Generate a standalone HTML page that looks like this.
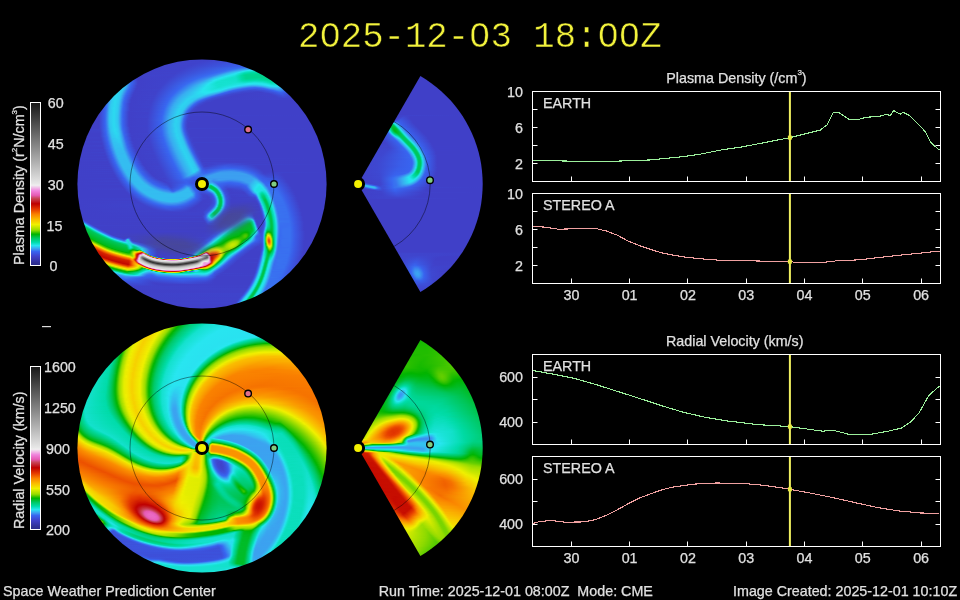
<!DOCTYPE html>
<html><head><meta charset="utf-8"><style>
html,body{margin:0;padding:0;background:#000;}
body{width:960px;height:600px;position:relative;overflow:hidden;font-family:"Liberation Sans",sans-serif;color:#e0e0e0;}
.ab{position:absolute;}
.im{position:absolute;overflow:hidden;}
.im i{display:block;height:1px;background:linear-gradient(90deg,var(--g));}
.im>b{display:block;filter:blur(0.5px);}
.cb{position:absolute;left:30px;width:9px;height:162px;border:1px solid #fff;}
#title{position:absolute;left:298px;top:19.0px;font-family:"Liberation Mono",monospace;font-size:35.65px;color:#f2f23c;white-space:pre;line-height:1;-webkit-text-stroke:0.45px #000;transform:scaleY(1.05);transform-origin:0 0;will-change:transform;}
#title i{position:absolute;background:#000;width:6px;height:5.4px;top:12.2px;}
svg text{font-family:"Liberation Sans",sans-serif;font-size:14.3px;fill:#e0e0e0;stroke:#e0e0e0;stroke-width:0.25px;}
</style></head><body>
<div class="im" style="left:76px;top:58px;width:252px;height:252px;clip-path:circle(124.6px at 126.0px 126.0px)"><b><i style="background:#4040c8"></i><i style="background:#4040c8"></i><i style="--g:#4040c8,#3f43cc 130px,#3e49d2 160px,#3e49d2 251px"></i><i style="--g:#4040c8,#3f43cb 126px,#3d4ed8 158px,#3d4ed8 251px"></i><i style="--g:#4040c8,#3f43cc 123px,#3c53dd 161px,#3c53dd 251px"></i><i style="--g:#4040c8,#3f42cb 119px,#3b58e2 164px,#3b58e2 251px"></i><i style="--g:#4040c8,#3f43cb 117px,#3a5be7 166px,#3a5be7 251px"></i><i style="--g:#4040c8,#3f42cb 114px,#3960eb 168px,#3960eb 251px"></i><i style="--g:#4040c8,#3f43cb 112px,#3863ef 169px,#3863ef 251px"></i><i style="--g:#4040c8,#3f43cb 110px,#3869f0 165px,#396ff0 176px,#396ff0 251px"></i><i style="--g:#4040c8,#3f43cb 108px,#386bf0 160px,#3a7cf0 165px,#3b95f0 173px,#3b95f0 251px"></i><i style="--g:#4040c8,#3f43cb 106px,#386af0 154px,#3976f0 158px,#3aa7f0 169px,#33bef0 175px,#33bef0 251px"></i><i style="--g:#4040c8,#3f42cb 104px,#3869f0 149px,#397af0 154px,#38aef0 164px,#33c0f0 167px,#29e4f0 172px,#22e4e5 178px,#22e4e5 251px"></i><i style="--g:#4040c8,#4042ca 102px,#3869f0 145px,#3978f0 150px,#39abf0 158px,#31c6f0 163px,#26e5ec 167px,#16e1d0 171px,#0cdfbf 178px,#0cdfbf 251px"></i><i style="--g:#4040c8,#3f43cb 101px,#3868f0 141px,#3a7cf0 147px,#36b4f0 155px,#2bdcf0 162px,#28e5f0 163px,#0adebb 169px,#00dba7 176px,#00dba5 251px"></i><i style="--g:#4040c8,#4042ca 99px,#3868f0 137px,#3a7ef0 144px,#37b3f0 151px,#29e4f0 160px,#00dcaa 168px,#00d798 175px,#00d696 251px"></i><i style="--g:#4040c8,#3f43cb 98px,#386af0 134px,#3a80f0 141px,#38aff0 147px,#2ae1f0 156px,#24e5e9 159px,#00daa4 167px,#00d593 170px,#00d48e 183px,#00d48e 251px"></i><i style="--g:#4040c8,#3f43cc 97px,#3869f0 130px,#3a81f0 138px,#37b0f0 144px,#28e5f0 153px,#1ce3db 159px,#00dba7 165px,#00d48e 169px,#00d48e 251px"></i><i style="--g:#4040c8,#4042ca 95px,#386af0 127px,#3a81f0 135px,#37b1f0 141px,#27e6ef 150px,#16e1d0 159px,#00dba5 165px,#00d48e 170px,#00d48e 251px"></i><i style="--g:#4040c8,#3f42cb 94px,#386af0 124px,#3a88f0 133px,#37b1f0 138px,#29e3f0 146px,#14e1cd 156px,#14e1cd 159px,#00dba6 165px,#00d48e 170px,#00d48e 251px"></i><i style="--g:#3f46ce,#3f46ce 60px,#4040c8 62px,#3f43cb 93px,#3869f0 121px,#3b8ef0 131px,#31c5f0 138px,#26e6ed 144px,#14e1cd 153px,#12e0c9 160px,#00daa2 166px,#00d48e 170px,#00d798 183px,#00d48e 196px,#00d48e 251px"></i><i style="--g:#3c53dd,#3c53dd 58px,#4040c8 62px,#3f43cb 92px,#386af0 119px,#3b93f0 129px,#29e4f0 140px,#14e1cd 150px,#12e1ca 160px,#00daa4 166px,#00d798 170px,#00daa2 182px,#00d593 192px,#00d490 251px"></i><i style="--g:#3a59e4,#3a59e4 57px,#4040c8 62px,#3f43cc 91px,#3866f0 116px,#3b97f0 127px,#28e5f0 138px,#14e1cd 146px,#13e1cc 160px,#00dca9 167px,#00dba6 171px,#04ddb2 181px,#00d89d 192px,#00d695 196px,#00d695 251px"></i><i style="--g:#3869f0,#3869f0 55px,#4040c8 62px,#3f43cc 90px,#3866f0 114px,#3c99f0 125px,#26e5ec 137px,#16e2d1 142px,#14e1cd 160px,#08deb7 167px,#08deb8 171px,#10e0c6 179px,#0bdfbc 187px,#00d9a0 195px,#00d9a0 251px"></i><i style="--g:#3a7bf0,#3a7bf0 54px,#3869f0 55px,#4040c8 62px,#3f43cc 89px,#386af0 113px,#3c9bf0 123px,#27e6ef 135px,#14e1cd 141px,#16e2d1 159px,#12e0c9 169px,#1ee3de 178px,#19e2d5 186px,#01dcab 195px,#00dca8 251px"></i><i style="--g:#3aa7f0,#3aa7f0 52px,#3978f0 54px,#3867f0 55px,#4040c8 62px,#3f43cc 88px,#3869f0 111px,#3ca1f0 122px,#29e4f0 133px,#15e1cf 140px,#16e2d1 155px,#1be3da 161px,#1de3dd 168px,#26e6ed 173px,#24e5e8 186px,#1de3dc 190px,#0bdfbd 195px,#09deb9 201px,#09deb9 251px"></i><i style="--g:#37b2f0,#37b2f0 51px,#3a84f0 53px,#3864ef 55px,#4040c8 62px,#3f43cc 87px,#3867f0 109px,#38aef0 122px,#28e6ef 132px,#1ae3d8 137px,#14e1cd 143px,#17e2d2 152px,#29e2f0 170px,#2dd5f0 179px,#26e6ed 189px,#22e4e5 192px,#14e1cc 196px,#14e1cd 251px"></i><i style="--g:#34bbf0,#34bbf0 50px,#3a7df0 53px,#3962ed 55px,#4040c8 61px,#3f43cb 86px,#386af0 108px,#39acf0 120px,#27e6ee 131px,#15e1ce 141px,#17e2d2 149px,#29e4f0 163px,#35b7f0 176px,#34bcf0 182px,#28e6f0 192px,#1fe4e0 198px,#21e4e4 232px,#21e4e4 251px"></i><i style="--g:#30caf0,#30caf0 48px,#32c3f0 49px,#3c9ef0 51px,#3976f0 53px,#3866f0 54px,#4040c8 61px,#3f43cb 85px,#3867f0 106px,#39a9f0 118px,#26e6ed 130px,#14e1cd 143px,#28e5f0 158px,#3b97f0 174px,#3b91f0 179px,#39a9f0 186px,#2cd9f0 194px,#2adff0 200px,#2dd3f0 204px,#2dd3f0 251px"></i><i style="--g:#30ccf0,#31c8f0 48px,#3aa8f0 50px,#3970f0 53px,#3a5de8 55px,#4040c8 61px,#3f42cb 84px,#3868f0 105px,#38adf0 117px,#27e6ee 129px,#16e1d0 142px,#28e4f0 154px,#3b92f0 167px,#3975f0 173px,#386bf0 179px,#3a7bf0 185px,#3aa8f0 191px,#34bcf0 194px,#30caf0 200px,#35b8f0 205px,#35b8f0 251px"></i><i style="--g:#2fcdf0,#30c9f0 47px,#32c2f0 48px,#3c9cf0 50px,#3868f0 53px,#4040c8 60px,#4042ca 83px,#3864f0 103px,#38aef0 116px,#28e6ef 128px,#19e2d6 139px,#20e4e2 146px,#28e6ef 150px,#3b94f0 161px,#396ef0 167px,#3961ed 171px,#3a5de8 182px,#3869f0 188px,#3a81f0 191px,#3c9af0 194px,#37b3f0 201px,#3ba5f0 206px,#3ba5f0 251px"></i><i style="--g:#2fcff0,#30cbf0 46px,#31c7f0 47px,#3aa6f0 49px,#3970f0 52px,#3863ef 53px,#4040c8 60px,#3f44cc 83px,#3865f0 102px,#39acf0 114px,#28e5f0 127px,#1de3dc 137px,#23e5e8 145px,#28e4f0 147px,#3c99f0 156px,#396df0 161px,#395ee9 166px,#3c50da 179px,#3862ee 191px,#3a81f0 196px,#3c9ef0 201px,#3b91f0 208px,#3b91f0 251px"></i><i style="--g:#2ed1f0,#2fcdf0 45px,#32c2f0 47px,#3a88f0 50px,#3869f0 52px,#4041c9 59px,#3f43cb 82px,#3866f0 101px,#38aef0 113px,#27e6ee 127px,#21e4e3 136px,#29e2f0 144px,#3aa6f0 151px,#3866f0 157px,#3e49d2 174px,#3d4ed8 187px,#3864f0 197px,#3a84f0 201px,#3b8bf0 203px,#3a7bf0 208px,#3a7bf0 251px"></i><i style="--g:#2dd3f0,#2ecff0 44px,#31c7f0 46px,#3aa6f0 48px,#3971f0 51px,#3863ef 52px,#4040c8 59px,#3f42cb 81px,#3866f0 100px,#38acf0 111px,#2fcff0 120px,#28e5f0 126px,#25e5ea 136px,#29e1f0 140px,#33c1f0 145px,#3b8cf0 150px,#3864f0 153px,#3e49d2 167px,#3f43cb 182px,#3c52dc 193px,#3864f0 200px,#3978f0 204px,#3865f0 209px,#3865f0 251px"></i><i style="--g:#2bdaf0,#2dd6f0 42px,#32c3f0 46px,#3c9bf0 48px,#3869f0 51px,#4041c9 58px,#4042ca 80px,#3866f0 99px,#38aef0 110px,#2cd7f0 121px,#29e4f0 127px,#29e3f0 135px,#34bbf0 142px,#3b94f0 146px,#3869f0 149px,#3b57e1 154px,#3f45cd 165px,#4040c8 185px,#3c54de 198px,#3864ef 204px,#3a59e4 213px,#3a59e4 251px"></i><i style="--g:#2cd8f0,#2dd5f0 42px,#30c9f0 45px,#3aa8f0 47px,#3a81f0 49px,#3863ef 51px,#4040c8 58px,#3f43cb 80px,#3866f0 98px,#38aff0 109px,#2bdbf0 122px,#29e1f0 131px,#36b4f0 139px,#3b8ff0 143px,#3864f0 146px,#3e48d0 157px,#4040c8 170px,#3f43cc 193px,#395ee9 205px,#3b54df 210px,#3c50da 216px,#3c50da 251px"></i><i style="--g:#2dd5f0,#2cd8f0 41px,#31c7f0 45px,#3ca0f0 47px,#386af0 50px,#4041c9 57px,#4042ca 79px,#3866f0 97px,#39acf0 107px,#2cd7f0 120px,#2cd9f0 129px,#3c9df0 138px,#3862ee 143px,#3e47d0 153px,#4040c8 163px,#4042ca 195px,#3b58e3 206px,#3e48d1 213px,#3e48d1 251px"></i><i style="--g:#2ed1f0,#2dd5f0 39px,#2cd7f0 41px,#30cbf0 44px,#32c1f0 45px,#3a83f0 48px,#3863ef 50px,#4040c8 57px,#3f44cc 79px,#3865f0 96px,#39acf0 106px,#2dd4f0 118px,#2cd6f0 126px,#3b97f0 135px,#3960ec 140px,#3f46cf 150px,#4040c8 160px,#3f43cc 198px,#3c52dc 207px,#3f45cd 215px,#3f45cd 251px"></i><i style="--g:#2fcef0,#2ed2f0 38px,#2bdaf0 40px,#30caf0 44px,#3aa8f0 46px,#3a7df0 48px,#3961ed 50px,#4040c8 57px,#3f42cb 78px,#3864f0 95px,#38adf0 105px,#2dd4f0 116px,#2ed2f0 124px,#3b92f0 132px,#3864f0 136px,#3e4bd4 143px,#4040c8 154px,#4042ca 199px,#3d4ed7 207px,#4041c9 216px,#4041c9 251px"></i><i style="--g:#30c9f0,#30c9f0 36px,#2cd9f0 40px,#31c8f0 44px,#3ba2f0 46px,#3a89f0 47px,#3866f0 49px,#4040c8 56px,#3f44cc 78px,#3864ef 94px,#38adf0 104px,#2dd4f0 115px,#2fcdf0 122px,#3b91f0 129px,#3863ee 133px,#3e4bd4 139px,#4040c8 150px,#3f43cb 201px,#3e49d2 208px,#4040c8 217px,#4040c8 251px"></i><i style="--g:#34bcf0,#34bcf0 35px,#30ccf0 36px,#2cd9f0 40px,#32c5f0 44px,#3c9cf0 46px,#3972f0 48px,#3863ef 49px,#4040c8 56px,#3f42cb 77px,#3868f0 94px,#38adf0 103px,#2dd4f0 113px,#30c9f0 120px,#3b92f0 126px,#3863ef 130px,#3e4ad3 136px,#4040c8 146px,#3f43cb 203px,#3f43cc 211px,#4040c8 251px"></i><i style="--g:#38acf0,#38acf0 34px,#2fccf0 36px,#2cd8f0 40px,#30ccf0 43px,#32c1f0 44px,#3a7ff0 47px,#3962ed 49px,#4040c8 55px,#3f44cc 77px,#3865f0 93px,#38acf0 102px,#2dd4f0 112px,#32c4f0 119px,#3b96f0 123px,#3867f0 127px,#3e4ad3 133px,#4040c8 142px,#3f43cc 206px,#4040c8 251px"></i><i style="--g:#38b0f0,#38b0f0 34px,#2fcdf0 36px,#2cd9f0 39px,#30cbf0 43px,#39aaf0 45px,#386af0 48px,#4040c8 55px,#4042ca 76px,#3864f0 92px,#39acf0 101px,#2dd4f0 111px,#30c9f0 117px,#3b94f0 121px,#3863ef 125px,#3e48d1 131px,#4040c8 138px,#4040c8 251px"></i><i style="--g:#3c9cf0,#3c9cf0 33px,#32c5f0 35px,#2bdaf0 39px,#30caf0 43px,#3aa6f0 45px,#3978f0 47px,#3867f0 48px,#4040c8 55px,#3f43cb 76px,#3868f0 92px,#38aff0 101px,#2dd4f0 110px,#31c6f0 116px,#3b8bf0 120px,#3862ee 123px,#3f45ce 130px,#4040c8 138px,#4040c8 251px"></i><i style="--g:#3a84f0,#3a84f0 32px,#3ca0f0 33px,#31c7f0 35px,#2bdaf0 39px,#30c9f0 43px,#3ba2f0 45px,#3a87f0 46px,#3864f0 48px,#4040c8 55px,#4042ca 75px,#3864f0 91px,#3aa8f0 99px,#2dd4f0 109px,#30caf0 114px,#37b2f0 116px,#3974f0 120px,#3863ef 121px,#3e47d0 127px,#4040c8 132px,#4040c8 251px"></i><i style="--g:#3973f0,#3973f0 31px,#3ba3f0 33px,#30c9f0 35px,#2cd9f0 39px,#31c7f0 43px,#3c9ff0 45px,#3a85f0 46px,#3863ef 48px,#4040c8 54px,#3f43cb 75px,#3869f0 91px,#38adf0 99px,#2dd4f0 108px,#30caf0 113px,#3c9ef0 116px,#386bf0 119px,#3d4ed8 123px,#4040c8 129px,#4040c8 251px"></i><i style="--g:#3864f0,#3864f0 30px,#3b8cf0 32px,#34bbf0 34px,#30cbf0 35px,#2cd9f0 39px,#32c4f0 43px,#3c9bf0 45px,#3970f0 47px,#3862ee 48px,#4040c8 54px,#3f43cc 75px,#3864f0 90px,#39abf0 98px,#2dd4f0 107px,#30c9f0 112px,#3b8bf0 116px,#3865f0 118px,#3e48d1 123px,#4040c8 128px,#4040c8 251px"></i><i style="--g:#395fea,#395fea 29px,#3866f0 30px,#3b8ff0 32px,#34bdf0 34px,#2fccf0 35px,#2cd8f0 39px,#2fccf0 42px,#32c2f0 43px,#3b98f0 45px,#396ef0 47px,#3a5ce7 49px,#4040c8 54px,#4042ca 74px,#3869f0 90px,#38aef0 98px,#2dd4f0 106px,#30c9f0 111px,#3a88f0 115px,#3863ee 117px,#3f46cf 122px,#4040c8 126px,#4040c8 251px"></i><i style="--g:#3a5ae4,#3a5ae4 28px,#3868f0 30px,#3b92f0 32px,#33bff0 34px,#2fccf0 35px,#2cd8f0 39px,#30cbf0 42px,#33c0f0 43px,#3a7ef0 46px,#3961ed 48px,#4040c8 54px,#3f43cb 74px,#3864f0 89px,#39acf0 97px,#2dd4f0 105px,#30caf0 110px,#3a87f0 114px,#3962ed 116px,#3e48d1 120px,#4040c8 124px,#4040c8 251px"></i><i style="--g:#3a5ae5,#3a5ae5 28px,#3869f0 30px,#3a7bf0 31px,#38aef0 33px,#2fcdf0 35px,#2cd9f0 38px,#30cbf0 42px,#39aaf0 44px,#386af0 47px,#4040c8 54px,#3f43cc 74px,#3867f0 89px,#3aa8f0 96px,#2dd3f0 105px,#30caf0 109px,#39acf0 111px,#3961ed 115px,#3e47d0 119px,#4040c8 122px,#4040c8 251px"></i><i style="--g:#3b55df,#3b55df 27px,#386bf0 30px,#3a7df0 31px,#38b0f0 33px,#2fcdf0 35px,#2cdaf0 38px,#30caf0 42px,#3aa8f0 44px,#397af0 46px,#3868f0 47px,#4040c8 54px,#4041ca 73px,#3863ef 88px,#39acf0 96px,#2dd4f0 104px,#30caf0 108px,#32c2f0 109px,#3a88f0 112px,#3961ec 114px,#3f47cf 118px,#4040c8 122px,#4040c8 251px"></i><i style="--g:#3d50d9,#3d50d9 26px,#3961ed 29px,#3a7ef0 31px,#37b1f0 33px,#32c4f0 34px,#2dd6f0 37px,#2cd7f0 39px,#30caf0 42px,#3aa6f0 44px,#3978f0 46px,#3867f0 47px,#4040c8 54px,#4042ca 73px,#3865f0 88px,#38aef0 96px,#2dd3f0 103px,#31c8f0 108px,#3c9ff0 110px,#3961ed 113px,#3f46cf 117px,#4040c8 121px,#4040c8 251px"></i><i style="--g:#3e4ad3,#3e4ad3 25px,#3961ed 29px,#3a80f0 31px,#37b3f0 33px,#31c5f0 34px,#2bdaf0 38px,#30caf0 42px,#3ba3f0 44px,#3a89f0 45px,#3865f0 47px,#4040c8 54px,#3f43cb 73px,#3868f0 88px,#39aaf0 95px,#2dd4f0 103px,#30caf0 107px,#3b90f0 110px,#3863ef 112px,#3f46cf 116px,#4040c8 120px,#4040c8 251px"></i><i style="--g:#3e4ad4,#3e4ad4 25px,#3862ee 29px,#3a82f0 31px,#36b5f0 33px,#31c6f0 34px,#2bdaf0 38px,#30c9f0 42px,#3ca1f0 44px,#3a87f0 45px,#3864f0 47px,#4041c9 53px,#3f44cc 73px,#3863ef 87px,#38adf0 95px,#2dd3f0 102px,#30cbf0 106px,#32c3f0 107px,#3b97f0 109px,#3867f0 111px,#3f47cf 115px,#4040c8 119px,#4040c8 251px"></i><i style="--g:#3f45ce,#3f45ce 24px,#3862ee 29px,#3a84f0 31px,#3ca0f0 32px,#31c7f0 34px,#2cdaf0 38px,#31c8f0 42px,#3ca0f0 44px,#3a86f0 45px,#3863ef 47px,#4040c8 53px,#4041ca 72px,#3864f0 87px,#38aff0 95px,#2dd4f0 102px,#30c9f0 106px,#3ca1f0 108px,#395fea 111px,#3e47d0 114px,#4040c8 117px,#4040c8 251px"></i><i style="--g:#4040c8,#4040c8 23px,#3863ee 29px,#3a86f0 31px,#35b7f0 33px,#31c8f0 34px,#2cd9f0 38px,#31c7f0 42px,#3c9ef0 44px,#3973f0 46px,#3863ef 47px,#4040c8 53px,#4042ca 72px,#3866f0 87px,#39aaf0 94px,#2dd3f0 102px,#32c4f0 106px,#3b95f0 108px,#3863ef 110px,#3f43cc 114px,#4040c8 132px,#4040c8 251px"></i><i style="--g:#4040c8,#4040c8 23px,#3863ef 29px,#3a88f0 31px,#35b8f0 33px,#30c9f0 34px,#2cd9f0 38px,#31c6f0 42px,#3c9df0 44px,#3972f0 46px,#3863ef 47px,#4040c8 53px,#3f42cb 72px,#3868f0 87px,#38acf0 94px,#2dd4f0 101px,#30caf0 105px,#3ba3f0 107px,#3971f0 109px,#395eea 110px,#3f46ce 113px,#4040c8 116px,#4040c8 251px"></i><i style="--g:#4040c8,#4040c8 23px,#3863ef 29px,#3a89f0 31px,#35b9f0 33px,#30c9f0 34px,#2cd9f0 38px,#31c5f0 42px,#3c9bf0 44px,#3971f0 46px,#3863ee 47px,#4040c8 53px,#3f43cb 72px,#3863ef 86px,#38aef0 94px,#2dd4f0 101px,#30c9f0 105px,#3c9af0 107px,#3865f0 109px,#3f42cb 113px,#4040c8 251px"></i><i style="--g:#4040c8,#4040c8 23px,#3863ef 29px,#3a89f0 31px,#35b9f0 33px,#30caf0 34px,#2cd9f0 38px,#32c5f0 42px,#3c9bf0 44px,#3971f0 46px,#3862ee 47px,#4040c8 53px,#3f43cc 72px,#3864f0 86px,#3aa8f0 93px,#2dd3f0 101px,#30cbf0 104px,#32c2f0 105px,#3b92f0 107px,#3961ec 109px,#3f46cf 112px,#4040c8 114px,#4040c8 251px"></i><i style="--g:#4040c8,#4040c8 23px,#3863ef 29px,#3b8af0 31px,#35baf0 33px,#30caf0 34px,#2cd9f0 38px,#32c4f0 42px,#3c9af0 44px,#3970f0 46px,#3862ee 47px,#4040c8 53px,#3f44cc 72px,#3865f0 86px,#39aaf0 93px,#2ed3f0 100px,#30caf0 104px,#34bcf0 105px,#3b8bf0 107px,#396ff0 108px,#3c53dd 110px,#4040c8 113px,#4040c8 251px"></i><i style="--g:#4040c8,#4040c8 23px,#3863ef 29px,#3b8af0 31px,#35baf0 33px,#30caf0 34px,#2cd9f0 38px,#32c4f0 42px,#3c9af0 44px,#3970f0 46px,#3a5ce7 48px,#4040c8 53px,#4041c9 71px,#3866f0 86px,#39acf0 93px,#2dd4f0 100px,#30c9f0 104px,#3c9df0 106px,#3866f0 108px,#3e48d1 111px,#4040c8 114px,#4040c8 251px"></i><i style="--g:#4040c8,#4040c8 23px,#3863ef 29px,#3b8af0 31px,#35baf0 33px,#30caf0 34px,#2cd9f0 38px,#32c4f0 42px,#3c9af0 44px,#3970f0 46px,#3a5ce7 48px,#4040c8 53px,#4042ca 71px,#3867f0 86px,#38adf0 93px,#2dd4f0 100px,#30c9f0 104px,#3b97f0 106px,#3862ee 108px,#3f46cf 111px,#4040c8 113px,#4040c8 251px"></i><i style="--g:#4040c8,#4040c8 23px,#3863ef 29px,#3b8af0 31px,#35baf0 33px,#30caf0 34px,#2cd9f0 38px,#32c4f0 42px,#3c9af0 44px,#3970f0 46px,#3862ee 47px,#4040c8 53px,#4042ca 71px,#3869f0 86px,#38adf0 93px,#2dd4f0 100px,#32c4f0 104px,#3b92f0 106px,#3960eb 108px,#3f45ce 111px,#4040c8 114px,#4040c8 251px"></i><i style="--g:#4040c8,#4040c8 23px,#3863ef 29px,#3a89f0 31px,#35b9f0 33px,#30caf0 34px,#2cd9f0 38px,#32c5f0 42px,#3c9bf0 44px,#3970f0 46px,#3862ee 47px,#4040c8 53px,#4042ca 71px,#3863ef 85px,#38aef0 93px,#2dd3f0 100px,#30cbf0 103px,#33c1f0 104px,#3b8ef0 106px,#395ee9 108px,#3f43cc 111px,#4040c8 125px,#4040c8 251px"></i><i style="--g:#4040c8,#4040c8 23px,#3863ef 29px,#3a88f0 31px,#35b9f0 33px,#30c9f0 34px,#2cd9f0 38px,#31c5f0 42px,#3c9cf0 44px,#3971f0 46px,#3862ee 47px,#4040c8 53px,#4042ca 71px,#3863ef 85px,#38aef0 93px,#2dd3f0 100px,#30caf0 103px,#33bef0 104px,#3b8bf0 106px,#396ff0 107px,#3c52dc 109px,#4040c8 112px,#4040c8 251px"></i><i style="--g:#4040c8,#4040c8 23px,#3863ef 29px,#3a87f0 31px,#35b8f0 33px,#30c8f0 34px,#2cdaf0 38px,#31c6f0 42px,#3c9ef0 44px,#3a83f0 45px,#3863ee 47px,#4040c8 53px,#4042ca 71px,#3863ef 85px,#38aff0 93px,#2ed2f0 99px,#30caf0 103px,#34bbf0 104px,#3ba2f0 105px,#396cf0 107px,#3c51da 109px,#4040c8 112px,#4040c8 251px"></i><i style="--g:#4040c8,#4040c8 23px,#3863ef 29px,#3a85f0 31px,#3ca0f0 32px,#31c7f0 34px,#2bdaf0 38px,#31c7f0 42px,#3ca0f0 44px,#3a84f0 45px,#3863ef 47px,#4040c8 53px,#4042ca 71px,#3863ef 85px,#3aa7f0 92px,#2ed2f0 99px,#30caf0 103px,#34baf0 104px,#3ca1f0 105px,#386af0 107px,#3e48d1 110px,#4040c8 112px,#4040c8 251px"></i><i style="--g:#4040c8,#4040c8 23px,#3862ee 29px,#3a83f0 31px,#36b5f0 33px,#31c6f0 34px,#2bdaf0 38px,#30c9f0 42px,#3ba2f0 44px,#3973f0 46px,#3863ef 47px,#4040c8 53px,#3f42cb 71px,#3863ef 85px,#3aa8f0 92px,#2ed2f0 99px,#30caf0 103px,#35baf0 104px,#3ca1f0 105px,#3869f0 107px,#3e48d1 110px,#4040c8 112px,#4040c8 251px"></i><i style="--g:#4040c8,#4040c8 23px,#3862ee 29px,#3a82f0 31px,#37b3f0 33px,#31c5f0 34px,#2cd9f0 38px,#30caf0 42px,#3ba5f0 44px,#3975f0 46px,#3864f0 47px,#4041c9 53px,#3f42cb 71px,#3863ef 85px,#3aa7f0 92px,#2ed2f0 99px,#30caf0 103px,#34bbf0 104px,#3ca1f0 105px,#386af0 107px,#3e48d1 110px,#4040c8 112px,#4040c8 251px"></i><i style="--g:#4040c8,#4040c8 23px,#3962ed 29px,#3a80f0 31px,#37b1f0 33px,#32c3f0 34px,#2cd9f0 38px,#2fccf0 42px,#3aa8f0 44px,#3977f0 46px,#3865f0 47px,#4040c8 54px,#4042ca 71px,#3863ef 85px,#38aff0 93px,#2dd3f0 100px,#30caf0 103px,#34bcf0 104px,#3ba2f0 105px,#396cf0 107px,#3c51db 109px,#4040c8 112px,#4040c8 251px"></i><i style="--g:#4040c8,#4040c8 23px,#3961ed 29px,#3a7ef0 31px,#33c1f0 34px,#2ed0f0 36px,#2cd9f0 39px,#2fcdf0 42px,#39acf0 44px,#3979f0 46px,#3867f0 47px,#4040c8 54px,#4042ca 71px,#3863ef 85px,#38aef0 93px,#2dd3f0 100px,#30cbf0 103px,#33bff0 104px,#3b8cf0 106px,#3970f0 107px,#3a5de8 108px,#3f43cb 111px,#4040c8 251px"></i><i style="--g:#4040c8,#3f43cc 24px,#386bf0 30px,#39aaf0 33px,#30cbf0 35px,#2cdaf0 39px,#2fcef0 42px,#38aff0 44px,#3a7cf0 46px,#3869f0 47px,#4040c8 54px,#4042ca 71px,#3863ef 85px,#38aef0 93px,#2dd4f0 100px,#30cbf0 103px,#32c2f0 104px,#3b90f0 106px,#395fea 108px,#3f44cd 111px,#4040c8 115px,#4040c8 251px"></i><i style="--g:#4040c8,#3f43cb 24px,#3869f0 30px,#3b8df0 32px,#34bcf0 34px,#30caf0 35px,#2bdaf0 39px,#2fcff0 42px,#36b4f0 44px,#3a82f0 46px,#396cf0 47px,#3b55e0 50px,#4040c8 54px,#4042ca 71px,#3868f0 86px,#38adf0 93px,#2dd4f0 100px,#31c7f0 104px,#3b95f0 106px,#3961ed 108px,#3f46cf 111px,#4040c8 113px,#4040c8 251px"></i><i style="--g:#4040c8,#4042ca 24px,#3867f0 30px,#3b8af0 32px,#35b9f0 34px,#30c9f0 35px,#2cd9f0 39px,#31c8f0 43px,#3ba2f0 45px,#396ff0 47px,#3a5ce7 49px,#4040c8 54px,#4042ca 71px,#3867f0 86px,#39acf0 93px,#2dd4f0 100px,#30c9f0 104px,#3c9bf0 106px,#3864f0 108px,#3e48d0 111px,#4040c8 113px,#4040c8 251px"></i><i style="--g:#4040c8,#4041c9 24px,#3864f0 30px,#3c9ef0 33px,#31c7f0 35px,#2cd9f0 40px,#30caf0 43px,#3aa6f0 45px,#3972f0 47px,#3863ef 48px,#4040c8 54px,#4041c9 71px,#3865f0 86px,#39abf0 93px,#2dd3f0 100px,#30caf0 104px,#35baf0 105px,#3a89f0 107px,#396df0 108px,#3c52dc 110px,#4040c8 113px,#4040c8 251px"></i><i style="--g:#4040c8,#4040c8 24px,#3863ef 30px,#3c99f0 33px,#32c4f0 35px,#2cd9f0 40px,#30ccf0 43px,#39aaf0 45px,#3864f0 48px,#4040c8 55px,#3f44cc 72px,#3864f0 86px,#3aa9f0 93px,#2dd3f0 101px,#30cbf0 104px,#33c1f0 105px,#3b90f0 107px,#3960eb 109px,#3f46ce 112px,#4040c8 114px,#4040c8 251px"></i><i style="--g:#4040c8,#4040c8 24px,#3862ee 30px,#3b94f0 33px,#33c0f0 35px,#2ed0f0 38px,#2dd5f0 41px,#2fcdf0 43px,#38aef0 45px,#3868f0 48px,#4040c8 55px,#3f43cb 72px,#3863ef 86px,#38aef0 94px,#2dd4f0 101px,#30c8f0 105px,#3b98f0 107px,#3863ef 109px,#3e47d0 112px,#4040c8 115px,#4040c8 251px"></i><i style="--g:#4040c8,#4040c8 24px,#3961ed 30px,#3b90f0 33px,#34bcf0 35px,#31c7f0 36px,#2dd4f0 41px,#2fcdf0 43px,#37b1f0 45px,#3a85f0 47px,#386bf0 48px,#3f44cd 54px,#4040c8 58px,#3f43cb 72px,#3863ef 86px,#38adf0 94px,#2dd4f0 101px,#30caf0 105px,#3ca0f0 107px,#396cf0 109px,#3c52dc 111px,#4040c8 114px,#4040c8 251px"></i><i style="--g:#4040c8,#4040c8 24px,#3869f0 31px,#3ca1f0 34px,#31c6f0 36px,#2dd4f0 41px,#32c4f0 44px,#3b8bf0 47px,#3972f0 48px,#3862ee 49px,#4040c8 55px,#4042ca 72px,#3867f0 87px,#39abf0 94px,#2ed2f0 101px,#30cbf0 105px,#33c0f0 106px,#3b91f0 108px,#3960ec 110px,#3f46cf 113px,#4040c8 115px,#4040c8 251px"></i><i style="--g:#4040c8,#4042ca 25px,#3866f0 31px,#3c9bf0 34px,#32c4f0 36px,#2ed2f0 41px,#31c7f0 44px,#3b91f0 47px,#3863ef 49px,#4040c8 56px,#4042ca 72px,#3864f0 87px,#3aa8f0 94px,#2dd4f0 102px,#30c9f0 106px,#3c9af0 108px,#3864f0 110px,#4042ca 114px,#4040c8 251px"></i><i style="--g:#4040c8,#4041c9 25px,#3863ef 31px,#38acf0 35px,#33bff0 36px,#2ed0f0 42px,#30c9f0 44px,#3b96f0 47px,#3866f0 49px,#4040c8 56px,#3f44cc 73px,#3863ef 87px,#38adf0 95px,#2dd4f0 102px,#30caf0 106px,#3ba3f0 108px,#3970f0 110px,#395ee9 111px,#3f45cd 114px,#4040c8 117px,#4040c8 251px"></i><i style="--g:#4040c8,#4040c8 25px,#3862ee 31px,#3aa6f0 35px,#34baf0 36px,#31c7f0 38px,#2fccf0 43px,#30c9f0 44px,#38adf0 46px,#396df0 49px,#3a5be6 51px,#4040c8 56px,#3f43cb 73px,#3868f0 88px,#39abf0 95px,#2dd3f0 103px,#32c3f0 107px,#3b94f0 109px,#3862ee 111px,#3e47d0 114px,#4040c8 117px,#4040c8 251px"></i><i style="--g:#4040c8,#4040c8 25px,#3961ed 31px,#3a7df0 33px,#3ca0f0 35px,#32c3f0 37px,#30ccf0 43px,#33c0f0 45px,#3b8af0 48px,#3862ee 50px,#4040c8 56px,#3f42cb 73px,#3865f0 88px,#3aa8f0 95px,#2dd4f0 103px,#30c9f0 107px,#3c9ef0 109px,#386af0 111px,#3e49d2 114px,#4040c8 117px,#4040c8 251px"></i><i style="--g:#4040c8,#3f43cb 26px,#3868f0 32px,#38b0f0 36px,#32c1f0 37px,#30cbf0 43px,#32c3f0 45px,#3b8ff0 48px,#3864f0 50px,#4040c8 57px,#4042ca 73px,#3864f0 88px,#38adf0 96px,#2dd3f0 103px,#30caf0 107px,#33bff0 108px,#3b90f0 110px,#3960ec 112px,#3f46cf 115px,#4040c8 117px,#4040c8 251px"></i><i style="--g:#4040c8,#4042ca 26px,#3864f0 32px,#39aaf0 36px,#34bdf0 37px,#30caf0 43px,#31c6f0 45px,#3b94f0 48px,#386af0 50px,#3e49d3 55px,#4040c8 58px,#3f44cc 74px,#3868f0 89px,#39aaf0 96px,#2dd4f0 104px,#30c8f0 108px,#3c99f0 110px,#3865f0 112px,#3f42cb 116px,#4040c8 251px"></i><i style="--g:#4040c8,#4040c8 26px,#3862ee 32px,#3ba4f0 36px,#35b7f0 37px,#33c1f0 38px,#31c5f0 45px,#39aaf0 47px,#3962ed 51px,#4040c8 57px,#3f43cb 74px,#3865f0 89px,#38aef0 97px,#2dd4f0 104px,#30caf0 108px,#3ba3f0 110px,#3971f0 112px,#395eea 113px,#3f45ce 116px,#4040c8 119px,#4040c8 251px"></i><i style="--g:#4040c8,#4040c8 26px,#3961ed 32px,#3a7df0 34px,#3c9ff0 36px,#33c0f0 38px,#32c4f0 45px,#34bdf0 46px,#3a89f0 49px,#3863ef 51px,#4040c8 58px,#4042ca 74px,#3863ef 89px,#39acf0 97px,#2dd3f0 105px,#32c4f0 109px,#3b95f0 111px,#3863ee 113px,#3e48d0 116px,#4040c8 119px,#4040c8 251px"></i><i style="--g:#4040c8,#3f43cb 27px,#3867f0 33px,#39acf0 37px,#33bef0 38px,#32c3f0 45px,#33c1f0 46px,#3b8ef0 49px,#3868f0 51px,#4040c8 58px,#3f44cc 75px,#3867f0 90px,#3aa9f0 97px,#2dd4f0 105px,#30c9f0 109px,#3c9ff0 111px,#396df0 113px,#3c53dd 115px,#4040c8 118px,#4040c8 251px"></i><i style="--g:#4040c8,#4042ca 27px,#3863ef 33px,#3aa6f0 37px,#35b9f0 38px,#33c1f0 40px,#33c1f0 46px,#3b92f0 49px,#3961ed 52px,#4040c8 58px,#3f43cb 75px,#3864f0 90px,#38adf0 98px,#2dd3f0 105px,#30cbf0 109px,#33c0f0 110px,#3b92f0 112px,#3961ed 114px,#3e47d0 117px,#4040c8 120px,#4040c8 251px"></i><i style="--g:#4040c8,#4040c8 27px,#3962ed 33px,#3ca1f0 37px,#33bff0 39px,#33c0f0 46px,#35b9f0 47px,#3a85f0 50px,#3863ef 52px,#4040c8 59px,#4042ca 75px,#3869f0 91px,#39aaf0 98px,#2dd4f0 106px,#30c9f0 110px,#3c9cf0 112px,#3869f0 114px,#3e49d3 117px,#4040c8 120px,#4040c8 251px"></i><i style="--g:#4040c8,#4040c8 27px,#3869f0 34px,#38adf0 38px,#33bef0 39px,#34bdf0 47px,#3b8af0 50px,#3868f0 52px,#4040c8 59px,#3f44cc 76px,#3865f0 91px,#38aef0 99px,#2dd4f0 106px,#30caf0 110px,#33bef0 111px,#3b90f0 113px,#3960ec 115px,#3e47d0 118px,#4040c8 121px,#4040c8 251px"></i><i style="--g:#4040c8,#3f42cb 28px,#3864f0 34px,#3aa7f0 38px,#35b8f0 39px,#33bff0 42px,#34bdf0 47px,#3b90f0 50px,#3862ee 53px,#4040c8 60px,#3f43cb 76px,#3863ef 91px,#39acf0 99px,#2dd3f0 107px,#30c8f0 111px,#3c9bf0 113px,#3868f0 115px,#3e49d2 118px,#4040c8 121px,#4040c8 251px"></i><i style="--g:#4040c8,#4041c9 28px,#3862ee 34px,#3ca1f0 38px,#34bef0 40px,#34bdf0 47px,#35b7f0 48px,#3a85f0 51px,#3864f0 53px,#4040c8 60px,#4042ca 76px,#3867f0 92px,#3aa8f0 99px,#2dd4f0 107px,#30caf0 111px,#34bcf0 112px,#3b8ff0 114px,#3960ec 116px,#3f47cf 119px,#4040c8 122px,#4040c8 251px"></i><i style="--g:#4040c8,#4040c8 28px,#3869f0 35px,#38acf0 39px,#34bdf0 40px,#34bdf0 48px,#3b8cf0 51px,#386bf0 53px,#4040c8 60px,#3f43cc 77px,#3864f0 92px,#38adf0 100px,#2dd3f0 108px,#31c7f0 112px,#3c9af0 114px,#3867f0 116px,#3f44cc 120px,#4040c8 128px,#4040c8 251px"></i><i style="--g:#4040c8,#3f43cb 29px,#3864f0 35px,#3aa6f0 39px,#35b7f0 40px,#34bdf0 42px,#34bdf0 48px,#3ba3f0 50px,#3863ef 54px,#4040c8 61px,#4042ca 77px,#3869f0 93px,#39a9f0 100px,#2dd4f0 108px,#30caf0 112px,#34bcf0 113px,#3b8ef0 115px,#3960ec 117px,#3e47d0 120px,#4040c8 123px,#4040c8 251px"></i><i style="--g:#4040c8,#4041c9 29px,#3862ee 35px,#3ca0f0 39px,#34bdf0 41px,#35baf0 49px,#3a89f0 52px,#3868f0 54px,#4040c8 61px,#3f44cc 78px,#3865f0 93px,#38adf0 101px,#2dd3f0 109px,#31c7f0 113px,#3c9af0 115px,#3868f0 117px,#3e49d3 120px,#4040c8 123px,#4040c8 251px"></i><i style="--g:#4040c8,#4040c8 29px,#3868f0 36px,#39abf0 40px,#34bbf0 41px,#34bdf0 49px,#3b8ff0 52px,#3862ee 55px,#4040c8 62px,#3f43cb 78px,#3863ef 93px,#39aaf0 101px,#2dd4f0 109px,#30caf0 113px,#34bcf0 114px,#3b8ff0 116px,#3960ec 118px,#3e47d0 121px,#4040c8 124px,#4040c8 251px"></i><i style="--g:#4040c8,#3f42cb 30px,#3863ef 36px,#3ba4f0 40px,#34bdf0 42px,#34bdf0 49px,#35b7f0 50px,#3a86f0 53px,#3866f0 55px,#4040c8 62px,#4042ca 78px,#3866f0 94px,#38adf0 102px,#2dd3f0 110px,#31c7f0 114px,#3c9bf0 116px,#3869f0 118px,#3e4ad3 121px,#4040c8 124px,#4040c8 251px"></i><i style="--g:#4040c8,#4040c8 30px,#3961ed 36px,#3b8df0 39px,#34bdf0 42px,#34bdf0 50px,#3b8ef0 53px,#3962ed 56px,#4040c8 63px,#3f43cb 79px,#3863ef 94px,#39aaf0 102px,#2dd4f0 110px,#30caf0 114px,#34bdf0 115px,#3b90f0 117px,#3961ed 119px,#3e47d0 122px,#4040c8 125px,#4040c8 251px"></i><i style="--g:#4040c8,#4040c8 30px,#3866f0 37px,#3aa8f0 41px,#35b8f0 42px,#34bdf0 46px,#34bdf0 50px,#3ba5f0 52px,#3865f0 56px,#4040c8 63px,#4042ca 79px,#3867f0 95px,#38aef0 103px,#2dd3f0 111px,#30c8f0 115px,#3c9cf0 117px,#386af0 119px,#3e4ad3 122px,#4040c8 125px,#4040c8 251px"></i><i style="--g:#4040c8,#4042ca 31px,#3862ee 37px,#3ca1f0 41px,#34bdf0 43px,#34bcf0 51px,#3b8cf0 54px,#3962ed 57px,#4040c8 64px,#3f44cc 80px,#3864f0 95px,#39abf0 103px,#2dd4f0 111px,#30caf0 115px,#34bef0 116px,#3b91f0 118px,#3961ed 120px,#4042ca 124px,#4040c8 251px"></i><i style="--g:#4040c8,#4040c8 31px,#3869f0 38px,#39aaf0 42px,#34baf0 43px,#34bdf0 51px,#3ba4f0 53px,#3864f0 57px,#4040c8 64px,#3f42cb 80px,#3867f0 96px,#38aef0 104px,#2dd3f0 112px,#30c9f0 116px,#3c9df0 118px,#396cf0 120px,#3e4ad4 123px,#4040c8 126px,#4040c8 251px"></i><i style="--g:#4040c8,#3f43cb 32px,#3863ef 38px,#3ba3f0 42px,#34bdf0 44px,#34bcf0 52px,#3b8cf0 55px,#3962ed 58px,#4040c8 65px,#3f44cc 81px,#3864f0 96px,#39aaf0 104px,#2dd4f0 112px,#30caf0 116px,#33bff0 117px,#3b92f0 119px,#3862ee 121px,#4042ca 125px,#4040c8 251px"></i><i style="--g:#4040c8,#4041c9 32px,#3961ed 38px,#3a7bf0 40px,#39acf0 43px,#34bcf0 44px,#34bdf0 52px,#3ba4f0 54px,#3865f0 58px,#4040c8 66px,#3f43cb 81px,#3867f0 97px,#38adf0 105px,#2dd3f0 113px,#30c9f0 117px,#3c9ef0 119px,#396ef0 121px,#3c54de 123px,#4040c8 126px,#4040c8 251px"></i><i style="--g:#4040c8,#4040c8 32px,#3864f0 39px,#3ba5f0 43px,#34bdf0 45px,#34bcf0 53px,#3b8df0 56px,#3862ee 59px,#4040c8 66px,#3f44cc 82px,#3864f0 97px,#39aaf0 105px,#2dd4f0 113px,#30caf0 117px,#33c1f0 118px,#3b94f0 120px,#3863ef 122px,#3f43cb 126px,#3f43cc 146px,#4041c9 164px,#4040c8 251px"></i><i style="--g:#4040c8,#4041ca 33px,#3962ed 39px,#38adf0 44px,#34bdf0 45px,#34bdf0 53px,#3ba5f0 55px,#3867f0 59px,#4040c8 67px,#3f43cb 82px,#3867f0 98px,#38adf0 106px,#2dd4f0 114px,#30c9f0 118px,#3ca0f0 120px,#3970f0 122px,#395eea 123px,#3f46cf 126px,#4040c8 129px,#3f45ce 142px,#3e49d2 160px,#4040c8 175px,#4040c8 251px"></i><i style="--g:#4040c8,#4040c8 33px,#3865f0 40px,#3ba5f0 44px,#34bdf0 46px,#34bdf0 54px,#3b8ff0 57px,#3863ef 60px,#4040c8 67px,#4042ca 82px,#3864f0 98px,#39aaf0 106px,#2dd4f0 114px,#30cbf0 118px,#32c2f0 119px,#3b96f0 121px,#3864ef 123px,#3f43cc 127px,#3f42cb 136px,#3c50da 153px,#3f43cc 171px,#4040c8 251px"></i><i style="--g:#4040c8,#4042ca 34px,#3862ee 40px,#38adf0 45px,#34bdf0 46px,#34bdf0 54px,#36b6f0 55px,#3979f0 59px,#3961ed 61px,#4040c8 68px,#3f43cb 83px,#3867f0 99px,#38adf0 107px,#2dd4f0 115px,#30c9f0 119px,#3ca2f0 121px,#395feb 124px,#3f47cf 127px,#4040c8 130px,#3b55df 150px,#3d4ed7 167px,#4040c8 179px,#4040c8 251px"></i><i style="--g:#4040c8,#4040c8 34px,#3866f0 41px,#3ba5f0 45px,#34bdf0 47px,#34bdf0 55px,#3b91f0 58px,#3864f0 61px,#4040c8 69px,#3f44cd 84px,#3864ef 99px,#39a9f0 107px,#2dd3f0 115px,#32c4f0 120px,#3b98f0 122px,#3866f0 124px,#3f44cd 128px,#4042ca 130px,#3a5ae4 148px,#3b55df 165px,#4040c8 181px,#4040c8 251px"></i><i style="--g:#4040c8,#3f42cb 35px,#3862ee 41px,#39acf0 46px,#34bcf0 47px,#34bdf0 55px,#35b9f0 56px,#3b8cf0 59px,#3862ee 62px,#4040c8 70px,#3f43cb 84px,#3866f0 100px,#38adf0 108px,#2dd4f0 116px,#30caf0 120px,#3ba4f0 122px,#3961ec 125px,#3e4ad3 128px,#3e4bd4 132px,#395feb 149px,#3a59e4 166px,#4040c8 182px,#4040c8 251px"></i><i style="--g:#4040c8,#4040c8 35px,#3865f0 42px,#3ba4f0 46px,#34bdf0 48px,#34bdf0 56px,#3a86f0 60px,#3868f0 62px,#4040c8 70px,#3f44cd 85px,#3863ef 100px,#3aa8f0 108px,#2dd3f0 116px,#31c6f0 121px,#3c9bf0 123px,#386af0 125px,#3b55e0 127px,#3d4cd6 130px,#3865f0 148px,#3866f0 158px,#3c52dc 174px,#4040c8 183px,#4040c8 251px"></i><i style="--g:#4040c8,#3f43cb 36px,#3962ed 42px,#39abf0 47px,#35baf0 48px,#34bcf0 57px,#3b90f0 60px,#3864f0 63px,#4040c8 71px,#3f43cb 85px,#3866f0 101px,#39acf0 109px,#2dd4f0 117px,#30caf0 121px,#34bcf0 122px,#3a89f0 124px,#3960ec 126px,#3c53dd 129px,#396df0 144px,#3979f0 154px,#386af0 164px,#3d4ed8 178px,#4040c8 185px,#4040c8 251px"></i><i style="--g:#4040c8,#4040c8 36px,#3864f0 43px,#3ba2f0 47px,#34bdf0 49px,#34bdf0 57px,#35b7f0 58px,#3b8bf0 61px,#3862ee 64px,#4040c8 72px,#3f44cc 86px,#3863ef 101px,#3aa8f0 109px,#2ed2f0 117px,#30c9f0 121px,#34baf0 122px,#3c9ef0 123px,#3972f0 125px,#3863ef 126px,#3b58e3 130px,#386af0 139px,#3a85f0 148px,#3a87f0 158px,#386bf0 168px,#3d4ed8 180px,#4040c8 186px,#4040c8 251px"></i><i style="--g:#4040c8,#3f42cb 37px,#386bf0 44px,#3aa8f0 48px,#35b8f0 49px,#34bdf0 52px,#34bdf0 58px,#3a87f0 62px,#386af0 64px,#4040c8 73px,#3f43cb 86px,#3865f0 102px,#39acf0 110px,#2dd4f0 118px,#2ed2f0 119px,#3b96f0 123px,#3867f0 126px,#3a5de8 130px,#386af0 136px,#3b8ff0 145px,#3c99f0 155px,#3a86f0 165px,#395fea 175px,#4040c8 187px,#4040c8 199px,#4040c8 251px"></i><i style="--g:#4040c8,#4040c8 37px,#3863ef 44px,#3c9ff0 48px,#34bdf0 50px,#34bcf0 59px,#3b91f0 62px,#3866f0 65px,#4040c8 74px,#3f44cc 87px,#3869f0 103px,#38aef0 111px,#2fcef0 118px,#3b95f0 122px,#386af0 126px,#3962ed 130px,#3869f0 133px,#3c9cf0 144px,#3c9df0 163px,#3971f0 173px,#395feb 177px,#4040c8 188px,#3f43cc 198px,#4040c8 251px"></i><i style="--g:#4040c8,#4042ca 38px,#3868f0 45px,#3ba5f0 49px,#34bdf0 51px,#34bdf0 59px,#35b8f0 60px,#3b8df0 63px,#3864f0 66px,#4040c8 75px,#3f43cb 87px,#3864f0 103px,#37b0f0 112px,#32c5f0 116px,#3c9cf0 120px,#397af0 124px,#3868f0 128px,#3973f0 132px,#3ca0f0 141px,#3c9ef0 167px,#386bf0 176px,#4042ca 188px,#3f45ce 198px,#4040c8 208px,#4040c8 251px"></i><i style="--g:#4040c8,#4040c8 38px,#3863ee 45px,#39abf0 50px,#35baf0 51px,#34bdf0 60px,#3b8af0 64px,#3863ef 67px,#4040c8 76px,#3f44cc 88px,#3868f0 104px,#38adf0 112px,#35b8f0 114px,#38adf0 116px,#3a7cf0 122px,#3972f0 128px,#3b8df0 134px,#3ca0f0 138px,#3ca0f0 170px,#3960ec 180px,#3f45cd 189px,#3e48d1 198px,#4040c8 207px,#4040c8 251px"></i><i style="--g:#4040c8,#4041c9 39px,#3865f0 46px,#3ca1f0 50px,#34bdf0 52px,#34bdf0 61px,#3b95f0 64px,#3862ee 68px,#4040c8 77px,#3f43cb 88px,#3864f0 104px,#39aaf0 112px,#38adf0 113px,#3a7bf0 120px,#3973f0 124px,#3b8cf0 131px,#3ca0f0 135px,#3c9df0 173px,#3961ed 181px,#3e49d2 190px,#3e48d1 200px,#4040c8 207px,#4040c8 251px"></i><i style="--g:#4040c8,#4040c8 39px,#3961ed 46px,#3a89f0 49px,#36b5f0 52px,#34bdf0 53px,#34bbf0 62px,#3b93f0 65px,#3862ee 69px,#4040c8 78px,#3f44cc 89px,#3867f0 105px,#3c9cf0 111px,#3b90f0 114px,#3972f0 118px,#396ef0 123px,#3ca0f0 132px,#3c9ef0 175px,#3862ee 182px,#3d4cd6 191px,#3e4bd4 200px,#4040c8 208px,#4040c8 251px"></i><i style="--g:#4040c8,#4040c8 40px,#3863ef 47px,#39abf0 52px,#35b9f0 53px,#34bdf0 62px,#35b9f0 63px,#3b91f0 66px,#3962ed 70px,#4040c8 80px,#3f45cd 90px,#3864f0 105px,#3a85f0 109px,#3a84f0 113px,#3864f0 117px,#3866f0 122px,#3a7cf0 125px,#3c9bf0 128px,#3ca0f0 132px,#3ca0f0 176px,#3b8df0 179px,#3862ee 183px,#3c50da 192px,#3d4bd5 201px,#4040c8 209px,#4040c8 251px"></i><i style="--g:#4040c8,#3f42cb 41px,#3866f0 48px,#3ca1f0 52px,#34bdf0 54px,#34bdf0 63px,#39aaf0 65px,#386af0 70px,#4042ca 80px,#4041c9 89px,#3866f0 106px,#3975f0 108px,#3971f0 113px,#3961ed 116px,#3961ec 121px,#3869f0 123px,#3c9ff0 127px,#3c9bf0 137px,#3ca0f0 168px,#3ba4f0 177px,#3aa7f0 178px,#3a89f0 181px,#386bf0 183px,#395de9 186px,#3b55df 196px,#4040c8 209px,#4040c8 251px"></i><i style="--g:#4040c8,#4040c8 41px,#386bf0 49px,#3ba5f0 53px,#34bdf0 55px,#34bdf0 64px,#3c9cf0 67px,#3862ee 72px,#4040c8 83px,#3f44cd 91px,#3866f0 108px,#3867f0 112px,#3a59e4 119px,#3962ed 122px,#3c9bf0 126px,#3ca0f0 130px,#3ca0f0 135px,#3b92f0 138px,#3ca0f0 143px,#3b97f0 156px,#3ca0f0 165px,#3ba3f0 176px,#38aff0 179px,#3c9ef0 181px,#386bf0 184px,#395fea 187px,#3c50da 201px,#4040c8 210px,#4040c8 251px"></i><i style="--g:#4040c8,#4041c9 42px,#3863ef 49px,#3aa8f0 54px,#34bdf0 56px,#34bdf0 65px,#3b90f0 69px,#3863ef 73px,#4040c8 85px,#3e47d0 93px,#3961ed 108px,#395ee9 114px,#3b55e0 119px,#3862ee 122px,#3c9ff0 126px,#3ca0f0 134px,#3b8cf0 137px,#3b98f0 143px,#3a86f0 152px,#3b8ff0 161px,#3ca0f0 167px,#3ba2f0 175px,#35b8f0 179px,#37b3f0 181px,#3a83f0 184px,#396cf0 185px,#3962ed 187px,#3b55df 200px,#4040c8 211px,#4040c8 251px"></i><i style="--g:#4040c8,#3f43cb 43px,#3865f0 50px,#39acf0 55px,#35baf0 56px,#34bdf0 66px,#3b91f0 70px,#3865f0 74px,#4040c8 88px,#3960ec 110px,#3b55df 119px,#3862ee 122px,#3c9ff0 126px,#3c9cf0 135px,#3a86f0 137px,#3a80f0 146px,#3976f0 155px,#3a89f0 164px,#3ca0f0 170px,#3ca1f0 174px,#32c4f0 180px,#35b9f0 182px,#3a89f0 185px,#3971f0 186px,#3864f0 187px,#3a59e4 199px,#4040c8 211px,#4040c8 251px"></i><i style="--g:#4040c8,#4040c8 43px,#3868f0 51px,#38aef0 56px,#34bcf0 57px,#34bdf0 67px,#3b94f0 71px,#3862ee 76px,#4041c9 90px,#3960ec 111px,#3c54de 117px,#3a5ce7 121px,#396cf0 123px,#3c9bf0 126px,#3ca0f0 130px,#3ba3f0 136px,#3a7bf0 139px,#3865f0 154px,#3976f0 163px,#3c9ff0 171px,#3aa6f0 174px,#30cbf0 180px,#30caf0 182px,#36b5f0 184px,#3b8ef0 186px,#3975f0 187px,#3866f0 188px,#3960ec 197px,#4040c8 212px,#4040c8 251px"></i><i style="--g:#4040c8,#4041c9 44px,#3862ee 51px,#37b0f0 57px,#34bdf0 58px,#34bdf0 68px,#3ca1f0 71px,#3865f0 77px,#3f43cb 92px,#3862ee 111px,#3b57e1 117px,#3960ec 122px,#3977f0 124px,#3c9ff0 127px,#3ca0f0 132px,#37b1f0 133px,#34bcf0 136px,#3b8df0 139px,#396df0 141px,#395feb 151px,#3866f0 163px,#3b91f0 171px,#35b8f0 176px,#2cd8f0 182px,#2dd6f0 183px,#34bcf0 185px,#3b90f0 187px,#3977f0 188px,#3868f0 189px,#3865f0 192px,#3869f0 195px,#4040c8 213px,#4040c8 251px"></i><i style="--g:#4040c8,#3f42cb 45px,#3863ef 52px,#3ba5f0 57px,#34bdf0 59px,#35baf0 70px,#3a87f0 75px,#3864f0 79px,#3f44cc 93px,#3864f0 109px,#3869f0 111px,#3a5ae5 118px,#395eea 122px,#396ff0 124px,#3c9bf0 128px,#3c9ff0 130px,#3c9bf0 131px,#3aa6f0 132px,#22e4e5 133px,#0ddfc1 134px,#16e1d0 135px,#2bdaf0 136px,#3b92f0 140px,#3867f0 142px,#3a5ae5 152px,#3864f0 166px,#3a83f0 171px,#36b6f0 175px,#29e2f0 182px,#29e1f0 184px,#33bef0 186px,#3b90f0 188px,#3975f0 189px,#3866f0 190px,#3971f0 194px,#3a5ce7 201px,#4040c8 214px,#4040c8 251px"></i><i style="--g:#4040c8,#4040c8 45px,#3864f0 53px,#3aa6f0 58px,#34bdf0 60px,#34bdf0 71px,#3b96f0 75px,#3864f0 81px,#3d4dd7 91px,#3f44cc 94px,#3961ed 107px,#3971f0 109px,#3a7cf0 110px,#3973f0 113px,#3961ed 116px,#3a5be6 121px,#3865f0 124px,#3b8cf0 128px,#3b8cf0 131px,#2ed2f0 132px,#03ddaf 133px,#00cd75 134px,#00c865 135px,#00d696 136px,#1ae2d7 137px,#2ed2f0 138px,#3b97f0 141px,#3864f0 143px,#3b55df 151px,#3a5de8 165px,#3866f0 169px,#3976f0 171px,#3aa8f0 174px,#33c1f0 176px,#28e6ef 182px,#24e5e8 184px,#28e6f0 185px,#3ba3f0 188px,#396ef0 190px,#3868f0 191px,#3971f0 194px,#395eea 201px,#4040c8 214px,#4040c8 251px"></i><i style="--g:#4040c8,#4040c8 46px,#3865f0 54px,#3aa7f0 59px,#34bdf0 61px,#34bdf0 72px,#3b8bf0 78px,#3865f0 83px,#3b56e0 91px,#3f45cd 94px,#3862ee 106px,#3b94f0 111px,#3977f0 115px,#3866f0 116px,#3a5be6 120px,#3961ed 124px,#3a7ff0 129px,#3a7ff0 130px,#3ba2f0 131px,#16e2d1 132px,#00d38b 133px,#00c556 134px,#00c451 136px,#00cb6f 137px,#00dba8 138px,#26e5ec 139px,#3c9af0 142px,#3862ee 144px,#3c50da 150px,#3b56e1 164px,#3862ee 170px,#3a80f0 172px,#36b4f0 175px,#30cbf0 177px,#28e5f0 181px,#21e4e4 184px,#28e5f0 186px,#3c9cf0 189px,#396ff0 191px,#396ef0 197px,#3a59e4 204px,#4040c8 215px,#4040c8 251px"></i><i style="--g:#4040c8,#4041c9 47px,#3867f0 55px,#3aa8f0 60px,#34bdf0 62px,#34bdf0 74px,#3b92f0 79px,#3864f0 86px,#3b57e2 92px,#3e47d0 95px,#3864f0 105px,#3aa6f0 111px,#3ca0f0 113px,#3863ef 117px,#3a5be6 123px,#396cf0 128px,#3971f0 130px,#3c9af0 131px,#20e4e2 132px,#00cf7b 133px,#00c450 134px,#00c450 137px,#00c557 138px,#00d185 139px,#13e1cc 140px,#2ecff0 141px,#3c9af0 143px,#395fea 145px,#3d4bd5 150px,#3c50da 163px,#395fea 170px,#3864f0 171px,#3c9ef0 174px,#2fcef0 177px,#29e4f0 180px,#21e4e4 183px,#24e5e9 186px,#2ae1f0 187px,#3c99f0 190px,#3971f0 192px,#396ef0 198px,#3b59e3 205px,#4040c8 216px,#4040c8 251px"></i><i style="--g:#4040c8,#4042ca 48px,#3868f0 56px,#3aa7f0 61px,#34bdf0 63px,#34bbf0 76px,#3b8cf0 82px,#3866f0 89px,#3961ed 92px,#3d4dd6 95px,#3962ed 103px,#39abf0 110px,#34bdf0 112px,#3b8df0 115px,#3862ee 118px,#3a59e4 124px,#3862ee 129px,#3970f0 130px,#3b8ef0 131px,#35b9f0 132px,#10e0c6 133px,#00d389 134px,#00c75e 135px,#00c450 136px,#00c450 139px,#00cb70 140px,#09deb9 141px,#2ed2f0 142px,#3b94f0 144px,#396df0 145px,#3a59e4 146px,#3f44cd 152px,#3d4ed7 165px,#395fea 171px,#3867f0 172px,#39aaf0 175px,#2fcef0 177px,#29e2f0 179px,#21e4e4 182px,#21e4e4 186px,#25e5eb 187px,#2bdbf0 188px,#3b95f0 191px,#3a7df0 192px,#3971f0 193px,#396ef0 199px,#3b58e3 206px,#4040c8 216px,#4040c8 251px"></i><i style="--g:#4040c8,#3f43cb 49px,#3869f0 57px,#3aa6f0 62px,#34bdf0 64px,#35baf0 78px,#3b8af0 85px,#396df0 92px,#3863ef 93px,#3c52dc 96px,#3869f0 102px,#3b95f0 106px,#35b9f0 110px,#35baf0 113px,#3a88f0 116px,#3867f0 118px,#3b58e2 123px,#395eea 129px,#3869f0 130px,#3a84f0 131px,#38acf0 132px,#29e3f0 134px,#08deb8 135px,#00cf7b 136px,#00c553 137px,#00c450 140px,#00c968 141px,#09deb9 142px,#2fcff0 143px,#3a88f0 145px,#3961ed 146px,#3c53dd 147px,#4040c8 152px,#3e49d2 165px,#3a59e4 171px,#396cf0 173px,#3c9df0 175px,#2fccf0 177px,#26e6ed 179px,#21e4e4 181px,#21e4e4 187px,#26e5ec 188px,#2cd9f0 189px,#3aa5f0 191px,#3973f0 193px,#396df0 200px,#3a5ae5 206px,#4040c8 217px,#4040c8 251px"></i><i style="--g:#4040c8,#4040c8 49px,#3869f0 58px,#38b0f0 64px,#34bbf0 65px,#34bbf0 80px,#3b91f0 87px,#3a7df0 93px,#386af0 94px,#3a5ce7 96px,#3862ee 99px,#3b96f0 104px,#34bdf0 109px,#34bdf0 113px,#3ba4f0 115px,#3863ef 119px,#3c53dd 125px,#395fea 130px,#3971f0 131px,#3b92f0 132px,#2fccf0 135px,#23e5e7 136px,#00d89c 137px,#00c863 138px,#00c450 139px,#00c450 141px,#00cb6f 142px,#13e1cb 143px,#31c6f0 144px,#3ca1f0 145px,#3977f0 146px,#3a5ae5 147px,#3d4cd5 149px,#4040c8 153px,#3f44cc 165px,#3a59e4 172px,#3961ec 173px,#3b8cf0 175px,#33bef0 177px,#26e6ed 179px,#21e4e4 180px,#1fe4e0 186px,#1ee3de 188px,#23e5e7 189px,#2dd4f0 190px,#3c9bf0 192px,#3a82f0 193px,#3971f0 194px,#396df0 201px,#3b56e1 208px,#4040c8 217px,#4040c8 251px"></i><i style="--g:#4040c8,#4040c8 50px,#3868f0 59px,#38adf0 65px,#34bdf0 67px,#34bdf0 82px,#3b96f0 90px,#3b8af0 94px,#3977f0 95px,#3866f0 97px,#396df0 98px,#3b94f0 101px,#34bdf0 107px,#34bdf0 114px,#3b8ef0 117px,#3961ed 120px,#3c50da 125px,#3b58e2 130px,#3868f0 132px,#39a9f0 135px,#2cd9f0 137px,#07deb6 138px,#00c969 139px,#00c450 140px,#00c450 142px,#00d184 143px,#26e6ed 144px,#35baf0 145px,#3b91f0 146px,#3863ef 147px,#3c52dc 148px,#4040c8 153px,#3f43cb 167px,#3a59e4 173px,#3961ed 174px,#3b92f0 176px,#2adef0 179px,#21e4e4 181px,#21e4e4 183px,#11e0c8 186px,#1be3da 189px,#26e5ec 190px,#39aaf0 192px,#3976f0 194px,#3971f0 199px,#386bf0 202px,#3e47d0 214px,#4040c8 219px,#4040c8 251px"></i><i style="--g:#4040c8,#4040c8 51px,#3867f0 60px,#39a9f0 66px,#34bdf0 68px,#34bdf0 85px,#3ca1f0 93px,#3b96f0 95px,#3b8bf0 96px,#3b90f0 98px,#3ba5f0 100px,#34bdf0 105px,#34baf0 115px,#3a89f0 118px,#3865f0 120px,#3d4ed7 125px,#3c51da 129px,#3a5ce8 133px,#3866f0 134px,#3c99f0 136px,#2ed1f0 138px,#08deb7 139px,#00c863 140px,#00c450 141px,#00c557 143px,#00dca9 144px,#2fcff0 145px,#3aa9f0 146px,#3a7cf0 147px,#3a5be6 148px,#3d4cd5 150px,#4040c8 154px,#4041c9 168px,#3961ed 175px,#3b98f0 177px,#31c7f0 179px,#26e5ed 181px,#1ce3da 183px,#09deba 185px,#03ddb0 186px,#05ddb3 187px,#11e0c8 188px,#13e1cc 189px,#1be3d9 190px,#2ae0f0 191px,#35b7f0 192px,#3c9ef0 193px,#3971f0 195px,#396ff0 202px,#3a5ae4 208px,#4040c8 218px,#4040c8 251px"></i><i style="--g:#4040c8,#4040c8 52px,#3865f0 61px,#38aff0 68px,#34bdf0 70px,#35b9f0 90px,#37b1f0 95px,#39abf0 97px,#34bdf0 102px,#34bdf0 115px,#36b5f0 116px,#3b94f0 118px,#3866f0 120px,#3e4bd4 125px,#3e49d2 128px,#3c54de 134px,#3a5de8 135px,#396ef0 136px,#36b4f0 138px,#2cd8f0 139px,#00d89d 140px,#00c553 141px,#00c450 143px,#00cc73 144px,#20e4e2 145px,#34bcf0 146px,#3b92f0 147px,#3863ef 148px,#3c52dc 149px,#4040c8 154px,#4041c9 169px,#3961ed 176px,#3b92f0 178px,#33bff0 180px,#2addf0 181px,#20e4e2 182px,#18e2d4 183px,#00dba6 185px,#00d799 187px,#04ddb1 188px,#12e1ca 190px,#1ee4df 191px,#2ed0f0 192px,#39abf0 193px,#3976f0 195px,#3971f0 199px,#396df0 203px,#3b58e3 209px,#4040c8 219px,#4040c8 251px"></i><i style="--g:#4040c8,#4040c9 53px,#3863ef 62px,#39aaf0 69px,#34bcf0 71px,#34bdf0 116px,#3a7cf0 119px,#3866f0 120px,#3f45ce 126px,#3f44cd 129px,#3c51da 135px,#3a59e4 136px,#396df0 137px,#3b97f0 138px,#34bdf0 139px,#23e5e7 140px,#00ce79 141px,#00c450 142px,#00c553 144px,#00dba6 145px,#2fcdf0 146px,#3ba5f0 147px,#3975f0 148px,#3b58e3 149px,#4042ca 153px,#4042ca 170px,#3a5de8 177px,#3867f0 178px,#3ba2f0 180px,#31c8f0 181px,#23e5e7 182px,#0adebb 184px,#00d799 185px,#00d288 187px,#00d593 188px,#04ddb1 189px,#14e1cc 191px,#27e6ef 192px,#35b8f0 193px,#3c9df0 194px,#3a83f0 195px,#3971f0 196px,#3970f0 203px,#3a5ae5 209px,#4040c8 219px,#4040c8 251px"></i><i style="--g:#4040c8,#4040c8 54px,#3869f0 64px,#38adf0 71px,#34bdf0 73px,#34bdf0 115px,#3aa7f0 117px,#3865f0 120px,#3f43cb 127px,#3f43cb 131px,#3c51da 136px,#3a5ce7 137px,#397af0 138px,#3aa6f0 139px,#30ccf0 140px,#03ddaf 141px,#00c658 142px,#00c450 144px,#00cf7c 145px,#27e6ee 146px,#36b5f0 147px,#395eea 149px,#3c50da 150px,#4040c8 155px,#3f43ca 171px,#3b55df 176px,#3b56e0 178px,#3961ec 179px,#3a7bf0 180px,#39aaf0 181px,#2bdcf0 182px,#18e2d4 183px,#0cdfbe 184px,#00d798 185px,#00d082 186px,#00ce79 188px,#00d799 189px,#0ddfc1 191px,#1ce3dc 192px,#2ed0f0 193px,#39aaf0 194px,#3974f0 196px,#396ef0 204px,#3a5ce7 209px,#4040c8 220px,#4040c8 251px"></i><i style="--g:#4040c8,#4040c8 55px,#3865f0 65px,#38aff0 73px,#34bdf0 75px,#34bdf0 113px,#3c9af0 117px,#3863ef 120px,#3f43cc 127px,#4041c9 132px,#3c52dc 137px,#3862ee 138px,#3b8ff0 139px,#35b9f0 140px,#24e5e8 141px,#00cd75 142px,#00c450 143px,#00c450 144px,#00c760 145px,#10e0c6 146px,#32c2f0 147px,#3b96f0 148px,#3864f0 149px,#3c52dc 150px,#4040c8 155px,#3f43cb 172px,#3d4ed7 177px,#3c53dc 179px,#395fea 180px,#3b8bef 181px,#31c8f0 182px,#1de2db 183px,#00d9a2 185px,#00ce7a 186px,#00ca6d 188px,#00cf7e 189px,#00dba8 190px,#14e1cd 192px,#28e5f0 193px,#36b5f0 194px,#3a7ff0 196px,#3971f0 197px,#3971f0 204px,#3a5de8 209px,#4040c8 220px,#4040c8 251px"></i><i style="--g:#4040c8,#4040c8 56px,#386af0 67px,#38aff0 75px,#34bdf0 77px,#34baf0 112px,#3b8cf0 117px,#3a82f0 118px,#3961ed 120px,#3f43cc 127px,#4040c8 133px,#3d50d9 137px,#3a5ae4 138px,#3979f0 139px,#3aa8f0 140px,#2ed0f0 141px,#00d89a 142px,#00c450 143px,#00c451 145px,#00daa2 146px,#2fcdf0 147px,#3ba2f0 148px,#3970f0 149px,#3b55e0 150px,#4040c7 155px,#4040c7 172px,#3e49d1 178px,#3e47cf 179px,#3865ef 181px,#38aeef 182px,#26e4eb 183px,#0edfc1 184px,#00dba9 185px,#00d082 186px,#00c96a 187px,#00c967 189px,#00d694 190px,#04ddb0 191px,#0edfc2 192px,#1ee3de 193px,#2fccf0 194px,#3aa6f0 195px,#3971f0 197px,#396ff0 205px,#3a5ce7 210px,#4040c8 221px,#4040c8 251px"></i><i style="--g:#4040c8,#3f42cb 58px,#3864f0 68px,#38adf0 77px,#34bdf0 80px,#34bcf0 110px,#3b90f0 115px,#3868f0 119px,#3e48d1 125px,#4040c8 132px,#3e49d3 136px,#3c52dc 138px,#3866f0 139px,#3b98f0 140px,#32c4f0 141px,#0cdfbf 142px,#00c65b 143px,#00c450 144px,#00c450 145px,#00d287 146px,#2bdaf0 147px,#39acf0 148px,#397af0 149px,#3b59e3 150px,#3f46ce 153px,#4040c7 157px,#4043c9 174px,#3f45cd 179px,#3e4bd3 180px,#3a5be5 181px,#3b8cef 182px,#2dd4ef 183px,#15e0ce 184px,#05dcb2 185px,#00d698 186px,#00c968 187px,#00c558 189px,#00cc73 190px,#00dba8 191px,#15e1ce 193px,#2ae0f0 194px,#37b0f0 195px,#397af0 197px,#3971f0 198px,#3971f0 205px,#3a5de8 210px,#4040c8 221px,#4040c8 251px"></i><i style="--g:#4040c8,#4042ca 59px,#3867f0 70px,#39aaf0 79px,#34bdf0 83px,#34bbf0 108px,#3b8af0 114px,#3864f0 118px,#4042ca 127px,#4040c8 134px,#3c51da 138px,#395feb 139px,#35baf0 141px,#1ee3de 142px,#00c968 143px,#00c450 144px,#00c450 145px,#00cd77 146px,#27e6ef 147px,#37b3f0 148px,#3a82f0 149px,#3a5ce7 150px,#3d50d9 151px,#4040c7 155px,#4042c8 178px,#3f46cd 180px,#3863ed 182px,#37b2ef 183px,#22e3e4 184px,#0cddbd 185px,#01dba9 186px,#00cd78 187px,#00c453 188px,#00c34e 189px,#00c451 190px,#00d592 191px,#04ddb1 192px,#0fe0c4 193px,#21e4e3 194px,#31c5f0 195px,#3ca0f0 196px,#3a84f0 197px,#3971f0 198px,#396ff0 206px,#3a5be7 211px,#4040c8 221px,#4040c8 251px"></i><i style="--g:#4040c8,#4040c8 60px,#3868f0 72px,#39acf0 82px,#34bdf0 86px,#34bcf0 105px,#3b8cf0 112px,#3862ee 117px,#4040c9 127px,#4042ca 135px,#3d50d9 138px,#3a5ce7 139px,#3a82f0 140px,#37b3f0 141px,#26e6ed 142px,#00cd74 143px,#00c450 144px,#00c450 145px,#00ca6d 146px,#23e4e7 147px,#36b6f0 148px,#3a5de8 150px,#3d50d9 151px,#4040c7 155px,#4042c7 179px,#3e49d0 181px,#3a5ae3 182px,#3b8aee 183px,#2dd3ee 184px,#15dfcc 185px,#05dcb2 186px,#01d594 187px,#00c453 188px,#00c24a 189px,#00c24a 190px,#00cc72 191px,#00dcaa 192px,#09deba 193px,#18e2d3 194px,#2cd8f0 195px,#39aaf0 196px,#3973f0 198px,#3971f0 206px,#3a5de8 211px,#4040c8 222px,#4040c8 251px"></i><i style="--g:#4040c8,#3f42cb 62px,#3867f0 74px,#3ba5f0 84px,#34bdf0 92px,#35baf0 101px,#3c9bf0 108px,#3864ef 115px,#4040c8 126px,#4042ca 135px,#3d4fd9 138px,#3a5ae5 139px,#3a7ff0 140px,#37b0f0 141px,#29e4f0 142px,#00ce79 143px,#00c450 144px,#00c450 145px,#00c969 146px,#20e3e1 147px,#35b7f0 148px,#3a5ee8 150px,#3d50d9 151px,#4040c6 155px,#4040c5 179px,#4043c9 181px,#3962ec 183px,#37b2ee 184px,#21e1e1 185px,#0cddbc 186px,#01daa8 187px,#01ca70 188px,#00c24a 189px,#00c24a 190px,#00c454 191px,#00d798 192px,#11e0c7 194px,#26e5ec 195px,#35b9f0 196px,#3b98f0 197px,#3a7df0 198px,#3971f0 199px,#396ff0 207px,#3a5be6 212px,#4040c8 222px,#4040c8 251px"></i><i style="--g:#4040c8,#4041c9 63px,#396cf0 77px,#3ca0f0 87px,#38aff0 95px,#3aa6f0 102px,#3a83f0 109px,#3961ed 114px,#4040c8 125px,#4042ca 135px,#3d4fd9 138px,#3a5be6 139px,#3a81f0 140px,#37b2f0 141px,#28e6ef 142px,#00cd77 143px,#00c450 144px,#00c450 145px,#00c96a 146px,#21e3e2 147px,#35b6ef 148px,#3a5de7 150px,#3d50d8 151px,#4040c5 155px,#4141c2 176px,#4041c6 181px,#3f48cf 182px,#3b5ae3 183px,#3b8ded 184px,#2cd7ee 185px,#12dec8 186px,#05dbb0 187px,#01d390 188px,#00c350 189px,#00c24a 191px,#01dcac 193px,#0cdfbe 194px,#1de3dc 195px,#2fccf0 196px,#3ca2f0 197px,#3971f0 199px,#3971f0 207px,#3a5ce8 212px,#4040c8 223px,#4040c8 251px"></i><i style="--g:#4040c8,#4042ca 65px,#3868f0 79px,#3b92f0 88px,#3c9ef0 96px,#3b8df0 104px,#3962ed 112px,#4040c8 124px,#3f43cc 135px,#3c50da 138px,#395ee9 139px,#35b7f0 141px,#22e4e6 142px,#00ca6d 143px,#00c350 144px,#01c350 145px,#01cb72 146px,#26e3ea 147px,#37b2ee 148px,#3a82ee 149px,#3a5be4 150px,#3d4fd7 151px,#4141c3 155px,#4141be 173px,#4041c6 182px,#3965ed 184px,#35b9ed 185px,#1de0da 186px,#0adcb9 187px,#01d9a5 188px,#01c868 189px,#00c24a 190px,#00c24a 191px,#00c75e 192px,#00d9a1 193px,#15e1cf 195px,#2addf0 196px,#39aaf0 197px,#3974f0 199px,#396ef0 208px,#3a5be6 213px,#4040c8 223px,#4040c8 251px"></i><i style="--g:#4040c8,#3f43cb 67px,#3868f0 82px,#3a88f0 91px,#3b8af0 99px,#396ef0 107px,#3c54de 115px,#4040c8 123px,#4042ca 134px,#3c52dc 138px,#3863ef 139px,#3b94f0 140px,#33c0f0 141px,#11e0c7 142px,#01c660 143px,#01c351 144px,#01c251 145px,#01ce82 146px,#2bdbee 147px,#39aaed 148px,#3a7bec 149px,#3b59e0 150px,#3e4ace 152px,#4141bf 156px,#4242bb 172px,#4040c4 182px,#3e4ad0 183px,#3a5ce5 184px,#3c98ed 185px,#29e0ee 186px,#10ddc3 187px,#03dbae 188px,#01d086 189px,#00c24a 190px,#00c34c 192px,#00d38c 193px,#04ddb0 194px,#0fe0c5 195px,#24e5e9 196px,#34bcf0 197px,#3c99f0 198px,#3a7df0 199px,#3971f0 200px,#3970f0 208px,#3a5ce7 213px,#4040c8 223px,#4040c8 251px"></i><i style="--g:#4040c8,#3f43cc 69px,#3864f0 85px,#3979f0 93px,#3974f0 101px,#395ee9 109px,#4040c8 121px,#4041ca 133px,#3d50d9 137px,#3a59e4 138px,#3977f0 139px,#3ba5f0 140px,#2fcdef 141px,#01d8a2 142px,#01c252 143px,#02c152 145px,#02d299 146px,#30caec 147px,#3ba0eb 148px,#3a71e9 149px,#3c55da 150px,#4141bd 155px,#4242b6 169px,#4043c7 183px,#3c55dc 184px,#3a74ed 185px,#31c6ed 186px,#17dfd0 187px,#07dbb5 188px,#01d79e 189px,#01c558 190px,#00c24a 191px,#00c24a 192px,#00cc71 193px,#00dcab 194px,#0bdfbd 195px,#1ce3db 196px,#2fcdf0 197px,#3ca0f0 198px,#3971f0 200px,#396df0 209px,#3b57e2 215px,#4040c8 224px,#4040c8 251px"></i><i style="--g:#4040c8,#3f43cb 71px,#3862ee 88px,#3866f0 99px,#3c54de 111px,#4040c8 120px,#4041ca 132px,#3c53dd 137px,#3863ef 138px,#3b8fef 139px,#35b8ef 140px,#26e3ea 141px,#01cc7a 142px,#02c152 143px,#02c052 144px,#03c15e 145px,#0ed6ba 146px,#33bce9 147px,#3d92e8 148px,#3a63e6 149px,#3e51d2 150px,#4242b9 155px,#4343b2 168px,#4040c4 183px,#3961ea 185px,#38abed 186px,#22e1e2 187px,#0cdcbd 188px,#01daaa 189px,#01cb71 190px,#00c24a 191px,#00c24a 192px,#00c65a 193px,#00d9a0 194px,#15e1cf 196px,#2bddf0 197px,#3aa8f0 198px,#3972f0 200px,#396ff0 209px,#3a5be6 214px,#4040c8 224px,#4040c8 251px"></i><i style="--g:#4040c8,#3f43cb 73px,#395ee9 90px,#3a5be6 104px,#4040c8 118px,#4042ca 131px,#3c52dc 136px,#3960eb 137px,#39a9ef 139px,#2fcbef 140px,#03d9ad 141px,#02c25a 142px,#03bf53 143px,#04bd54 144px,#05c478 145px,#27d7e2 146px,#37abe6 147px,#3b5cdd 149px,#3e4fcd 150px,#4343b5 155px,#4444ae 167px,#4040c4 183px,#3f48cd 184px,#3b5ae2 185px,#3b8ced 186px,#2bdaee 187px,#11dec6 188px,#04dbaf 189px,#01d28a 190px,#00c24a 191px,#00c34b 193px,#00d38c 194px,#04ddb0 195px,#10e0c6 196px,#25e5eb 197px,#35b8f0 198px,#3a7bf0 200px,#3971f0 201px,#3971f0 209px,#3a5ce7 214px,#4040c8 224px,#4040c8 251px"></i><i style="--g:#4040c8,#4042ca 75px,#3b58e3 91px,#3c54de 105px,#4040c8 117px,#4042ca 130px,#3c52db 135px,#395fea 136px,#3ba1ef 138px,#32c2ee 139px,#1aded3 140px,#03c773 141px,#04be53 142px,#06ba57 144px,#08cba2 145px,#32bde4 146px,#3c98e1 147px,#3c70de 148px,#3d55d2 149px,#4247bb 152px,#4444ac 158px,#4444ae 170px,#4042c6 184px,#396ced 186px,#32c3ee 187px,#18dfd2 188px,#07dcb5 189px,#01d89f 190px,#00c558 191px,#00c24a 192px,#00c24a 193px,#00cd75 194px,#01dcab 195px,#0cdfbe 196px,#1ee3de 197px,#31c8f0 198px,#3c9df0 199px,#3971f0 201px,#396ef0 210px,#3a5ae5 215px,#4040c8 225px,#4040c8 251px"></i><i style="--g:#4040c8,#4042ca 78px,#3c54de 94px,#3e4ad3 108px,#4040c8 115px,#3f42cb 129px,#3c52db 134px,#395fea 135px,#3c9eef 137px,#25e0e6 139px,#03cc86 140px,#04bd54 141px,#07b856 143px,#09bd7a 144px,#27cdd7 145px,#37a7df 146px,#3e83db 147px,#3c5cd7 148px,#404fc6 149px,#4444ad 154px,#4545a7 166px,#4040c4 184px,#3960e9 186px,#39aaee 187px,#22e2e2 188px,#0cddbd 189px,#01dba9 190px,#00ca6e 191px,#00c24a 192px,#00c249 193px,#00c760 194px,#00daa2 195px,#17e2d3 197px,#2cd7f0 198px,#3ba4f0 199px,#3971f0 201px,#3970f0 210px,#3a5be6 215px,#4040c8 225px,#4040c8 251px"></i><i style="--g:#4040c8,#4042ca 81px,#3d4ed8 96px,#4040c8 115px,#3f42cb 128px,#3c52dc 133px,#395fea 134px,#3c9eee 136px,#26e0e8 138px,#03cd8d 139px,#05bc55 140px,#08b657 142px,#0ab567 143px,#11c4af 144px,#34b1dc 145px,#3d90d9 146px,#3e6cd5 147px,#3f55ca 148px,#4348b4 151px,#4545a4 157px,#4545a6 168px,#4040c4 184px,#3f48ce 185px,#3b59e2 186px,#3b8eee 187px,#2addef 188px,#10dec5 189px,#03dcae 190px,#00d185 191px,#00c24a 192px,#00c44f 194px,#00d593 195px,#05ddb2 196px,#12e0c9 197px,#29e4f0 198px,#38aff0 199px,#3977f0 201px,#3971f0 204px,#3971f0 210px,#3a5ce7 215px,#4040c8 225px,#4040c8 251px"></i><i style="--g:#4040c8,#3f43cb 86px,#3f46cf 101px,#4040c8 115px,#4042ca 127px,#3c54de 132px,#3961ec 133px,#3ca0ee 135px,#25dfe5 137px,#04cc8c 138px,#05bb57 139px,#0bb25f 142px,#0ebc98 143px,#31bbda 144px,#3f78d2 146px,#3e59cd 147px,#414ebd 148px,#4545a4 154px,#4646a1 166px,#4343b7 176px,#4043c8 185px,#3c54dc 186px,#3971ee 187px,#30c8ef 188px,#16e0ce 189px,#06ddb3 190px,#00d698 191px,#00c453 192px,#00c349 193px,#00c34a 194px,#02dcae 196px,#0edfc2 197px,#22e5e6 198px,#33bef0 199px,#3b97f0 200px,#3a7ef0 201px,#3971f0 202px,#396ef0 211px,#3a5ae5 216px,#4040c8 225px,#4040c8 251px"></i><i style="--g:#4040c8,#4042ca 127px,#3b55df 131px,#3862ee 132px,#3ba3ee 134px,#33bfed 135px,#21dddd 136px,#04ca86 137px,#06ba56 138px,#0cb05c 141px,#0fb78e 142px,#2ebed6 143px,#407ed0 145px,#3f60cb 146px,#4151bf 147px,#4545a4 152px,#46469e 164px,#4247b8 175px,#4040c6 185px,#3961ec 187px,#37b2ef 188px,#1ee2dd 189px,#09deba 190px,#00daa5 191px,#00c865 192px,#00c349 193px,#00c349 194px,#00ca6b 195px,#00dca9 196px,#0adfbc 197px,#1ce3db 198px,#30cbf0 199px,#3c9df0 200px,#3971f0 202px,#3970f0 211px,#3a5be6 216px,#4040c8 226px,#4040c8 251px"></i><i style="--g:#4040c8,#3f42cb 127px,#3c53dc 130px,#3960eb 131px,#3aa7ee 133px,#32c2ed 134px,#1fdcda 135px,#04cc90 136px,#06bc61 137px,#08b657 138px,#0dae5d 140px,#10b58d 141px,#2dbbd1 142px,#4080ce 144px,#4065c9 145px,#4053c0 146px,#4448ab 149px,#47479c 156px,#4648a1 166px,#414bbc 175px,#4242bb 178px,#4040c6 185px,#3e4ad2 186px,#3a5ce6 187px,#3c9aef 188px,#27e5ed 189px,#0ddfc1 190px,#01dcac 191px,#00c349 193px,#00c349 194px,#00c658 195px,#00d9a0 196px,#16e2d1 198px,#2cd8f0 199px,#3ba3f0 200px,#3971f0 202px,#3971f0 211px,#3a5ce7 216px,#4040c8 226px,#4040c8 251px"></i><i style="--g:#4040c8,#3f42cb 127px,#3f45cd 128px,#3a5be6 130px,#3972ef 131px,#3c9bee 132px,#32c2ed 133px,#20dcdb 134px,#05d0a1 135px,#06c481 136px,#0ab462 138px,#0dae61 139px,#10b590 140px,#2dbacf 141px,#4081cc 143px,#4054bf 145px,#434aae 147px,#46469c 153px,#46489d 164px,#4250b5 171px,#404fc2 175px,#4242bc 178px,#4040c6 185px,#3f45cd 186px,#3b57e1 187px,#3a81ef 188px,#2cd7f0 189px,#11e0c8 190px,#03ddb0 191px,#00d38a 192px,#00c34a 193px,#00c34d 195px,#00d591 196px,#04ddb2 197px,#12e0c9 198px,#29e3f0 199px,#39acf0 200px,#3975f0 202px,#396df0 212px,#3b56e1 218px,#4040c8 226px,#4040c8 251px"></i><i style="--g:#4040c8,#4041c9 126px,#3e49d1 128px,#3960eb 130px,#38aced 132px,#2adbec 133px,#0fd5ba 134px,#06cc9d 135px,#0bbb80 137px,#0db378 138px,#11b698 139px,#2eb9d1 140px,#4081cb 142px,#4054bf 144px,#444bad 146px,#47479b 152px,#46499d 164px,#4350af 169px,#3f57c5 173px,#3f50c7 176px,#4141bd 178px,#4041c8 186px,#3868ef 188px,#32c4f0 189px,#17e1d1 190px,#06ddb4 191px,#00d79a 192px,#00c553 193px,#00c349 194px,#00c34a 195px,#00d081 196px,#02ddae 197px,#0fe0c3 198px,#24e5e9 199px,#35b9f0 200px,#3b93f0 201px,#397af0 202px,#3971f0 203px,#396ff0 212px,#3a5ae5 217px,#4040c8 226px,#4040c8 251px"></i><i style="--g:#4040c8,#4040c7 126px,#3c54de 129px,#3962ed 130px,#37b1ec 132px,#2bd7ea 133px,#0bccab 135px,#0dbb93 137px,#15bbac 138px,#31b9d5 139px,#4080cb 141px,#4054bf 143px,#444bad 145px,#47479a 151px,#46499c 163px,#4352ae 168px,#4169c2 172px,#3f65cd 174px,#3e57d1 176px,#4142bf 178px,#4040c7 186px,#3961ed 188px,#37b2f0 189px,#1de3dd 190px,#09deb9 191px,#00daa3 192px,#00c862 193px,#00c349 194px,#00c349 195px,#00cb70 196px,#00dcab 197px,#0cdfbe 198px,#1fe4e0 199px,#32c4f0 200px,#3b98f0 201px,#3a7ef0 202px,#3971f0 203px,#3970f0 212px,#3a5be6 217px,#4040c8 227px,#4040c8 251px"></i><i style="--g:#4040c8,#3f43cb 127px,#3963ed 130px,#3b8aec 131px,#3aa4ea 132px,#35b4e8 133px,#2bd4e4 134px,#1bcbc3 135px,#12c2ad 136px,#33b4d6 138px,#407fcb 140px,#4054bf 142px,#444bad 144px,#47479a 150px,#464a9d 163px,#4456ab 167px,#407cc5 172px,#407dcf 174px,#3e77d5 175px,#3d58d6 177px,#4141c1 179px,#4040c8 186px,#3e4bd4 187px,#395ee9 188px,#3c9ff0 189px,#24e5e9 190px,#0cdfbe 191px,#00dcaa 192px,#00cb70 193px,#00c349 194px,#00c349 195px,#00c864 196px,#00dba5 197px,#09deba 198px,#1ae3d8 199px,#2fcdf0 200px,#3c9df0 201px,#3a82f0 202px,#3971f0 203px,#3971f0 212px,#3a5ce7 217px,#4040c8 227px,#4040c8 251px"></i><i style="--g:#4040c8,#4040c7 127px,#3a5fe8 130px,#3c91e9 132px,#35b1e3 134px,#2dcade 135px,#2cc2d6 136px,#34b1d7 137px,#407dcc 139px,#4054bf 141px,#444bad 143px,#47479a 149px,#464a9d 162px,#4559aa 166px,#3b8cc3 171px,#3899c8 172px,#399fd8 175px,#3e91dc 176px,#3c71e0 177px,#3d53d5 178px,#4141c2 179px,#4040c8 186px,#3e47d0 187px,#3a5ae5 188px,#3b8df0 189px,#2ae1f0 190px,#0edfc3 191px,#01dcac 192px,#00c349 194px,#00c349 195px,#00c555 196px,#00d99e 197px,#07deb6 198px,#16e2d1 199px,#2cd7f0 200px,#3ca1f0 201px,#3970f0 203px,#396df0 213px,#3b56e1 219px,#4040c8 227px,#4040c8 251px"></i><i style="--g:#4041c9,#4040c7 127px,#3d4fd6 129px,#3967e9 131px,#3d93e4 133px,#37a7dc 135px,#3d90d3 137px,#4064c8 139px,#4054bf 140px,#434bae 142px,#47479a 148px,#464b9d 161px,#455ca9 165px,#3f7ab6 168px,#319fbe 171px,#25afba 173px,#23b8bf 174px,#27c1ce 175px,#30c2df 176px,#39a5e3 177px,#3a6be6 178px,#4046c9 179px,#4040c6 182px,#3f44cd 187px,#3b57e2 188px,#3a7df0 189px,#2dd5f0 190px,#11e0c7 191px,#02ddae 192px,#00d38b 193px,#00c349 194px,#00c44e 196px,#00d593 197px,#05ddb2 198px,#13e1cb 199px,#2adef0 200px,#3aa5f0 201px,#3970f0 203px,#396ef0 213px,#3a5ae5 218px,#4040c8 227px,#4040c8 251px"></i><i style="--g:#3b55df,#3b55df 7px,#4040c8 9px,#4040c6 128px,#3a5ee4 131px,#3e8ede 134px,#3f6fcf 137px,#4053c0 139px,#4449aa 142px,#474799 149px,#464b9e 160px,#455fa9 164px,#3d80b6 167px,#3194b3 169px,#18a99c 172px,#14ae94 173px,#0dc0a3 175px,#16c9ba 176px,#2bd4e5 177px,#3d97e8 178px,#3c53d9 179px,#4040c5 180px,#4042ca 187px,#396ff0 189px,#30caf0 190px,#13e1cb 191px,#03ddaf 192px,#00d694 193px,#00c44f 194px,#00c349 196px,#00d389 197px,#03ddb0 198px,#10e0c7 199px,#28e5f0 200px,#38aef0 201px,#3973f0 203px,#3970f0 213px,#395ee9 217px,#4040c8 227px,#4040c8 251px"></i><i style="--g:#3971f0,#3971f0 7px,#3a5ce8 8px,#3f44cd 10px,#4040c8 14px,#4043c7 129px,#3a60e3 132px,#3c6cdf 133px,#3d66d7 135px,#424cb7 139px,#46469c 146px,#464b9d 158px,#4462a9 163px,#3a84b3 166px,#2a92a7 168px,#14a880 172px,#11ad77 173px,#0db379 174px,#0bbc83 175px,#08c797 176px,#13d2be 177px,#31c3ea 178px,#3962ea 179px,#4040c6 180px,#3f43cb 187px,#386bf0 189px,#32c2f0 190px,#16e1d0 191px,#04ddb1 192px,#00d89c 193px,#00c555 194px,#00c248 195px,#00c349 196px,#02ddae 198px,#0fe0c3 199px,#25e5eb 200px,#36b4f0 201px,#3b8ff0 202px,#3975f0 203px,#3971f0 213px,#3a5be6 218px,#4040c8 228px,#4040c8 251px"></i><i style="--g:#37b2f0,#37b2f0 7px,#3865f0 9px,#4040c8 12px,#4040c4 129px,#3c58d9 132px,#3e56cf 135px,#434ab3 139px,#46469c 146px,#464c9e 157px,#4366aa 162px,#3d7eb2 164px,#24919d 167px,#0bb053 174px,#08b864 175px,#06c37e 176px,#05d1a3 177px,#24dde2 178px,#3c91ed 179px,#3e4ad2 180px,#4040c7 181px,#3f44cc 187px,#3c52dc 188px,#3868f0 189px,#34bbf0 190px,#18e2d4 191px,#04ddb1 192px,#00d99e 193px,#00c75d 194px,#00c248 195px,#00c349 196px,#00cd76 197px,#01dcac 198px,#0ddfc1 199px,#22e5e6 200px,#35baf0 201px,#3b92f0 202px,#3977f0 203px,#3971f0 205px,#3971f0 213px,#3a5ce7 218px,#4040c8 228px,#4040c8 251px"></i><i style="--g:#2fcdf0,#2fcdf0 8px,#3ba4f0 9px,#3a7df0 10px,#3960ec 11px,#4040c8 14px,#4141c3 129px,#4141c3 130px,#3e50cf 132px,#414bbd 136px,#46469f 144px,#464a9d 154px,#4656a4 158px,#426bac 161px,#3a80ae 163px,#239195 166px,#10a657 171px,#0aad41 173px,#08b03a 174px,#05c26e 176px,#03ce91 177px,#14dcc9 178px,#36b2ee 179px,#3b59e3 180px,#4040c7 181px,#3f45cd 187px,#3c52dc 188px,#3869f0 189px,#35b9f0 190px,#18e2d4 191px,#03ddaf 192px,#00d99f 193px,#00c864 194px,#00c247 195px,#00c248 196px,#00cb6e 197px,#00dcaa 198px,#0bdfbe 199px,#20e4e1 200px,#33c0f0 201px,#3b94f0 202px,#3979f0 203px,#3970f0 204px,#396df0 214px,#3c53dd 221px,#4040c8 228px,#4040c8 251px"></i><i style="--g:#11e0c8,#11e0c8 8px,#27e6ef 9px,#3b97f0 11px,#3971f0 12px,#3a5ce7 13px,#3f45cd 15px,#4040c8 18px,#4040c4 128px,#4144c3 131px,#404bc6 133px,#4646a0 144px,#454ca1 154px,#4268ab 159px,#3c7db0 161px,#268d98 164px,#13a25b 169px,#0da942 171px,#06b231 174px,#04b83f 175px,#02cd83 177px,#07dab3 178px,#2ed1ef 179px,#396cef 180px,#4040c7 181px,#3f46cf 187px,#3c52dc 188px,#396df0 189px,#35baf0 190px,#17e2d2 191px,#00dcaa 192px,#00d89e 193px,#00c968 194px,#00c246 195px,#00c248 196px,#00c968 197px,#00dba8 198px,#0adfbc 199px,#1ee3de 200px,#32c3f0 201px,#3b95f0 202px,#397af0 203px,#396ff0 204px,#396ef0 214px,#3a59e4 219px,#4040c8 228px,#4040c8 251px"></i><i style="--g:#03ddaf,#03ddaf 9px,#19e2d5 10px,#2bdaf0 11px,#3b8af0 13px,#3866f0 14px,#4042ca 17px,#4040c4 128px,#4246b7 136px,#4646a1 144px,#454ea5 153px,#416fae 158px,#3882ae 160px,#248f92 163px,#0fa645 169px,#06b330 173px,#03b830 175px,#01cb77 177px,#01d8a1 178px,#23e3e5 179px,#3b94ef 180px,#3d4ed7 181px,#4040c8 182px,#3e48d1 187px,#3c54de 188px,#3975f0 189px,#32c1f0 190px,#13e1cb 191px,#00daa4 192px,#00d799 193px,#00c969 194px,#00c245 195px,#00c247 196px,#00c865 197px,#00dba5 198px,#09debb 199px,#1de3dc 200px,#31c6f0 201px,#3b96f0 202px,#3a7bf0 203px,#396ef0 204px,#396ef0 214px,#3a5ae5 219px,#4040c8 228px,#4040c8 251px"></i><i style="--g:#00cf7c,#00cf7c 9px,#00d89a 10px,#0adfbc 11px,#1fe4e1 12px,#2fcef0 13px,#3aa6f0 14px,#3a7ff0 15px,#3961ed 16px,#4040c8 19px,#4040c3 128px,#4345b3 137px,#4547a3 145px,#4451a9 152px,#3f78b2 157px,#3487ac 159px,#21928b 162px,#11a348 167px,#07b132 171px,#02b92b 175px,#01bf44 176px,#01d492 178px,#15e0cd 179px,#36b5f0 180px,#3a5ce7 181px,#4040c8 182px,#3e4ad4 187px,#3b57e1 188px,#3a80f0 189px,#2fccf0 190px,#0cdfbf 191px,#00d89b 192px,#00d592 193px,#00c142 195px,#00c246 196px,#00c75f 197px,#00daa3 198px,#09deb9 199px,#1be3da 200px,#31c8f0 201px,#3b97f0 202px,#3a7cf0 203px,#396df0 204px,#396ff0 214px,#395de9 218px,#4040c8 228px,#4040c8 251px"></i><i style="--g:#00c65a,#00c65a 9px,#00c968 10px,#00daa4 12px,#26e5ec 14px,#3c9cf0 16px,#3976f0 17px,#395fea 18px,#4040c8 21px,#4141c3 128px,#4547a7 144px,#4350ad 150px,#4076b4 155px,#368ab3 157px,#24919c 159px,#159f5b 164px,#12a14b 165px,#08af33 169px,#01ba2b 175px,#01bd37 176px,#00d186 178px,#08deb8 179px,#2ed1f0 180px,#3974f0 181px,#3f42cb 182px,#3e48d0 186px,#3d4dd6 187px,#3a5ae5 188px,#3b90f0 189px,#2adef0 190px,#02dcad 191px,#00d48e 192px,#00d287 193px,#00c13f 195px,#00c244 196px,#00c75d 197px,#00daa1 198px,#08deb8 199px,#1be3d9 200px,#30c9f0 201px,#3b97f0 202px,#3a7cf0 203px,#396df0 204px,#3970f0 214px,#395ee9 218px,#4040c8 228px,#4040c8 251px"></i><i style="--g:#00c556,#00c556 10px,#00c65b 11px,#00d48f 13px,#01dcac 14px,#2adff0 16px,#3b93f0 18px,#396ff0 19px,#3c51db 21px,#4040c8 23px,#4141c3 128px,#4448ac 143px,#4253b4 149px,#3d82ba 154px,#398fbb 155px,#219797 158px,#10a446 164px,#09ad33 167px,#02b928 173px,#00bc2d 176px,#00ce7b 178px,#00dba8 179px,#27e6ed 180px,#3b93f0 181px,#3c52dc 182px,#4042ca 183px,#3e49d2 186px,#3d50d9 187px,#395fea 188px,#3ba3f0 189px,#1fe4e1 190px,#00d89a 191px,#00cf7d 192px,#00ce79 193px,#00bf39 195px,#00c141 196px,#00c65a 197px,#00d9a0 198px,#07deb7 199px,#1ae3d8 200px,#30caf0 201px,#3b97f0 202px,#3a7cf0 203px,#396cf0 204px,#3971f0 209px,#3970f0 214px,#395ee9 218px,#4040c8 228px,#4040c8 251px"></i><i style="--g:#00c34d,#00c34d 10px,#00c75d 13px,#00d697 15px,#07deb6 16px,#1be3da 17px,#2cd7f0 18px,#3b8cf0 20px,#386af0 21px,#3f46ce 24px,#4040c8 26px,#4040c3 128px,#4347b1 141px,#4252b8 147px,#3e81be 152px,#3498bc 154px,#1f9c9f 156px,#10a448 162px,#08af30 166px,#01b823 172px,#00bd30 176px,#00c24a 177px,#00d99e 179px,#1de3dc 180px,#38aef0 181px,#395feb 182px,#3f43cb 183px,#3e4bd4 186px,#3c53dd 187px,#3864f0 188px,#35b9f0 189px,#0fe0c5 190px,#00d183 191px,#00c967 192px,#00c966 193px,#00be32 195px,#00c03d 196px,#00c658 197px,#00d99e 198px,#07deb6 199px,#1ae3d8 200px,#30c9f0 201px,#3b96f0 202px,#3a7bf0 203px,#386bf0 204px,#3971f0 207px,#3971f0 214px,#395ee9 218px,#4040c8 228px,#4040c8 251px"></i><i style="--g:#00c244,#00c244 10px,#00c659 14px,#00c864 15px,#00d89d 17px,#0bdfbe 18px,#1fe4e1 19px,#2ed1f0 20px,#39acf0 21px,#3867f0 23px,#3f46ce 26px,#4040c8 28px,#4040c4 128px,#4247b6 140px,#4151bc 145px,#405fc2 147px,#3b8dc5 151px,#379ec6 152px,#23a2ab 154px,#17a37d 157px,#0ea743 161px,#05b329 166px,#01b71a 171px,#00bd2d 175px,#00c247 177px,#00d89b 179px,#17e2d3 180px,#33c1f0 181px,#3975f0 182px,#3e49d2 183px,#3e48d1 185px,#3b56e0 187px,#3973f0 188px,#2ed1f0 189px,#00dba6 190px,#00c967 191px,#00c142 192px,#00c245 193px,#00bc28 195px,#00bf38 196px,#00c557 197px,#00d89d 198px,#07deb5 199px,#1ae3d8 200px,#31c8f0 201px,#3b95f0 202px,#397af0 203px,#386bf0 204px,#3971f0 207px,#3971f0 214px,#3a5be6 219px,#4040c8 228px,#4040c8 251px"></i><i style="--g:#00c141,#00c141 11px,#00c65a 16px,#00ca6a 17px,#00daa2 19px,#22e4e5 21px,#2fcdf0 22px,#39aaf0 23px,#3866f0 25px,#4040c8 29px,#4040c7 112px,#4141c0 132px,#4247bb 139px,#4053c4 144px,#3f58c9 145px,#3c8dca 149px,#32aaca 151px,#1baba6 153px,#0da944 159px,#01b50f 169px,#00b711 172px,#00bd2f 175px,#00c451 177px,#00d99f 179px,#19e2d6 180px,#32c3f0 181px,#3a81f0 182px,#3b55e0 183px,#3e47d0 184px,#3d4ed8 186px,#3b58e3 187px,#3a83f0 188px,#26e5ec 189px,#00d38a 190px,#00c03b 191px,#00b814 192px,#00b91b 193px,#00b91a 195px,#00be31 196px,#00c555 197px,#00d89c 198px,#06ddb4 199px,#1ae3d8 200px,#31c7f0 201px,#3b94f0 202px,#3979f0 203px,#386bf0 204px,#3971f0 207px,#3971f0 214px,#3a5be6 219px,#4040c8 229px,#4040c8 251px"></i><i style="--g:#00bf38,#00bf38 11px,#00c65b 18px,#00d38a 20px,#00dba5 21px,#23e5e7 23px,#2fccf0 24px,#39a9f0 25px,#3867f0 27px,#4040c8 31px,#4040c3 96px,#4040c4 129px,#4145bf 137px,#3e56cc 143px,#3f6fd0 145px,#35abd2 149px,#2db4ca 150px,#14b3a1 152px,#0bac3f 158px,#05b32b 162px,#01b40b 167px,#07b501 169px,#05b501 171px,#00b404 172px,#00ba20 174px,#00c34c 176px,#00d185 178px,#04ddb2 179px,#24e5e9 180px,#36b7f0 181px,#3a83f0 182px,#3a5de8 183px,#3e4ad3 184px,#3c50da 186px,#3a5be6 187px,#3b93f0 188px,#17e2d3 189px,#00cb6d 190px,#00b609 191px,#33c200 192px,#13b900 194px,#00b608 195px,#00bc27 196px,#00c553 197px,#00d89b 198px,#05ddb4 199px,#1be3d9 200px,#31c5f0 201px,#3b93f0 202px,#3978f0 203px,#386bf0 204px,#3971f0 207px,#3971f0 214px,#3a5be7 219px,#4040c8 229px,#4040c8 251px"></i><i style="--g:#00be34,#00be34 12px,#00c65c 20px,#00dba6 23px,#23e5e7 25px,#2fccf0 26px,#39aaf0 27px,#3869f0 29px,#4040c8 33px,#4141bf 93px,#4040c5 128px,#4145c3 136px,#3e53cd 141px,#3d66d7 143px,#3b96d7 146px,#31bad8 148px,#27bdca 149px,#10b99c 151px,#0aaf41 156px,#06b22d 159px,#02b518 164px,#01b305 166px,#23bd01 169px,#25bd00 170px,#1ebc00 171px,#0db700 172px,#00b608 173px,#00c03d 175px,#00d9a0 178px,#1be3d9 179px,#30c9f0 180px,#3c9ff0 181px,#397af0 182px,#395eea 183px,#3d50d9 184px,#3c52dc 186px,#3a5de8 187px,#3ca0f0 188px,#0bdfbc 189px,#00c248 190px,#42c600 191px,#90da00 192px,#7dd500 193px,#53ca00 194px,#17ba00 195px,#00b91b 196px,#00c450 197px,#00d799 198px,#05ddb2 199px,#1ce3da 200px,#32c3f0 201px,#3b91f0 202px,#3976f0 203px,#386af0 204px,#3971f0 207px,#3971f0 214px,#3a5ce7 219px,#4040c8 229px,#4040c8 251px"></i><i style="--g:#00bd2b,#00bd2b 12px,#00c65c 22px,#00dba6 25px,#22e5e6 27px,#2fcff0 28px,#3b8bf0 30px,#396cf0 31px,#3e48d1 34px,#4040c8 35px,#4242ba 91px,#4040c6 127px,#4046c6 135px,#3d56d4 140px,#3c5ddc 141px,#39a1dd 145px,#2dc7dc 147px,#22c5c9 148px,#11c2ac 149px,#07b23a 155px,#04b328 158px,#01b615 163px,#01b303 165px,#32c101 168px,#3cc400 169px,#3dc400 170px,#32c100 171px,#00b506 173px,#00c34c 175px,#00d89c 177px,#12e0c9 178px,#2cd7f0 179px,#3aa6f0 180px,#3a82f0 181px,#3867f0 182px,#3d4fd9 185px,#3c53dd 186px,#395fea 187px,#39abf0 188px,#00dca9 189px,#00bb21 190px,#96dc00 191px,#c1e500 192px,#b9e400 193px,#9bdd00 194px,#42c600 195px,#00b60c 196px,#00c34b 197px,#00d696 198px,#04ddb1 199px,#1ce3db 200px,#33c0f0 201px,#3b90f0 202px,#3975f0 203px,#386af0 204px,#3971f0 207px,#3971f0 214px,#3a5ce7 219px,#4040c8 229px,#4040c8 251px"></i><i style="--g:#00bc27,#00bc27 13px,#00c65c 24px,#00dba5 27px,#20e4e3 29px,#2ed2f0 30px,#3b8ef0 32px,#396ef0 33px,#3c54de 35px,#4041c9 37px,#4343b4 89px,#4040c6 127px,#4043c6 133px,#3c58da 139px,#3a60e2 140px,#3c9be2 143px,#31c0e2 145px,#28ceda 146px,#0ac8a6 148px,#06b541 153px,#05b42c 155px,#01b50a 163px,#01b302 164px,#42c600 168px,#4bc800 169px,#4ac800 170px,#3bc400 171px,#1dbc00 172px,#00b609 173px,#00c966 175px,#00d48d 176px,#0adebb 177px,#29e3f0 178px,#37b0f0 179px,#3a85f0 180px,#386af0 181px,#3c50da 185px,#3c54de 186px,#395feb 187px,#36b4f0 188px,#00d89b 189px,#06b500 190px,#bce400 191px,#f0ee00 192px,#eff000 193px,#c3e600 194px,#78d400 195px,#0ab700 196px,#00c247 197px,#00d592 198px,#03ddb0 199px,#1de3dd 200px,#34bcf0 201px,#3b8ef0 202px,#3973f0 203px,#386af0 204px,#3971f0 208px,#3971f0 214px,#3a5ce7 219px,#4040c8 229px,#4040c8 251px"></i><i style="--g:#00ba1e,#00ba1e 13px,#00c65c 26px,#00daa2 29px,#1fe4e0 31px,#2dd4f0 32px,#3b91f0 34px,#3973f0 35px,#3960eb 36px,#4040c7 40px,#4242b8 68px,#4444af 91px,#4040c6 127px,#4044c8 132px,#3d52d7 137px,#3a65e6 139px,#3aa3e6 142px,#2ecce6 144px,#23d3d8 145px,#07cca0 147px,#04b738 152px,#03b51f 155px,#01b302 162px,#1dbb00 165px,#48c700 168px,#4ec900 169px,#48c700 170px,#35c200 171px,#10b800 172px,#00b91b 173px,#00dba7 176px,#1ee3de 177px,#32c4f0 178px,#3b96f0 179px,#396ff0 180px,#3961ed 181px,#3c52dd 185px,#3c54de 186px,#3960eb 187px,#34baf0 188px,#00d590 189px,#36c200 190px,#e0ed00 191px,#f7cc00 192px,#f8ca00 193px,#f0ef00 194px,#a5df00 195px,#2abf00 196px,#00c140 197px,#00d48d 198px,#02ddae 199px,#1ee4df 200px,#35b9f0 201px,#3b8cf0 202px,#3970f0 203px,#386af0 204px,#3971f0 208px,#3971f0 214px,#3a5ce7 219px,#4040c8 229px,#4040c8 251px"></i><i style="--g:#00b507,#00b507 13px,#00b91a 14px,#00c65b 28px,#00d287 30px,#00d9a1 31px,#1de3dd 33px,#2cd8f0 34px,#3c9af0 36px,#3865f0 38px,#4040c8 43px,#4040c5 51px,#3e4acf 53px,#4141c3 55px,#4444a9 87px,#4242ba 111px,#4044ca 131px,#3c54da 136px,#3a6be9 138px,#3d97e9 140px,#33bde9 142px,#2bd7e9 143px,#1ed8d5 144px,#0cd4b5 145px,#04c883 147px,#03b830 151px,#02b513 155px,#01b302 158px,#32c100 166px,#41c500 168px,#42c600 169px,#37c300 170px,#1bbb00 171px,#00b60c 172px,#00bf37 173px,#00d695 175px,#10e0c7 176px,#2bdbf0 177px,#39acf0 178px,#3a85f0 179px,#3869f0 180px,#3a5de8 182px,#3c54de 186px,#3960eb 187px,#33bff0 188px,#00d289 189px,#5dcd00 190px,#f2e500 191px,#faa900 192px,#faa100 193px,#f7cd00 194px,#c5e600 195px,#4fc900 196px,#00bf39 197px,#00d288 198px,#01dcac 199px,#1fe4e1 200px,#36b4f0 201px,#3b8af0 202px,#396ef0 203px,#386bf0 204px,#3971f0 208px,#3971f0 214px,#3a5ce7 219px,#4040c8 229px,#4040c8 251px"></i><i style="--g:#0db800,#0db800 14px,#00b60a 15px,#00b91b 16px,#00c65b 30px,#00ca6c 31px,#00d99e 33px,#1ae2d7 35px,#29e2f0 36px,#3b92f0 39px,#3864ef 41px,#4040c6 47px,#4040c6 49px,#3f49cf 50px,#3a5be3 51px,#3a71ea 52px,#3963e9 53px,#4141c2 55px,#4545a5 86px,#4343b0 107px,#4042c7 129px,#3c56dd 135px,#3a5fe7 136px,#3c9eeb 139px,#28dee9 142px,#1adbd1 143px,#06d6ae 144px,#02bc3b 149px,#02b721 151px,#01b302 155px,#2abf01 159px,#36c200 162px,#32c100 168px,#26be00 169px,#11b800 170px,#00b70d 171px,#00be31 172px,#00c862 173px,#07deb5 175px,#24e5ea 176px,#3c9ef0 178px,#3867f0 180px,#3c54de 185px,#3c53de 186px,#395feb 187px,#32c2f0 188px,#00d184 189px,#76d400 190px,#f6d400 191px,#fa8b00 192px,#f77800 193px,#faa900 194px,#e8ee00 195px,#78d400 196px,#00be30 197px,#00d183 198px,#00dcaa 199px,#21e4e3 200px,#38aff0 201px,#3a88f0 202px,#396cf0 203px,#3971f0 214px,#3a5be6 219px,#4040c8 229px,#4040c8 251px"></i><i style="--g:#42c600,#42c600 14px,#09b700 16px,#00b60c 17px,#00ba1c 18px,#00c65b 32px,#00c969 33px,#03dcae 36px,#20e4e1 38px,#2bdbf0 39px,#3b94ef 42px,#3969ef 44px,#3d4ed6 48px,#3c54dc 49px,#396eec 50px,#34b9eb 51px,#25dbe1 52px,#3aa4e9 53px,#3a5fe5 54px,#4046c8 55px,#4141c1 57px,#4646a2 86px,#44a 106px,#4043c6 128px,#3b58e0 134px,#3961ea 135px,#3aa4ec 138px,#2eceed 140px,#24dfe4 141px,#02d7a7 143px,#01bb32 148px,#01b409 152px,#03b401 153px,#4cc800 158px,#5bcc00 160px,#52ca00 163px,#25be00 167px,#00b503 169px,#00b91a 170px,#00c03b 171px,#04ddb0 174px,#1de3dd 175px,#2ed2f0 176px,#38aef0 177px,#3a7df0 179px,#3869f0 180px,#3b58e3 183px,#3c53dd 186px,#395fea 187px,#32c4f0 188px,#00d183 189px,#80d600 190px,#f7cb00 191px,#f67300 192px,#ed5300 193px,#fa8900 194px,#f3e000 195px,#9add00 196px,#00bc26 197px,#00cf7e 198px,#00dca9 199px,#22e5e6 200px,#39aaf0 201px,#3a85f0 202px,#3869f0 203px,#3971f0 207px,#3971f0 214px,#3a5be6 219px,#4040c8 229px,#4040c8 251px"></i><i style="--g:#5bcc00,#5bcc00 15px,#07b600 18px,#00ba1c 20px,#00c761 35px,#00d99f 38px,#12e0ca 40px,#1fe3e0 41px,#2adeef 42px,#3c9bef 45px,#3864ee 48px,#3a7ced 49px,#35b6ec 50px,#24dde2 51px,#20dbda 52px,#2ecfea 53px,#3b81e8 54px,#3d53d7 55px,#4141c2 56px,#46469f 86px,#4545a6 107px,#4044c4 127px,#3b5ae1 133px,#3962eb 134px,#39a9ed 137px,#2cd6ed 139px,#20dfde 140px,#02d6a1 142px,#01bb2a 147px,#00b301 151px,#71d200 157px,#86d800 159px,#84d700 161px,#6dd100 163px,#43c600 165px,#08b600 167px,#00b711 168px,#00c34d 170px,#00d590 172px,#06deb5 173px,#1ce3da 174px,#2dd6f0 175px,#3c9df0 177px,#3864f0 180px,#3d4fd9 185px,#3c52dc 186px,#395fea 187px,#32c4f0 188px,#00d184 189px,#77d400 190px,#f7cc00 191px,#f36900 192px,#e73f00 193px,#f57000 194px,#f7ce00 195px,#a9e000 196px,#00ba1d 197px,#00ce79 198px,#00dca8 199px,#24e5ea 200px,#3aa6f0 201px,#3867f0 203px,#3971f0 206px,#3971f0 214px,#3a5be6 219px,#4040c8 228px,#4040c8 251px"></i><i style="--g:#ade100,#ade100 15px,#7ed600 16px,#58cc00 17px,#07b600 20px,#00ba1c 22px,#00c65b 37px,#00ce7a 39px,#04dcb0 42px,#28e4ee 45px,#3aa6ee 48px,#3aa5ed 49px,#34baed 50px,#2bdaec 51px,#20dbdb 52px,#23dade 53px,#34b9e9 54px,#3b79e8 55px,#3d51d4 56px,#4141bf 59px,#46469d 86px,#4545a3 108px,#4145c1 126px,#3d53d7 131px,#3a68e9 133px,#3d98ea 135px,#2added 138px,#0adab7 140px,#02d49a 141px,#01ba25 146px,#00b405 149px,#0ab601 150px,#66cf00 154px,#95dc00 156px,#a4df00 159px,#96dc00 162px,#60ce00 164px,#0eb800 166px,#00b816 167px,#00cf7d 170px,#00d89e 171px,#0bdfbe 172px,#20e4e1 173px,#2dd3f0 174px,#3ca0f0 176px,#3864f0 179px,#3d4ed7 184px,#3c51db 186px,#395fea 187px,#33c1f0 188px,#00d289 189px,#5dcd00 190px,#f5d600 191px,#f67200 192px,#e73f00 193px,#f26600 194px,#f9c300 195px,#b4e300 196px,#00b816 197px,#00cd75 198px,#00dca9 199px,#27e6ed 200px,#3ba4f0 201px,#3a80f0 202px,#3868f0 203px,#3971f0 206px,#3971f0 214px,#3a5be6 219px,#4040c8 228px,#4040c8 251px"></i><i style="--g:#cbe800,#cbe800 16px,#aae100 17px,#7ad400 18px,#3cc400 20px,#07b600 22px,#00ba1c 24px,#00c65c 40px,#00cd77 42px,#01daa8 45px,#21e1e1 48px,#2addee 49px,#2cd7ed 50px,#2added 51px,#22ddde 52px,#20dbda 53px,#29dbe8 54px,#36b2e9 55px,#3b7ee7 56px,#3b5ce1 57px,#4242b9 64px,#46469d 86px,#4646a0 109px,#4244b9 124px,#3d54d4 130px,#3b5ddf 131px,#3c9de7 134px,#30c8ea 136px,#26dce4 137px,#04d7ac 139px,#01bc32 144px,#01b91f 145px,#01b401 148px,#42c500 151px,#97dc00 154px,#b2e200 157px,#b0e200 160px,#9cdd00 162px,#80d600 163px,#1ebc00 165px,#00b812 166px,#00c968 168px,#00dba8 170px,#26e6ed 172px,#3c9bf0 175px,#396ef0 177px,#3a5be6 179px,#3e4bd4 185px,#3d4ed8 186px,#395eea 187px,#34bcf0 188px,#00d590 189px,#36c200 190px,#f2e800 191px,#fa8b00 192px,#ec5200 193px,#f46e00 194px,#f9c200 195px,#b9e400 196px,#00b710 197px,#00cc73 198px,#00dcaa 199px,#29e4f0 200px,#3ca1f0 201px,#3a7ef0 202px,#3869f0 203px,#3971f0 206px,#3970f0 214px,#395ee9 218px,#4040c8 228px,#4040c8 251px"></i><i style="--g:#eaef00,#eaef00 17px,#a9e000 19px,#79d400 20px,#3dc400 22px,#09b600 24px,#00b60b 25px,#00b91b 26px,#00c558 42px,#00c65e 44px,#04daae 49px,#1cded7 51px,#20dddb 53px,#21dbdc 54px,#2adbea 55px,#33bde9 56px,#3d96e7 57px,#3b6be4 59px,#3c59da 61px,#4344b4 69px,#47479c 87px,#4646a0 111px,#4346b4 123px,#3d56d2 129px,#3b5edc 130px,#3aa2e3 133px,#2ecde6 135px,#20d5d5 136px,#05d0a0 138px,#02b928 143px,#01b305 146px,#09b501 147px,#30c001 149px,#88d800 152px,#9edd00 153px,#bde500 156px,#c2e600 158px,#b6e300 160px,#9d0 162px,#6cd100 163px,#32c100 164px,#00b60b 165px,#00ca6b 167px,#03ddb0 169px,#18e2d5 170px,#2ae0f0 171px,#3b92f0 174px,#3864f0 176px,#3c53dd 179px,#3e48d1 185px,#3d4cd5 186px,#395ee9 187px,#36b7f0 188px,#00d79a 189px,#07b600 190px,#d8eb00 191px,#faab00 192px,#f77600 193px,#fa8600 194px,#f8c900 195px,#b7e300 196px,#00b70f 197px,#00cc72 198px,#01dcac 199px,#2adff0 200px,#3c9ef0 201px,#3a7bf0 202px,#386af0 203px,#3971f0 206px,#3970f0 214px,#395ee9 218px,#4040c8 228px,#4040c8 251px"></i><i style="--g:#fabc00,#fabc00 17px,#e9ef00 19px,#aae100 21px,#7dd500 22px,#59cc00 23px,#0bb700 26px,#00b60a 27px,#00b91b 28px,#00c454 44px,#01c55c 47px,#01cf87 50px,#02d9a9 51px,#14dcc8 52px,#1fdeda 53px,#20dad9 56px,#29dae7 57px,#3d94e4 60px,#3b60de 63px,#4249ba 70px,#4646a2 80px,#47479a 102px,#4545a9 120px,#4051c5 127px,#3d64d5 129px,#3e8fdb 131px,#2acddc 134px,#0cccad 136px,#03b730 141px,#03b41b 142px,#02b206 144px,#13b702 146px,#36c101 148px,#8cd901 151px,#ade100 153px,#c8e700 156px,#c7e700 158px,#b4e300 160px,#a2df00 161px,#7fd600 162px,#00b505 164px,#00cb6d 166px,#07deb6 168px,#1ee3de 169px,#2cd9f0 170px,#3ba2f0 172px,#396ff0 174px,#3b58e2 176px,#3f45cd 184px,#3e49d3 186px,#395ee9 187px,#37b1f0 188px,#00daa3 189px,#00ba1c 190px,#b1e200 191px,#f6d000 192px,#fa9e00 193px,#faa300 194px,#f5d800 195px,#aee100 196px,#00b813 197px,#00cc73 198px,#03ddb0 199px,#2cd8f0 200px,#3c9bf0 201px,#3978f0 202px,#386af0 203px,#3971f0 207px,#396ff0 214px,#395ee9 218px,#4040c8 228px,#4040c8 251px"></i><i style="--g:#fa9c00,#fa9c00 18px,#f5d900 20px,#ebef00 21px,#ade100 23px,#5ccc00 25px,#0db800 28px,#00b608 29px,#00b919 30px,#00c350 46px,#01c45a 50px,#01cc79 51px,#01d7a3 52px,#17decf 53px,#1fdfdb 54px,#1cddd5 55px,#10d8be 56px,#0bd5b5 57px,#14d6c2 58px,#22d7d9 59px,#2dd0e7 60px,#3e8fe2 63px,#3c61db 66px,#424ab7 73px,#4646a0 84px,#46469c 110px,#4447ab 121px,#4052c1 126px,#3e58ca 127px,#3c92d4 130px,#30bfd9 132px,#14c2b0 134px,#0abc82 136px,#09b96b 137px,#06b232 139px,#04ad09 141px,#2ebe03 146px,#52c802 148px,#88d701 150px,#abe001 152px,#c7e700 155px,#c8e700 157px,#b6e300 159px,#a5df00 160px,#85d800 161px,#00b504 163px,#00cb70 165px,#00d696 166px,#0adfbc 167px,#21e4e4 168px,#2ed3f0 169px,#3c99f0 171px,#3864f0 173px,#3c51db 176px,#4042ca 184px,#3e48d1 186px,#395ee9 187px,#39abf0 188px,#01dcac 189px,#00c03b 190px,#7dd500 191px,#ebef00 192px,#f8c700 193px,#f9c500 194px,#f1eb00 195px,#9fde00 196px,#00b91a 197px,#00cd76 198px,#07deb6 199px,#2ed0f0 200px,#3b98f0 201px,#3975f0 202px,#386bf0 203px,#3971f0 208px,#396ff0 214px,#3a5de8 218px,#4040c8 228px,#4040c8 251px"></i><i style="--g:#f56f00,#f56f00 18px,#fa9b00 20px,#f5d700 22px,#edef00 23px,#afe200 25px,#5dcd00 27px,#11b800 30px,#00b505 31px,#00ba1d 33px,#01c350 50px,#01c764 51px,#01d28e 52px,#0bdcba 53px,#1ee0db 54px,#1cdfd7 55px,#06d8b0 56px,#03d095 57px,#04cc8c 58px,#04d1a1 59px,#2bd6e5 62px,#3e87df 66px,#3c5dd7 69px,#4348b0 77px,#46469d 89px,#46469e 114px,#434baf 122px,#4153be 125px,#405bc5 126px,#3a95ce 129px,#35abd1 130px,#2bb5c8 131px,#12b69e 133px,#0eb070 135px,#09a81a 138px,#18ac10 139px,#31b50d 140px,#40bd09 142px,#47c205 145px,#5ac903 147px,#98db02 150px,#bfe501 154px,#c1e500 156px,#b1e200 158px,#a1de00 159px,#7cd500 160px,#3dc400 161px,#00b60a 162px,#00cd76 164px,#00d79a 165px,#24e5e9 167px,#38adf0 169px,#3974f0 171px,#3960ec 172px,#3d4fd9 175px,#4040c8 182px,#3e47d0 186px,#395fea 187px,#39a9f0 188px,#06ddb4 189px,#00c556 190px,#2fc000 191px,#bae400 192px,#f1ea00 193px,#f2e500 194px,#d8eb00 195px,#7ed600 196px,#00bc26 197px,#00ce7b 198px,#0bdfbe 199px,#31c7f0 200px,#3b93f0 201px,#3971f0 202px,#396cf0 203px,#3971f0 209px,#396ef0 214px,#3a5ae4 219px,#4040c8 228px,#4040c8 251px"></i><i style="--g:#ee5a00,#ee5a00 19px,#fa9900 22px,#f0f000 25px,#8eda00 28px,#60ce00 29px,#02b500 33px,#00b91a 35px,#00c248 51px,#01ce7b 52px,#01d9a6 53px,#18e0d2 54px,#1ae0d5 55px,#09dbb6 56px,#02d08f 57px,#02c876 58px,#03c97b 59px,#04cf9c 61px,#1cd4ce 63px,#2ad5e3 64px,#3e8adf 68px,#3c5fd7 71px,#4348b3 78px,#4646a0 88px,#46469d 112px,#444bac 121px,#4153bb 124px,#3e83c5 127px,#32a8c7 129px,#18aba0 131px,#13a775 133px,#0fa133 135px,#19a21c 136px,#52b715 138px,#69c012 139px,#7ac90d 141px,#72ce05 146px,#81d403 148px,#a4de02 151px,#b5e201 154px,#b0e100 156px,#95dc00 158px,#64cf00 159px,#25be00 160px,#00b919 161px,#00c450 162px,#00cf7e 163px,#00daa2 164px,#28e6f0 166px,#3aa5f0 168px,#386af0 170px,#3b54df 172px,#4040c8 180px,#4042ca 185px,#3e49d2 186px,#3960ec 187px,#38aff0 188px,#09deba 189px,#00ca6c 190px,#00b70e 191px,#8eda00 192px,#cae700 193px,#d4ea00 194px,#b9e400 195px,#4bc800 196px,#00bf36 197px,#00d082 198px,#11e0c8 199px,#34bcf0 200px,#3b8ff0 201px,#396df0 202px,#396ef0 214px,#3b56e1 220px,#4040c8 228px,#4040c8 251px"></i><i style="--g:#e03300,#e03300 19px,#fa8100 23px,#fa9700 24px,#f0ee00 27px,#98dd00 30px,#67cf00 31px,#00b401 36px,#00b91a 38px,#00c03d 51px,#00d593 53px,#09ddb8 54px,#01daa9 55px,#01c86c 57px,#02c460 58px,#02c569 59px,#04d2a1 62px,#22d6d9 65px,#2cd4e7 66px,#3e87df 70px,#3c5cd7 73px,#4444ae 81px,#46469c 100px,#4548a4 117px,#4155ba 123px,#3d85c2 126px,#3899c4 127px,#21a1a6 129px,#199f7f 131px,#15983a 133px,#2e9f26 134px,#59ae22 135px,#7cbb1e 136px,#8fc31b 137px,#a5d012 140px,#a4d50b 143px,#92d704 148px,#a4de01 153px,#9edd01 155px,#90da01 156px,#6ed100 157px,#3ec400 158px,#00b401 159px,#00c865 161px,#02dcad 163px,#1ae2d7 164px,#2bddf0 165px,#3c9cf0 167px,#3863ee 169px,#3d50d9 172px,#4040c8 179px,#4042ca 185px,#3d4cd6 186px,#3862ee 187px,#35b9f0 188px,#0adfbc 189px,#00ce7a 190px,#00be34 191px,#4ac800 192px,#a3df00 193px,#aee100 194px,#9bdd00 195px,#13b900 196px,#00c34a 197px,#00d38c 198px,#18e2d4 199px,#36b5f0 200px,#3a89f0 201px,#396df0 202px,#3971f0 213px,#3a5ce7 218px,#4040c8 228px,#4040c8 251px"></i><i style="--g:#d52300,#d52300 20px,#ee5700 23px,#fa9400 26px,#f1ea00 29px,#bee500 31px,#a3df00 32px,#7ad400 33px,#4ac800 35px,#00b400 39px,#00b917 41px,#00be33 51px,#00c144 52px,#00c866 53px,#00ca6c 54px,#00c559 55px,#01bd31 56px,#01b81c 57px,#01bd37 59px,#02cf8b 62px,#03c875 63px,#03d3a0 64px,#1ddad4 65px,#29dbe7 66px,#3d89e2 71px,#3c5ddb 74px,#4343b2 81px,#46469e 101px,#4548a4 116px,#4251b4 121px,#4267bb 123px,#3598be 126px,#1f9b9a 128px,#1b976e 130px,#199348 131px,#2c972e 132px,#63aa2a 133px,#8bb727 134px,#b1c61f 136px,#cdd516 139px,#d1dd0e 142px,#97d805 148px,#8ad701 153px,#7ad401 154px,#60cd01 155px,#3dc401 156px,#0eb700 157px,#00ba20 158px,#00ce79 160px,#00d799 161px,#0cdfbf 162px,#21e4e3 163px,#2ed2f0 164px,#3b92f0 166px,#3974f0 167px,#395feb 168px,#3c52dc 170px,#4040c8 177px,#4041c9 185px,#3d50d9 186px,#3866f0 187px,#32c4f0 188px,#0adebb 189px,#00d185 190px,#00c452 191px,#1bbb00 192px,#6dd100 193px,#86d800 194px,#5bcc00 195px,#00b917 196px,#00c75f 197px,#00d798 198px,#20e4e2 199px,#38adf0 200px,#3a84f0 201px,#396df0 202px,#3971f0 209px,#3971f0 213px,#3a5ce7 218px,#4040c8 228px,#4040c8 251px"></i><i style="--g:#d21f00,#d42200 22px,#ed5500 25px,#fa9000 28px,#f3e100 31px,#e6ee00 32px,#9ede00 35px,#72d300 36px,#06b600 42px,#00b812 44px,#00ba1e 46px,#00bd2c 53px,#00b402 55px,#2dbf01 57px,#39c201 58px,#32c001 59px,#0cb602 60px,#01ba27 61px,#01b203 62px,#6dce03 63px,#5eca04 64px,#03bc3e 65px,#23dee2 66px,#2dd3eb 67px,#3d8ee7 71px,#3a60e2 74px,#4242b7 81px,#4646a1 103px,#4547a6 115px,#4252b7 120px,#3f7cbd 123px,#3a8ec0 124px,#3297b8 125px,#209791 127px,#1e957d 128px,#1d8d35 130px,#85b02d 132px,#bcc226 134px,#cac022 135px,#dcbb16 139px,#e4c80e 142px,#e4e40b 144px,#a7da06 147px,#62cc02 152px,#2fc001 154px,#0bb601 155px,#00b91a 156px,#00ca6b 158px,#00dcaa 160px,#17e2d2 161px,#29e4f0 162px,#3aa6f0 164px,#3869f0 166px,#3c54de 168px,#4040c8 175px,#4041c9 185px,#3c53de 186px,#3970f0 187px,#2ed1f0 188px,#08deb8 189px,#00d48d 190px,#00c865 191px,#00b503 192px,#34c200 193px,#4ac800 194px,#16ba00 195px,#00bf38 196px,#00dba6 198px,#29e3f0 199px,#3ba5f0 200px,#3a7ef0 201px,#396ef0 202px,#3971f0 213px,#3a5be6 218px,#4040c8 228px,#4040c8 251px"></i><i style="--g:#ce1800,#d01b00 22px,#d42100 24px,#ed5300 27px,#fa8900 30px,#f6d300 33px,#f1e900 34px,#e1ed00 35px,#9fde00 38px,#7bd500 39px,#61ce00 40px,#00b400 46px,#00b91b 49px,#00ba1d 52px,#00b816 53px,#00b506 54px,#22bd00 55px,#4fc900 56px,#88d800 57px,#a8e000 58px,#b5e201 59px,#a6df01 61px,#d5e901 62px,#f1df02 63px,#f5c602 64px,#f5c303 65px,#bfe204 66px,#02c975 67px,#30c7ed 68px,#3c92ea 71px,#3a61e6 74px,#4242bb 81px,#4545a5 106px,#4449ab 115px,#4154ba 119px,#3e82c0 122px,#3995c1 123px,#2f99b4 124px,#21989e 125px,#1e9271 127px,#1c8d49 128px,#3a9535 129px,#7caa32 130px,#bcb32e 131px,#c5b927 133px,#d6981e 136px,#e39513 140px,#e9a60e 142px,#e6e409 145px,#addc06 147px,#98d805 148px,#5dca03 150px,#46c403 151px,#04b302 153px,#01b81a 154px,#00d082 157px,#00d9a0 158px,#21e4e4 160px,#2dd5f0 161px,#3c9af0 163px,#3862ee 165px,#3d4fd9 168px,#4040c8 174px,#4040c8 184px,#3f44cd 185px,#3b58e2 186px,#3a84f0 187px,#2adef0 188px,#06deb5 189px,#00d593 190px,#00c968 191px,#00b814 192px,#08b600 193px,#1abb00 194px,#00ba20 195px,#00c557 196px,#00d081 197px,#08deb8 198px,#2ed1f0 199px,#3c9cf0 200px,#3977f0 201px,#396ef0 202px,#3970f0 213px,#395ee9 217px,#4040c8 227px,#4040c8 251px"></i><i style="--g:#cc1500,#ce1800 23px,#d42100 26px,#eb4e00 29px,#fa9200 33px,#f2e800 37px,#e4ed00 38px,#8eda00 42px,#69d000 43px,#00b400 50px,#00b70e 52px,#00b60d 53px,#07b600 54px,#72d200 56px,#aee100 57px,#dceb00 58px,#f2e300 59px,#f4d900 60px,#f9b101 61px,#f99201 63px,#f16701 64px,#e13701 65px,#d11f02 66px,#f47802 67px,#c3e303 68px,#2cd8ee 69px,#3aa6ed 70px,#3962ea 74px,#4141bf 81px,#4444a9 109px,#434ab1 115px,#4055bf 118px,#3c8ac3 121px,#369dc4 122px,#1f9c9a 124px,#1d9885 125px,#1c9363 126px,#1a8d39 127px,#70a633 128px,#c08630 129px,#b33b2d 130px,#b5392a 131px,#c86727 132px,#ce9d24 133px,#d57a1e 135px,#d96c19 137px,#e16c11 140px,#ea860d 142px,#e9d909 145px,#d2e307 146px,#94d705 148px,#61ca04 149px,#0bb503 151px,#01b617 152px,#00d697 156px,#06ddb4 157px,#29e1f0 159px,#3b8ff0 162px,#3972f0 163px,#395fea 164px,#3c52dc 166px,#4040c8 173px,#4040c8 184px,#3e49d2 185px,#3a5ce7 186px,#3b98f0 187px,#26e5ec 188px,#06ddb4 189px,#00d797 190px,#00c864 191px,#0b2 192px,#00b812 193px,#00b70e 194px,#00c34b 195px,#00d591 197px,#14e1cd 198px,#33bff0 199px,#3b93f0 200px,#3971f0 201px,#396ff0 213px,#3a5ae5 218px,#4040c8 227px,#4040c8 251px"></i><i style="--g:#ca1200,#cc1500 24px,#d42100 28px,#e94600 31px,#fa9300 36px,#f3e300 40px,#ebef00 41px,#9ede00 45px,#64cf00 47px,#23bd00 52px,#21bd00 53px,#2dc000 54px,#4fc900 55px,#b8e400 57px,#f1ec00 58px,#f9c200 59px,#fa8600 60px,#ea4a00 61px,#da2b00 62px,#ce1900 63px,#cd1701 64px,#c1181f 65px,#dc5499 66px,#ea6fc9 67px,#e158aa 68px,#f78002 69px,#37c102 70px,#3c97ee 71px,#3963ec 74px,#4141c2 81px,#4444af 111px,#414fbc 116px,#3f56c4 117px,#417dc8 119px,#34a6c8 121px,#1ba198 123px,#1a9c7f 124px,#199657 125px,#5fa331 126px,#c28a2e 127px,#a3232c 128px,#ba58ae 129px,#c38ccd 130px,#bf56ac 131px,#a31324 132px,#cd5b1f 133px,#d2651d 134px,#cf501a 135px,#ce4518 136px,#d8480f 140px,#de550e 141px,#ed8f0a 143px,#ebd608 145px,#d3e407 146px,#7cd105 148px,#02b203 150px,#01c96e 153px,#01dba9 155px,#24e4e8 157px,#35b9f0 159px,#3c9ff0 160px,#3868f0 162px,#3c54de 164px,#4040c8 171px,#4040c8 184px,#3960ec 186px,#39a9f0 187px,#21e4e4 188px,#08deb7 189px,#00d89e 190px,#00c65a 191px,#00bd2e 192px,#00bb23 193px,#00bd2f 194px,#00ca6c 195px,#00d081 196px,#00daa3 197px,#20e4e2 198px,#37b2f0 199px,#3b8af0 200px,#3970f0 201px,#396df0 213px,#3b56e1 219px,#4040c8 227px,#4040c8 251px"></i><i style="--g:#c50b00,#c70e00 24px,#d62300 31px,#ee5800 35px,#fa8e00 39px,#f1eb00 44px,#d1e900 46px,#9cdd00 49px,#7dd500 50px,#67cf00 51px,#56cb00 53px,#5acc00 54px,#6ad000 55px,#8bd900 56px,#b7e300 57px,#f1ed00 58px,#fab400 59px,#eb4d00 60px,#cd1700 61px,#bf0506 62px,#c53545 63px,#e862bc 64px,#ed78d2 65px,#f097e0 66px,#e4e4e5 67px,#e7e7e7 68px,#efa2e2 69px,#c43241 70px,#f8a601 71px,#01ba27 72px,#3973ef 73px,#3863ee 74px,#4040c5 81px,#4343b4 111px,#3f55c9 116px,#3e65ce 117px,#3a97d0 119px,#33b0d0 120px,#17aa97 122px,#16a379 123px,#80b02b 124px,#c7882a 125px,#a41d28 126px,#bf5eb4 127px,#c79dd1 128px,#c1c1d2 129px,#bdbdce 130px,#cecadc 131px,#c95bb2 132px,#ac1f32 133px,#cd4118 134px,#c63116 135px,#c72c12 137px,#d4370d 140px,#dc460c 141px,#ef8e09 143px,#ebdb07 145px,#c9e206 146px,#9eda05 147px,#08b303 149px,#01cc79 152px,#01d597 153px,#09ddb9 154px,#1ae1d7 155px,#2addf0 156px,#3b94f0 159px,#3862ee 161px,#3d4fd9 164px,#4040c8 170px,#4040c8 184px,#3868f0 186px,#35b8f0 187px,#1de3dd 188px,#09deba 189px,#00d99f 190px,#00c34c 191px,#00bf37 192px,#00bd2f 193px,#00d182 195px,#00d694 196px,#08deb9 197px,#2bddf0 198px,#3aa6f0 199px,#3a81f0 200px,#3970f0 201px,#3971f0 212px,#3a5ce7 217px,#4040c8 227px,#4040c8 251px"></i><i style="--g:#c30800,#c50b00 25px,#d72500 34px,#f16200 39px,#fa9800 43px,#f0ee00 48px,#a3df00 53px,#98dd00 54px,#80d600 55px,#89d800 56px,#a8e000 57px,#d8eb00 58px,#faaa00 59px,#e74000 60px,#c40a00 61px,#c3232d 62px,#e65bb5 63px,#f0c7e8 64px,#d7d7d8 65px,#c8c8c8 66px,#dcdcdc 68px,#e9e9e9 70px,#ef9ae0 71px,#c2202a 72px,#f9b001 73px,#01b91d 74px,#3865ef 75px,#3c52db 77px,#4040c6 81px,#4243bb 111px,#3f52cb 115px,#3c5cd6 116px,#3b97d7 118px,#33b4d7 119px,#22bac0 120px,#129e3f 121px,#c7c424 122px,#cb6523 123px,#a52036 124px,#c96dc4 125px,#ccacd6 126px,#c4c4d3 127px,#b6b6c2 130px,#a1a1ac 131px,#b7b7c3 132px,#d994d6 133px,#b00b13 134px,#be1e11 135px,#c21e0e 137px,#d6360a 140px,#e04c09 141px,#f19b07 143px,#eaea05 145px,#b7df05 146px,#7ad104 147px,#1bb803 148px,#01b928 149px,#01c45a 150px,#01d79f 152px,#21e3e3 154px,#2dd3ef 155px,#3ba4f0 157px,#3971f0 159px,#395fea 160px,#3c51db 162px,#4040c8 169px,#4040c8 183px,#3f45ce 184px,#3b57e2 185px,#3a7df0 186px,#31c5f0 187px,#1be3d9 188px,#0bdfbe 189px,#00d593 190px,#00c244 191px,#00bf39 193px,#00ce7a 194px,#00d695 195px,#00dba6 196px,#17e2d3 197px,#31c6f0 198px,#3c9af0 199px,#3979f0 200px,#3970f0 201px,#3971f0 212px,#3a5be6 217px,#4040c8 227px,#4040c8 251px"></i><i style="--g:#c40900,#c50a00 27px,#d62400 37px,#f36900 43px,#fa8b00 46px,#f4dc00 51px,#f1ea00 52px,#daeb00 54px,#b0e200 56px,#ace100 57px,#e1ed00 58px,#faa500 59px,#e94600 60px,#bf0200 61px,#c84356 62px,#ef7dd7 63px,#d9d9d9 64px,#999 66px,#9b9b9b 67px,#b3b3b3 68px,#d4d4d4 69px,#e9e9ea 72px,#f09ee1 73px,#c63d4e 74px,#f97f01 75px,#b2e201 76px,#00d79d 77px,#3c52dc 78px,#4040c7 80px,#4144c1 111px,#3c59d7 115px,#3c98de 116px,#0eb47d 117px,#78bc1c 118px,#d5ba1c 119px,#d3641b 120px,#a91120 121px,#cc5eb5 122px,#d390d4 123px,#d4d0df 124px,#c9c9d5 125px,#c3c3ce 127px,#b7b7c2 128px,#82828b 130px,#75757e 131px,#909099 132px,#c7c7cf 133px,#c54c7b 134px,#bb120d 135px,#bb100c 136px,#d43009 139px,#df4308 140px,#f28b06 142px,#eed905 144px,#cfe504 145px,#9ada04 146px,#37c003 147px,#01b81e 148px,#01c458 149px,#01d9a5 151px,#25e4eb 153px,#3c9df0 156px,#3869f0 158px,#3c54de 160px,#4040c8 167px,#4040c8 183px,#3e4ad3 184px,#3a5ce8 185px,#3b8ef0 186px,#2ed0f0 187px,#1be3d9 188px,#0fe0c3 189px,#00d080 190px,#00c245 191px,#00c142 192px,#00c34d 193px,#00d798 194px,#00dba6 195px,#0adfbc 196px,#25e5eb 197px,#37b3f0 198px,#3970f0 200px,#396ff0 212px,#395ee9 216px,#4040c8 226px,#4040c8 251px"></i><i style="--g:#da2a00,#da2a00 25px,#c70d00 27px,#c20600 28px,#d42100 40px,#ed5400 45px,#fa8a00 50px,#f8c600 54px,#f3e100 55px,#e6ee00 56px,#d0e900 57px,#f6d100 58px,#fa9000 59px,#e23600 60px,#c01014 61px,#d75087 62px,#f0c1e7 63px,#cecece 64px,#9b9b9b 65px,#747474 66px,#737373 67px,#7c7c7c 68px,#8e8e8e 69px,#d4d4d4 71px,#e5e5e6 74px,#f0c4e8 75px,#ee7dd7 76px,#c1171d 77px,#f77a00 78px,#e8ee01 79px,#00bb24 80px,#25e4e9 81px,#3c51db 82px,#4040c7 83px,#4044c5 110px,#3b9ee5 111px,#09c28c 112px,#36b312 113px,#d1d912 114px,#e49812 115px,#d34013 116px,#b11a29 117px,#d35bb3 118px,#db7fd3 119px,#dadae3 121px,#cdcdd6 123px,#c8c8d0 125px,#b8b8c0 126px,#87878e 128px,#595960 131px,#76767c 132px,#c6c6cb 133px,#db59b1 134px,#b7070c 135px,#c41608 137px,#e03e06 139px,#f48705 141px,#f1d004 143px,#e0e903 144px,#a9de03 145px,#52c803 146px,#01b612 147px,#01c353 148px,#01daa7 150px,#28e5ef 152px,#3b98f0 155px,#3864ef 157px,#3d50d9 160px,#4040c8 166px,#4040c8 183px,#3961ed 185px,#3c9cf0 186px,#2cd9f0 187px,#1be3d9 188px,#0fe0c5 189px,#00ca6b 190px,#00c246 191px,#00c244 192px,#00ca6c 193px,#02ddae 194px,#08deb9 195px,#18e2d4 196px,#2dd4f0 197px,#3aa5f0 198px,#3a85f0 199px,#396ff0 200px,#3971f0 211px,#3a5de8 216px,#4040c8 226px,#4040c8 251px"></i><i style="--g:#e63c00,#e63c00 26px,#c30700 30px,#d62400 44px,#f05f00 50px,#fa8a00 54px,#f9c400 56px,#fabe00 57px,#fa9200 58px,#ee5600 59px,#cf1a00 60px,#c32530 61px,#ea69c3 62px,#f0e9ef 63px,#ccc 64px,#a1a1a1 65px,#5a5a5a 67px,#4d4d4d 68px,#717171 70px,#8a8a8a 71px,#cecece 73px,#e6e6e6 77px,#f0d1ea 78px,#f096e0 79px,#e967c1 80px,#bf0709 81px,#f06000 82px,#f9c100 83px,#c5e601 84px,#18ba01 85px,#00cd78 86px,#1ce2d9 87px,#3c9def 88px,#3a5ae4 89px,#4040c8 90px,#4040c5 102px,#3f45cb 103px,#396ceb 104px,#2cd6eb 105px,#04c984 106px,#09af09 107px,#b9dc09 108px,#ecc109 109px,#ec760a 110px,#c71f0a 111px,#bd3c51 112px,#e174cd 113px,#e38dd9 114px,#e3d8e7 116px,#dbdbe0 117px,#ccccd2 122px,#c2c2c7 123px,#8c8c91 126px,#646469 129px,#6b6b6f 130px,#7d7d81 131px,#9b9b9f 132px,#d3d3d7 133px,#db57a6 134px,#bc131b 135px,#c00c05 136px,#ca1a05 137px,#db3405 138px,#f58604 140px,#f3cd03 142px,#e9ec03 143px,#b3e002 144px,#67ce02 145px,#01b407 146px,#01c24d 147px,#01cf7f 148px,#01dba8 149px,#29e1f0 151px,#3b93f0 154px,#3862ee 156px,#3d4fd8 159px,#4040c8 165px,#4042ca 183px,#386bf0 185px,#3aa9f0 186px,#29e3f0 187px,#09deba 189px,#00c556 190px,#00c247 191px,#00c246 192px,#00d38b 193px,#0cdfbe 194px,#12e1ca 195px,#24e5ea 196px,#3c99f0 198px,#3a7bf0 199px,#396ff0 200px,#3971f0 208px,#396cf0 212px,#3d50d9 220px,#4040c8 226px,#4040c8 251px"></i><i style="--g:#ee5800,#ee5800 27px,#e13500 29px,#c20600 33px,#d62400 48px,#ec5000 53px,#f26500 54px,#fa8600 55px,#fa9c00 56px,#fa9500 57px,#f26600 58px,#d82800 59px,#c1151b 60px,#d44e7f 61px,#ee79d3 62px,#e8e8e8 63px,#cbcbcb 64px,#bcbcbc 65px,#5a5a5a 68px,#3e3e3e 69px,#404040 70px,#828282 73px,#bcbcbc 75px,#d4d4d4 76px,#e7e7e7 81px,#f0e2ed 82px,#f091df 84px,#ee79d3 85px,#d8518a 86px,#c11920 87px,#ce1900 88px,#e84501 89px,#f77901 90px,#f9bb01 92px,#f1e201 94px,#ecee01 95px,#daea02 97px,#eeec02 99px,#f0dc02 100px,#f6a103 102px,#f16f03 103px,#db3204 104px,#bc090d 105px,#cc4b73 106px,#e977d0 107px,#eb8ddc 108px,#ead4e9 110px,#e4e4e7 111px,#d1d1d4 117px,#c7c7ca 119px,#88888b 123px,#7a7a7d 127px,#b3b3b6 131px,#dfdfe1 133px,#e25cb5 134px,#bf1b24 135px,#c51003 136px,#d42703 137px,#e74b03 138px,#f78003 139px,#f4ce02 141px,#eaed02 142px,#b7e202 143px,#71d101 144px,#01b301 145px,#01c148 146px,#00ce7e 147px,#00dba9 148px,#2adff0 150px,#3b90f0 153px,#3960ec 155px,#3d4ed8 158px,#4040c8 164px,#4040c8 182px,#3f47cf 183px,#3a59e4 184px,#397af0 185px,#37b3f0 186px,#29e4f0 187px,#1ee3de 188px,#00daa3 189px,#00c349 190px,#00c248 191px,#00c450 192px,#01dcac 193px,#13e1cb 194px,#1be3d9 195px,#2cd8f0 196px,#38aef0 197px,#3973f0 199px,#3970f0 211px,#3a5be6 216px,#3f42cb 225px,#3f42cb 251px"></i><i style="--g:#fa8300,#fa8300 28px,#ec4f00 30px,#ca1200 35px,#c30700 36px,#d52200 52px,#da2900 53px,#e73e00 54px,#fa8100 56px,#fa9000 57px,#f87d00 58px,#df3100 59px,#c1171e 60px,#e760ba 61px,#f0afe4 62px,#e4e4e4 63px,#bbb 66px,#ababab 67px,#676767 69px,#383838 71px,#393939 72px,#c8c8c8 79px,#d4d4d4 80px,#e8e8e8 88px,#f0eff0 89px,#f0bde7 92px,#efa1e1 95px,#ef9ee1 98px,#efaae3 100px,#efc8e8 102px,#eedeec 103px,#ebebec 104px,#dcdcdd 108px,#d1d1d2 113px,#7d7d7f 119px,#676769 122px,#6a6a6b 124px,#7d7d7f 125px,#b0b0b1 127px,#ccccce 129px,#dfdfe0 132px,#edd1e9 133px,#e665bf 134px,#c32e3c 135px,#c40d02 136px,#e43d02 137px,#f37102 138px,#f5cd01 140px,#e9ed01 141px,#b6e201 142px,#71d101 143px,#02b401 144px,#00c146 145px,#00cf7d 146px,#00dba8 147px,#16e1d0 148px,#2adef0 149px,#3aa7f0 151px,#3971f0 153px,#395fea 154px,#3c51db 156px,#4040c8 162px,#4040c8 182px,#395ee9 184px,#3a88f0 185px,#33c0f0 186px,#28e6f0 187px,#21e4e4 188px,#00d286 189px,#00c349 190px,#00c248 191px,#00c967 192px,#13e1cc 193px,#25e5eb 195px,#3ca1f0 197px,#396cf0 199px,#3972f0 202px,#396ff0 211px,#3a5ae5 216px,#3f45cd 224px,#3f45cd 251px"></i><i style="--g:#fabb00,#fabb00 28px,#f97d00 31px,#eb4e00 33px,#cc1500 38px,#c20600 40px,#d11c00 53px,#e94800 55px,#f98000 57px,#fa8b00 58px,#fa8300 59px,#d62300 60px,#cd4969 61px,#f09ce1 62px,#e2e2e2 63px,#d2d2d2 66px,#a3a3a3 69px,#666 71px,#2d2d2d 74px,#c7c7c7 84px,#d3d3d3 85px,#dcdcdd 99px,#d2d2d3 107px,#787879 114px,#434344 120px,#3f3f40 121px,#6f6f70 123px,#c7c7c8 126px,#dcdcdc 127px,#ededee 129px,#eeeeef 130px,#efdbec 132px,#efbae6 133px,#ee7dd7 134px,#c64154 135px,#c70f01 136px,#f16501 137px,#f99a01 138px,#f7c801 139px,#ebee01 140px,#b4e201 141px,#6ad001 142px,#00b404 143px,#00c249 144px,#00cf7f 145px,#00dba8 146px,#17e1d2 147px,#2adef0 148px,#3aa5f0 150px,#396df0 152px,#3c54de 154px,#4040c8 161px,#4040c8 182px,#3862ee 184px,#3b97f0 185px,#2fcef0 186px,#25e5ea 187px,#1be3da 188px,#00ca6a 189px,#00c349 190px,#00c349 191px,#00d285 192px,#1ee4df 193px,#22e4e5 194px,#2cd9f0 195px,#3b97f0 197px,#3a7cf0 198px,#396cf0 199px,#3972f0 202px,#396df0 211px,#3c53dd 218px,#3f44cc 224px,#3f44cc 251px"></i><i style="--g:#f5d700,#f5d700 29px,#fa9200 33px,#ec5100 36px,#cf1a00 41px,#c30700 43px,#cd1700 53px,#e94500 55px,#f97f00 57px,#fa9400 58px,#fa9600 59px,#fa8500 60px,#df3100 61px,#d75088 62px,#f0a4e2 63px,#e7e7e7 64px,#cecece 68px,#a4a4a4 71px,#5a5a5a 74px,#303030 77px,#505050 80px,#a4a4a4 89px,#bfbfbf 95px,#bcbcbc 100px,#a1a1a1 104px,#2f2f2f 116px,#4a4a4b 119px,#6a6a6a 121px,#d2d2d2 125px,#e2e2e2 126px,#efdcec 127px,#efb1e4 128px,#efa5e2 129px,#efbee7 131px,#efbfe7 132px,#ef9de1 133px,#eb6fc9 134px,#c53342 135px,#d82800 136px,#f98800 137px,#f8c400 138px,#f0f000 139px,#b3e200 140px,#5fcd00 141px,#00b60c 142px,#00c450 143px,#00d184 144px,#00dcaa 145px,#19e2d5 146px,#2bdcf0 147px,#3ba2f0 149px,#3869f0 151px,#3c54de 153px,#4040c8 160px,#3f43cb 182px,#396ef0 184px,#3aa5f0 185px,#2bdcf0 186px,#21e4e4 187px,#0edfc2 188px,#00c554 189px,#00c349 190px,#00c34a 191px,#00dba6 192px,#20e4e1 193px,#26e6ed 194px,#39abf0 196px,#3975f0 198px,#396df0 199px,#3971f0 204px,#3971f0 210px,#3a5ce7 215px,#3f46cf 223px,#3f46cf 251px"></i><i style="--g:#ecef00,#ecef00 30px,#fab900 34px,#fa8400 37px,#ea4a00 40px,#c20700 47px,#c70d00 52px,#cc1500 53px,#e84200 55px,#f87d00 57px,#faab00 59px,#faad00 60px,#fa9300 61px,#ef5b00 62px,#c00d11 63px,#ea6bc5 64px,#f0bde7 65px,#e5e5e5 66px,#cecece 70px,#9b9b9b 74px,#606060 77px,#333 81px,#303030 82px,#5c5c5c 88px,#737373 95px,#6d6d6d 101px,#4a4a4a 107px,#313131 110px,#39393a 112px,#676767 117px,#e0e0e0 125px,#f0e9ef 126px,#f0b7e6 127px,#f0a1e2 128px,#f09ee1 129px,#f0a6e2 130px,#f0a4e2 131px,#f085dc 132px,#e864be 133px,#c42e3b 134px,#d52200 135px,#f46d00 136px,#fab700 137px,#f0ef00 138px,#b3e200 139px,#54ca00 140px,#00b816 141px,#00c65b 142px,#00d38b 143px,#03ddb0 144px,#1ce3db 145px,#2cdaf0 146px,#3c9ff0 148px,#3865f0 150px,#3d50d9 153px,#4040c8 159px,#4040c8 181px,#3e47d0 182px,#3a5ae5 183px,#3a7cf0 184px,#36b4f0 185px,#29e2f0 186px,#21e4e4 187px,#00d9a1 188px,#00c34a 189px,#00c349 190px,#00c557 191px,#11e0c7 192px,#21e4e3 193px,#29e4f0 194px,#3ba2f0 196px,#396df0 198px,#3971f0 203px,#396ff0 210px,#3a5be6 215px,#3e48d1 222px,#3e48d1 251px"></i><i style="--g:#bfe500,#bfe500 31px,#ebef00 33px,#fabd00 37px,#f87b00 41px,#ec5200 43px,#da2900 47px,#c20600 52px,#ca1200 53px,#e73f00 55px,#f87a00 57px,#fac000 60px,#f6d100 61px,#fab700 62px,#fa8d00 63px,#e84300 64px,#c3232d 65px,#ed75cf 66px,#f0c7e9 67px,#e4e4e4 68px,#d3d3d3 72px,#a3a3a3 77px,#5a5a5a 82px,#343434 88px,#2e2e2e 90px,#3c3c3c 97px,#2d2d2d 103px,#595959 110px,#a7a7a7 117px,#cececf 122px,#e8e8e8 125px,#f0dfed 126px,#f0bfe7 127px,#f089dd 130px,#ec71cb 131px,#cf4b70 132px,#c00300 133px,#e23600 134px,#f97e00 135px,#f8c700 136px,#e8ee00 137px,#aee100 138px,#46c700 139px,#00bb21 140px,#00c967 141px,#08deb8 143px,#20e4e1 144px,#2dd5f0 145px,#3c9af0 147px,#3862ee 149px,#3d4fd9 152px,#4040c8 158px,#4040c8 181px,#395fea 183px,#3b8bf0 184px,#32c2f0 185px,#27e6ef 186px,#21e4e4 187px,#00d081 188px,#00c349 189px,#00c349 190px,#00cb70 191px,#1ce3dc 192px,#23e5e8 193px,#2cd9f0 194px,#3c9af0 196px,#386af0 198px,#3972f0 201px,#396df0 210px,#3c53de 217px,#3e4ad3 221px,#3e4ad3 251px"></i><i style="--g:#8ad900,#8ad900 32px,#bce400 34px,#e5ee00 36px,#f1ea00 37px,#fa9700 43px,#ec5200 47px,#d62400 52px,#e43800 54px,#ef5d00 56px,#fa9100 58px,#f6d300 61px,#f2e800 62px,#f1e900 63px,#f9c400 64px,#fa8f00 65px,#e33800 66px,#c42a36 67px,#ed76d0 68px,#f0c1e8 69px,#e6e6e6 70px,#d3d3d3 75px,#929292 83px,#626262 89px,#505050 96px,#585858 102px,#7d7d7d 107px,#aaa 112px,#d6d6d6 120px,#ececec 125px,#f0cbe9 126px,#f0a1e2 127px,#f081db 128px,#ea6bc5 129px,#d54e80 130px,#c1181f 131px,#d21e00 132px,#f26600 133px,#fab700 134px,#f2e400 135px,#d2e900 136px,#9ede00 137px,#2cc000 138px,#00be31 139px,#00cc73 140px,#00d89b 141px,#24e5e9 143px,#37b1f0 145px,#3976f0 147px,#3960ec 148px,#3c52dc 150px,#4040c8 156px,#4040c8 181px,#3863ef 183px,#3c9af0 184px,#2ed1f0 185px,#24e5e9 186px,#1ae3d8 187px,#00c865 188px,#00c349 189px,#00c349 190px,#00d48d 191px,#21e4e4 192px,#26e5ec 193px,#2ed0f0 194px,#3b93f0 196px,#3979f0 197px,#396cf0 198px,#3971f0 203px,#3970f0 209px,#3a5ce7 214px,#3d4cd6 220px,#3d4cd6 251px"></i><i style="--g:#2ec000,#2ec000 33px,#4fc900 34px,#80d600 35px,#a1de00 36px,#eff000 40px,#faa500 46px,#f36900 50px,#ea4b00 52px,#fa9800 57px,#f2e700 62px,#ddec00 63px,#bde500 64px,#cfe900 65px,#f5d500 66px,#fa9700 67px,#e53a00 68px,#c21e26 69px,#e967c1 70px,#f0a3e2 71px,#f0ecef 72px,#e2e2e2 73px,#ccc 80px,#a7a7a7 88px,#909090 96px,#979797 101px,#d5d5d5 115px,#e5e5e5 122px,#f0e9ef 123px,#f085dd 125px,#e967c1 126px,#d14c76 127px,#c32630 128px,#c00300 129px,#d92800 130px,#f26500 131px,#fab000 132px,#f4da00 133px,#e1ed00 134px,#b3e200 135px,#6dd100 136px,#00b400 137px,#00c349 138px,#00d080 139px,#00dba6 140px,#16e1d0 141px,#28e4f0 142px,#3aa9f0 144px,#396ff0 146px,#3b55df 148px,#4040c8 155px,#4040c8 180px,#3f44cc 181px,#3b56e1 182px,#3971f0 183px,#3aa9f0 184px,#2addf0 185px,#21e4e4 186px,#0adfbc 187px,#00c450 188px,#00c34a 190px,#02ddae 191px,#21e4e4 192px,#28e6f0 193px,#3aa8f0 195px,#3972f0 197px,#396ef0 198px,#3971f0 208px,#395ee9 213px,#3d4ed8 219px,#3d4ed8 251px"></i><i style="--g:#00b402,#00b402 34px,#3ec400 37px,#97dc00 39px,#f0ee00 44px,#fa9200 52px,#faad00 56px,#eff000 61px,#a6e000 64px,#7fd600 65px,#41c500 66px,#f0f000 68px,#faaf00 69px,#ee5900 70px,#c30700 71px,#ca475f 72px,#ed77d1 73px,#f0a8e3 74px,#f0e2ed 75px,#e6e6e6 76px,#bbb 95px,#c2c2c2 103px,#d8d8d8 111px,#e8e8e8 118px,#f0e1ed 119px,#f08ede 121px,#eb70ca 122px,#d54e80 123px,#c3222c 124px,#c70d00 125px,#df3100 126px,#ec5100 127px,#f87900 128px,#f6d200 130px,#f2e400 131px,#e0ec00 132px,#b8e400 133px,#85d700 134px,#23bd00 135px,#00bc28 136px,#00c968 137px,#07deb6 139px,#1ee3de 140px,#2cd9f0 141px,#3c9ff0 143px,#3866f0 145px,#3c50da 148px,#4040c8 154px,#4040c8 180px,#3e49d2 181px,#3a5be6 182px,#3a80f0 183px,#35b8f0 184px,#29e4f0 185px,#21e4e4 186px,#00d79a 187px,#00c34a 188px,#00c349 189px,#00c65c 190px,#15e1cf 191px,#22e5e6 192px,#2ae0f0 193px,#3ca0f0 195px,#396cf0 197px,#3971f0 203px,#3971f0 208px,#3a5ce8 213px,#3c50da 218px,#3c50da 251px"></i><i style="--g:#00be32,#00be32 34px,#00b507 37px,#09b600 38px,#32c100 40px,#51ca00 41px,#7cd500 42px,#9dde00 43px,#f0ef00 48px,#f6d000 51px,#f7cc00 52px,#f0ee00 58px,#c5e700 61px,#9cdd00 63px,#1ebc00 65px,#00b813 66px,#00c65b 68px,#00bd2d 69px,#9d0 70px,#f2e700 71px,#fa9e00 72px,#e94600 73px,#c40900 74px,#c63848 75px,#e861bb 76px,#f082dc 77px,#f0dfed 79px,#e8e8e8 80px,#dadada 87px,#d8d8d8 104px,#e6e6e6 112px,#f0eff0 113px,#f083dc 116px,#eb6fc9 117px,#dc5395 118px,#c53341 119px,#bf0607 120px,#d52200 121px,#ec5100 122px,#fa8700 123px,#f1eb00 126px,#c8e700 127px,#bbe400 128px,#bde500 129px,#b4e300 130px,#a1df00 131px,#73d300 132px,#27be00 133px,#00ba1c 134px,#00c553 135px,#00d081 136px,#00daa2 137px,#26e5ec 139px,#3b94f0 142px,#3961ed 144px,#3d4fd9 147px,#4040c8 153px,#4040c8 180px,#3960ec 182px,#3b90f0 183px,#31c8f0 184px,#26e6ed 185px,#1fe4e1 186px,#00ce79 187px,#00c349 188px,#00c349 189px,#00cd77 190px,#1ee4df 191px,#25e5ea 192px,#2cd7f0 193px,#3c9af0 195px,#396cf0 197px,#3971f0 201px,#396ff0 208px,#3a5be6 213px,#3d4fd9 218px,#3d4fd9 251px"></i><i style="--g:#00cd74,#00cd74 35px,#00bf38 37px,#00b402 41px,#35c200 44px,#9cdd00 47px,#dbeb00 51px,#dfec00 52px,#bbe400 57px,#97dc00 60px,#57cb00 62px,#30c100 63px,#00b608 64px,#00c450 66px,#00ca6c 67px,#00d9a1 70px,#02dcad 71px,#00c349 72px,#6dd100 73px,#e0ec00 74px,#fabd00 75px,#f77600 76px,#de3000 77px,#bf0200 78px,#c5303e 79px,#dd5498 80px,#ec71cb 81px,#f085dd 82px,#f0deed 85px,#eee 86px,#e0e0e0 91px,#e3e3e3 104px,#ebebeb 106px,#f0e3ee 107px,#f088dd 110px,#ed75cf 111px,#e559b2 112px,#c74255 113px,#c21920 114px,#c70e00 115px,#de3000 116px,#f05f00 117px,#fa9800 118px,#f0ef00 120px,#b5e300 121px,#5ccc00 122px,#00b710 123px,#00c659 124px,#00b814 126px,#0bb700 127px,#21bd00 128px,#23bd00 129px,#13b900 130px,#00b60a 131px,#00d696 135px,#06deb5 136px,#1de3dc 137px,#2bdbf0 138px,#3ba4f0 140px,#396df0 142px,#3b55e0 144px,#4040c8 151px,#4041c9 180px,#3869f0 182px,#3ca1f0 183px,#2cd8f0 184px,#23e5e7 185px,#16e2d1 186px,#00c75d 187px,#00c349 188px,#00c34a 189px,#00d696 190px,#21e4e4 191px,#27e6ee 192px,#3b94f0 195px,#3979f0 196px,#396ef0 197px,#396df0 208px,#3b57e2 214px,#3c51db 218px,#3c51db 251px"></i><i style="--g:#07deb6,#07deb6 36px,#00d080 38px,#00c967 39px,#00c245 40px,#00bc26 42px,#00b401 45px,#33c200 48px,#4cc800 49px,#94db00 51px,#97dc00 52px,#8cd900 54px,#64cf00 57px,#1bbb00 60px,#00b401 61px,#00bd2f 63px,#00cb70 65px,#00dcaa 68px,#1ae3d8 71px,#24e5e8 74px,#00d592 75px,#00b812 76px,#a2df00 77px,#f1ec00 78px,#fabb00 79px,#fa8e00 80px,#ee5800 81px,#dd2f00 82px,#c91000 83px,#c00f13 84px,#c9475e 86px,#dd5498 87px,#e861bb 88px,#ef80da 91px,#f0a0e1 95px,#f0a2e2 98px,#f08ede 101px,#ee7ad4 103px,#e65cb6 105px,#d04c73 106px,#c53241 107px,#c01116 108px,#c80e00 109px,#ec5200 111px,#fa9400 112px,#f8ca00 113px,#deec00 114px,#90da00 115px,#00b812 116px,#00ca6c 117px,#00dca9 118px,#28e6f0 119px,#33bff0 120px,#2bdbf0 121px,#1de3dc 122px,#00d9a1 124px,#00cb70 126px,#00c556 128px,#00c555 129px,#00ca6c 131px,#00dcaa 134px,#23e5e8 136px,#2ed0f0 137px,#3b97f0 139px,#3863ef 141px,#3c50da 144px,#4040c8 150px,#4040c8 179px,#3f47cf 180px,#3a59e4 181px,#3979f0 182px,#37b2f0 183px,#2ae1f0 184px,#21e4e4 185px,#02ddae 186px,#00c34a 187px,#00c44f 189px,#09deb9 190px,#21e4e4 191px,#28e4f0 192px,#3aa8f0 194px,#3973f0 196px,#3970f0 207px,#3a5ce7 212px,#3c53dd 217px,#3c53dd 251px"></i><i style="--g:#27e6ef,#27e6ef 37px,#20e4e2 38px,#00dca8 40px,#00c760 43px,#00c13f 44px,#00b504 49px,#19bb00 51px,#00b506 53px,#00b919 57px,#00c34c 61px,#02dcad 66px,#23e5e7 69px,#2ae0f0 70px,#31c6f0 73px,#32c5f0 75px,#2dd4f0 77px,#29e3f0 78px,#00daa2 79px,#00c13f 80px,#4bc800 81px,#b0e200 82px,#e4ed00 83px,#f5d900 84px,#fa8d00 87px,#ea4a00 90px,#dd2f00 92px,#cd1600 96px,#cf1900 99px,#e23600 102px,#e94700 103px,#fa9200 105px,#f3e100 107px,#c3e600 108px,#61ce00 109px,#00bd2f 110px,#00d48c 111px,#23e5e8 112px,#3b97f0 113px,#3b58e3 114px,#3868f0 116px,#3a81f0 117px,#3aa6f0 118px,#29e1f0 120px,#00dcaa 124px,#00d694 128px,#00d89b 130px,#04ddb1 132px,#29e3f0 135px,#38aef0 137px,#396ff0 139px,#3b56e0 141px,#4040c8 149px,#4040c8 179px,#395eea 181px,#3b8bf0 182px,#32c3f0 183px,#27e6ef 184px,#21e4e4 185px,#00d389 186px,#00c349 187px,#00c349 188px,#00c966 189px,#1ae3d8 190px,#23e5e7 191px,#2bddf0 192px,#3ca1f0 194px,#396ef0 196px,#396ef0 207px,#3a5be6 212px,#3b55df 217px,#3b55df 251px"></i><i style="--g:#32c5f0,#32c5f0 38px,#2adff0 40px,#25e5ea 41px,#1de3dd 42px,#00dba5 44px,#00c864 47px,#00c246 48px,#00bc2a 50px,#00bb25 51px,#00ce78 59px,#00d490 62px,#04ddb1 64px,#27e6ef 67px,#37b1f0 71px,#3ba2f0 74px,#38aef0 77px,#2adef0 80px,#24e5e9 81px,#1ce3da 84px,#02ddae 85px,#00b919 88px,#23bd00 89px,#98dd00 91px,#bee500 93px,#d6ea00 95px,#e0ec00 97px,#daeb00 99px,#c4e600 101px,#9bdd00 103px,#59cc00 104px,#0eb800 105px,#00be34 106px,#00ca6b 107px,#00d591 108px,#00d694 113px,#06ddb4 117px,#11e0c8 120px,#10e0c6 125px,#0bdfbd 128px,#0fe0c5 130px,#26e6ed 133px,#32c3f0 135px,#3b8cf0 137px,#386af0 138px,#3a5be6 139px,#4040c8 147px,#4040c8 179px,#3864f0 181px,#3c9ef0 182px,#2dd3f0 183px,#24e5e9 184px,#1be3d9 185px,#00c968 186px,#00c349 187px,#00c349 188px,#00d185 189px,#21e4e4 190px,#25e5ec 191px,#2dd4f0 192px,#3c9af0 194px,#3a80f0 195px,#3970f0 196px,#3971f0 206px,#3a5ce8 211px,#3b57e1 216px,#3b57e1 251px"></i><i style="--g:#3ba2f0,#3ba2f0 39px,#2ae0f0 44px,#1ee4df 46px,#00dcaa 48px,#00cc73 51px,#00c966 53px,#00d99f 60px,#08deb8 62px,#20e4e2 64px,#29e1f0 65px,#3aa7f0 69px,#3a85f0 73px,#3a85f0 76px,#3b97f0 78px,#32c2f0 81px,#26e6ed 90px,#0fe0c5 101px,#0ee0c3 111px,#12e1ca 114px,#23e5e8 119px,#20e4e1 128px,#28e5f0 131px,#35b9f0 134px,#3a89f0 136px,#386bf0 137px,#3a5ae5 138px,#3f43cb 144px,#4040c8 178px,#3f46cf 179px,#3b58e3 180px,#3979f0 181px,#37b0f0 182px,#2ae0f0 183px,#21e4e4 184px,#08deb9 185px,#00c44f 186px,#00c34a 188px,#01dcab 189px,#21e4e4 190px,#28e6f0 191px,#3b93f0 194px,#3979f0 195px,#3971f0 196px,#396ff0 206px,#3a5be6 211px,#3b58e3 251px"></i><i style="--g:#3b8ef0,#3b92f0 41px,#37b0f0 44px,#27e6ee 49px,#08deb8 54px,#00dca8 58px,#18e2d4 62px,#23e5e7 63px,#2bdbf0 64px,#3b98f0 68px,#3979f0 71px,#396df0 75px,#3a7cf0 78px,#3c9bf0 81px,#2bdbf0 99px,#29e1f0 110px,#2dd4f0 117px,#2fcdf0 121px,#2cd7f0 127px,#2ed0f0 130px,#34bcf0 132px,#3a82f0 135px,#3868f0 136px,#3d50d9 139px,#4040c8 145px,#4040c8 178px,#395fea 180px,#3b8df0 181px,#32c3f0 182px,#28e6ef 183px,#21e4e4 184px,#00d48f 185px,#00c349 186px,#00c349 187px,#00c75e 188px,#16e2d1 189px,#22e5e6 190px,#29e1f0 191px,#3aa6f0 193px,#3973f0 195px,#396cf0 206px,#3a5ae5 212px,#3a5ae5 251px"></i><i style="--g:#3a83f0,#3a87f0 42px,#3b97f0 46px,#32c2f0 50px,#2fcef0 56px,#2bdbf0 60px,#2dd6f0 62px,#37b1f0 65px,#3a84f0 68px,#3867f0 71px,#3961ed 76px,#3869f0 78px,#3a83f0 81px,#36b3f0 101px,#37b2f0 113px,#39a9f0 122px,#35b9f0 126px,#38aff0 130px,#3c9bf0 132px,#3862ee 135px,#4041c9 142px,#4042ca 178px,#386af0 180px,#3ba2f0 181px,#2dd5f0 182px,#24e5e8 183px,#1be3d9 184px,#00ca6b 185px,#00c349 186px,#00c349 187px,#00d080 188px,#20e4e3 189px,#25e5ea 190px,#2cd7f0 191px,#3c9ef0 193px,#3971f0 195px,#396ff0 205px,#3a5ce7 210px,#3a5ce7 251px"></i><i style="--g:#3a7cf0,#3a80f0 44px,#3c9ef0 55px,#3b96f0 60px,#3a88f0 64px,#3862ee 70px,#3a5de8 77px,#3971f0 83px,#3b93f0 101px,#3b93f0 125px,#3b8ff0 129px,#3a83f0 131px,#3961ed 134px,#4040c8 141px,#4040c8 177px,#3e49d2 178px,#3a5be6 179px,#3a81f0 180px,#36b6f0 181px,#29e1f0 182px,#21e4e4 183px,#06ddb4 184px,#00c44e 185px,#00c34a 187px,#00dba8 188px,#21e4e4 189px,#27e6ef 190px,#3b97f0 193px,#3a7ef0 194px,#3971f0 195px,#396df0 205px,#3960ec 209px,#3960ec 251px"></i><i style="--g:#3972f0,#3975f0 45px,#3a83f0 50px,#3977f0 56px,#396ff0 62px,#395fea 66px,#3a59e4 77px,#3864f0 87px,#3a7cf0 103px,#397af0 121px,#3972f0 129px,#3960ec 133px,#4040c8 141px,#4040c8 177px,#3863ef 179px,#3b97f0 180px,#30caf0 181px,#26e6ed 182px,#21e4e4 183px,#00d287 184px,#00c349 185px,#00c349 186px,#00c761 187px,#18e2d4 188px,#22e5e6 189px,#29e2f0 190px,#3aa9f0 192px,#3976f0 194px,#3971f0 201px,#386af0 205px,#3962ed 208px,#3962ed 251px"></i><i style="--g:#3867f0,#386af0 46px,#3974f0 50px,#395ee9 62px,#3c53dd 75px,#3961ec 91px,#3863ef 118px,#3862ee 129px,#3c51db 135px,#4040c8 140px,#4040c8 176px,#3f46ce 177px,#3b58e3 178px,#3979f0 179px,#38adf0 180px,#2adef0 181px,#22e5e6 182px,#15e1cf 183px,#00c75e 184px,#00c349 185px,#00c349 186px,#00d287 187px,#21e4e4 188px,#25e5eb 189px,#2cd7f0 190px,#3ca0f0 192px,#3971f0 194px,#396df0 204px,#3863ef 207px,#3863ef 251px"></i><i style="--g:#3961ed,#3962ed 55px,#3d4ed8 72px,#395feb 104px,#3a59e4 130px,#4040c8 139px,#4040c8 176px,#3961ed 178px,#3b91f0 179px,#32c3f0 180px,#28e6f0 181px,#21e4e4 182px,#00d99e 183px,#00c34a 184px,#00c450 186px,#08deb7 187px,#21e4e4 188px,#28e6ef 189px,#3b98f0 192px,#3a7ef0 193px,#3971f0 194px,#3970f0 203px,#3865f0 206px,#3865f0 251px"></i><i style="--g:#3a5de8,#3a5ce8 57px,#3e4ad3 73px,#3a5ae5 106px,#3c50da 130px,#4040c8 138px,#4040c8 175px,#3f44cd 176px,#3b57e2 177px,#3975f0 178px,#3aa8f0 179px,#2cd8f0 180px,#24e5e8 181px,#1ce3da 182px,#00cb6f 183px,#00c349 184px,#00c349 185px,#00cc72 186px,#1ce3dc 187px,#2adff0 189px,#3aa8f0 191px,#3974f0 193px,#396df0 203px,#3868f0 207px,#3868f0 251px"></i><i style="--g:#3b59e3,#3b56e1 60px,#3f46cf 75px,#3b55df 106px,#3e4bd4 129px,#4040c8 138px,#4040c8 175px,#3960ec 177px,#3b8ef0 178px,#33bff0 179px,#29e4f0 180px,#21e4e4 181px,#03ddaf 182px,#00c34d 183px,#00c34a 185px,#00daa1 186px,#21e4e4 187px,#26e6ed 188px,#2dd3f0 189px,#3c9ff0 191px,#3971f0 193px,#3970f0 202px,#386af0 206px,#386af0 251px"></i><i style="--g:#3b54df,#3c52dc 62px,#4042ca 77px,#3d50d9 107px,#3e47d0 127px,#4040c8 138px,#4040c8 174px,#3f45ce 175px,#3b58e2 176px,#3974f0 177px,#3aa6f0 178px,#2dd5f0 179px,#24e5ea 180px,#1ee4df 181px,#00ce7b 182px,#00c349 183px,#00c349 184px,#00c864 185px,#18e2d4 186px,#29e4f0 188px,#3b95f0 191px,#397af0 192px,#3971f0 193px,#3971f0 251px"></i><i style="--g:#3d4fd9,#3d4cd6 65px,#4040c8 79px,#3e4ad3 112px,#4040c8 139px,#4040c8 174px,#3961ed 176px,#3b8ff0 177px,#33bef0 178px,#29e3f0 179px,#21e4e4 180px,#07deb6 181px,#00c452 182px,#00c349 183px,#00c34a 184px,#00d693 185px,#21e4e4 186px,#25e5eb 187px,#2cd8f0 188px,#3ba4f0 190px,#3971f0 192px,#3971f0 251px"></i><i style="--g:#3e4bd4,#3e49d2 67px,#4040c8 81px,#4040c8 124px,#4040c8 173px,#3e47d0 174px,#3a59e4 175px,#3978f0 176px,#3aa8f0 177px,#2dd6f0 178px,#24e5ea 179px,#1fe4df 180px,#00d07f 181px,#00c349 182px,#00c349 183px,#00c75d 184px,#12e0c9 185px,#21e4e4 186px,#28e6f0 187px,#3c99f0 190px,#3a7ef0 191px,#3971f0 192px,#3971f0 251px"></i><i style="--g:#3e47d0,#3f45cd 70px,#4040c8 88px,#4041c9 173px,#3863ef 175px,#3b93f0 176px,#32c2f0 177px,#28e4f0 178px,#21e4e4 179px,#07deb6 180px,#00c553 181px,#00c349 182px,#00c34a 183px,#00d48d 184px,#21e4e4 185px,#25e5ea 186px,#2bdbf0 187px,#3aa7f0 189px,#3972f0 191px,#3971f0 251px"></i><i style="--g:#3f45ce,#4042ca 73px,#4041c9 172px,#3a5ce8 174px,#3a7ff0 175px,#38aef0 176px,#2cdaf0 177px,#24e5e9 178px,#1de3dd 179px,#00cf7b 180px,#00c349 181px,#00c349 182px,#00c75d 183px,#10e0c7 184px,#21e4e4 185px,#28e6ef 186px,#3c9bf0 189px,#3a81f0 190px,#3971f0 191px,#3971f0 251px"></i><i style="--g:#3f44cc,#4040c8 171px,#3f44cd 172px,#396cf0 174px,#3c9bf0 175px,#31c8f0 176px,#28e6f0 177px,#21e4e4 178px,#02dcad 179px,#00c44e 180px,#00c34a 182px,#00d48f 183px,#21e4e4 184px,#24e5ea 185px,#2bdcf0 186px,#3b8ef0 189px,#3974f0 190px,#3971f0 251px"></i><i style="--g:#4042ca,#4042ca 171px,#3961ec 173px,#35b7f0 175px,#2ae0f0 176px,#1ae3d8 178px,#00cb70 179px,#00c349 180px,#00c349 181px,#00c761 182px,#14e1cc 183px,#21e4e4 184px,#28e6ef 185px,#3c9cf0 188px,#3a82f0 189px,#3971f0 190px,#3971f0 251px"></i><i style="--g:#4041c9,#4042ca 170px,#3e4ad4 171px,#3a5be6 172px,#3979f0 173px,#3aa7f0 174px,#2ed1f0 175px,#26e5ec 176px,#21e4e4 177px,#00d89b 178px,#00c34a 179px,#00c34a 181px,#00d799 182px,#21e4e4 183px,#25e5ea 184px,#2bdbf0 185px,#3aa8f0 187px,#3974f0 189px,#3971f0 251px"></i><i style="--g:#4040c8,#4041c9 169px,#3f46ce 170px,#386af0 172px,#3b98f0 173px,#32c3f0 174px,#29e4f0 175px,#21e4e4 176px,#10e0c6 177px,#00c75f 178px,#00c349 179px,#00c349 180px,#00cb6e 181px,#1ae2d7 182px,#28e6f0 184px,#3c9bf0 187px,#3a81f0 188px,#3971f0 189px,#3971f0 251px"></i><i style="--g:#4040c8,#4041c9 168px,#3f43cc 169px,#3962ed 171px,#36b5f0 173px,#2addf0 174px,#23e5e8 175px,#1ee3de 176px,#00d081 177px,#00c349 178px,#00c450 180px,#02dcad 181px,#21e4e4 182px,#26e5ec 183px,#2cd8f0 184px,#3aa6f0 186px,#3973f0 188px,#3973f0 251px"></i><i style="--g:#4040c8,#4041c9 167px,#3f43cc 168px,#395ee9 170px,#3a7ef0 171px,#39a9f0 172px,#2ed2f0 173px,#26e6ed 174px,#21e4e4 175px,#00dba6 176px,#00c44e 177px,#00c349 179px,#00d182 180px,#1ee4df 181px,#29e3f0 183px,#3b98f0 186px,#3b98f0 251px"></i><i style="--g:#4040c8,#3f43cc 167px,#3e4ad4 168px,#3a5ae5 169px,#3973f0 170px,#3c9ef0 171px,#31c7f0 172px,#28e5f0 173px,#21e4e4 174px,#11e0c8 175px,#00c863 176px,#00c349 177px,#00c349 178px,#00c761 179px,#11e0c7 180px,#21e4e4 181px,#27e6ee 182px,#34bbf0 184px,#34bbf0 251px"></i><i style="--g:#4040c8,#3f43cb 166px,#3e47d0 167px,#386af0 169px,#3b95f0 170px,#29e1f0 172px,#1ce3db 174px,#00d07f 175px,#00c349 176px,#00c34b 178px,#00daa1 179px,#21e4e4 180px,#25e5ea 181px,#2bddf0 182px,#32c5f0 183px,#32c5f0 251px"></i><i style="--g:#4040c8,#3f43cb 165px,#3f45ce 166px,#3863ef 168px,#36b4f0 170px,#2bdaf0 171px,#25e5ea 172px,#21e4e4 173px,#00d79a 174px,#00c34a 175px,#00c34a 177px,#00d081 178px,#1de3dd 179px,#28e6f0 181px,#28e6f0 251px"></i><i style="--g:#4040c8,#3f43cb 164px,#3f45ce 165px,#3961ec 167px,#38acf0 169px,#2ed2f0 170px,#26e6ed 171px,#21e4e4 172px,#06ddb4 173px,#00c659 174px,#00c349 175px,#00c349 176px,#00c966 177px,#12e1ca 178px,#21e4e4 179px,#21e4e4 251px"></i><i style="--g:#4040c8,#3f42cb 163px,#3f44cd 164px,#395eea 166px,#3a7df0 167px,#3aa5f0 168px,#30cbf0 169px,#28e6f0 170px,#21e4e4 171px,#13e1cb 172px,#00ca6a 173px,#00c349 174px,#00c349 175px,#00c554 176px,#00c554 251px"></i><i style="--g:#4040c8,#4042ca 162px,#3d4cd5 164px,#3a5be6 165px,#3975f0 166px,#3c9ff0 167px,#29e3f0 169px,#1be3d9 171px,#00cf7c 172px,#00c34a 173px,#00c349 251px"></i><i style="--g:#4040c8,#3f43cb 162px,#3e49d2 163px,#396cf0 165px,#3b96f0 166px,#29e1f0 168px,#1fe4e0 170px,#00d48f 171px,#00c34a 172px,#00c34a 251px"></i><i style="--g:#4040c8,#4042ca 161px,#3f47cf 162px,#3864f0 164px,#3b8ef0 165px,#2bdcf0 167px,#24e5ea 168px,#21e4e4 171px,#21e4e4 251px"></i><i style="--g:#4040c8,#4041c9 160px,#3f44cd 161px,#3961ed 163px,#38aff0 165px,#2dd6f0 166px,#2dd6f0 251px"></i><i style="--g:#4040c8,#3f43cb 160px,#395feb 162px,#3a80f0 163px,#39a9f0 164px,#39a9f0 251px"></i><i style="--g:#4040c8,#4042ca 159px,#3d50d9 160px,#3d50d9 251px"></i><i style="background:#4040c8"></i><i style="background:#4040c8"></i><i style="background:#4040c8"></i><i style="background:#4040c8"></i><i style="background:#4040c8"></i><i style="background:#4040c8"></i></b></div><div class="im" style="left:76px;top:322px;width:252px;height:252px;clip-path:circle(124.6px at 126.0px 126.0px)"><b><i style="--g:#00d694,#00d694 121px,#05ddb3 127px,#0fe0c5 130px,#0fe0c5 251px"></i><i style="--g:#00d694,#00d694 121px,#05ddb3 127px,#0fe0c5 130px,#0fe0c5 251px"></i><i style="--g:#00c143,#00c143 109px,#00cb6f 113px,#03ddb0 125px,#15e1cf 131px,#1fe4e0 145px,#1fe4e0 251px"></i><i style="--g:#00b503,#00b503 103px,#00c968 111px,#01dcac 123px,#15e1ce 129px,#25e5eb 151px,#25e5eb 251px"></i><i style="--g:#50c900,#50c900 98px,#0fb800 101px,#00b503 102px,#00c969 110px,#03ddaf 122px,#15e1cf 128px,#28e5f0 152px,#28e5f0 251px"></i><i style="--g:#9add00,#9add00 94px,#52ca00 97px,#10b800 100px,#00b503 101px,#00ca6a 109px,#04ddb1 121px,#15e1ce 126px,#28e5f0 150px,#29e3f0 251px"></i><i style="--g:#b3e200,#b3e200 91px,#9cdd00 93px,#6fd200 95px,#25be00 98px,#00b503 100px,#00ca6b 108px,#01dcac 119px,#15e1cf 125px,#28e5f0 147px,#29e2f0 251px"></i><i style="--g:#d9eb00,#d9eb00 87px,#9ede00 92px,#8dda00 93px,#3dc400 96px,#00b402 99px,#00ca6b 107px,#02ddae 118px,#14e1ce 123px,#28e5f0 145px,#2ae1f0 249px,#2ae1f0 251px"></i><i style="--g:#e7ee00,#e7ee00 85px,#92db00 92px,#2abf00 96px,#00b400 98px,#00ca6b 106px,#03ddb0 117px,#15e1ce 122px,#28e5f0 143px,#2adff0 212px,#2adff0 251px"></i><i style="--g:#f1eb00,#f0ee00 83px,#deec00 85px,#96dc00 91px,#2dc000 95px,#02b400 97px,#00ca6b 105px,#04ddb1 116px,#15e1cf 121px,#28e5f0 141px,#2ae0f0 196px,#2ae0f0 251px"></i><i style="--g:#f2e400,#f2e700 80px,#eef000 83px,#9d0 90px,#1bbb00 95px,#05b500 96px,#00c452 102px,#00cd74 105px,#05ddb2 115px,#15e1d0 120px,#28e5f0 140px,#29e1f0 179px,#29e1f0 251px"></i><i style="--g:#f3df00,#f3e300 78px,#f0f000 82px,#9cdd00 89px,#6ad000 91px,#1ebc00 94px,#08b600 95px,#00b609 96px,#00ca6b 103px,#01dcab 113px,#15e1ce 118px,#28e5f0 138px,#29e2f0 170px,#29e2f0 251px"></i><i style="--g:#f4db00,#f4de00 76px,#f0ef00 81px,#c4e600 85px,#8dda00 89px,#39c300 92px,#0cb700 94px,#00b507 95px,#00ca6a 102px,#01dcac 112px,#15e1ce 117px,#28e5f0 136px,#29e2f0 166px,#29e4f0 251px"></i><i style="--g:#f6d300,#f5d600 73px,#edef00 81px,#95dc00 88px,#3fc500 91px,#11b800 93px,#00b504 94px,#00c969 101px,#01dcac 111px,#15e1cf 116px,#28e5f0 134px,#29e2f0 162px,#28e5f0 251px"></i><i style="--g:#f6d000,#f6d100 71px,#f0f000 80px,#9d0 87px,#2dc000 91px,#00b401 93px,#00c967 100px,#02dcad 110px,#15e1cf 115px,#28e5f0 133px,#29e2f0 160px,#28e6f0 251px"></i><i style="--g:#f5d600,#f5d600 68px,#f6d000 70px,#f0ee00 79px,#d0e900 82px,#9ddd00 86px,#88d800 87px,#33c200 90px,#05b500 92px,#00cc70 100px,#02dcad 109px,#15e1cf 114px,#28e5f0 131px,#29e2f0 157px,#26e5ec 177px,#16e2d1 183px,#16e2d1 251px"></i><i style="--g:#f5d800,#f5d800 67px,#f7cf00 69px,#eef000 79px,#91db00 86px,#39c300 89px,#0ab700 91px,#00b609 92px,#00c864 98px,#00d99f 106px,#0bdfbc 110px,#15e1cf 113px,#28e5f0 130px,#29e2f0 154px,#28e6f0 171px,#06ddb4 182px,#01dcac 186px,#01dcac 251px"></i><i style="--g:#f4de00,#f4de00 65px,#f6d000 69px,#f0ef00 78px,#98dc00 85px,#29bf00 89px,#00b504 91px,#00ca6d 98px,#01dcac 107px,#14e1cc 111px,#28e5f0 129px,#29e2f0 152px,#28e6f0 167px,#01dcab 177px,#00d48d 186px,#00d48d 251px"></i><i style="--g:#f2e500,#f2e500 63px,#f7cf00 68px,#ebef00 78px,#9ddd00 84px,#87d800 85px,#30c100 88px,#00b400 90px,#00ca6a 97px,#01dcab 106px,#14e1cc 110px,#28e5f0 127px,#29e2f0 150px,#27e6ee 164px,#00dcaa 172px,#00ce7a 183px,#00cb6e 190px,#00cb6e 251px"></i><i style="--g:#f1eb00,#f1eb00 61px,#f6d000 68px,#f0f000 77px,#92db00 84px,#38c300 87px,#08b600 89px,#00b91b 91px,#00c968 96px,#00dcaa 105px,#13e1cc 109px,#28e5f0 126px,#29e2f0 148px,#26e5ec 161px,#00dca9 168px,#00cb6e 179px,#00c349 190px,#00c349 251px"></i><i style="--g:#f0ee00,#f0ee00 60px,#f7cf00 67px,#f0ee00 76px,#dcec00 78px,#9d0 83px,#28bf00 87px,#10b800 88px,#00b506 89px,#00c865 95px,#04ddb2 105px,#15e1cf 109px,#28e5f0 125px,#29e2f0 146px,#27e6ee 158px,#00daa4 165px,#00c142 181px,#00bb23 190px,#00bb21 251px"></i><i style="--g:#e9ee00,#e9ee00 58px,#f2e700 61px,#f6d000 67px,#eff000 76px,#9fde00 82px,#8bd900 83px,#31c100 86px,#00b400 88px,#00cb6d 95px,#04ddb0 104px,#15e1cf 108px,#28e6f0 123px,#29e2f0 144px,#28e6f0 155px,#01dcab 161px,#00bc27 179px,#00b402 188px,#0ab700 196px,#0ab700 251px"></i><i style="--g:#e5ee00,#e5ee00 57px,#f1ea00 60px,#f7cf00 66px,#f0ef00 75px,#bfe500 79px,#97dc00 82px,#3ac300 85px,#08b600 87px,#00b60b 88px,#00ca6a 94px,#03ddaf 103px,#15e1ce 107px,#28e5f0 122px,#29e2f0 142px,#27e6ee 153px,#02dcad 158px,#00b814 176px,#00b401 179px,#32c100 187px,#41c500 194px,#41c500 251px"></i><i style="--g:#cbe800,#cbe800 55px,#e8ee00 57px,#f2e800 60px,#f6d000 66px,#eef000 75px,#9cdd00 81px,#85d800 82px,#2bbf00 85px,#00b505 87px,#00c967 93px,#02dcad 102px,#15e1ce 106px,#28e5f0 121px,#29e2f0 140px,#28e6f0 150px,#25e5ea 151px,#00dba7 156px,#00c245 166px,#00b504 173px,#3fc500 180px,#62ce00 189px,#68d000 202px,#68d000 251px"></i><i style="--g:#c1e500,#c1e500 54px,#e4ed00 56px,#f1ea00 59px,#f7cf00 65px,#f0ef00 74px,#b0e200 79px,#93db00 81px,#35c200 84px,#03b500 86px,#00cb6e 93px,#01dcab 101px,#14e1ce 105px,#28e5f0 120px,#29e2f0 139px,#28e6f0 148px,#1be3d9 150px,#02ddae 153px,#00c34d 162px,#00b401 169px,#3ec500 174px,#76d300 183px,#8eda00 192px,#8fda00 251px"></i><i style="--g:#a4df00,#a4df00 52px,#e6ee00 56px,#f1e900 59px,#f6d000 65px,#eef000 74px,#9bdd00 80px,#61ce00 82px,#26be00 84px,#0db700 85px,#00b608 86px,#00ca6a 92px,#00dca9 100px,#14e1cd 104px,#28e5f0 119px,#29e2f0 137px,#28e6f0 146px,#24e5e8 147px,#00dcab 151px,#00c44f 159px,#00b504 165px,#29bf00 168px,#55cb00 172px,#8fda00 180px,#a0de00 187px,#a3df00 220px,#a3df00 251px"></i><i style="--g:#98dc00,#98dc00 51px,#e0ed00 55px,#f0f000 57px,#f6d000 64px,#f0ef00 73px,#bde500 77px,#90da00 80px,#32c100 83px,#00b401 85px,#00c966 91px,#03ddb0 100px,#13e1cc 103px,#28e5f0 118px,#29e2f0 136px,#28e6f0 144px,#25e5ea 145px,#00dca9 149px,#00c555 156px,#00b402 162px,#41c500 166px,#8eda00 174px,#a2df00 179px,#b5e300 192px,#b3e300 251px"></i><i style="--g:#80d600,#80d600 50px,#9fde00 51px,#e5ed00 55px,#f1ea00 58px,#f7cf00 64px,#eff000 73px,#9add00 79px,#23bd00 83px,#09b700 84px,#00b60b 85px,#00cb6e 91px,#02dcad 99px,#15e1cf 103px,#28e5f0 117px,#29e2f0 134px,#27e6ee 143px,#00dcaa 147px,#00c44e 154px,#00b504 159px,#44c600 163px,#93db00 170px,#b8e400 181px,#c6e700 194px,#c3e600 251px"></i><i style="--g:#3bc400,#3bc400 48px,#8fda00 50px,#dceb00 54px,#eef000 56px,#f6d100 64px,#f0ee00 72px,#daeb00 74px,#8fda00 79px,#30c100 82px,#00b503 84px,#00c969 90px,#00dcaa 98px,#15e1ce 102px,#28e5f0 116px,#29e2f0 133px,#28e6f0 141px,#01dcac 145px,#00c34a 152px,#00b60a 156px,#07b600 157px,#44c600 160px,#91db00 166px,#b9e400 175px,#d4ea00 188px,#d3ea00 202px,#d2e900 251px"></i><i style="--g:#1fbc00,#1fbc00 47px,#9d0 50px,#e2ed00 54px,#f0ef00 56px,#f7cf00 63px,#f0f000 72px,#9add00 78px,#22bd00 82px,#07b600 83px,#00ba1e 85px,#00c864 89px,#04ddb1 98px,#14e1cd 101px,#28e5f0 115px,#29e2f0 132px,#28e6f0 139px,#24e5e8 140px,#04ddb0 143px,#00c65a 149px,#00b504 154px,#3ec500 157px,#94db00 163px,#cae800 175px,#e6ee00 188px,#e4ed00 202px,#e1ed00 251px"></i><i style="--g:#02b500,#02b500 46px,#81d600 49px,#9fde00 50px,#e5ee00 54px,#f1e900 57px,#f6d000 63px,#f0ee00 71px,#dceb00 73px,#90da00 78px,#2fc100 81px,#00b504 83px,#00ca6b 89px,#02ddae 97px,#13e1cb 100px,#28e5f0 114px,#29e2f0 130px,#28e6f0 138px,#00dba5 142px,#00c65c 147px,#00b400 152px,#46c700 155px,#93db00 160px,#cde800 171px,#f0f000 183px,#f1eb00 200px,#f0f000 251px"></i><i style="--g:#00b710,#00b710 45px,#10b800 46px,#8fda00 49px,#dcec00 53px,#eff000 55px,#f6d000 62px,#f0ef00 71px,#9bdd00 77px,#5fcd00 79px,#22bd00 81px,#07b600 82px,#00ba1f 84px,#00c866 88px,#00dcaa 96px,#15e1ce 100px,#28e5f0 113px,#29e2f0 129px,#28e6f0 136px,#23e5e8 137px,#01dcac 140px,#00c34b 146px,#02b400 150px,#37c300 152px,#8eda00 157px,#ace100 161px,#e6ee00 173px,#f1ec00 178px,#f4de00 194px,#f2e600 219px,#f2e600 251px"></i><i style="--g:#0b2,#0b2 44px,#00b608 45px,#1dbc00 46px,#9d0 49px,#e2ed00 53px,#f0ef00 55px,#f7cf00 62px,#ecef00 71px,#93db00 77px,#30c100 80px,#00b504 82px,#00ca6c 88px,#04ddb0 96px,#14e1cd 99px,#28e6f0 112px,#29e2f0 128px,#28e6f0 135px,#00daa3 139px,#00c865 143px,#01b400 148px,#39c300 150px,#94dc00 155px,#d9eb00 166px,#f0ee00 172px,#f5d500 188px,#f4da00 205px,#f4dc00 251px"></i><i style="--g:#00be34,#00be34 43px,#00b400 45px,#7fd600 48px,#9ede00 49px,#e5ee00 53px,#f1e900 56px,#f6d000 62px,#f0ef00 70px,#ace100 75px,#9dde00 76px,#84d700 77px,#3fc500 79px,#08b600 81px,#00b70d 82px,#00c966 87px,#01dcac 95px,#13e1cb 98px,#28e6f0 111px,#29e1f0 126px,#26e6ed 134px,#01dcac 137px,#00c557 142px,#00b503 146px,#38c300 148px,#97dc00 153px,#e5ee00 165px,#f1ed00 168px,#f7cd00 184px,#f7cb00 201px,#f6d300 215px,#f6d300 251px"></i><i style="--g:#00c75f,#00c75f 41px,#00b813 44px,#0cb700 45px,#8bd900 48px,#c9e700 51px,#e7ee00 53px,#f2e800 56px,#f6d000 61px,#f0f000 70px,#97dc00 76px,#33c100 79px,#00b503 81px,#00cb6d 87px,#00dca9 94px,#15e1ce 98px,#28e5f0 111px,#29e1f0 125px,#28e6f0 132px,#22e5e6 133px,#00daa5 136px,#00c761 140px,#00b608 144px,#14b900 145px,#4bc800 147px,#98dc00 151px,#ecef00 163px,#f9c500 181px,#fabe00 198px,#f7cb00 215px,#f7cb00 251px"></i><i style="--g:#00cb6d,#00cb6d 40px,#00b60b 44px,#18ba00 45px,#97dc00 48px,#e1ed00 52px,#f0f000 54px,#f7cf00 61px,#f0ee00 69px,#eaef00 70px,#a0de00 75px,#89d900 76px,#27be00 79px,#0bb700 80px,#00b60b 81px,#00c966 86px,#02ddae 94px,#14e1cd 97px,#28e5f0 110px,#29e2f0 124px,#28e6f0 131px,#11e0c9 133px,#04ddb2 134px,#00c555 139px,#00b710 142px,#0ab700 143px,#46c700 145px,#98dc00 149px,#ebef00 160px,#f6d300 169px,#fabc00 181px,#fabe00 208px,#f9c200 251px"></i><i style="--g:#00ce7a,#00ce7a 39px,#00c451 41px,#00b504 44px,#4ec900 46px,#9cdd00 48px,#e4ed00 52px,#f1e900 55px,#f6d000 61px,#f0ef00 69px,#9add00 75px,#1bbb00 79px,#00b401 80px,#00ca6d 86px,#00dcaa 93px,#15e1cf 97px,#28e5f0 109px,#29e2f0 123px,#28e6f0 130px,#01dcab 133px,#00c863 137px,#00b503 141px,#3ec500 143px,#97dc00 147px,#eff000 158px,#fabe00 173px,#fab500 198px,#fabc00 230px,#fabc00 251px"></i><i style="--g:#00d287,#00d287 38px,#00c864 40px,#05b500 44px,#85d700 47px,#a1de00 48px,#e6ee00 52px,#f2e800 55px,#f6d000 60px,#eef000 69px,#91db00 75px,#2bc000 78px,#0fb800 79px,#00b609 80px,#00c866 85px,#03ddaf 93px,#14e1ce 96px,#28e6f0 108px,#29e2f0 122px,#27e6ee 129px,#00dba7 132px,#00c65a 136px,#00b70f 139px,#0eb800 140px,#4dc800 142px,#93db00 145px,#ebef00 155px,#f6d400 162px,#fabc00 170px,#fab000 195px,#fab800 228px,#fab800 251px"></i><i style="--g:#00d694,#00d694 37px,#00c75d 40px,#00b710 43px,#10b800 44px,#90da00 47px,#deec00 51px,#f0f000 53px,#f7cf00 60px,#f0ee00 68px,#e9ef00 69px,#9dde00 74px,#84d700 75px,#3dc400 77px,#04b500 79px,#00ca6c 85px,#00dcaa 92px,#12e1ca 95px,#28e5f0 108px,#29e2f0 122px,#25e5ec 128px,#00daa3 131px,#00c451 135px,#00b505 138px,#41c500 140px,#8ad900 143px,#a5df00 145px,#ecef00 153px,#fabd00 166px,#faab00 190px,#fab500 230px,#fab500 251px"></i><i style="--g:#00d9a1,#00d9a1 36px,#00c556 40px,#00b60a 43px,#1bbb00 44px,#98dc00 47px,#e2ed00 51px,#f1ea00 54px,#f6d000 60px,#f0ef00 68px,#98dc00 74px,#32c100 77px,#00b505 79px,#00c864 84px,#03ddb0 92px,#14e1ce 95px,#28e5f0 107px,#29e2f0 121px,#28e6f0 126px,#24e5e9 127px,#07deb6 129px,#00d38c 131px,#00c865 133px,#00b815 136px,#08b600 137px,#4cc800 139px,#97dc00 142px,#edef00 151px,#fabc00 163px,#faa700 187px,#fab000 214px,#fab100 251px"></i><i style="--g:#00dcab,#00dcab 35px,#00c968 39px,#00b503 43px,#7bd500 46px,#9ddd00 47px,#e5ed00 51px,#f1e900 54px,#f6d100 60px,#eff000 68px,#8eda00 74px,#27be00 77px,#0ab700 78px,#00b60c 79px,#00ca6a 84px,#00dcaa 91px,#13e1cb 94px,#28e6f0 106px,#29e2f0 120px,#28e6f0 125px,#24e5e8 126px,#05ddb4 128px,#00cd75 131px,#00c143 133px,#00b70d 135px,#15b900 136px,#3cc400 137px,#8bd900 140px,#a7e000 142px,#ecef00 149px,#fabc00 160px,#faa400 183px,#faa800 209px,#faae00 230px,#faae00 251px"></i><i style="--g:#01dcad,#00dcaa 35px,#00c863 39px,#05b500 43px,#85d700 46px,#a1de00 47px,#e6ee00 51px,#f2e800 54px,#f6d000 59px,#f0ee00 67px,#eaef00 68px,#9dde00 73px,#82d700 74px,#3ac300 76px,#00b400 78px,#00c761 83px,#00d38b 87px,#03ddaf 91px,#15e1ce 94px,#28e5f0 106px,#29e2f0 119px,#28e6f0 124px,#23e5e8 125px,#05ddb2 127px,#00c65b 131px,#00b506 134px,#45c600 136px,#96dc00 139px,#ebef00 147px,#f5d600 152px,#fabb00 158px,#faa000 181px,#faa200 207px,#faaa00 225px,#faaa00 251px"></i><i style="--g:#01dcac,#01dcac 34px,#00dba5 35px,#00c75d 39px,#00b711 42px,#0fb800 43px,#8fda00 46px,#ddec00 50px,#f0f000 52px,#f7cf00 59px,#f0ef00 67px,#a7e000 72px,#98dc00 73px,#30c100 76px,#13b900 77px,#00b507 78px,#00c967 83px,#00dca9 90px,#13e1ca 93px,#28e5f0 105px,#29e2f0 118px,#28e5f0 123px,#24e5e9 124px,#04ddb2 126px,#00c557 130px,#00b400 133px,#4dc800 135px,#85d800 137px,#9bdd00 138px,#f0ef00 146px,#fabd00 155px,#fa9d00 178px,#fa9b00 203px,#faa600 225px,#faa600 251px"></i><i style="--g:#02ddae,#01dcab 34px,#00d490 36px,#00c557 39px,#00b60b 42px,#18ba00 43px,#97dc00 46px,#e1ed00 50px,#f0ef00 52px,#f6d000 59px,#f0f000 67px,#8fda00 73px,#26be00 76px,#09b600 77px,#00b70e 78px,#00ca6c 83px,#02ddae 90px,#14e1ce 93px,#28e6f0 104px,#29e2f0 117px,#28e5f0 122px,#25e5ea 123px,#05ddb2 125px,#00c554 129px,#00b918 131px,#07b600 132px,#33c100 133px,#8eda00 136px,#c2e600 140px,#eef000 144px,#fabc00 153px,#fa9a00 175px,#fa9500 200px,#faa300 225px,#faa300 251px"></i><i style="--g:#03ddb0,#02dcad 33px,#00dcab 34px,#00c969 38px,#00b505 42px,#22bd00 43px,#77d400 45px,#9bdd00 46px,#e4ed00 50px,#f1e900 53px,#f6d100 59px,#edef00 67px,#9ede00 72px,#84d700 73px,#3bc400 75px,#00b400 77px,#00c863 82px,#00d696 87px,#05ddb3 90px,#15e1cf 93px,#28e5f0 104px,#29e2f0 117px,#26e6ed 122px,#05ddb3 124px,#00cb6e 127px,#00b815 130px,#0db700 131px,#3ac300 132px,#95dc00 135px,#f0ee00 143px,#fabc00 151px,#fa9700 173px,#fa8f00 197px,#faa000 226px,#faa000 251px"></i><i style="--g:#04ddb2,#03ddaf 32px,#00dcaa 34px,#00c865 38px,#00b400 42px,#80d600 45px,#9fde00 46px,#e6ee00 50px,#f2e800 53px,#f6d000 58px,#f0ee00 66px,#e9ee00 67px,#9add00 72px,#14b900 76px,#00b507 77px,#00c968 82px,#01dcac 89px,#14e1cd 92px,#28e6f0 103px,#29e1f0 115px,#28e6f0 121px,#07deb6 123px,#00d185 125px,#00c553 127px,#00b814 129px,#11b900 130px,#3ec500 131px,#98dc00 134px,#eef000 141px,#fabd00 149px,#fa9500 171px,#fa8a00 195px,#fa9c00 227px,#fa9c00 251px"></i><i style="--g:#06ddb4,#04ddb1 31px,#00dba6 34px,#00c760 38px,#00b814 41px,#09b600 42px,#88d800 45px,#b5e300 47px,#e7ee00 50px,#f2e700 53px,#f7cf00 58px,#f0ef00 66px,#95dc00 72px,#29bf00 75px,#0bb700 76px,#00b70d 77px,#00cb6d 82px,#04ddb1 89px,#15e1cf 92px,#28e5f0 103px,#29e2f0 115px,#28e6f0 120px,#09deb9 122px,#00d99e 123px,#00c553 126px,#00b813 128px,#13b900 129px,#40c500 130px,#81d600 132px,#9add00 133px,#f0ee00 140px,#fabd00 147px,#fa9300 168px,#fa8500 191px,#fa9600 218px,#fa9900 251px"></i><i style="--g:#07deb6,#05ddb3 30px,#01dcab 33px,#00d591 35px,#00c65a 38px,#00b70f 41px,#11b900 42px,#90da00 45px,#deec00 49px,#f0f000 51px,#f7cf00 58px,#f0f000 66px,#a1df00 71px,#8bd900 72px,#40c500 74px,#02b500 76px,#00c863 81px,#00d48e 85px,#00dcaa 88px,#14e1cd 91px,#28e5f0 102px,#29e2f0 114px,#28e6f0 119px,#1de3dd 120px,#00daa2 122px,#00c556 125px,#00b813 127px,#14b900 128px,#42c600 129px,#84d700 131px,#9cdd00 132px,#ebef00 138px,#f8c600 144px,#faac00 152px,#fa8900 173px,#fa8200 197px,#fa9600 228px,#fa9600 251px"></i><i style="--g:#08deb7,#06deb5 29px,#00dcab 33px,#00ca6b 37px,#00b60a 41px,#19bb00 42px,#97dc00 45px,#e1ed00 49px,#f0ef00 51px,#f6d000 58px,#eeef00 66px,#9dde00 71px,#81d700 72px,#37c300 74px,#00b504 76px,#00c968 81px,#02ddae 88px,#15e1ce 91px,#28e5f0 102px,#29e1f0 113px,#28e6f0 118px,#21e4e3 119px,#00dba6 121px,#00c659 124px,#00b815 126px,#13b900 127px,#42c600 128px,#86d800 130px,#9dde00 131px,#eef000 137px,#fabd00 144px,#fa8e00 165px,#fa8100 181px,#fa8700 212px,#fa9300 228px,#fa9300 251px"></i><i style="--g:#07deb7,#06ddb4 29px,#00dcaa 33px,#00c968 37px,#00b506 41px,#20bd00 42px,#9add00 45px,#e4ed00 49px,#f1ea00 52px,#f6d100 58px,#f1ed00 65px,#eaef00 66px,#9add00 71px,#11b800 75px,#00b609 76px,#00ca6c 81px,#05ddb2 88px,#12e1ca 90px,#28e5f0 101px,#29e2f0 113px,#28e5f0 117px,#25e5eb 118px,#00dcab 120px,#00c75d 123px,#00b918 125px,#10b800 126px,#40c500 127px,#86d800 129px,#9ede00 130px,#f0ef00 136px,#fabb00 143px,#fa8a00 164px,#fa8100 177px,#fa8600 216px,#fa8f00 228px,#fa8f00 251px"></i><i style="--g:#08deb9,#07deb6 28px,#00dba8 33px,#00c864 37px,#00b401 41px,#7cd500 44px,#9dde00 45px,#e5ed00 49px,#f1e900 52px,#f6d000 57px,#f0ee00 65px,#d7ea00 67px,#96dc00 71px,#28bf00 74px,#09b600 75px,#00b70e 76px,#00c761 80px,#00d184 83px,#00dcaa 87px,#14e1cd 90px,#28e5f0 101px,#29e2f0 112px,#28e6f0 117px,#05ddb2 119px,#00c863 122px,#00ba1c 124px,#0bb700 125px,#3ec400 126px,#85d800 128px,#9ede00 129px,#f0ee00 135px,#fabd00 141px,#fa8900 162px,#f98000 177px,#fa8500 219px,#fa8c00 231px,#fa8c00 251px"></i><i style="--g:#09debb,#08deb8 27px,#00daa4 33px,#00c760 37px,#05b500 41px,#82d700 44px,#a0de00 45px,#e6ee00 49px,#f2e800 52px,#f7cf00 57px,#f0ef00 65px,#a3df00 70px,#8eda00 71px,#41c500 73px,#02b500 75px,#00c966 80px,#02ddae 87px,#15e1cf 90px,#28e6f0 100px,#29e1f0 111px,#28e6f0 116px,#1de3dc 117px,#09debb 118px,#00d89d 119px,#00c969 121px,#04b500 124px,#39c300 125px,#83d700 127px,#9dde00 128px,#e7ee00 133px,#f3e300 135px,#fabc00 140px,#fa8500 161px,#f97e00 200px,#fa8600 223px,#fa8900 251px"></i><i style="--g:#0adfbc,#09deba 26px,#01dcab 32px,#00d590 34px,#00c65b 37px,#00b812 40px,#0bb700 41px,#89d800 44px,#b5e300 46px,#e7ee00 49px,#f2e700 52px,#f7cf00 57px,#f0f000 65px,#a0de00 70px,#86d800 71px,#39c300 73px,#00b503 75px,#00ca6a 80px,#05ddb2 87px,#12e1ca 89px,#28e5f0 100px,#29e2f0 111px,#28e5f0 115px,#23e5e6 116px,#00daa4 118px,#00cb6f 120px,#00b504 123px,#5acc00 125px,#80d600 126px,#9cdd00 127px,#e8ee00 132px,#f3e200 134px,#fabf00 138px,#fa8600 158px,#f97d00 191px,#fa8700 250px,#fa8700 251px"></i><i style="--g:#0adfbc,#09deb9 26px,#00dcab 32px,#00ca6c 36px,#00b70e 40px,#12b900 41px,#8eda00 44px,#dcec00 48px,#eff000 50px,#f7cf00 57px,#eff000 65px,#9ddd00 70px,#7fd600 71px,#33c200 73px,#14b900 74px,#00b608 75px,#00cb6d 80px,#00dca9 86px,#14e1cd 89px,#28e6f0 99px,#29e2f0 110px,#28e6f0 115px,#02dcad 117px,#00c557 120px,#00b60b 122px,#27be00 123px,#7bd500 125px,#9bdd00 126px,#e9ee00 131px,#f3e100 133px,#fabd00 137px,#fa8300 157px,#f97d00 203px,#fa8200 251px"></i><i style="--g:#0bdfbd,#0adebb 25px,#00dcaa 32px,#00c969 36px,#00b60b 40px,#17ba00 41px,#94db00 44px,#dfec00 48px,#f0f000 50px,#f6d000 57px,#edef00 65px,#9add00 70px,#0eb800 74px,#00b60c 75px,#00c761 79px,#00d185 82px,#02dcad 86px,#15e1ce 89px,#28e5f0 99px,#29e2f0 110px,#28e6f0 114px,#1ce3dc 115px,#08deb9 116px,#00d79a 117px,#00c862 119px,#00b814 121px,#1bbb00 122px,#4dc800 123px,#98dc00 125px,#e8ee00 130px,#f3e100 132px,#fabd00 136px,#fa8300 155px,#f87c00 202px,#fa8200 251px"></i><i style="--g:#0cdfbf,#0bdfbd 24px,#00dba8 32px,#00c966 36px,#00b507 40px,#1dbc00 41px,#97dc00 44px,#e1ed00 48px,#f0ef00 50px,#f6d000 57px,#f1ed00 64px,#eaef00 65px,#97dc00 70px,#28bf00 73px,#08b600 74px,#00b710 75px,#00c865 79px,#03ddb0 86px,#15e1d0 89px,#28e5f0 99px,#29e2f0 109px,#28e5f0 113px,#24e5ea 114px,#00daa4 116px,#00ca6b 118px,#00ba1f 120px,#0db700 121px,#44c600 122px,#94db00 124px,#e8ee00 129px,#f3e100 131px,#fabc00 135px,#fa8300 153px,#f87a00 199px,#fa8100 251px"></i><i style="--g:#0cdfbf,#0adfbc 24px,#00daa5 32px,#00c864 36px,#00b504 40px,#4bc800 42px,#9d0 44px,#e2ed00 48px,#f1ea00 51px,#f6d100 57px,#f0ee00 64px,#e8ee00 65px,#93db00 70px,#44c600 72px,#03b500 74px,#00c968 79px,#00dba7 85px,#14e1cc 88px,#28e5f0 98px,#29e2f0 109px,#28e6f0 113px,#18e2d4 114px,#03ddb0 115px,#00c553 118px,#00b503 120px,#38c300 121px,#8bd900 123px,#b4e300 125px,#e6ee00 128px,#f1ec00 129px,#fabc00 134px,#fa8200 152px,#f87a00 200px,#f98000 251px"></i><i style="--g:#0ddfc0,#0bdfbe 23px,#01dcab 31px,#00d592 33px,#00c760 36px,#00b401 40px,#9bdd00 44px,#e4ed00 48px,#f1ea00 51px,#f6d100 56px,#f0ee00 64px,#d6ea00 66px,#8eda00 70px,#3ec500 72px,#00b402 74px,#00ca6b 79px,#00dcaa 85px,#14e1ce 88px,#28e5f0 98px,#29e2f0 108px,#28e5f0 112px,#21e4e4 113px,#0cdfbe 114px,#00d89d 115px,#00c862 117px,#00b70f 119px,#26be00 120px,#81d600 122px,#9fde00 123px,#f1ed00 128px,#fabc00 133px,#fa8200 150px,#f77800 197px,#f98000 251px"></i><i style="--g:#0edfc2,#0cdfc0 22px,#00dcab 31px,#00c75d 36px,#02b500 40px,#7cd500 43px,#9ddd00 44px,#e4ed00 48px,#f1e900 51px,#f6d100 56px,#f0ef00 64px,#b2e200 68px,#89d800 70px,#39c300 72px,#00b505 74px,#00cb6d 79px,#01dcac 85px,#15e1cf 88px,#28e5f0 98px,#29e2f0 108px,#28e6f0 112px,#00dca9 114px,#00cb6e 116px,#00ba1e 118px,#12b900 119px,#4ac800 120px,#9add00 122px,#f0ef00 127px,#fabc00 132px,#fa8200 148px,#f77700 194px,#f97f00 251px"></i><i style="--g:#0ddfc1,#0cdfbf 22px,#00dcaa 31px,#00c65a 36px,#00b814 39px,#06b600 40px,#7fd600 43px,#9ede00 44px,#e5ed00 48px,#f1e900 51px,#f6d000 56px,#f0ef00 64px,#9fde00 69px,#84d700 70px,#35c200 72px,#15ba00 73px,#00b608 74px,#00cb70 79px,#03ddaf 85px,#12e0c9 87px,#28e5f0 97px,#29e2f0 107px,#28e5f0 111px,#1fe4e1 112px,#09deba 113px,#00d798 114px,#00c658 116px,#00b503 118px,#3bc400 119px,#93db00 121px,#eff000 126px,#fabc00 131px,#fa8200 147px,#f77600 192px,#f97e00 251px"></i><i style="--g:#0ee0c3,#0ddfc1 21px,#00dca9 31px,#00c557 36px,#00b812 39px,#0ab700 40px,#82d700 43px,#9fde00 44px,#e5ee00 48px,#f1e900 51px,#f6d000 56px,#f0ef00 64px,#9ede00 69px,#80d600 70px,#32c100 72px,#11b900 73px,#00b60a 74px,#00c862 78px,#00d287 81px,#04ddb2 85px,#13e1cc 87px,#28e5f0 97px,#29e2f0 107px,#28e6f0 111px,#00dba7 113px,#00c969 115px,#00b814 117px,#23bd00 118px,#84d700 120px,#a1df00 121px,#ebef00 125px,#fabc00 130px,#fa8200 145px,#f67500 189px,#f97e00 251px"></i><i style="--g:#0fe0c5,#0edfc2 20px,#00dba7 31px,#00c555 36px,#00b710 39px,#0db700 40px,#85d700 43px,#a0de00 44px,#e5ee00 48px,#f1e900 51px,#f6d000 56px,#f0f000 64px,#9cdd00 69px,#7dd500 70px,#2fc000 72px,#0eb800 73px,#00b70d 74px,#00c865 78px,#00dba7 84px,#14e1cd 87px,#28e5f0 97px,#29e2f0 107px,#28e5f0 110px,#1fe4e1 111px,#09deb9 112px,#00d697 113px,#00c553 115px,#00bc26 116px,#09b600 117px,#46c700 118px,#9bdd00 120px,#e7ee00 124px,#f1ea00 125px,#fabd00 129px,#fa8200 144px,#f67400 188px,#f97d00 251px"></i><i style="--g:#0fe0c4,#0edfc2 20px,#01dcab 30px,#00daa4 31px,#00c968 35px,#00b70e 39px,#0fb800 40px,#87d800 43px,#a1de00 44px,#e5ee00 48px,#f2e800 51px,#f6d000 56px,#f0f000 64px,#9bdd00 69px,#0bb700 73px,#00b70f 74px,#00c967 78px,#00dca9 84px,#15e1ce 87px,#28e5f0 96px,#29e2f0 106px,#28e6f0 110px,#00dba7 112px,#00c967 114px,#00b70d 116px,#2fc100 117px,#90da00 119px,#e1ed00 123px,#f1ed00 124px,#fabe00 128px,#fa8100 143px,#f67300 186px,#f87d00 251px"></i><i style="--g:#10e0c6,#0ee0c3 19px,#01dcab 30px,#00d693 32px,#00c966 35px,#00b70d 39px,#11b900 40px,#88d800 43px,#b3e200 45px,#e6ee00 48px,#f2e800 51px,#f7cf00 56px,#f0f000 64px,#9add00 69px,#08b600 73px,#00b711 74px,#00c968 78px,#01dcab 84px,#15e1cf 87px,#29e3f0 96px,#2ae1f0 105px,#28e5f0 109px,#22e4e5 110px,#0adfbc 111px,#00d797 112px,#00c451 114px,#00bb23 115px,#11b800 116px,#4dc900 117px,#7dd500 118px,#9fde00 119px,#eef000 123px,#fac000 127px,#fa8200 141px,#f57200 183px,#f87c00 251px"></i><i style="--g:#0fe0c5,#0ee0c3 19px,#00dcab 30px,#00c865 35px,#00b60c 39px,#13b900 40px,#89d900 43px,#b3e300 45px,#e6ee00 48px,#f2e800 51px,#f7cf00 56px,#f0f000 64px,#9d0 69px,#27bf00 72px,#06b600 73px,#00bc29 75px,#00ca6a 78px,#02dcad 84px,#15e1cf 87px,#29e2f0 96px,#2bdcf0 103px,#28e6f0 109px,#17e2d3 110px,#00dca9 111px,#00c967 113px,#00b60b 115px,#35c200 116px,#97dc00 118px,#e8ee00 122px,#f4dc00 124px,#fabb00 127px,#fa8200 140px,#f67300 176px,#f77900 226px,#f87b00 251px"></i><i style="--g:#10e0c6,#0fe0c4 18px,#00dcaa 30px,#00c863 35px,#00b60b 39px,#14b900 40px,#89d900 43px,#b3e300 45px,#e6ee00 48px,#f2e800 51px,#f7cf00 56px,#eff000 64px,#9d0 69px,#26be00 72px,#04b500 73px,#00ca6b 78px,#03ddae 84px,#12e0c9 86px,#29e3f0 95px,#2cd8f0 102px,#26e5ec 109px,#0ddfc2 110px,#00d89b 111px,#00c553 113px,#00bb23 114px,#13b900 115px,#51ca00 116px,#82d700 117px,#a2df00 118px,#f1ed00 122px,#fabc00 126px,#fa8200 139px,#f67400 171px,#f77800 194px,#f67400 212px,#f87b00 251px"></i><i style="--g:#10e0c6,#0ddfc1 19px,#00dcaa 30px,#00c862 35px,#00b60a 39px,#15ba00 40px,#89d900 43px,#b3e200 45px,#e6ee00 48px,#f1e900 51px,#f6d000 56px,#eff000 64px,#98dd00 69px,#25be00 72px,#03b500 73px,#00ca6c 78px,#03ddb0 84px,#13e1cb 86px,#28e6ef 94px,#2dd6f0 100px,#28e5f0 108px,#1ce3db 109px,#04ddb0 110px,#00ca6b 112px,#00b60c 114px,#36c200 115px,#9d0 117px,#edef00 121px,#fabe00 125px,#fa8100 138px,#f67300 166px,#f97e00 188px,#f67300 214px,#f87a00 251px"></i><i style="--g:#11e0c7,#0ee0c3 18px,#00dca9 30px,#00c761 35px,#00b60a 39px,#15ba00 40px,#89d800 43px,#b3e200 45px,#e5ee00 48px,#f1e900 51px,#f6d000 56px,#eff000 64px,#98dd00 69px,#24be00 72px,#02b500 73px,#00cb6d 78px,#04ddb1 84px,#14e1cd 86px,#28e5f0 94px,#2dd3f0 100px,#29e1f0 106px,#28e6f0 108px,#00daa2 110px,#00c659 112px,#00bc28 113px,#0fb800 114px,#50c900 115px,#83d700 116px,#a4df00 117px,#e4ed00 120px,#f1ea00 121px,#f9c100 124px,#fa8100 137px,#f67400 163px,#fa8300 183px,#f67500 209px,#f87a00 251px"></i><i style="--g:#12e0c9,#0fe0c4 17px,#00dba8 30px,#00c760 35px,#00b60a 39px,#15ba00 40px,#88d800 43px,#b2e200 45px,#e5ee00 48px,#f1e900 51px,#f6d000 56px,#f0f000 64px,#98dd00 69px,#24be00 72px,#02b400 73px,#00cb6e 78px,#05ddb2 84px,#14e1cd 86px,#29e3f0 94px,#2ed1f0 99px,#2dd6f0 103px,#28e5f0 107px,#23e5e8 108px,#0adfbc 109px,#00d695 110px,#00cc71 111px,#00b812 113px,#2fc100 114px,#98dd00 116px,#f0f000 120px,#fabc00 124px,#fa8100 136px,#f67300 160px,#fa8500 178px,#f97e00 204px,#f67300 218px,#f87a00 251px"></i><i style="--g:#11e0c8,#0fe0c4 17px,#00dba6 30px,#00c75f 35px,#00b60a 39px,#14b900 40px,#86d800 43px,#a0de00 44px,#e5ed00 48px,#f1e900 51px,#f6d000 56px,#f0f000 64px,#9d0 69px,#24be00 72px,#02b400 73px,#00cb6e 78px,#00dba6 83px,#14e1ce 86px,#26e6ed 93px,#2fcef0 99px,#2dd5f0 103px,#28e5f0 107px,#1be3d9 108px,#01dcac 109px,#00c864 111px,#03b500 113px,#4ac800 114px,#7fd600 115px,#a3df00 116px,#e6ee00 119px,#f2e800 120px,#fabe00 123px,#fa8100 135px,#f67400 158px,#fa8800 175px,#fa8300 202px,#f67300 221px,#f77900 251px"></i><i style="--g:#12e1ca,#10e0c5 16px,#00dba5 30px,#00c75f 35px,#00b60b 39px,#12b900 40px,#84d700 43px,#9fde00 44px,#e4ed00 48px,#f1ea00 51px,#f6d100 56px,#f0f000 64px,#9d0 69px,#24be00 72px,#02b500 73px,#00cb6f 78px,#00dba7 83px,#15e1ce 86px,#27e6ef 93px,#2fccf0 98px,#2ed0f0 102px,#28e6f0 107px,#00d9a0 109px,#00c451 111px,#00ba1d 112px,#22bd00 113px,#60ce00 114px,#96dc00 115px,#f0ef00 119px,#faba00 123px,#fa8100 134px,#f67300 155px,#fa8900 171px,#fa8a00 197px,#f67300 223px,#f77800 251px"></i><i style="--g:#12e0c9,#0fe0c5 16px,#01dcab 29px,#00d797 31px,#00c75f 35px,#00b60c 39px,#10b800 40px,#81d600 43px,#9ede00 44px,#e3ed00 48px,#f1ea00 51px,#f6d100 56px,#f0ef00 64px,#9add00 69px,#03b500 73px,#00cb6f 78px,#00dba7 83px,#15e1ce 86px,#28e5f0 93px,#30c9f0 98px,#2fcff0 102px,#25e5eb 107px,#0bdfbd 108px,#00d694 109px,#00cb6f 110px,#00b60a 112px,#3fc500 113px,#76d300 114px,#a0de00 115px,#e6ee00 118px,#f2e800 119px,#fabd00 122px,#fa8200 133px,#f67300 153px,#fa8b00 168px,#fa8f00 193px,#f77700 219px,#f67400 228px,#f77800 251px"></i><i style="--g:#13e1cb,#10e0c6 15px,#01dcab 29px,#00d38a 32px,#00c760 35px,#00b70d 39px,#0eb800 40px,#7ed600 43px,#9cdd00 44px,#e2ed00 48px,#f0ef00 50px,#f6d100 57px,#f0ef00 64px,#9bdd00 69px,#05b500 73px,#00cb6e 78px,#00dba7 83px,#15e1ce 86px,#29e3f0 93px,#31c6f0 98px,#31c8f0 101px,#29e4f0 106px,#1ee4df 107px,#03ddb0 108px,#00c863 110px,#00bd2d 111px,#0db800 112px,#53ca00 113px,#8cd900 114px,#c1e600 116px,#f0f000 118px,#f9c200 121px,#fa8200 132px,#f67300 151px,#fa8d00 166px,#fa9400 190px,#f87b00 219px,#f67300 228px,#f77700 251px"></i><i style="--g:#12e1ca,#10e0c6 15px,#01dcab 29px,#00cf7d 33px,#00c34d 36px,#00b70f 39px,#0bb700 40px,#9add00 44px,#e0ec00 48px,#f0f000 50px,#f6d000 57px,#f0ef00 64px,#c1e500 67px,#9cdd00 69px,#7bd500 70px,#29bf00 72px,#06b600 73px,#00bd2b 75px,#00cb6e 78px,#00dba7 83px,#15e1ce 86px,#29e1f0 93px,#32c3f0 98px,#31c7f0 101px,#28e5f0 106px,#17e2d3 107px,#00daa4 108px,#00c452 110px,#00b91b 111px,#29bf00 112px,#68d000 113px,#9bdd00 114px,#e3ed00 117px,#f1e900 118px,#fabd00 121px,#fa8200 131px,#f67500 150px,#fa9000 165px,#fa9800 188px,#f98000 218px,#f67300 229px,#f77600 251px"></i><i style="--g:#12e0c9,#10e0c5 15px,#00dcab 29px,#00cf7d 33px,#00c44e 36px,#00b711 39px,#07b600 40px,#98dd00 44px,#deec00 48px,#eff000 50px,#f6d000 57px,#f0ee00 64px,#d4ea00 66px,#9ede00 69px,#7ed600 70px,#2cc000 72px,#09b600 73px,#00b711 74px,#00cb6d 78px,#00dba7 83px,#15e1ce 86px,#25e5eb 92px,#32c3f0 97px,#31c6f0 101px,#28e6f0 106px,#00d79a 108px,#00cc73 109px,#00b60b 111px,#41c500 112px,#7bd500 113px,#a3df00 114px,#eeef00 117px,#f9c200 120px,#fa8300 130px,#f67300 148px,#fa9000 162px,#fa9e00 185px,#fa8100 220px,#f67300 231px,#f67600 251px"></i><i style="--g:#13e1cb,#10e0c7 14px,#00dcab 29px,#00cc71 34px,#00c450 36px,#02b500 40px,#96dc00 44px,#dbeb00 48px,#eef000 50px,#f7cf00 57px,#f0ee00 64px,#e8ee00 65px,#a0de00 69px,#82d700 70px,#2fc100 72px,#0cb700 73px,#00b710 74px,#00ca6c 78px,#00dba7 83px,#15e1ce 86px,#26e6ed 92px,#33c0f0 97px,#33bff0 100px,#26e6ed 106px,#0adfbc 107px,#00d591 108px,#00c969 109px,#00be33 110px,#09b600 111px,#53ca00 112px,#8fda00 113px,#dfec00 116px,#f1eb00 117px,#fabd00 120px,#fa8100 130px,#f57200 146px,#fa9000 159px,#faa700 181px,#fa8d00 212px,#f67300 233px,#f67500 251px"></i><i style="--g:#13e1cb,#10e0c6 14px,#00dcab 29px,#00d07f 33px,#00c452 36px,#00b402 40px,#90da00 44px,#e6ee00 49px,#f2e800 52px,#f7cf00 57px,#f1ed00 64px,#eaef00 65px,#a2df00 69px,#87d800 70px,#33c200 72px,#0fb800 73px,#00b70d 74px,#00ca6b 78px,#00dba6 83px,#15e1ce 86px,#27e6ee 92px,#34bdf0 97px,#34bdf0 100px,#29e2f0 105px,#21e4e3 106px,#04ddb1 107px,#00c75d 109px,#00bb24 110px,#20bd00 111px,#65cf00 112px,#9bdd00 113px,#e8ee00 116px,#f6d400 118px,#faba00 120px,#fa8200 129px,#f67300 145px,#fa9200 158px,#faae00 178px,#faa400 196px,#f67300 235px,#f67500 251px"></i><i style="--g:#14e1cc,#11e0c8 13px,#00dcab 29px,#00d080 33px,#00c555 36px,#00b505 40px,#1bbb00 41px,#89d900 44px,#b2e200 46px,#e5ed00 49px,#f1e900 52px,#f6d000 57px,#edef00 65px,#a5df00 69px,#8dda00 70px,#37c300 72px,#14b900 73px,#00b60b 74px,#00ca69 78px,#00dba6 83px,#15e1ce 86px,#22e4e5 91px,#27e6ef 92px,#34bbf0 97px,#34bbf0 100px,#29e2f0 105px,#1be3da 106px,#00dba8 107px,#00c450 109px,#00b816 110px,#37c300 111px,#76d400 112px,#a3df00 113px,#f0ef00 116px,#fabe00 119px,#fa8200 128px,#f67400 144px,#fa9500 157px,#fab500 175px,#fab000 192px,#f67200 236px,#f67400 251px"></i><i style="--g:#13e1cc,#11e0c7 13px,#00dba5 30px,#00c658 36px,#00b609 40px,#14b900 41px,#82d700 44px,#9ede00 45px,#e3ed00 49px,#f1ea00 52px,#f6d100 57px,#f0f000 65px,#93db00 70px,#3cc400 72px,#18ba00 73px,#00b608 74px,#00c967 78px,#05ddb2 84px,#15e1ce 86px,#22e4e5 91px,#28e6f0 92px,#33bef0 96px,#36b6f0 99px,#30c8f0 102px,#29e3f0 105px,#17e2d1 106px,#00d9a0 107px,#00cd77 108px,#00c143 109px,#00b608 110px,#48c700 111px,#87d800 112px,#aae000 113px,#e0ec00 115px,#f1e900 116px,#fabb00 119px,#fa8100 128px,#f57200 142px,#fa9300 154px,#faba00 172px,#fabc00 188px,#f67300 238px,#f67400 251px"></i><i style="--g:#12e1ca,#11e0c7 13px,#00dba6 30px,#00c65b 36px,#00b70d 40px,#0db800 41px,#9add00 45px,#e0ec00 49px,#f0f000 51px,#f6d000 58px,#f0ef00 65px,#98dc00 70px,#42c600 72px,#00b504 74px,#00c865 78px,#04ddb1 84px,#14e1ce 86px,#21e4e5 91px,#28e6f0 92px,#34bcf0 96px,#36b3f0 99px,#33bef0 101px,#29e3f0 105px,#12e1ca 106px,#00d799 107px,#00cb6f 108px,#08b600 110px,#57cb00 111px,#96dc00 112px,#e8ee00 115px,#f6d200 117px,#f9c100 118px,#fa8200 127px,#f57200 141px,#fa9600 153px,#fabf00 169px,#f9c500 185px,#faac00 204px,#fa9100 219px,#f67200 239px,#f67300 251px"></i><i style="--g:#14e1cd,#11e0c9 12px,#00dba8 30px,#00c75f 36px,#00b812 40px,#05b500 41px,#97dc00 45px,#dbeb00 49px,#eef000 51px,#f7cf00 58px,#f0ee00 65px,#d2e900 67px,#9bdd00 70px,#23bd00 73px,#00b401 74px,#00c863 78px,#00d38b 81px,#03ddb0 84px,#14e1cd 86px,#21e4e4 91px,#28e5f0 92px,#35b9f0 96px,#37b1f0 99px,#34bdf0 101px,#29e4f0 105px,#0edfc2 106px,#00d593 107px,#00c968 108px,#00bd2c 109px,#1abb00 110px,#65cf00 111px,#9ddd00 112px,#f0f000 115px,#fabc00 118px,#fa8100 127px,#f67300 140px,#fa9700 152px,#f9c200 166px,#f7ce00 181px,#fabb00 200px,#fa9200 220px,#f67300 241px,#f67300 251px"></i><i style="--g:#14e1cd,#11e0c8 12px,#00dca9 30px,#00c863 36px,#00b402 41px,#8eda00 45px,#e5ee00 50px,#f1e900 53px,#f7cf00 58px,#f1ed00 65px,#e8ee00 66px,#9ede00 70px,#7ed600 71px,#29bf00 73px,#05b500 74px,#00c246 77px,#00cc72 79px,#02ddae 84px,#14e1cc 86px,#21e4e4 91px,#28e5f0 92px,#36b7f0 96px,#38aef0 99px,#34bbf0 101px,#29e4f0 105px,#0adfbc 106px,#00d48d 107px,#00c760 108px,#0b2 109px,#2bbf00 110px,#72d200 111px,#a3df00 112px,#dceb00 114px,#f1eb00 115px,#faba00 118px,#fa8200 126px,#f67300 139px,#faaf00 156px,#f7ce00 168px,#f5d900 181px,#fab700 205px,#fa9400 221px,#f57200 243px,#f57200 251px"></i><i style="--g:#0edfc2,#0edfc2 9px,#14e1cc 10px,#00dcaa 30px,#00c966 36px,#00b608 41px,#16ba00 42px,#83d700 45px,#9ede00 46px,#e4ed00 50px,#f1ea00 53px,#f6d000 58px,#ecef00 66px,#a2df00 70px,#87d800 71px,#30c100 73px,#0cb700 74px,#00b710 75px,#00cb6f 79px,#01dcac 84px,#13e1ca 86px,#21e4e4 91px,#28e5f0 92px,#36b5f0 96px,#39acf0 98px,#38aff0 100px,#28e6f0 105px,#07deb6 106px,#00c658 108px,#00b918 109px,#3bc400 110px,#7ed600 111px,#a9e000 112px,#e3ed00 114px,#f2e600 115px,#f9c100 117px,#fa8300 125px,#f67300 138px,#faac00 153px,#f5d700 167px,#f2e600 179px,#f5d500 193px,#fa9f00 217px,#f57200 244px,#f57200 251px"></i><i style="--g:#0fe0c5,#0fe0c5 9px,#13e1cc 10px,#00dcab 30px,#00ca6a 36px,#00b70e 41px,#0cb700 42px,#9add00 46px,#dfec00 50px,#f0f000 52px,#f6d100 59px,#f0f000 66px,#90db00 71px,#38c300 73px,#14b900 74px,#00b60b 75px,#00ca6c 79px,#00dcaa 84px,#11e0c8 86px,#21e4e3 91px,#28e5f0 92px,#37b3f0 96px,#39a9f0 98px,#38acf0 100px,#26e6ed 105px,#04ddb2 106px,#00c450 108px,#00b710 109px,#46c700 110px,#8ad900 111px,#cce800 113px,#e9ee00 114px,#f7ce00 116px,#fabd00 117px,#fa8200 125px,#f67300 137px,#faab00 151px,#f2e500 167px,#eef000 176px,#f1ea00 188px,#faa200 218px,#f67500 244px,#f67500 251px"></i><i style="--g:#11e0c7,#11e0c7 9px,#12e0c9 11px,#00dba6 31px,#00c760 37px,#01b400 42px,#93db00 46px,#e7ee00 51px,#f2e800 54px,#f7cf00 59px,#f0ef00 66px,#98dc00 71px,#1cbb00 74px,#00b506 75px,#00c968 79px,#00dba8 84px,#15e1d0 87px,#20e4e3 91px,#28e6f0 92px,#37b1f0 96px,#3aa7f0 98px,#39aaf0 100px,#2dd6f0 104px,#25e5eb 105px,#02ddae 106px,#00c34a 108px,#00b608 109px,#4fc900 110px,#95dc00 111px,#f0f000 114px,#fabb00 117px,#fa8400 124px,#f57200 136px,#faa400 148px,#f2e600 163px,#edef00 167px,#daeb00 176px,#e5ee00 187px,#f1ec00 193px,#fa9800 224px,#f77800 244px,#f77800 251px"></i><i style="--g:#08deb8,#08deb8 8px,#12e0c9 9px,#00dca9 31px,#00c966 37px,#00b507 42px,#18ba00 43px,#86d800 46px,#a0de00 47px,#e4ed00 51px,#f1e900 54px,#f7cf00 59px,#f0ee00 66px,#e7ee00 67px,#9dde00 71px,#79d400 72px,#25be00 74px,#00b400 75px,#00c864 79px,#00dba5 84px,#15e1cf 87px,#20e4e2 91px,#28e6ef 92px,#38aff0 96px,#3ba4f0 98px,#3aa7f0 100px,#2dd5f0 104px,#24e5ea 105px,#01dcab 106px,#00cf7c 107px,#00c244 108px,#00b401 109px,#57cb00 110px,#9add00 111px,#f1ec00 114px,#f9c500 116px,#fa8200 124px,#f57200 135px,#faa800 147px,#eff000 162px,#cfe900 170px,#c7e700 180px,#deec00 191px,#f1ec00 197px,#fa9900 225px,#f77900 245px,#f77900 251px"></i><i style="--g:#09deb9,#09deb9 8px,#12e1ca 9px,#00dcaa 31px,#00ca6a 37px,#00b70e 42px,#0bb700 43px,#9add00 47px,#e0ec00 51px,#f0f000 53px,#f6d100 59px,#edef00 67px,#a2df00 71px,#85d800 72px,#2ec000 74px,#09b700 75px,#00b813 76px,#00c75e 79px,#00cf7e 81px,#04ddb0 85px,#15e1ce 87px,#20e4e1 91px,#27e6ee 92px,#38aef0 96px,#3ca2f0 98px,#3ba4f0 100px,#2dd3f0 104px,#25e5ea 105px,#00dca9 106px,#00ce7a 107px,#06b600 109px,#5fcd00 110px,#9dde00 111px,#dcec00 113px,#f1e900 114px,#fac000 116px,#fa8100 124px,#f57200 134px,#faa400 145px,#edef00 159px,#c3e600 167px,#b3e200 176px,#c1e500 187px,#f0ee00 200px,#fa9e00 225px,#f87c00 245px,#f87c00 251px"></i><i style="--g:#00dca9,#00dca9 7px,#13e1cb 9px,#00dba7 32px,#00c863 38px,#00b402 43px,#91db00 47px,#daeb00 51px,#eef000 53px,#f6d000 60px,#f0ef00 67px,#92db00 72px,#38c300 74px,#13b900 75px,#00b60c 76px,#00cb6e 80px,#02dcad 85px,#14e1cd 87px,#1fe4e0 91px,#26e6ed 92px,#3ba3f0 97px,#3ba3f0 100px,#2ed2f0 104px,#26e5ec 105px,#00dca9 106px,#00ce79 107px,#00c03d 108px,#0db800 109px,#65cf00 110px,#a1de00 111px,#e0ed00 113px,#f2e500 114px,#fabd00 116px,#fa8200 123px,#f67500 134px,#faa600 144px,#eff000 156px,#bfe500 163px,#a4df00 171px,#a2df00 181px,#c3e600 193px,#f0ee00 203px,#fabe00 217px,#fa9400 231px,#f87c00 246px,#f87c00 251px"></i><i style="--g:#00dca9,#00dca9 7px,#13e1cb 9px,#00dcaa 32px,#00c969 38px,#00b60a 43px,#12b900 44px,#82d700 47px,#9ede00 48px,#e4ed00 52px,#f1e900 55px,#f7cf00 60px,#f0ee00 67px,#d3ea00 69px,#9add00 72px,#1ebc00 75px,#00b505 76px,#00c969 80px,#00dca9 85px,#12e0c9 87px,#1fe4df 91px,#25e5ea 92px,#34bbf0 95px,#3ba4f0 97px,#3ba2f0 100px,#2ed0f0 104px,#27e6ef 105px,#00dca9 106px,#00ce78 107px,#00c03b 108px,#12b900 109px,#6ad000 110px,#a3df00 111px,#e4ed00 113px,#f3e200 114px,#fabb00 116px,#fa8100 123px,#f67300 133px,#faa100 142px,#f1ed00 153px,#aee100 162px,#91db00 170px,#8eda00 180px,#aae000 191px,#f1ed00 206px,#f9c100 218px,#fa9500 232px,#f97f00 246px,#f97f00 251px"></i><i style="--g:#00dcaa,#00dcaa 7px,#13e1cb 9px,#00dba6 33px,#00c761 39px,#03b500 44px,#97dc00 48px,#deec00 52px,#f0f000 54px,#f6d100 60px,#ecef00 68px,#a0de00 72px,#81d600 73px,#2abf00 75px,#05b500 76px,#00c863 80px,#00dba6 85px,#15e1d0 88px,#23e5e8 92px,#2bdcf0 93px,#3ba4f0 97px,#3ca2f0 100px,#2fcef0 104px,#29e3f0 105px,#00dcaa 106px,#00ce79 107px,#00c03a 108px,#15ba00 109px,#6dd100 110px,#a5df00 111px,#e8ee00 113px,#f8ca00 115px,#fab100 117px,#fa8400 122px,#f57200 132px,#faa200 141px,#f1ed00 151px,#aae000 159px,#87d800 166px,#78d400 175px,#88d800 186px,#b8e400 198px,#f0ef00 208px,#fac000 220px,#fa9600 233px,#fa8200 246px,#fa8200 251px"></i><i style="--g:#00dca9,#00dca9 7px,#13e1ca 9px,#00dcaa 33px,#00c968 39px,#00b608 44px,#17ba00 45px,#88d800 48px,#b2e200 50px,#e6ee00 53px,#f2e800 56px,#f7cf00 61px,#f0ef00 68px,#90da00 73px,#36c200 75px,#11b800 76px,#00b70e 77px,#00cb70 81px,#04ddb1 86px,#15e1ce 88px,#22e4e5 92px,#2adef0 93px,#3aa6f0 97px,#3ca0f0 99px,#3aa8f0 101px,#2addf0 105px,#02dcad 106px,#00ce7a 107px,#00c03b 108px,#16ba00 109px,#6fd200 110px,#a7e000 111px,#ebef00 113px,#fab800 116px,#fa8200 122px,#f67200 131px,#faa300 140px,#f1ec00 149px,#c7e700 153px,#8dda00 160px,#6dd100 168px,#66cf00 177px,#7dd500 188px,#b2e200 200px,#f0f000 210px,#f9c300 221px,#fa9500 235px,#fa8500 246px,#fa8500 251px"></i><i style="--g:#00d89a,#00d89a 6px,#00dca9 7px,#12e0c9 9px,#00dba7 34px,#00c761 40px,#00b812 44px,#06b500 45px,#9d0 49px,#e1ed00 53px,#f0ef00 55px,#f6d000 61px,#f0ee00 68px,#e7ee00 69px,#9add00 73px,#1ebc00 76px,#00b505 77px,#00ca6a 81px,#01dcac 86px,#14e1cd 88px,#20e4e1 92px,#29e1f0 93px,#36b4f0 96px,#3ca1f0 98px,#3aa6f0 101px,#2cd7f0 105px,#07deb6 106px,#00c03d 108px,#15ba00 109px,#70d200 110px,#a8e000 111px,#eeef00 113px,#f9c400 115px,#fa8100 122px,#f67300 131px,#faa300 139px,#f1e900 147px,#edef00 148px,#a5df00 154px,#72d200 161px,#56cb00 169px,#55cb00 179px,#77d400 191px,#b4e300 203px,#f0f000 212px,#f9c500 222px,#fa9600 236px,#fa8500 247px,#fa8500 251px"></i><i style="--g:#00d799,#00d799 6px,#08deb7 8px,#11e0c7 9px,#12e1ca 11px,#00dcab 34px,#00c969 40px,#00b507 45px,#18ba00 46px,#8bd900 49px,#c7e700 52px,#e7ee00 54px,#f2e700 57px,#f6d000 62px,#eeef00 69px,#a2df00 73px,#84d700 74px,#2bc000 76px,#06b600 77px,#00c349 80px,#00c864 81px,#00dba7 86px,#11e0c8 88px,#1fe4e0 92px,#28e5f0 93px,#36b6f0 96px,#3ca2f0 98px,#3ba4f0 101px,#2dd4f0 105px,#0ddfc0 106px,#00d080 107px,#00c140 108px,#12b900 109px,#6fd200 110px,#a8e000 111px,#eff000 113px,#f9c200 115px,#fa8600 121px,#f67200 130px,#faa300 138px,#f2e400 145px,#f0ee00 146px,#98dc00 153px,#62ce00 160px,#43c600 168px,#40c500 177px,#5acc00 188px,#9ede00 202px,#f0f000 214px,#f9c400 224px,#fa9600 237px,#fa8700 247px,#fa8700 251px"></i><i style="--g:#00d798,#00d798 6px,#06deb5 8px,#0fe0c5 9px,#13e1cc 10px,#00dcaa 35px,#00c863 41px,#00b813 45px,#05b500 46px,#9add00 50px,#e3ed00 54px,#f1e900 57px,#f7cf00 62px,#f0ef00 69px,#bde500 72px,#96dc00 74px,#3ac300 76px,#14b900 77px,#00b60c 78px,#00cb70 82px,#04ddb2 87px,#15e1cf 89px,#1ee3de 92px,#26e6ed 93px,#38acf0 97px,#3ca0f0 99px,#3ba3f0 101px,#2ed1f0 105px,#13e1cc 106px,#00d185 107px,#00c246 108px,#0cb700 109px,#6dd100 110px,#a8e000 111px,#f0f000 113px,#fac000 115px,#fa8300 121px,#f67500 130px,#faa200 137px,#f2e800 144px,#ebef00 145px,#96dc00 151px,#58cb00 158px,#36c200 165px,#2abf00 174px,#3ec500 185px,#78d400 198px,#d3e900 212px,#f0ef00 216px,#f9c200 226px,#fa9500 239px,#fa8a00 248px,#fa8a00 251px"></i><i style="--g:#00d287,#00d287 5px,#05ddb2 8px,#14e1cd 10px,#00dba7 36px,#00c65c 42px,#00b609 46px,#16ba00 47px,#8bd900 50px,#daeb00 54px,#eff000 56px,#f6d100 63px,#f1ed00 69px,#ebef00 70px,#9ede00 74px,#7bd500 75px,#24be00 77px,#00b402 78px,#00c968 82px,#01dcac 87px,#14e1cd 89px,#1de3dc 92px,#24e5e9 93px,#30caf0 95px,#3ba4f0 98px,#3ca2f0 101px,#2fcef0 105px,#1ae3d8 106px,#00d38b 107px,#00c34d 108px,#03b500 109px,#68d000 110px,#a7e000 111px,#f0ef00 113px,#fabe00 115px,#fa8200 121px,#f67200 129px,#faa100 136px,#f1ec00 143px,#a4df00 148px,#60ce00 154px,#30c100 161px,#18ba00 169px,#1bbb00 178px,#40c500 190px,#92db00 205px,#f0ee00 218px,#f9c400 227px,#fa9600 240px,#fa8a00 249px,#fa8a00 251px"></i><i style="--g:#00d185,#00d185 5px,#03ddaf 8px,#14e1cd 10px,#00dcab 36px,#00cc74 41px,#00c554 43px,#02b400 47px,#9add00 51px,#e3ed00 55px,#f1e900 58px,#f7cf00 63px,#f0ef00 70px,#a7e000 74px,#8fda00 75px,#34c200 77px,#0eb800 78px,#00b710 79px,#00c75f 82px,#00d080 84px,#00dba6 87px,#11e0c7 89px,#21e4e4 93px,#2adff0 94px,#37b2f0 97px,#3ca0f0 99px,#3aa7f0 102px,#30cbf0 105px,#22e5e6 106px,#00d797 107px,#00c556 108px,#00b505 109px,#62ce00 110px,#a5df00 111px,#f0ef00 113px,#fabe00 115px,#fa8200 121px,#f67500 129px,#fa9f00 135px,#f3e200 141px,#f0ef00 142px,#8bd900 148px,#48c700 154px,#19bb00 161px,#03b500 169px,#09b700 179px,#34c200 191px,#8ad900 206px,#edef00 219px,#fabe00 230px,#fa9600 241px,#fa8c00 249px,#fa8c00 251px"></i><i style="--g:#00d182,#00d182 5px,#00dcab 8px,#11e0c8 10px,#11e0c7 14px,#00dcaa 37px,#00c760 43px,#00b60c 47px,#12b900 48px,#89d800 51px,#b4e300 53px,#e7ee00 56px,#f1ec00 58px,#f6d100 63px,#f1ed00 70px,#e9ee00 71px,#9cdd00 75px,#76d300 76px,#1fbc00 78px,#00b505 79px,#00ca6c 83px,#03ddaf 88px,#15e1ce 90px,#1ee3de 93px,#29e4f0 94px,#36b5f0 97px,#3ca1f0 99px,#3ba4f0 102px,#31c7f0 105px,#29e2f0 106px,#00dba7 107px,#00c761 108px,#00b70f 109px,#5acc00 110px,#a2df00 111px,#f0f000 113px,#fabe00 115px,#fa8100 121px,#f67300 128px,#fa9c00 134px,#f2e400 140px,#edef00 141px,#90da00 146px,#43c600 152px,#12b900 158px,#00b503 162px,#00b91b 169px,#00b814 177px,#05b500 184px,#43c600 197px,#a7e000 212px,#f0f000 221px,#f9c300 230px,#fa9600 242px,#fa8e00 250px,#fa8e00 251px"></i><i style="--g:#00d07e,#00d07e 5px,#00dba7 8px,#14e1cd 11px,#00dca9 38px,#00ca6a 43px,#00b503 48px,#72d200 51px,#98dc00 52px,#e3ed00 56px,#f1e900 59px,#f7cf00 64px,#f0ef00 71px,#a6df00 75px,#8cd900 76px,#31c100 78px,#0bb700 79px,#00b813 80px,#00c862 83px,#00d89b 87px,#00dca9 88px,#13e1ca 90px,#1de3dc 93px,#26e5ec 94px,#38acf0 98px,#3ca0f0 100px,#3ba2f0 102px,#32c3f0 105px,#2dd3f0 106px,#09deba 107px,#00ca6b 108px,#00b91b 109px,#4fc900 110px,#9ede00 111px,#eef000 113px,#fabe00 115px,#fa8600 120px,#f67500 128px,#faa500 134px,#f2e500 139px,#eaef00 140px,#87d800 145px,#35c200 151px,#00b400 157px,#00bc2a 163px,#00c03a 170px,#00bd2d 178px,#04b500 188px,#59cc00 203px,#cae800 218px,#f1ed00 223px,#f9c400 231px,#fa9700 243px,#fa9100 251px"></i><i style="--g:#00ca6c,#00ca6c 4px,#03ddaf 9px,#12e1ca 11px,#01dcab 38px,#00d89b 40px,#00c966 44px,#00b711 48px,#0ab700 49px,#83d700 52px,#a0de00 53px,#e7ee00 57px,#f1ec00 59px,#f6d100 64px,#f3e300 69px,#f1ed00 71px,#e9ee00 72px,#9cdd00 76px,#75d300 77px,#1ebc00 79px,#00b506 80px,#00cb6d 84px,#04ddb2 89px,#15e1cf 91px,#1be3da 93px,#22e5e6 94px,#2bddf0 95px,#37b0f0 98px,#3ca0f0 100px,#3aa7f0 103px,#30cbf0 106px,#15e1cf 107px,#00cf7e 108px,#00bc29 109px,#42c600 110px,#9add00 111px,#ebef00 113px,#fabe00 115px,#fa8500 120px,#f67400 127px,#faa100 133px,#f2e500 138px,#e8ee00 139px,#90da00 143px,#40c500 148px,#07b600 153px,#00b402 154px,#00be33 159px,#00c452 165px,#00c658 172px,#00c141 180px,#01b400 191px,#50c900 204px,#cee800 220px,#f0ef00 224px,#f9c200 233px,#fa9500 245px,#fa9100 251px"></i><i style="--g:#00c967,#00c967 4px,#00dca9 9px,#14e1cd 12px,#01dcab 39px,#00d38b 42px,#00c761 45px,#00b608 49px,#19bb00 50px,#94db00 53px,#e1ed00 57px,#f0ef00 59px,#f7cf00 65px,#f0ef00 72px,#a6e000 76px,#8dda00 77px,#31c100 79px,#0bb700 80px,#00b813 81px,#00c863 84px,#00dcaa 89px,#14e1cc 91px,#1fe4e0 94px,#29e3f0 95px,#36b4f0 98px,#3ca1f0 100px,#3ba4f0 103px,#31c6f0 106px,#21e4e4 107px,#00d694 108px,#00c03a 109px,#2ec000 110px,#91db00 111px,#e7ee00 113px,#f4da00 114px,#fabe00 115px,#fa8300 120px,#f67400 127px,#fa9d00 132px,#f2e400 137px,#e7ee00 138px,#89d900 142px,#34c200 147px,#02b400 151px,#00c246 157px,#00c967 162px,#00cc72 170px,#00c761 179px,#00bb25 189px,#02b400 194px,#2dc000 201px,#32c100 203px,#58cc00 207px,#d2e900 222px,#edef00 225px,#f9c300 234px,#fa9500 246px,#fa9300 251px"></i><i style="--g:#00c862,#00c862 4px,#03ddb0 10px,#11e0c8 12px,#11e0c8 16px,#00dcab 40px,#00ca6c 45px,#00b400 50px,#7ad500 53px,#9cdd00 54px,#e5ee00 58px,#f2e800 61px,#f6d100 66px,#f1ec00 72px,#ebef00 73px,#9dde00 77px,#78d400 78px,#20bd00 80px,#00b505 81px,#00ca6d 85px,#05ddb2 90px,#15e1d0 92px,#1ce3da 94px,#26e5ec 95px,#39acf0 99px,#3ca0f0 101px,#3ba2f0 103px,#32c2f0 106px,#2adef0 107px,#01dcab 108px,#00c553 109px,#14b900 110px,#80d600 111px,#b7e300 112px,#e2ed00 113px,#f4dd00 114px,#fac000 115px,#fa8300 120px,#f67500 126px,#fa9900 131px,#f7cf00 135px,#e8ee00 137px,#83d700 141px,#28bf00 146px,#00b402 149px,#00c34c 154px,#00c969 157px,#00d184 164px,#00d286 172px,#00ca6b 182px,#00bf36 190px,#00b503 196px,#15ba00 200px,#19bb00 203px,#2fc100 205px,#42c600 206px,#c5e700 222px,#f0ee00 227px,#f9c400 235px,#fa9500 247px,#fa9500 251px"></i><i style="--g:#00c65a,#00c65a 4px,#00d592 8px,#06ddb4 11px,#13e1cb 13px,#00dcaa 41px,#00c968 46px,#00b710 50px,#0db800 51px,#89d900 54px,#b6e300 56px,#ddec00 58px,#f0f000 60px,#f6d000 66px,#f0ef00 73px,#bce500 76px,#93db00 78px,#36c200 80px,#0fb800 81px,#00b710 82px,#00c761 85px,#00d081 87px,#00dca9 90px,#14e1cc 92px,#1ae3d8 94px,#22e4e5 95px,#2adef0 96px,#37b0f0 99px,#3ca0f0 101px,#3aa6f0 104px,#30caf0 107px,#11e0c7 108px,#00cd75 109px,#00b507 110px,#6dd100 111px,#afe200 112px,#dbeb00 113px,#f3e000 114px,#f9c300 115px,#fa8300 120px,#f67500 126px,#faa000 131px,#f3df00 135px,#ebef00 136px,#7ed600 140px,#1cbc00 145px,#00b503 147px,#00c34b 151px,#00cb6e 154px,#00d591 160px,#00d99f 168px,#00d590 177px,#00c866 187px,#00b402 199px,#00b505 202px,#05b500 204px,#25be00 206px,#3cc400 207px,#c2e600 223px,#f0f000 228px,#f9c400 236px,#fa9700 247px,#fa9700 251px"></i><i style="--g:#00c452,#00c452 4px,#00cc73 6px,#01dcac 11px,#14e1cd 14px,#00dcaa 42px,#00c864 47px,#00b608 51px,#1abb00 52px,#97dc00 55px,#e3ed00 59px,#f1e900 62px,#f6d000 67px,#eef000 74px,#a1de00 78px,#80d600 79px,#26be00 81px,#00b401 82px,#00ca6a 86px,#04ddb1 91px,#15e1cf 93px,#1de3dd 95px,#28e5f0 96px,#36b5f0 99px,#3ba2f0 101px,#3ba3f0 104px,#32c3f0 107px,#20e4e2 108px,#00d592 109px,#00bb24 110px,#56cb00 111px,#a7e000 112px,#d4ea00 113px,#f2e500 114px,#f8c600 115px,#fa8300 120px,#f77600 126px,#fa9b00 130px,#f4db00 134px,#eff000 135px,#7ad500 139px,#23bd00 143px,#00b400 145px,#00c452 149px,#00cb6e 151px,#00d89d 157px,#07deb7 164px,#06deb5 171px,#00d590 182px,#00c75f 191px,#0b2 198px,#00b812 204px,#06b600 206px,#36c200 208px,#c8e700 225px,#eef000 229px,#f9c100 238px,#fa9900 248px,#fa9900 251px"></i><i style="--g:#00be33,#00be33 3px,#00ca6c 6px,#02ddae 12px,#14e1cd 15px,#01dcac 42px,#00dba8 43px,#00c75f 48px,#00b401 52px,#7bd500 55px,#9dde00 56px,#e6ee00 60px,#f1ec00 62px,#f6d100 67px,#f1ed00 74px,#e7ee00 75px,#9d0 79px,#18ba00 82px,#00b60a 83px,#00cc72 87px,#00dba8 91px,#13e1cb 93px,#1ae2d7 95px,#24e5e9 96px,#30c9f0 98px,#3ba4f0 101px,#3ca1f0 104px,#34bdf0 107px,#2bdaf0 108px,#03ddaf 109px,#00c658 110px,#3bc400 111px,#9cdd00 112px,#cae800 113px,#f1ea00 114px,#f7cb00 115px,#faa900 117px,#fa8300 120px,#f77700 125px,#fa8500 127px,#faa300 130px,#f5d500 133px,#f1ec00 134px,#77d400 138px,#19bb00 142px,#06b600 143px,#00b710 144px,#00c556 147px,#00d080 150px,#06ddb4 156px,#14e1cd 161px,#13e1cb 173px,#00daa3 182px,#00c864 193px,#00c247 196px,#00bf36 202px,#00b813 206px,#00b505 207px,#14b900 208px,#30c100 209px,#c5e600 226px,#f1ed00 231px,#f9c500 238px,#fa9900 249px,#fa9900 251px"></i><i style="--g:#00bc29,#00bc29 3px,#00c865 6px,#03ddaf 13px,#13e1cb 16px,#03ddaf 41px,#00dba6 44px,#00c659 49px,#00b813 52px,#0ab700 53px,#88d800 56px,#b6e300 58px,#ddec00 60px,#f0f000 62px,#f7cf00 68px,#f0ef00 75px,#a6e000 79px,#8eda00 80px,#31c100 82px,#0ab700 83px,#00b814 84px,#00c865 87px,#02ddae 92px,#15e1ce 94px,#1fe4e0 96px,#29e3f0 97px,#36b3f0 100px,#3ca1f0 102px,#3ba3f0 105px,#32c3f0 108px,#17e2d2 109px,#00d07f 110px,#00b401 111px,#89d800 112px,#f0f000 114px,#f6d000 115px,#fab800 116px,#fa8300 120px,#f77700 125px,#fa9c00 129px,#f7cf00 132px,#f2e600 133px,#dbeb00 134px,#74d300 137px,#10b800 141px,#00b504 142px,#00c555 145px,#00ce78 147px,#00dba8 151px,#14e1ce 155px,#1be3d9 166px,#13e1cb 179px,#00dba6 185px,#00c864 196px,#00c554 202px,#00ba1d 207px,#00b60c 208px,#0cb700 209px,#2bbf00 210px,#cce800 228px,#f0ee00 232px,#f8c600 239px,#fa9d00 248px,#fa9d00 251px"></i><i style="--g:#00ba1f,#00ba1f 3px,#00ca69 7px,#02ddae 14px,#14e1cd 18px,#01dcab 44px,#00d696 46px,#00c969 49px,#00b70d 53px,#15b900 54px,#95dc00 57px,#e3ed00 61px,#f1e900 64px,#f6d000 69px,#eef000 76px,#a0de00 80px,#7fd600 81px,#25be00 83px,#00b402 84px,#00ca6c 88px,#00daa4 92px,#10e0c6 94px,#19e2d6 96px,#25e5ea 97px,#35b9f0 100px,#3ba3f0 102px,#3ca1f0 105px,#34bdf0 108px,#28e5f0 109px,#00daa2 110px,#00c140 111px,#68d000 112px,#b3e200 113px,#e4ed00 114px,#f5d600 115px,#fabb00 116px,#fa8400 120px,#f77800 125px,#faa300 129px,#f4de00 132px,#e4ed00 133px,#74d300 136px,#07b600 140px,#00b813 141px,#00c967 144px,#05ddb2 149px,#14e1cc 151px,#20e4e1 161px,#1ce3db 175px,#12e1ca 183px,#00dba6 188px,#00ce7a 195px,#00cb6e 202px,#00c556 205px,#00b813 209px,#06b600 210px,#26be00 211px,#cae800 229px,#f0ef00 233px,#f8c600 240px,#faa200 249px,#faa200 251px"></i><i style="--g:#00b813,#00b813 3px,#00c760 7px,#00d89c 13px,#06ddb4 16px,#13e1cb 19px,#04ddb1 42px,#01dcab 45px,#00d694 47px,#00c966 50px,#00b507 54px,#1fbc00 55px,#9bdd00 58px,#e5ee00 62px,#f2e700 65px,#f6d100 70px,#f1ed00 76px,#e9ee00 77px,#9bdd00 81px,#1abb00 84px,#00b609 85px,#00cc72 89px,#00dca9 93px,#14e1cd 95px,#1fe4e0 97px,#29e2f0 98px,#37b3f0 101px,#3ca1f0 103px,#3ba3f0 106px,#36b6f0 108px,#30c9f0 109px,#12e0c9 110px,#00cd76 111px,#18ba00 112px,#a4df00 113px,#d7ea00 114px,#f4de00 115px,#fabe00 116px,#fa8400 120px,#f87a00 125px,#fa9c00 128px,#f6d400 131px,#f0f000 132px,#75d300 135px,#19bb00 138px,#00b401 139px,#00c760 142px,#00dca8 146px,#12e1ca 148px,#21e4e4 155px,#25e5ec 167px,#16e2d1 184px,#0ee0c3 187px,#00daa4 191px,#00d389 196px,#00cf7d 203px,#00c966 206px,#00b919 210px,#02b400 211px,#21bd00 212px,#d3e900 231px,#f0ef00 234px,#f8c600 241px,#faa600 249px,#faa600 251px"></i><i style="--g:#00b507,#00b507 3px,#00c863 8px,#00d9a1 15px,#14e1cd 21px,#03ddaf 44px,#00dcab 46px,#00d183 49px,#00c862 51px,#00b401 55px,#7fd600 58px,#9fde00 59px,#daeb00 62px,#eff000 64px,#f6d000 70px,#f0ee00 77px,#d1e900 79px,#96dc00 82px,#37c300 84px,#10b800 85px,#00b710 86px,#00c862 89px,#02dcad 94px,#15e1cf 96px,#19e2d5 97px,#24e5ea 98px,#30c9f0 100px,#3ba4f0 103px,#3ca1f0 106px,#38b0f0 108px,#34baf0 109px,#27e6ee 110px,#00d99f 111px,#00bf38 112px,#7dd500 113px,#c7e700 114px,#f2e700 115px,#f9c300 116px,#fa8500 120px,#f97e00 125px,#faa100 128px,#f2e500 131px,#d4ea00 132px,#78d400 134px,#14b900 137px,#00b506 138px,#00c450 140px,#00d183 142px,#00dca9 144px,#15e1cf 146px,#26e6ed 154px,#29e2f0 168px,#22e5e6 178px,#11e0c8 189px,#00dba7 193px,#00d592 199px,#00d38a 204px,#00cc71 207px,#00c864 208px,#00b400 212px,#1dbc00 213px,#d1e900 232px,#f0f000 235px,#f8c600 242px,#faab00 249px,#faab00 251px"></i><i style="--g:#11b900,#11b900 3px,#00b70e 4px,#00c864 9px,#00daa4 17px,#14e1cd 23px,#02dcad 46px,#00dcab 47px,#00c75e 52px,#00b815 55px,#07b600 56px,#89d900 59px,#b7e300 61px,#dfec00 63px,#f0ef00 65px,#f7cf00 71px,#f0ef00 78px,#a6df00 82px,#8cd900 83px,#2fc100 85px,#08b600 86px,#00be31 88px,#00c967 90px,#05ddb2 95px,#29e4f0 99px,#36b4f0 102px,#3ba2f0 104px,#3ba2f0 107px,#36b3f0 109px,#31c8f0 110px,#13e1cb 111px,#00cd77 112px,#0db800 113px,#b5e300 114px,#edef00 115px,#f7cd00 116px,#faa600 118px,#fa8600 120px,#f87c00 124px,#fa8e00 126px,#faab00 128px,#f5d800 130px,#e4ed00 131px,#b5e300 132px,#7dd500 133px,#0fb800 136px,#00b60c 137px,#00c75e 139px,#00dba6 142px,#16e1d0 144px,#28e4f0 151px,#2dd5f0 161px,#28e5f0 176px,#13e1cb 191px,#00dba6 196px,#00d89d 201px,#00d695 205px,#00ce7a 208px,#00c554 210px,#00b400 213px,#1abb00 214px,#d0e900 233px,#f0f000 236px,#f8c600 243px,#faaf00 249px,#faaf00 251px"></i><i style="--g:#73d300,#73d300 2px,#00b400 4px,#00c555 9px,#00cf7d 13px,#04ddb1 21px,#14e1cc 25px,#03ddaf 46px,#00dcaa 48px,#00c65b 53px,#00b711 56px,#0fb800 57px,#92db00 60px,#e3ed00 64px,#f1e900 67px,#f7cf00 72px,#f0f000 79px,#a2df00 83px,#84d700 84px,#29bf00 86px,#01b400 87px,#00ca6b 91px,#00daa5 95px,#12e0c9 97px,#17e2d2 98px,#23e5e7 99px,#2bdcf0 100px,#38aff0 103px,#3ca0f0 105px,#3ba3f0 108px,#35b7f0 110px,#29e2f0 111px,#00daa5 112px,#00c141 113px,#65cf00 114px,#daeb00 115px,#f5d800 116px,#faba00 117px,#fa8800 120px,#f97d00 124px,#faa000 127px,#f7cd00 129px,#f1ea00 130px,#94db00 132px,#5bcc00 133px,#0db700 135px,#00b711 136px,#00c968 138px,#00d89e 140px,#16e1d0 142px,#28e6ef 147px,#2fcef0 156px,#2ecff0 168px,#26e5ec 182px,#12e1ca 193px,#00dcaa 198px,#00daa4 205px,#00d798 207px,#00ca6c 210px,#00bf39 212px,#00b401 214px,#16ba00 215px,#d0e900 234px,#f0f000 237px,#f9c500 244px,#faae00 250px,#faae00 251px"></i><i style="--g:#98dd00,#98dd00 2px,#28bf00 4px,#00b505 5px,#00c554 10px,#00ce7a 14px,#04ddb0 23px,#13e1cc 27px,#03ddaf 47px,#00dcaa 49px,#00ca6c 53px,#00b70d 57px,#16ba00 58px,#97dc00 61px,#e4ed00 65px,#f2e800 68px,#f6d000 73px,#edef00 80px,#a0de00 84px,#7ed600 85px,#24bd00 87px,#00b503 88px,#00cb6e 92px,#00dba7 96px,#27e6ee 100px,#39abf0 104px,#3ca0f0 106px,#3aa5f0 109px,#33c1f0 111px,#19e2d7 112px,#00d183 113px,#00b710 114px,#a6e000 115px,#f2e600 116px,#fabf00 117px,#fa8b00 120px,#f97f00 124px,#faa500 127px,#f5d900 129px,#dceb00 130px,#a6e000 131px,#64cf00 132px,#0db700 134px,#00b813 135px,#00c246 136px,#00cc70 137px,#00dcaa 139px,#12e1ca 140px,#23e5e7 143px,#2adef0 146px,#32c5f0 154px,#32c4f0 166px,#27e6ee 184px,#10e0c7 195px,#03ddaf 200px,#02ddae 206px,#00d48d 209px,#00cb6e 211px,#00c03b 213px,#01b400 215px,#13b900 216px,#daeb00 236px,#f0f000 238px,#f9c500 245px,#fab300 250px,#fab300 251px"></i><i style="--g:#aae100,#aae100 2px,#8bd900 3px,#1ebc00 5px,#00b507 6px,#00c450 11px,#00cd75 15px,#03ddaf 25px,#13e1cc 29px,#01dcac 49px,#00dcaa 50px,#00ca6a 54px,#00b609 58px,#1cbb00 59px,#9add00 62px,#e5ee00 66px,#f2e700 69px,#f6d100 74px,#ecef00 81px,#9ede00 85px,#7ad500 86px,#20bd00 88px,#00b505 89px,#00cb70 93px,#00dca9 97px,#20e4e1 100px,#29e1f0 101px,#37b3f0 104px,#3ca1f0 106px,#3ca2f0 109px,#37b2f0 111px,#2dd4f0 112px,#08deb8 113px,#00c760 114px,#2bbf00 115px,#c9e700 116px,#f7cb00 117px,#fa8f00 120px,#fa8500 122px,#f98000 124px,#faaf00 127px,#f1eb00 129px,#bce400 130px,#71d200 131px,#0fb800 133px,#00b813 134px,#00c34b 135px,#00cd77 136px,#00d798 137px,#19e2d5 139px,#27e6ef 142px,#32c3f0 149px,#36b5f0 159px,#31c8f0 174px,#26e5ec 187px,#07deb7 200px,#0adebb 205px,#00dba5 208px,#00cb6e 212px,#00c03b 214px,#04b500 216px,#f0f000 239px,#f9c500 246px,#fab700 250px,#fab700 251px"></i><i style="--g:#bde500,#bde500 2px,#a4df00 3px,#80d600 4px,#1bbb00 6px,#00b507 7px,#00c556 13px,#00cf7b 18px,#02dcad 27px,#14e1cd 31px,#00dcaa 51px,#00c969 55px,#00b506 59px,#20bd00 60px,#78d400 62px,#9cdd00 63px,#e6ee00 67px,#f1ec00 69px,#f6d100 74px,#f4de00 78px,#ebef00 82px,#9ede00 86px,#79d400 87px,#1fbc00 89px,#00b506 90px,#00cc70 94px,#00dcaa 98px,#23e5e7 101px,#2bdcf0 102px,#38aff0 105px,#3ca0f0 107px,#3ba3f0 110px,#36b4f0 112px,#26e6ed 113px,#00d89d 114px,#00c140 115px,#66cf00 116px,#e8ee00 117px,#faba00 118px,#fa9300 120px,#fa8800 121px,#fa8200 124px,#faa100 126px,#f5d600 128px,#daeb00 129px,#9bdd00 130px,#4bc800 131px,#16ba00 132px,#00b812 133px,#00c34c 134px,#00cf7b 135px,#00d9a0 136px,#11e0c7 137px,#1ce3db 138px,#28e6ef 140px,#34bcf0 147px,#39aaf0 156px,#36b5f0 169px,#26e6ed 188px,#11e0c8 196px,#09deb9 203px,#0adebb 206px,#00d89b 210px,#00cb6e 213px,#00c03b 215px,#05b500 217px,#dbeb00 238px,#f0f000 240px,#f9c400 247px,#fabb00 250px,#fabb00 251px"></i><i style="--g:#d1e900,#d1e900 2px,#a1de00 4px,#7cd500 5px,#1dbc00 7px,#00b505 8px,#00c44f 14px,#00cb6f 18px,#01dcac 29px,#14e1cd 33px,#00dcaa 52px,#00c967 56px,#00b504 60px,#4fc900 62px,#7bd500 63px,#9ede00 64px,#e7ee00 68px,#f1ec00 70px,#f6d100 75px,#f2e800 81px,#ebef00 83px,#9ede00 87px,#7ad400 88px,#20bd00 90px,#00b505 91px,#00cb70 95px,#00dcaa 99px,#0bdfbd 100px,#26e6ed 102px,#39acf0 106px,#3ca0f0 108px,#3ba3f0 111px,#39abf0 112px,#33bff0 113px,#1ce3da 114px,#00d288 115px,#00bb24 116px,#98dd00 117px,#f3e300 118px,#faae00 119px,#fa8a00 121px,#fa8400 124px,#faa600 126px,#f2e500 128px,#b9e400 129px,#5ecd00 130px,#21bd00 131px,#00b70e 132px,#00cf7e 134px,#00dba7 135px,#18e2d4 136px,#26e6ed 138px,#36b5f0 145px,#3ca0f0 153px,#3aa6f0 166px,#2dd6f0 185px,#26e5ec 189px,#11e0c9 196px,#0adebb 204px,#07deb6 208px,#00d48e 212px,#00cb6e 214px,#00c03a 216px,#00b919 217px,#03b500 218px,#dceb00 239px,#f0ef00 241px,#f9c400 248px,#fabf00 251px"></i><i style="--g:#e6ee00,#e6ee00 2px,#a0de00 5px,#7dd500 6px,#25be00 8px,#00b401 9px,#00c246 15px,#00ca6d 20px,#01dcac 31px,#14e1cc 35px,#00dca9 53px,#00c967 57px,#00b503 61px,#7ed500 64px,#9fde00 65px,#d9eb00 68px,#eff000 70px,#f6d100 76px,#f3e300 81px,#ecef00 84px,#a0de00 88px,#7ed500 89px,#24be00 91px,#00b503 92px,#00cb6e 96px,#00dca9 100px,#0bdfbd 101px,#1de3dd 102px,#28e5f0 103px,#39aaf0 107px,#3ca0f0 110px,#39abf0 113px,#30c9f0 114px,#12e1ca 115px,#00cf7b 116px,#00b60c 117px,#aee100 118px,#f3e100 119px,#faa900 120px,#fa8b00 121px,#fa8500 124px,#faab00 126px,#f7ce00 127px,#e2ed00 128px,#96dc00 129px,#34c200 130px,#00b507 131px,#00cf7d 133px,#01dcac 134px,#1be3d9 135px,#29e2f0 137px,#36b6f0 142px,#3ca0f0 147px,#3ba3f0 169px,#2dd4f0 186px,#26e5ec 190px,#12e0c9 196px,#0adebb 204px,#0adebb 208px,#00d79a 212px,#00cb6d 215px,#00bf37 217px,#00b816 218px,#01b400 219px,#dcec00 240px,#f0ee00 242px,#f8c700 248px,#f9c300 251px"></i><i style="--g:#f1e900,#f1e900 2px,#e3ed00 3px,#a1df00 6px,#84d700 7px,#0db700 10px,#00b608 11px,#00c34d 18px,#00cd75 24px,#02ddae 33px,#13e1cc 36px,#00dca9 54px,#00c966 58px,#00b402 62px,#7ed600 65px,#9fde00 66px,#d9eb00 69px,#eff000 71px,#f6d100 78px,#eef000 85px,#a2df00 89px,#85d700 90px,#2abf00 92px,#02b500 93px,#00ca6b 97px,#00dba7 101px,#0cdfc0 102px,#20e4e1 103px,#29e2f0 104px,#3aa8f0 108px,#3ca0f0 112px,#39aaf0 114px,#2ed1f0 115px,#0bdfbd 116px,#00cc71 117px,#0eb800 118px,#bce400 119px,#f3df00 120px,#faa400 121px,#fa8b00 122px,#fa8700 124px,#fab300 126px,#f4da00 127px,#c1e600 128px,#51c900 129px,#07b600 130px,#00bd2f 131px,#00ce79 132px,#02ddae 133px,#1be3da 134px,#24e5e9 135px,#2fcef0 137px,#3ba5f0 142px,#3ca0f0 149px,#3ba4f0 173px,#2ed3f0 187px,#26e5ec 191px,#11e0c8 196px,#0adebb 203px,#0adebb 209px,#00d79a 213px,#00ca6c 216px,#00be34 218px,#00b812 219px,#00b400 220px,#deec00 241px,#f1ed00 243px,#f8c700 249px,#f8c700 251px"></i><i style="--g:#f4dd00,#f4dd00 2px,#f1ea00 3px,#cde800 5px,#90da00 8px,#21bd00 11px,#00b400 12px,#00c349 20px,#03ddb0 35px,#14e1cc 38px,#00dcaa 55px,#00c967 59px,#00b503 63px,#7dd500 66px,#9ede00 67px,#e6ee00 71px,#f2e700 74px,#f6d000 79px,#f0f000 86px,#a7e000 90px,#8fda00 91px,#33c200 93px,#0cb700 94px,#00b813 95px,#00c966 98px,#00daa4 102px,#20e4e3 104px,#2adff0 105px,#37b2f0 108px,#3ba2f0 110px,#3ba3f0 114px,#39acf0 115px,#2cd7f0 116px,#06deb5 117px,#00c969 118px,#2ec000 119px,#bce500 120px,#f4dc00 121px,#faa800 122px,#fa8c00 123px,#fa8a00 124px,#fabd00 126px,#f2e800 127px,#9ddd00 128px,#24bd00 129px,#00ba1c 130px,#00cb70 131px,#01dcac 132px,#1de3dc 133px,#1de3de 136px,#29e1f0 138px,#32c4f0 140px,#3ca0f0 144px,#3ba4f0 176px,#2dd3f0 189px,#25e5ea 192px,#11e0c8 196px,#0adebb 201px,#09deba 210px,#00daa4 213px,#00cf7b 216px,#00ca6a 217px,#00be30 219px,#00b710 220px,#00b401 221px,#dfec00 242px,#f1ec00 244px,#f8ca00 249px,#f8ca00 251px"></i><i style="--g:#f5d500,#f5d500 2px,#f1ea00 4px,#e4ed00 5px,#9add00 9px,#1abb00 13px,#00b401 14px,#00ca6a 27px,#00dca9 36px,#13e1cb 39px,#00dcaa 56px,#00c967 60px,#00b504 64px,#4ec900 66px,#7ad400 67px,#9ddd00 68px,#e6ee00 72px,#f2e800 75px,#f7cf00 80px,#f0ee00 87px,#d2e900 89px,#9d0 92px,#18ba00 95px,#00b60a 96px,#00c75e 99px,#00d182 101px,#00d9a0 103px,#20e4e1 105px,#2adef0 106px,#37b2f0 109px,#3ba2f0 111px,#3ba2f0 115px,#38acf0 116px,#2cd9f0 117px,#04ddb2 118px,#00c760 119px,#3fc500 120px,#bfe500 121px,#f4da00 122px,#faae00 123px,#fa8c00 124px,#faa300 125px,#f8c600 126px,#dcec00 127px,#4fc900 128px,#00b60a 129px,#00c65c 130px,#00dba5 131px,#20e4e2 132px,#25e5eb 133px,#08deb8 136px,#09deb9 137px,#26e6ed 143px,#34bbf0 147px,#3ca0f0 149px,#3ba2f0 178px,#30c9f0 189px,#29e2f0 192px,#0ee0c3 197px,#0adebb 201px,#09deba 211px,#00d797 215px,#00c967 218px,#00b711 221px,#00b402 222px,#d6ea00 242px,#ecef00 244px,#f7ce00 249px,#f7ce00 251px"></i><i style="--g:#f7cd00,#f7cd00 2px,#f2e800 5px,#e9ee00 6px,#93db00 11px,#1dbc00 15px,#03b500 16px,#02ddae 38px,#14e1cc 41px,#00dcaa 57px,#00c969 61px,#00b507 65px,#1fbc00 66px,#9add00 69px,#e4ed00 73px,#f1e900 76px,#f7cf00 81px,#f1ed00 88px,#ebef00 89px,#a1de00 93px,#82d700 94px,#02b400 97px,#00ca6c 101px,#00d799 104px,#0adfbc 105px,#1de3de 106px,#2adef0 107px,#3aa8f0 111px,#3ca0f0 115px,#39abf0 117px,#2bdaf0 118px,#03ddaf 119px,#00c553 120px,#41c500 121px,#c6e700 122px,#f4db00 123px,#faa600 124px,#faa600 125px,#f6d100 126px,#b8e400 127px,#1ebc00 128px,#00be34 129px,#00d798 130px,#20e4e3 131px,#2bdbf0 132px,#2adff0 133px,#1ae3d8 134px,#04ddb0 135px,#00d490 136px,#00d288 137px,#02ddae 143px,#25e5eb 148px,#2fcef0 150px,#3ca1f0 153px,#3ca2f0 180px,#33bff0 189px,#29e4f0 193px,#13e1cc 196px,#0adebb 199px,#08deb9 212px,#00d695 216px,#00c863 219px,#00bb24 221px,#00b503 223px,#d8eb00 243px,#eff000 245px,#f6d300 249px,#f6d300 251px"></i><i style="--g:#f9c500,#f9c500 2px,#eff000 7px,#91db00 13px,#0fb800 18px,#00b503 19px,#00dba8 39px,#14e1cd 42px,#00dcab 58px,#00ca6b 62px,#00b60a 66px,#19bb00 67px,#97dc00 70px,#e2ed00 74px,#f0ef00 76px,#f6d100 82px,#f0ef00 90px,#97dc00 95px,#3dc400 97px,#17ba00 98px,#00b60b 99px,#00c75e 102px,#00d182 104px,#00d593 105px,#06deb5 106px,#1ae2d7 107px,#29e2f0 108px,#36b4f0 111px,#3ba3f0 113px,#3ca1f0 117px,#39a9f0 118px,#2bdaf0 119px,#01dcac 120px,#00c248 121px,#5acc00 122px,#d7ea00 123px,#f8c900 124px,#faaa00 125px,#f4db00 126px,#86d800 127px,#00b711 128px,#00d07f 129px,#1fe4e0 130px,#2cd8f0 131px,#33bff0 132px,#2cd6f0 133px,#13e1cb 134px,#00d48d 135px,#00c659 136px,#00c44f 137px,#00d697 146px,#02dcad 148px,#23e5e8 152px,#2adef0 153px,#3ca0f0 157px,#3ca2f0 182px,#36b5f0 189px,#2cd8f0 193px,#28e6f0 194px,#16e1d0 196px,#0bdfbd 199px,#08deb8 213px,#00d592 217px,#00c75e 220px,#00bb21 222px,#00b402 224px,#daeb00 244px,#f0ef00 246px,#f5d900 249px,#f5d900 251px"></i><i style="--g:#fabd00,#fabd00 2px,#f1eb00 8px,#c9e700 11px,#96dc00 15px,#08b600 21px,#00b70d 23px,#02ddae 41px,#11e0c8 43px,#10e0c6 47px,#01dcab 59px,#00d07e 62px,#00c141 65px,#00b70f 67px,#10b800 68px,#8eda00 71px,#dcec00 75px,#eff000 77px,#f7cf00 84px,#ecef00 92px,#a4df00 96px,#8ad900 97px,#31c100 99px,#0bb700 100px,#00b813 101px,#00c966 104px,#00d38a 106px,#00dca9 107px,#25e5eb 109px,#35b7f0 112px,#3ba4f0 114px,#3ca0f0 118px,#3aa9f0 119px,#2cd8f0 120px,#00d9a0 121px,#00ba20 122px,#abe100 123px,#f3e200 124px,#fabb00 125px,#f2e800 126px,#31c100 127px,#00c34c 128px,#14e1cd 129px,#2cd8f0 130px,#3ba2f0 132px,#29e3f0 133px,#00d89d 134px,#00c75f 135px,#00b60b 136px,#00b507 137px,#00c03d 143px,#00dcaa 152px,#26e5ec 156px,#3ca0f0 160px,#3ca2f0 184px,#37b1f0 190px,#30cbf0 193px,#27e6ee 195px,#15e1ce 197px,#0adebb 201px,#07deb7 214px,#00d490 218px,#00cb6f 220px,#00c557 221px,#00bf36 222px,#00b711 224px,#00b402 225px,#f0ee00 247px,#f3df00 249px,#f3df00 251px"></i><i style="--g:#faab00,#faab00 1px,#f0ef00 10px,#9bdd00 17px,#5ccc00 20px,#02b500 24px,#00c452 33px,#00dca9 42px,#14e1cc 45px,#01dcab 60px,#00d592 62px,#00c75e 65px,#00b815 68px,#06b600 69px,#82d700 72px,#9fde00 73px,#e5ee00 77px,#f1e900 80px,#f6d100 85px,#f0ee00 93px,#d6ea00 95px,#a0de00 98px,#82d700 99px,#06b600 102px,#00be31 104px,#00c968 106px,#00cf7c 107px,#00d89c 108px,#1de3dd 110px,#2bddf0 111px,#34bbf0 113px,#3ba5f0 115px,#3ca0f0 119px,#39a9f0 120px,#21e4e3 121px,#00c865 122px,#72d200 123px,#edef00 124px,#f8c700 125px,#dfec00 126px,#00b60a 127px,#00daa2 128px,#2bdaf0 129px,#36b4f0 130px,#3c9cf0 131px,#3c9bf0 132px,#09deb9 133px,#00c34a 134px,#36c200 135px,#ace100 136px,#8eda00 138px,#36c200 142px,#00b400 144px,#00d183 153px,#02ddae 156px,#23e5e8 159px,#2cdaf0 160px,#38aef0 162px,#3ca0f0 163px,#3ba4f0 187px,#38aef0 191px,#30caf0 194px,#26e5ec 196px,#14e1ce 198px,#0adebb 202px,#09deba 214px,#00dba5 217px,#00cf7c 220px,#00ca6a 221px,#00be30 223px,#00b401 226px,#ebef00 247px,#f4dd00 250px,#f4dd00 251px"></i><i style="--g:#faa200,#faa200 1px,#f6d400 8px,#f0ef00 12px,#98dc00 20px,#12b900 26px,#00b402 27px,#04ddb0 44px,#14e1cd 46px,#00dba6 62px,#00c865 66px,#00b504 70px,#4ac800 72px,#98dd00 74px,#e0ec00 78px,#f0f000 80px,#f7cf00 87px,#f0ee00 95px,#d5ea00 97px,#a1de00 100px,#85d700 101px,#0bb700 104px,#00b812 105px,#00c866 108px,#00dca9 110px,#24e5e9 112px,#33bff0 114px,#3aa7f0 116px,#3ca0f0 119px,#3ba3f0 120px,#34bdf0 121px,#00d9a0 122px,#2fc100 123px,#e4ed00 124px,#f8c800 125px,#b5e300 126px,#00c554 127px,#29e3f0 128px,#38b0f0 129px,#3c9cf0 130px,#3c9bf0 131px,#3ba3f0 132px,#00cb6e 133px,#79d400 134px,#e1ed00 135px,#f6d400 136px,#f1eb00 139px,#dbeb00 141px,#a7e000 144px,#8dda00 145px,#1bbb00 148px,#00b402 149px,#00ce7a 156px,#00dcaa 159px,#26e6ed 162px,#3ca0f0 165px,#3ba4f0 190px,#37b2f0 193px,#25e5eb 197px,#1ae3d8 198px,#0adebb 202px,#09deb9 215px,#00daa2 218px,#00ce78 221px,#00c865 222px,#00bd2f 224px,#01b400 227px,#eef000 248px,#f3e200 250px,#f3e200 251px"></i><i style="--g:#fa9800,#fa9800 1px,#f6d000 9px,#f0ee00 14px,#96dc00 23px,#05b500 29px,#00c03d 35px,#00d080 41px,#01dcab 45px,#11e0c8 47px,#11e0c8 50px,#00dcaa 63px,#00c555 68px,#00b70e 71px,#11b900 72px,#89d800 75px,#b3e200 77px,#e5ed00 80px,#f1ea00 83px,#f7cf00 89px,#f0ee00 97px,#d8eb00 99px,#94db00 103px,#40c500 105px,#1cbb00 106px,#00b506 107px,#00c03a 109px,#00cb6d 110px,#05ddb3 112px,#29e4f0 114px,#36b6f0 116px,#3ba3f0 118px,#3aa7f0 120px,#38b0f0 121px,#31c5f0 122px,#00c44e 123px,#dceb00 124px,#fabc00 125px,#4cc800 126px,#1de3de 127px,#39abf0 128px,#3c9df0 129px,#3c9cf0 131px,#2ed1f0 132px,#00b60c 133px,#deec00 134px,#fabf00 135px,#fa9f00 136px,#f9c400 142px,#f2e600 145px,#e7ee00 146px,#9dde00 149px,#21bd00 152px,#00b401 153px,#00ce78 159px,#03ddaf 162px,#20e4e2 164px,#2bdaf0 165px,#3ba4f0 167px,#3ba4f0 192px,#34bdf0 195px,#2bdbf0 197px,#24e5e9 198px,#19e2d5 199px,#0adebb 203px,#08deb8 216px,#00d99f 219px,#00cc73 222px,#00c65c 223px,#00c03d 224px,#02b500 228px,#f0ef00 249px,#f2e800 251px"></i><i style="--g:#fa8e00,#fa8e00 1px,#f8c700 9px,#eef000 17px,#8fda00 26px,#0cb700 31px,#00b506 32px,#00ce7b 42px,#00dba6 46px,#14e1cc 49px,#01dcab 64px,#00d080 67px,#00c75e 69px,#00b401 73px,#98dc00 77px,#dbeb00 81px,#edef00 83px,#f7cf00 91px,#f0f000 100px,#a3df00 105px,#8dda00 106px,#1bbb00 109px,#00b505 110px,#00cb6d 112px,#08deb7 114px,#1ce3db 115px,#2addf0 116px,#32c4f0 117px,#36b6f0 118px,#37b1f0 119px,#30c9f0 123px,#43c600 124px,#faab00 125px,#0b2 126px,#3aa7f0 127px,#3c9ef0 128px,#39abf0 131px,#18e2d3 132px,#3cc400 133px,#f2e700 134px,#faaa00 135px,#fa9100 136px,#fa9d00 143px,#f9c200 147px,#eff000 150px,#9dde00 153px,#44c600 155px,#0fb800 156px,#00b60b 157px,#00cf7d 162px,#00dba6 164px,#1de3dc 166px,#2bddf0 167px,#3ba3f0 169px,#3ba3f0 193px,#33bff0 196px,#2adef0 198px,#22e5e6 199px,#18e2d4 200px,#0adebb 204px,#07deb7 217px,#00d48f 221px,#00cb6d 223px,#00c03b 225px,#04b500 229px,#e9ee00 249px,#f1ed00 251px"></i><i style="--g:#fa8600,#fa8d00 2px,#f9c200 10px,#ebef00 20px,#9d0 28px,#4bc800 31px,#10b800 33px,#00b506 34px,#00cd75 43px,#02ddae 48px,#14e1cc 50px,#00dba7 66px,#00c968 70px,#00b70e 74px,#0eb800 75px,#80d600 78px,#9ddd00 79px,#deec00 83px,#f1ed00 86px,#f6d000 93px,#f0f000 103px,#9ddd00 109px,#83d700 110px,#60ce00 111px,#1dbc00 112px,#00bd2b 113px,#00c865 114px,#04ddb0 116px,#17e2d2 117px,#23e5e6 118px,#27e6ef 119px,#24e5e9 122px,#29e4f0 123px,#2cd8f0 124px,#b4e300 125px,#3ba2f0 126px,#37b3f0 127px,#35b9f0 128px,#38aff0 131px,#02ddae 132px,#6cd100 133px,#f3df00 134px,#faa500 135px,#fa9100 136px,#fa9600 146px,#faa800 149px,#f3e000 153px,#eaef00 154px,#ade100 156px,#85d800 157px,#12b900 159px,#00b70d 160px,#00cd76 164px,#00daa3 166px,#1ce3dc 168px,#2bdcf0 169px,#3ca1f0 171px,#3ba3f0 194px,#33c0f0 197px,#29e1f0 199px,#12e1ca 202px,#0adebb 205px,#09deba 217px,#00daa4 220px,#00ce7a 223px,#00c966 224px,#00c349 225px,#00b608 229px,#06b500 230px,#ecef00 250px,#ecef00 251px"></i><i style="--g:#fa8300,#fa8a00 3px,#f9c200 12px,#f2e700 21px,#e9ef00 23px,#9dde00 30px,#8bd900 31px,#0fb800 35px,#00b507 36px,#00cb70 44px,#00dca9 49px,#10e0c7 51px,#12e1ca 53px,#00dcab 67px,#00c760 72px,#00b507 76px,#19bb00 77px,#86d800 80px,#9fde00 81px,#ddec00 85px,#f0ee00 88px,#f7cf00 96px,#f0f000 107px,#bde500 112px,#aae000 113px,#58cb00 114px,#00b609 115px,#00c141 116px,#00c968 117px,#00ce78 118px,#00ce7a 119px,#00cb6d 120px,#00c34c 121px,#00b70d 122px,#8cd900 123px,#ebef00 124px,#14e1cd 125px,#00c75d 126px,#1be3d9 127px,#2bdcf0 128px,#34bdf0 130px,#37b2f0 131px,#00d592 132px,#97dc00 133px,#f5d700 134px,#faa000 135px,#fa9100 136px,#fa9500 150px,#fa9e00 152px,#f9c500 155px,#f1ed00 157px,#aee100 159px,#7cd500 160px,#02b500 162px,#00cc74 166px,#00daa3 168px,#1ee3de 170px,#2cd8f0 171px,#3ca1f0 173px,#3ba4f0 195px,#32c3f0 198px,#28e5f0 200px,#16e2d1 202px,#0adfbc 205px,#09deb9 218px,#00d694 222px,#00c75e 225px,#00bf36 227px,#00b505 230px,#2abf00 234px,#e4ed00 250px,#e4ed00 251px"></i><i style="--g:#f97e00,#fa8f00 5px,#f9c400 15px,#f2e800 24px,#f0ef00 25px,#a0de00 32px,#8fda00 33px,#0ab700 37px,#00b609 38px,#00cd76 46px,#04ddb2 51px,#14e1cd 53px,#00dba7 69px,#00c659 74px,#00b504 78px,#63ce00 81px,#86d800 82px,#9ede00 83px,#e5ee00 88px,#f1ec00 91px,#f6d000 100px,#f0ef00 114px,#a5df00 116px,#81d600 117px,#67cf00 118px,#6fd100 119px,#98dc00 120px,#b3e200 121px,#b2e200 122px,#02b500 123px,#14e1ce 124px,#fab000 125px,#a7e000 126px,#00ca6c 127px,#06deb5 128px,#1ce3da 129px,#29e2f0 130px,#2fcdf0 131px,#00ca6b 132px,#aee100 133px,#f7cf00 134px,#fa9c00 135px,#fa9100 136px,#fa9200 153px,#faa400 156px,#f5d800 159px,#ecef00 160px,#9add00 162px,#0cb700 164px,#00b918 165px,#00cd74 168px,#00dba6 170px,#22e4e5 172px,#2ed0f0 173px,#38aff0 174px,#3ca1f0 175px,#3ba4f0 196px,#31c6f0 199px,#26e5ec 201px,#1be3d9 202px,#0adebb 206px,#08deb8 219px,#00d590 223px,#00cb6d 225px,#00c554 226px,#00b402 231px,#dcec00 250px,#dcec00 251px"></i><i style="--g:#f87a00,#fa8b00 6px,#f9c200 17px,#f2e400 26px,#ecef00 28px,#a1de00 34px,#8fda00 35px,#02b500 39px,#00cc70 47px,#01dcab 52px,#12e1ca 54px,#01dcab 70px,#00d285 73px,#00c556 76px,#00b504 80px,#3cc400 82px,#9add00 85px,#deec00 90px,#f0f000 93px,#f7cf00 105px,#f4dd00 113px,#f5d900 115px,#f3e200 116px,#e6ee00 117px,#a6e000 120px,#16ba00 121px,#00d591 122px,#15e1cf 123px,#9cdd00 124px,#fa9600 125px,#d5ea00 126px,#00ba1c 127px,#00cf7b 128px,#03ddb0 129px,#19e2d6 130px,#28e5f0 131px,#00c140 132px,#bde500 133px,#f8c800 134px,#fa9800 135px,#fa9100 137px,#fa9500 157px,#faa500 159px,#f7cb00 161px,#f2e700 162px,#d2e900 163px,#a3df00 164px,#5ccd00 165px,#0eb800 166px,#00b918 167px,#00c65c 169px,#01dcac 172px,#28e6f0 174px,#3ca1f0 176px,#3ca1f0 196px,#38aef0 198px,#2bdcf0 201px,#22e5e6 202px,#13e1cc 204px,#0adebb 207px,#0adebb 219px,#00daa5 222px,#00ce79 225px,#00be30 229px,#02b400 232px,#d4ea00 250px,#d4ea00 251px"></i><i style="--g:#f67500,#fa8c00 8px,#f8c700 21px,#f2e700 29px,#f0ef00 30px,#a1de00 36px,#8cd900 37px,#1dbc00 40px,#00b503 41px,#00ca6b 48px,#00dba5 53px,#14e1cc 56px,#00dcab 72px,#00c556 78px,#00b609 82px,#10b800 83px,#8bd900 87px,#aae100 89px,#e4ed00 94px,#f1ed00 98px,#f3df00 108px,#edef00 114px,#e1ed00 117px,#c7e700 118px,#97dc00 119px,#00b918 120px,#00daa2 121px,#16e1d0 122px,#00be32 123px,#fabb00 124px,#faa400 125px,#e8ee00 126px,#32c100 127px,#00c452 128px,#00d48c 129px,#08deb9 130px,#1ee4df 131px,#00c140 132px,#a6e000 133px,#f5d900 134px,#faa500 135px,#fa9800 138px,#fa9100 146px,#fa9100 159px,#fa9e00 161px,#f8c600 163px,#f3e200 164px,#d5ea00 165px,#a3df00 166px,#0ab700 168px,#00ba1c 169px,#00c864 171px,#00d79a 173px,#08deb8 174px,#1ce3dc 175px,#2dd6f0 176px,#37b3f0 177px,#3ca2f0 178px,#3ca1f0 197px,#33bef0 200px,#29e2f0 202px,#17e2d3 204px,#0adebb 207px,#09deba 220px,#00d9a1 223px,#00cc72 226px,#00b60a 232px,#05b500 233px,#cde800 250px,#cde800 251px"></i><i style="--g:#f57000,#fa8d00 10px,#f4de00 30px,#f1ed00 32px,#aee100 37px,#9ede00 38px,#85d700 39px,#11b800 42px,#00b609 43px,#00cc70 50px,#01dcac 55px,#12e1ca 57px,#00dcaa 74px,#00c65b 80px,#00b402 85px,#86d800 90px,#9add00 91px,#ddec00 98px,#eef000 104px,#ebef00 109px,#d8eb00 113px,#cde800 115px,#eeef00 117px,#ebef00 118px,#cfe900 120px,#b7e300 121px,#b7e300 122px,#f2e800 123px,#fabe00 124px,#faba00 125px,#eff000 126px,#6fd200 127px,#00be31 128px,#00cd74 129px,#00d9a0 130px,#0cdfbf 131px,#00c968 132px,#2abf00 133px,#c5e600 134px,#f5d600 135px,#fa9900 144px,#fa9100 149px,#fa9500 162px,#fa9c00 163px,#f9c500 165px,#f3e300 166px,#d2e900 167px,#9ede00 168px,#00b400 170px,#00cb6d 173px,#00dba6 175px,#27e6ee 177px,#3ba2f0 179px,#3ba2f0 198px,#32c3f0 201px,#26e5ec 203px,#15e1cf 205px,#0adebb 208px,#08deb9 221px,#00d89d 224px,#00b506 233px,#1fbc00 236px,#c5e600 250px,#c5e600 251px"></i><i style="--g:#f56f00,#f77900 5px,#fa9000 13px,#f4dd00 32px,#f1ec00 34px,#cae800 37px,#9bdd00 40px,#53ca00 42px,#02b400 44px,#00ca6a 51px,#00dba5 56px,#14e1cd 59px,#00dcab 76px,#00c864 82px,#00b504 88px,#95dc00 95px,#bae400 101px,#bfe500 106px,#b1e200 114px,#b8e400 115px,#f1eb00 117px,#f8c600 121px,#f2e400 125px,#e0ec00 126px,#a8e000 127px,#24be00 128px,#00c247 129px,#00d38c 130px,#00dca8 131px,#00d185 132px,#00c44e 133px,#28bf00 134px,#abe100 135px,#d7ea00 139px,#f1ea00 141px,#faa100 147px,#fa9100 151px,#fa9400 164px,#fa9c00 165px,#f8c700 167px,#f2e700 168px,#c9e700 169px,#90da00 170px,#35c200 171px,#00b60c 172px,#00c65b 174px,#00d797 176px,#09deb9 177px,#1fe4e1 178px,#2fcff0 179px,#3aa8f0 180px,#3ca2f0 182px,#3ba4f0 199px,#30caf0 202px,#2addf0 203px,#20e4e2 204px,#0edfc2 207px,#0adebb 209px,#0adfbc 221px,#00daa4 224px,#00c556 229px,#00b401 234px,#b1e200 249px,#b1e200 251px"></i><i style="--g:#f36a00,#f67400 5px,#fa9300 16px,#f4dd00 34px,#f1ed00 36px,#c7e700 39px,#96dc00 42px,#1cbc00 45px,#00b505 46px,#00cb6f 53px,#00dcaa 58px,#11e0c7 60px,#12e1ca 62px,#00dba7 79px,#00c555 86px,#00b506 92px,#08b600 93px,#46c700 97px,#63ce00 100px,#6cd100 103px,#52ca00 107px,#6cd100 111px,#9d0 114px,#afe100 115px,#dbeb00 116px,#f2e800 117px,#f8ca00 120px,#f9c500 122px,#f3e000 125px,#e8ee00 126px,#97dc00 128px,#21bd00 129px,#00c140 130px,#00ce79 131px,#00ce7b 132px,#00ca6d 133px,#00b402 135px,#00b400 136px,#17ba00 138px,#42c600 140px,#5ecd00 141px,#91db00 142px,#e1ed00 145px,#f2e700 146px,#faac00 150px,#fa9500 153px,#fa9100 164px,#fa9500 166px,#fa9d00 167px,#f7cd00 169px,#f0f000 170px,#b9e400 171px,#70d200 172px,#10b800 173px,#00ba1e 174px,#00cb6d 176px,#01dcac 178px,#18e2d3 179px,#2cdaf0 180px,#37b0f0 181px,#3ba2f0 182px,#3ca0f0 199px,#37b1f0 201px,#28e6f0 204px,#16e2d1 206px,#0adebb 209px,#0adebb 222px,#00d9a0 225px,#03b500 235px,#a9e000 249px,#a9e000 251px"></i><i style="--g:#f26500,#f46f00 5px,#fa9000 18px,#f4dd00 36px,#f0ee00 38px,#a2df00 43px,#8ad900 44px,#0db700 47px,#00b60b 48px,#00c968 54px,#02ddae 60px,#13e1cb 62px,#00dba5 82px,#00bc27 95px,#00b70f 100px,#00b918 104px,#00bc2a 106px,#00bc26 107px,#00b503 110px,#11b900 111px,#2abf00 112px,#58cb00 113px,#8fda00 114px,#e4ed00 116px,#f2e500 117px,#f8c700 120px,#f9c500 122px,#f6d400 124px,#f3e200 125px,#e8ee00 126px,#a6e000 128px,#63ce00 129px,#00b506 130px,#00c34c 131px,#00c864 132px,#00ca6a 133px,#00c143 135px,#00c556 137px,#00c554 139px,#00be31 142px,#00b919 143px,#0cb700 144px,#a7e000 147px,#e1ed00 149px,#f2e600 150px,#faa600 154px,#fa9100 157px,#fa9100 167px,#faa100 169px,#f5d800 171px,#dcec00 172px,#9ede00 173px,#42c600 174px,#00b60a 175px,#00c761 177px,#00daa2 179px,#29e2f0 181px,#35b8f0 182px,#3ba2f0 183px,#3ca1f0 200px,#36b6f0 202px,#2bdaf0 204px,#22e4e5 205px,#0ee0c3 208px,#0adebb 210px,#0bdfbe 222px,#00dba7 225px,#00c03a 232px,#00b507 235px,#13b900 237px,#a2df00 249px,#a2df00 251px"></i><i style="--g:#f06000,#f36a00 5px,#fa9100 21px,#f4dd00 38px,#f0ef00 40px,#9dde00 45px,#7dd500 46px,#00b401 49px,#00ca6c 56px,#04ddb1 62px,#14e1cd 64px,#00dcaa 85px,#00cb70 93px,#00c65a 99px,#00c865 103px,#00cf7c 106px,#00c966 108px,#00c554 109px,#00b70d 111px,#24be00 112px,#96dc00 114px,#edef00 116px,#f7cc00 119px,#f9c100 121px,#f6d400 124px,#f3e300 125px,#e5ee00 126px,#a4df00 128px,#5bcc00 129px,#00b60b 130px,#00c245 131px,#00c863 132px,#00cc73 133px,#00ce78 135px,#00d693 137px,#00d799 139px,#00d182 142px,#00c864 144px,#00b814 147px,#1cbb00 148px,#87d800 150px,#b2e200 151px,#f0f000 153px,#faa400 157px,#fa9300 159px,#fa9100 169px,#fa9900 170px,#faa900 171px,#f9c500 172px,#f1ea00 173px,#bee500 174px,#6dd100 175px,#08b600 176px,#00c554 178px,#00d89c 180px,#0ee0c3 181px,#28e6ef 182px,#34baf0 183px,#3ba2f0 184px,#3ba4f0 201px,#34bdf0 203px,#28e4f0 205px,#16e2d1 207px,#0cdfbf 209px,#0bdfbd 223px,#00daa2 226px,#00bf35 233px,#00b401 236px,#9add00 249px,#9add00 251px"></i><i style="--g:#ef5b00,#f26400 5px,#fa8f00 23px,#f4de00 40px,#eef000 42px,#97dc00 47px,#1abb00 50px,#00b506 51px,#00cb6f 58px,#00dba6 63px,#14e1cd 66px,#00dca9 90px,#00d591 96px,#00d694 101px,#00dcab 105px,#00dcaa 106px,#00c557 109px,#00b60b 111px,#29bf00 112px,#d0e900 115px,#f1ea00 116px,#f9c100 120px,#f9c400 122px,#f6d400 124px,#f2e500 125px,#e3ed00 126px,#a2df00 128px,#57cb00 129px,#00b70e 130px,#00c247 131px,#00cb6e 132px,#00d288 133px,#00dcaa 135px,#1ae2d7 137px,#22e5e6 139px,#1be3da 141px,#0adebb 143px,#00dba7 144px,#00ca6a 147px,#00b815 150px,#0cb700 151px,#7ed600 153px,#cfe900 155px,#f0ef00 156px,#faab00 159px,#fa9400 161px,#fa9400 171px,#fa9d00 172px,#fab600 173px,#f5d800 174px,#d5ea00 175px,#90da00 176px,#24bd00 177px,#00ba1c 178px,#00cc74 180px,#00d797 181px,#0ddfc0 182px,#27e6ed 183px,#34bcf0 184px,#3ba3f0 185px,#3ca1f0 201px,#36b4f0 203px,#2cd9f0 205px,#22e5e6 206px,#0edfc2 209px,#0adebb 211px,#0adfbc 224px,#00d89d 227px,#00c140 233px,#00b60c 236px,#04b500 237px,#93db00 249px,#93db00 251px"></i><i style="--g:#ed5600,#f05f00 5px,#fa9000 26px,#f3df00 42px,#eaef00 44px,#a4df00 48px,#8dda00 49px,#0eb800 52px,#00b60a 53px,#00cc71 60px,#05ddb2 66px,#13e1cc 68px,#02ddae 94px,#06ddb4 105px,#01dcab 106px,#00c556 109px,#00b608 111px,#2fc100 112px,#7ed600 113px,#e1ed00 115px,#f2e500 116px,#fabf00 120px,#f8c900 123px,#f2e600 125px,#e2ed00 126px,#a1de00 128px,#55cb00 129px,#00b710 130px,#00c34b 131px,#00ce7a 132px,#00d99e 133px,#23e5e7 135px,#2fcef0 136px,#36b5f0 137px,#3aa5f0 138px,#3ca0f0 140px,#37b3f0 142px,#2bdaf0 144px,#20e4e3 145px,#00dcab 147px,#00c864 150px,#00b70e 153px,#12b900 154px,#8bd900 156px,#dfec00 158px,#f3df00 159px,#faae00 161px,#fa9c00 162px,#fa9100 164px,#fa9100 172px,#fa9800 173px,#faab00 174px,#f7cb00 175px,#e9ee00 176px,#a4df00 177px,#3ac400 178px,#00b813 179px,#00cc71 181px,#00d696 182px,#0cdfbe 183px,#27e6ee 184px,#35b8f0 185px,#3ba3f0 186px,#3ba3f0 202px,#34bbf0 204px,#29e4f0 206px,#16e2d1 208px,#0bdfbe 210px,#0cdfbf 224px,#00daa5 227px,#00c34b 233px,#00b505 237px,#20bd00 240px,#8cd900 249px,#8cd900 251px"></i><i style="--g:#ec5100,#ef5a00 5px,#fa8e00 28px,#f3e100 44px,#f1ec00 45px,#d4ea00 47px,#9fde00 50px,#82d700 51px,#04b500 54px,#00c967 61px,#03ddaf 68px,#11e0c7 70px,#13e1cb 72px,#06ddb4 94px,#0bdfbc 105px,#01dcac 106px,#00c554 109px,#00bd2d 110px,#12b900 111px,#68d000 112px,#a2df00 113px,#eef000 115px,#f7cc00 118px,#fabd00 120px,#f8c900 123px,#f2e700 125px,#e1ed00 126px,#a1de00 128px,#54cb00 129px,#00b710 130px,#00d07f 132px,#03ddb0 133px,#25e5ea 134px,#36b5f0 135px,#3b8cf0 136px,#396cf0 137px,#3960eb 138px,#395ee9 141px,#3961ed 142px,#396df0 143px,#3c9cf0 145px,#2cd8f0 147px,#1de3dd 148px,#0adfbc 149px,#00d99e 150px,#01b400 156px,#2ec000 157px,#75d300 158px,#d9eb00 160px,#f3e100 161px,#faad00 163px,#fa9b00 164px,#fa9100 166px,#fa9500 174px,#faa200 175px,#f9c100 176px,#f1eb00 177px,#b2e200 178px,#4bc800 179px,#00b70f 180px,#00cb70 182px,#00d696 183px,#0edfc2 184px,#29e3f0 185px,#36b4f0 186px,#3ba3f0 187px,#3ca1f0 202px,#36b4f0 204px,#2cd9f0 206px,#22e5e6 207px,#0edfc2 210px,#0adebb 212px,#0cdfc0 223px,#0cdfbe 225px,#00d99f 228px,#00c245 234px,#01b400 238px,#86d800 249px,#86d800 251px"></i><i style="--g:#ec5100,#ec5200 4px,#fa8d00 30px,#f4dc00 45px,#f0ee00 47px,#9cdd00 52px,#51c900 54px,#00b401 56px,#00c966 63px,#00dcaa 70px,#13e1cb 73px,#0adebb 96px,#0fe0c5 105px,#01dcac 106px,#00cc71 108px,#07b600 110px,#59cc00 111px,#9bdd00 112px,#b6e300 113px,#dceb00 114px,#f1e900 115px,#fac000 119px,#fabd00 121px,#f8c900 123px,#f2e800 125px,#e0ec00 126px,#a1de00 128px,#56cb00 129px,#00b609 130px,#00ce7a 132px,#00dca9 133px,#21e4e4 134px,#35baf0 135px,#3a88f0 136px,#3862ee 137px,#3e4ad3 140px,#3f45cd 142px,#3863ef 146px,#3ba5f0 148px,#30caf0 149px,#23e5e7 150px,#00daa2 152px,#00c03e 156px,#00b503 158px,#27be00 159px,#71d200 160px,#daeb00 162px,#f3df00 163px,#faa900 165px,#fa9100 167px,#fa9200 175px,#fa9d00 176px,#fabb00 177px,#f2e400 178px,#b7e300 179px,#50c900 180px,#00b70d 181px,#00cc73 183px,#00d79a 184px,#10e0c7 185px,#2addf0 186px,#39abf0 187px,#3ba3f0 189px,#3ba4f0 203px,#34bcf0 205px,#28e5f0 207px,#16e1d0 209px,#0bdfbd 211px,#0cdfbf 223px,#0edfc2 225px,#00dba6 228px,#00c44f 234px,#00b609 238px,#06b600 239px,#7fd600 249px,#7fd600 251px"></i><i style="--g:#ed5600,#ed5300 6px,#fa8c00 32px,#f4dd00 47px,#f0f000 49px,#9d0 54px,#00b402 58px,#00cb6d 66px,#01dcac 73px,#12e0c9 76px,#0edfc2 98px,#13e1cc 105px,#00d799 106px,#00cb6e 107px,#03b500 109px,#52ca00 110px,#97dc00 111px,#cee800 113px,#f0f000 114px,#fabd00 119px,#fabc00 121px,#f8c800 123px,#f2e800 125px,#dfec00 126px,#a1df00 128px,#58cc00 129px,#00b402 130px,#00cc73 132px,#00daa2 133px,#1ce3dc 134px,#32c1f0 135px,#3b8ef0 136px,#3863ef 137px,#3e4ad3 140px,#3f43cb 144px,#3e48d0 146px,#3a5de8 148px,#3976f0 149px,#3ca0f0 150px,#30caf0 151px,#22e4e5 152px,#00daa2 154px,#00c75d 157px,#00b400 160px,#2dc000 161px,#79d400 162px,#e2ed00 164px,#f5d800 165px,#faa200 167px,#fa9100 169px,#fa9100 176px,#fa9b00 177px,#fab800 178px,#f3e200 179px,#bae400 180px,#4dc900 181px,#00b812 182px,#00cd77 184px,#00d99f 185px,#16e1d0 186px,#2dd3f0 187px,#3ba4f0 188px,#3ca1f0 203px,#36b4f0 205px,#2bdaf0 207px,#21e4e4 208px,#0ddfc0 211px,#0adebb 218px,#0ddfc1 226px,#00d9a1 229px,#00c248 235px,#00b401 239px,#79d400 249px,#79d400 251px"></i><i style="--g:#ef5a00,#ec5000 7px,#fa8b00 34px,#f4dd00 49px,#edef00 51px,#98dd00 56px,#00b401 60px,#00c969 68px,#04ddb1 77px,#14e1cd 81px,#12e0c9 98px,#14e1cd 101px,#00daa4 104px,#00d590 105px,#00c967 106px,#07b600 108px,#95dc00 110px,#d2e900 112px,#e7ee00 113px,#f2e800 114px,#faba00 119px,#fabb00 121px,#f8c800 123px,#f1e900 125px,#dfec00 126px,#a2df00 128px,#5bcc00 129px,#0ab700 130px,#00be32 131px,#00ca6c 132px,#00d79a 133px,#16e2d1 134px,#30cbf0 135px,#3b96f0 136px,#3869f0 137px,#3c51db 139px,#3f43cb 142px,#3f45cd 146px,#395ee9 150px,#3a7cf0 151px,#39a9f0 152px,#2dd4f0 153px,#1de3dd 154px,#09deba 155px,#00d99e 156px,#00c556 159px,#00b918 161px,#0ab700 162px,#3ac300 163px,#8ad900 164px,#f0f000 166px,#fab000 168px,#fa9b00 169px,#fa9200 170px,#fa9100 177px,#fa9b00 178px,#fab700 179px,#f2e400 180px,#b2e200 181px,#40c500 182px,#00b917 183px,#00c450 184px,#00dba8 186px,#1ce3da 187px,#31c8f0 188px,#3ba4f0 189px,#3ca0f0 203px,#38aef0 205px,#27e6ee 208px,#15e1ce 210px,#0adebb 212px,#0ddfc0 224px,#0ee0c3 226px,#06ddb4 228px,#00d38a 231px,#00c452 235px,#00b60b 239px,#04b500 240px,#72d200 249px,#72d200 251px"></i><i style="--g:#f05e00,#ec5100 9px,#fa8b00 36px,#f4de00 51px,#ecef00 53px,#9d0 58px,#07b600 62px,#00b918 64px,#00ca6a 71px,#05ddb2 82px,#13e1cc 88px,#13e1cb 94px,#02ddae 99px,#00d184 103px,#00cd76 104px,#00c65a 105px,#00bc26 106px,#12b900 107px,#9dde00 109px,#daeb00 111px,#edef00 112px,#f6d300 116px,#fab800 119px,#fabe00 122px,#f5d800 124px,#f1e900 125px,#dfec00 126px,#a4df00 128px,#17ba00 130px,#00bc28 131px,#00c863 132px,#00d591 133px,#0fe0c5 134px,#2cd7f0 135px,#3ca2f0 136px,#3972f0 137px,#3a5ce7 138px,#3f46cf 141px,#3f43cb 146px,#3a5ae5 150px,#3863ee 151px,#3b95f0 153px,#29e3f0 155px,#03ddb0 157px,#00ca6a 160px,#00b70e 163px,#19bb00 164px,#54ca00 165px,#9dde00 166px,#d2e900 167px,#f3df00 168px,#faa200 170px,#fa9500 171px,#fa9100 178px,#fa9b00 179px,#faba00 180px,#f1e900 181px,#a9e000 182px,#2abf00 183px,#0b2 184px,#00c65c 185px,#05ddb3 187px,#24e5e8 188px,#35b9f0 189px,#3ba4f0 190px,#3ba2f0 204px,#36b6f0 206px,#2adef0 208px,#20e4e2 209px,#0bdfbe 212px,#0cdfc0 224px,#0ee0c3 227px,#00daa1 230px,#00c34b 236px,#00b503 240px,#6cd100 249px,#6cd100 251px"></i><i style="--g:#f16200,#ec5000 11px,#fa8b00 38px,#f4de00 53px,#edef00 55px,#9ddd00 60px,#81d600 61px,#16ba00 64px,#00b504 65px,#00c967 74px,#00d797 83px,#00dba5 90px,#00d798 96px,#00cc71 101px,#00c553 103px,#00c03e 104px,#00b917 105px,#24be00 106px,#77d400 107px,#aee100 108px,#e7ee00 110px,#f1ec00 111px,#f4da00 115px,#fab600 119px,#fabe00 122px,#f1ea00 125px,#dfec00 126px,#a5df00 128px,#24be00 130px,#00ba1e 131px,#00c557 132px,#08deb7 134px,#28e5f0 135px,#38aff0 136px,#3a7ef0 137px,#3960eb 138px,#3e47d0 141px,#4041c9 145px,#3d4fd8 149px,#395feb 151px,#3972f0 152px,#3aa7f0 154px,#2ed1f0 156px,#20e4e1 157px,#00daa5 159px,#00c75f 162px,#00b400 165px,#2fc000 166px,#7bd500 167px,#eff000 169px,#faab00 171px,#fa9800 172px,#fa9100 174px,#fa9100 179px,#fa9d00 180px,#fabf00 181px,#ecef00 182px,#97dc00 183px,#11b800 184px,#00bd2e 185px,#00c968 186px,#00d593 187px,#0edfc2 188px,#2adff0 189px,#39aaf0 190px,#3ba3f0 195px,#3ca1f0 204px,#37b1f0 206px,#2dd4f0 208px,#24e5e9 209px,#0ddfc1 212px,#0adebb 215px,#0cdfbf 224px,#0fe0c4 227px,#07deb6 229px,#00d79a 231px,#00c554 236px,#00b70d 240px,#03b500 241px,#66cf00 249px,#66cf00 251px"></i><i style="--g:#f16400,#ef5c00 6px,#ec5000 13px,#fa8b00 40px,#f4de00 55px,#eff000 57px,#90da00 63px,#0cb700 67px,#00b507 68px,#00c75d 77px,#00cf7d 84px,#00d183 91px,#00ca6c 97px,#00c34b 100px,#00b816 103px,#00b400 104px,#5acc00 105px,#a2df00 106px,#e1ed00 108px,#f1eb00 109px,#f5d800 115px,#fab400 119px,#fabe00 122px,#f1ea00 125px,#e0ec00 126px,#a6e000 128px,#74d300 129px,#32c100 130px,#00b813 131px,#00cf7c 133px,#00dca9 134px,#20e4e1 135px,#33bef0 136px,#3b8cf0 137px,#3864f0 138px,#3e49d2 141px,#4041c9 145px,#3d4cd6 149px,#3869f0 152px,#3ca1f0 154px,#2fccf0 156px,#27e6ee 158px,#05ddb2 160px,#00ca6c 163px,#00b70f 166px,#1abb00 167px,#54ca00 168px,#a1de00 169px,#dcec00 170px,#f6d400 171px,#fab100 172px,#fa9a00 173px,#fa9100 174px,#fa9200 180px,#faa100 181px,#f8c900 182px,#dbeb00 183px,#7ad500 184px,#00b503 185px,#00cd74 187px,#00d99f 188px,#17e2d2 189px,#2fcef0 190px,#3aa6f0 191px,#3ba4f0 205px,#35b9f0 207px,#29e3f0 209px,#0fe0c5 212px,#0adfbc 213px,#0cdfbe 224px,#0fe0c5 228px,#00daa1 231px,#00c34c 237px,#00b504 241px,#54ca00 248px,#54ca00 251px"></i><i style="--g:#f36800,#f16100 6px,#eb4f00 15px,#fa8b00 42px,#f4dd00 57px,#f0ee00 59px,#9dde00 65px,#87d800 66px,#11b900 70px,#00b504 71px,#00c244 79px,#00c761 86px,#00c75f 91px,#00c143 96px,#00b813 100px,#00b402 101px,#2ec000 102px,#9ede00 104px,#dfec00 106px,#f1ea00 107px,#f4dc00 110px,#f4dd00 114px,#fab600 118px,#fab400 120px,#fabe00 122px,#f1ea00 125px,#e0ec00 126px,#a7e000 128px,#7fd600 129px,#3fc500 130px,#00b609 131px,#00cc72 133px,#00d89d 134px,#16e2d1 135px,#2fcff0 136px,#3c9df0 137px,#3974f0 138px,#395de9 139px,#3f46cf 142px,#3f43cb 147px,#3a5ae5 151px,#3863ef 152px,#3c9cf0 154px,#30cbf0 156px,#26e6ed 158px,#1ce3db 160px,#00daa3 162px,#00c75d 165px,#00ba1c 167px,#0ab700 168px,#3ec400 169px,#96dc00 170px,#cfe900 171px,#f4dc00 172px,#fab500 173px,#fa9a00 174px,#fa9100 175px,#fa9400 181px,#faa800 182px,#f6d400 183px,#c4e600 184px,#51ca00 185px,#00b814 186px,#00c450 187px,#02ddae 189px,#22e4e5 190px,#34bbf0 191px,#3aa6f0 192px,#3ba2f0 205px,#36b4f0 207px,#2cd9f0 209px,#21e4e4 210px,#0cdfbf 213px,#0bdfbd 224px,#10e0c6 228px,#07deb7 230px,#00d799 232px,#00c556 237px,#03b500 242px,#4ec900 248px,#4ec900 251px"></i><i style="--g:#f46c00,#f26500 6px,#ec5000 18px,#fa8b00 44px,#f3e000 60px,#ecef00 62px,#8cd900 69px,#0fb800 74px,#00b402 75px,#00bd2b 82px,#00bf36 88px,#00bc26 93px,#00b504 97px,#16ba00 98px,#68d000 100px,#97dc00 101px,#e4ed00 104px,#f2e600 105px,#f5d500 108px,#f5d700 111px,#f3df00 113px,#f6d400 115px,#fab400 118px,#fab600 121px,#f7cc00 123px,#f1eb00 125px,#e0ec00 126px,#89d900 129px,#4cc800 130px,#03b500 131px,#00c967 133px,#00d591 134px,#0ddfc0 135px,#2ae0f0 136px,#37b0f0 137px,#3863ef 139px,#3e49d2 142px,#4042ca 146px,#3c50da 150px,#3961ed 152px,#37b2f0 155px,#2bddf0 157px,#25e5ea 158px,#12e0c9 162px,#01dcab 163px,#00c966 166px,#00b401 169px,#34c200 170px,#86d800 171px,#c8e700 172px,#f4de00 173px,#fab600 174px,#fa9a00 175px,#fa9100 176px,#fa9100 181px,#fa9700 182px,#fab300 183px,#f2e400 184px,#aae000 185px,#24be00 186px,#00bc28 187px,#00c865 188px,#00d591 189px,#0ddfc1 190px,#2adef0 191px,#3aa8f0 192px,#3ca1f0 205px,#37b0f0 207px,#26e5ec 210px,#0edfc2 213px,#0adebb 215px,#0ddfc0 225px,#10e0c6 229px,#00d9a1 232px,#00c75f 237px,#00b504 242px,#48c700 248px,#48c700 251px"></i><i style="--g:#f57100,#f36900 6px,#ec5000 20px,#fa8a00 46px,#f3e300 63px,#eaef00 65px,#9bdd00 72px,#2cc000 78px,#04b500 81px,#00b608 88px,#01b400 91px,#33c200 94px,#9fde00 98px,#d9eb00 101px,#f0f000 102px,#f3df00 103px,#f8ca00 107px,#f7ce00 110px,#f3e000 113px,#f5d500 115px,#fab700 118px,#fab600 121px,#f1eb00 125px,#c6e700 127px,#93db00 129px,#58cb00 130px,#11b900 131px,#00bc26 132px,#00c65a 133px,#03ddb0 135px,#21e4e4 136px,#32c5f0 137px,#3c9af0 138px,#3973f0 139px,#395ee9 140px,#3e48d1 143px,#3f44cc 147px,#3b57e1 151px,#3960eb 152px,#3974f0 153px,#38aff0 155px,#2adef0 157px,#23e5e7 158px,#14e1cd 161px,#11e0c8 163px,#00d799 165px,#00ca6b 167px,#00b505 170px,#30c100 171px,#83d700 172px,#c6e700 173px,#f4db00 174px,#fab200 175px,#fa9800 176px,#fa9100 178px,#fa9100 182px,#fa9c00 183px,#fac000 184px,#e5ee00 185px,#84d700 186px,#01b400 187px,#00cd74 189px,#00d9a1 190px,#19e2d7 191px,#31c8f0 192px,#3aa9f0 193px,#3ba4f0 206px,#35b9f0 208px,#2ae0f0 210px,#10e0c5 213px,#0adebb 214px,#0cdfbf 225px,#11e0c7 229px,#08deb7 231px,#00d79a 233px,#00c556 238px,#00b70d 242px,#04b500 243px,#42c600 248px,#42c600 251px"></i><i style="--g:#f67500,#f46e00 6px,#eb4f00 22px,#fa8a00 48px,#f3e200 66px,#eef000 68px,#a4df00 76px,#8bd900 79px,#67cf00 83px,#60ce00 86px,#6ed100 89px,#a7e000 94px,#ddec00 98px,#eff000 99px,#f8c900 103px,#fabe00 107px,#f9c500 109px,#f4de00 112px,#f3df00 114px,#fabe00 118px,#fabd00 121px,#f1ec00 125px,#e0ec00 126px,#9d0 129px,#63ce00 130px,#1fbc00 131px,#00b91b 132px,#00ce7a 134px,#00daa2 135px,#17e2d2 136px,#2cdaf0 137px,#37b0f0 138px,#3865f0 140px,#3d4cd5 143px,#3f45ce 147px,#3b56e1 151px,#395fea 152px,#3972f0 153px,#38adf0 155px,#2adff0 157px,#1ae2d7 159px,#0edfc2 162px,#07deb7 165px,#00d285 167px,#00c44f 169px,#00b505 171px,#32c100 172px,#8ad900 173px,#cfe900 174px,#f5d600 175px,#faac00 176px,#fa9600 177px,#fa9000 182px,#fa9200 183px,#faa500 184px,#f6d200 185px,#c6e700 186px,#52ca00 187px,#00b816 188px,#00c555 189px,#06deb5 191px,#26e6ed 192px,#37b2f0 193px,#3aa8f0 195px,#3ba2f0 206px,#36b4f0 208px,#2cd8f0 210px,#22e4e5 211px,#0bdfbe 214px,#0bdfbe 225px,#11e0c7 230px,#00d9a0 233px,#00c75e 238px,#00b503 243px,#3cc400 248px,#3cc400 251px"></i><i style="--g:#f77900,#f57200 6px,#ec5000 25px,#fa8e00 51px,#f5d700 67px,#f0f000 72px,#c0e500 79px,#b2e200 85px,#c0e500 90px,#e1ed00 94px,#edef00 95px,#fab400 103px,#fab300 107px,#f3df00 112px,#f2e400 113px,#f9c400 118px,#f9c400 121px,#f0ef00 125px,#9cdd00 129px,#6dd100 130px,#2bbf00 131px,#00b711 132px,#00cb6f 134px,#00d695 135px,#0cdfbf 136px,#23e5e7 137px,#31c7f0 138px,#3ca0f0 139px,#3a7bf0 140px,#3961ed 141px,#3d4cd5 144px,#3e49d2 148px,#395fea 152px,#3971f0 153px,#38adf0 155px,#2ae0f0 157px,#11e0c7 160px,#08deb8 163px,#05ddb4 166px,#00cb6d 169px,#00b401 172px,#3bc400 173px,#98dc00 174px,#dcec00 175px,#f7cc00 176px,#faa400 177px,#fa9200 178px,#fa9100 183px,#fa9700 184px,#fab300 185px,#f2e700 186px,#a1de00 187px,#18ba00 188px,#00bd2e 189px,#00ca6b 190px,#00d797 191px,#13e1cc 192px,#2ed1f0 193px,#39acf0 194px,#3ca1f0 206px,#37b0f0 208px,#26e5ec 211px,#0ddfc1 214px,#0adebb 217px,#0bdfbd 225px,#11e0c8 230px,#0fe0c4 231px,#00dba7 233px,#00c555 239px,#00b60c 243px,#04b500 244px,#37c300 248px,#37c300 251px"></i><i style="--g:#f87b00,#f77600 6px,#ec5000 27px,#fa8c00 53px,#f7ce00 68px,#eef000 79px,#e5ed00 85px,#f1ec00 90px,#fac000 99px,#faa000 103px,#faa100 105px,#f3e100 112px,#f2e700 113px,#f8ca00 118px,#f7cb00 121px,#eeef00 125px,#a0de00 129px,#75d300 130px,#35c200 131px,#00b608 132px,#00c966 134px,#01dcac 136px,#17e2d2 137px,#2adef0 138px,#3b93f0 140px,#3972f0 141px,#395fea 142px,#3d4dd7 145px,#3d4ed8 149px,#3960eb 152px,#3975f0 153px,#37b2f0 155px,#29e2f0 157px,#0edfc2 160px,#03ddb0 163px,#01dcac 167px,#00d89c 168px,#00ca6a 170px,#00bb21 172px,#0bb700 173px,#4ac800 174px,#a3df00 175px,#edef00 176px,#fac000 177px,#fa9c00 178px,#fa9100 179px,#fa9100 184px,#fa9d00 185px,#f8c600 186px,#d9eb00 187px,#6fd200 188px,#00b608 189px,#00c248 190px,#01dcab 192px,#21e4e4 193px,#35b9f0 194px,#38adf0 195px,#3ba5f0 207px,#35baf0 209px,#29e1f0 211px,#0fe0c4 214px,#0adebb 215px,#0ddfc0 226px,#11e0c8 231px,#00d9a0 234px,#00c75d 239px,#00b402 244px,#25be00 247px,#25be00 251px"></i><i style="--g:#f97f00,#f87a00 6px,#eb4f00 29px,#fa8f00 56px,#f8c900 71px,#f4db00 83px,#f7cf00 92px,#fab200 98px,#fa9100 102px,#fa8e00 103px,#f4da00 111px,#f2e800 113px,#f6d100 118px,#f6d300 121px,#f1ea00 124px,#eaef00 125px,#a2df00 129px,#7cd500 130px,#00b400 132px,#00c65b 134px,#00d99e 136px,#0bdfbe 137px,#20e4e2 138px,#2ed0f0 139px,#39acf0 140px,#396cf0 142px,#3b58e2 144px,#3d4fd9 148px,#3a5be5 151px,#3863ee 152px,#3c9ef0 154px,#2dd4f0 156px,#29e4f0 157px,#0bdfbd 160px,#00dca9 163px,#00dba6 168px,#00d798 169px,#00c865 171px,#00b816 173px,#1bbb00 174px,#5fcd00 175px,#b6e300 176px,#f3e200 177px,#fab400 178px,#fa9700 179px,#fa9000 181px,#fa9400 185px,#faac00 186px,#f4dc00 187px,#b1e200 188px,#2dc000 189px,#00bb24 190px,#00c864 191px,#00d591 192px,#0fe0c4 193px,#2cd8f0 194px,#37b0f0 195px,#3ba3f0 207px,#36b6f0 209px,#2bdbf0 211px,#21e4e5 212px,#0bdfbc 215px,#0cdfbf 226px,#12e1ca 231px,#0fe0c4 232px,#00dba6 234px,#00c865 239px,#00b60a 244px,#06b600 245px,#1fbc00 247px,#1fbc00 251px"></i><i style="--g:#fa8300,#f87c00 7px,#ec5100 32px,#fa8f00 59px,#fac000 73px,#f7cb00 84px,#fabd00 92px,#fa9600 99px,#fa8300 102px,#faba00 108px,#f2e700 112px,#f2e800 114px,#f5d700 119px,#f3e000 122px,#f0ee00 124px,#d7ea00 126px,#a4df00 129px,#82d700 130px,#0ab700 132px,#00bb24 133px,#00ce78 135px,#00dcab 137px,#27e6ee 139px,#3ba5f0 141px,#396cf0 143px,#3a5ae5 145px,#3b55e0 149px,#395eea 151px,#386bf0 152px,#39abf0 154px,#29e2f0 156px,#1be3d9 158px,#02ddae 161px,#00d9a0 165px,#00daa1 169px,#00d591 170px,#00c659 172px,#00b60a 174px,#31c100 175px,#85d700 176px,#d0e900 177px,#f6d000 178px,#faa600 179px,#fa9200 180px,#fa9000 185px,#fa9a00 186px,#fabf00 187px,#e4ed00 188px,#82d700 189px,#01b400 190px,#00ce78 192px,#00dba6 193px,#1ee4df 194px,#34bdf0 195px,#37b1f0 196px,#3ba2f0 207px,#37b2f0 209px,#2dd5f0 211px,#24e5e9 212px,#0cdfbf 215px,#0cdfbf 226px,#13e1cb 231px,#12e0c9 232px,#01dcac 234px,#00c65b 240px,#01b400 245px,#1abb00 247px,#1abb00 251px"></i><i style="--g:#fa8600,#fa8000 7px,#ec5000 34px,#fa8f00 62px,#fab500 75px,#faba00 85px,#faa500 93px,#fa8200 100px,#f87c00 102px,#f8c600 109px,#f1ec00 112px,#f1e900 115px,#f4de00 120px,#eff000 124px,#b8e400 128px,#a6df00 129px,#86d800 130px,#12b900 132px,#00ba1d 133px,#00cb6f 135px,#00d89d 137px,#08deb8 138px,#1ae2d7 139px,#2adff0 140px,#3ca1f0 142px,#396ff0 144px,#3962ed 145px,#3a5be6 149px,#3863ef 151px,#397af0 152px,#3b98f0 153px,#2bdcf0 155px,#1fe4e1 156px,#16e2d1 157px,#0edfc2 159px,#00dca8 161px,#00d79a 165px,#00d89d 170px,#00cb6e 172px,#00bb24 174px,#08b600 175px,#48c700 176px,#a2df00 177px,#edef00 178px,#fabf00 179px,#fa9b00 180px,#fa9000 181px,#fa9200 186px,#faa700 187px,#f5d700 188px,#bae400 189px,#3cc400 190px,#00ba1c 191px,#00c75d 192px,#00d48d 193px,#0cdfc0 194px,#2bdcf0 195px,#36b5f0 196px,#3ba2f0 207px,#38aff0 209px,#2ed0f0 211px,#28e6ef 212px,#0edfc2 215px,#0adebb 217px,#0bdfbe 226px,#13e1cb 231px,#0ee0c3 233px,#00daa4 235px,#00c863 240px,#00b506 245px,#15ba00 247px,#15ba00 251px"></i><i style="--g:#fa8b00,#fa8600 6px,#ec5000 36px,#fa9200 67px,#faaa00 79px,#faa300 88px,#f67500 101px,#f77700 102px,#f8ca00 109px,#eff000 112px,#f2e500 120px,#eaef00 124px,#b9e400 128px,#a6e000 129px,#89d900 130px,#18ba00 132px,#00b918 133px,#00c966 135px,#00dba6 138px,#1ee4df 140px,#2cd9f0 141px,#3ba2f0 143px,#3977f0 145px,#3868f0 146px,#3961ec 149px,#3863ef 150px,#3971f0 151px,#3a89f0 152px,#3aa9f0 153px,#30ccf0 154px,#22e4e5 155px,#14e1cd 156px,#08deb8 158px,#09deba 159px,#00d89d 162px,#00d694 166px,#00d798 171px,#00c863 173px,#00b813 175px,#22bd00 176px,#67cf00 177px,#bce400 178px,#f4dc00 179px,#faad00 180px,#fa9400 181px,#fa9000 186px,#fa9800 187px,#fabb00 188px,#e9ef00 189px,#8dd900 190px,#0ab700 191px,#00c03a 192px,#00cd74 193px,#00daa3 194px,#1de3dc 195px,#33bef0 196px,#37b0f0 199px,#3ba5f0 208px,#35baf0 210px,#29e1f0 212px,#0fe0c5 215px,#0adebb 216px,#0bdfbd 226px,#13e1cc 231px,#12e0c9 233px,#00dcaa 235px,#00c658 241px,#03b500 246px,#10b800 247px,#10b800 251px"></i><i style="--g:#fa8e00,#fa8a00 6px,#ec5000 38px,#fa8600 67px,#fa9a00 80px,#fa8e00 89px,#f46d00 101px,#f98000 103px,#fac000 108px,#f1ea00 111px,#e8ee00 114px,#f1ec00 120px,#ecef00 123px,#d3ea00 126px,#a7e000 129px,#8ad900 130px,#1cbc00 132px,#00b814 133px,#00c03d 134px,#00c75d 135px,#02ddae 139px,#21e4e4 141px,#2cd7f0 142px,#3aa6f0 144px,#3a82f0 146px,#3971f0 148px,#3975f0 150px,#3a83f0 151px,#3c99f0 152px,#2adef0 154px,#1be3d8 155px,#0adebb 156px,#01dcac 157px,#00dba5 159px,#00dca9 160px,#00d590 164px,#00d694 171px,#00d48d 172px,#00c452 174px,#00b401 176px,#40c500 177px,#9d0 178px,#e0ec00 179px,#f8c600 180px,#fa9d00 181px,#fa9000 182px,#fa9100 187px,#faa600 188px,#f5d600 189px,#bce400 190px,#42c600 191px,#00b917 192px,#00c659 193px,#00d38b 194px,#0cdfbf 195px,#2bdcf0 196px,#35baf0 197px,#3ba3f0 207px,#39abf0 209px,#31c7f0 211px,#2bdcf0 212px,#22e4e5 213px,#0adfbc 216px,#0adebb 226px,#14e1cd 231px,#13e1cb 233px,#00daa2 236px,#00c75f 241px,#00b503 246px,#00b503 251px"></i><i style="--g:#fa9400,#fa9000 6px,#eb4f00 40px,#fa8300 69px,#fa8700 84px,#f77800 95px,#f16400 101px,#faa500 106px,#f0ee00 111px,#e3ed00 114px,#eaef00 122px,#ddec00 125px,#b9e400 128px,#a6e000 129px,#8ad900 130px,#1fbc00 132px,#00b711 133px,#00bf39 134px,#00ca69 136px,#00d99f 139px,#06ddb4 140px,#22e4e5 142px,#2cd9f0 143px,#3c9ef0 146px,#3b8bf0 148px,#3b8af0 150px,#3b94f0 151px,#31c5f0 153px,#27e6ef 154px,#03ddae 156px,#00d89b 157px,#00d694 159px,#00d89b 161px,#00d389 165px,#00d592 172px,#00d080 173px,#00c966 174px,#00b816 176px,#1ebc00 177px,#60ce00 178px,#b2e200 179px,#f3e100 180px,#fab000 181px,#fa9500 182px,#fa8f00 185px,#fa8f00 187px,#fa9800 188px,#fabb00 189px,#e9ee00 190px,#8fda00 191px,#0fb800 192px,#00bf37 193px,#00cc73 194px,#00daa2 195px,#1de3dd 196px,#33bff0 197px,#3ba5f0 206px,#3ba3f0 208px,#36b3f0 210px,#2cd7f0 212px,#23e5e8 213px,#0cdfbe 216px,#0adebb 226px,#14e1cd 231px,#11e0c7 234px,#00dba7 236px,#00c554 242px,#00b60a 246px,#00b60a 251px"></i><i style="--g:#fa9a00,#fa9700 6px,#f97e00 16px,#ec5100 43px,#f97d00 70px,#f97f00 86px,#f26700 98px,#ef5d00 101px,#fa9b00 105px,#f2e500 110px,#eef000 111px,#e3ed00 114px,#e1ed00 124px,#c7e700 127px,#a5df00 129px,#88d800 130px,#20bd00 132px,#00b710 133px,#00bf35 134px,#00cc72 137px,#00daa4 140px,#21e4e4 143px,#2addf0 144px,#38aef0 147px,#3ca1f0 149px,#3aa7f0 151px,#35b7f0 152px,#2ed0f0 153px,#23e5e7 154px,#00daa4 156px,#00d48f 157px,#00d184 158px,#00d287 160px,#00d48f 161px,#00d184 167px,#00d48d 173px,#00c452 175px,#00b401 177px,#41c500 178px,#97dc00 179px,#dcec00 180px,#f8c800 181px,#fa9d00 182px,#fa8f00 183px,#fa9000 188px,#faa700 189px,#f5d800 190px,#b7e300 191px,#42c600 192px,#00b815 193px,#00c658 194px,#00d38c 195px,#0ddfc1 196px,#2cd8f0 197px,#33bff0 198px,#3ba5f0 206px,#3aa7f0 209px,#33bff0 211px,#26e5ec 213px,#0ddfc1 216px,#0adebb 220px,#0cdfbf 227px,#15e1cf 232px,#13e1cc 234px,#02dcad 236px,#00c65b 242px,#00b710 246px,#00b710 251px"></i><i style="--g:#faa400,#faa200 6px,#fa8c00 11px,#ec5000 45px,#f77800 71px,#f77700 87px,#ef5b00 99px,#ee5a00 101px,#fa9100 104px,#f4dc00 109px,#eaef00 111px,#e3ed00 115px,#deec00 124px,#c5e700 127px,#a4df00 129px,#84d700 130px,#20bc00 132px,#00b70f 133px,#00be30 134px,#00ca6b 137px,#01dcab 141px,#28e5f0 145px,#33c0f0 148px,#34bbf0 150px,#31c6f0 152px,#2bdbf0 153px,#1ee3de 154px,#0bdfbd 155px,#00d89c 156px,#00cd76 158px,#00cd75 160px,#00d288 162px,#00d080 168px,#00d38a 173px,#00d07f 174px,#00c864 175px,#00b813 177px,#24be00 178px,#67cf00 179px,#b3e300 180px,#f3e100 181px,#faaf00 182px,#fa9400 183px,#fa8e00 187px,#fa8e00 188px,#fa9800 189px,#fabf00 190px,#e3ed00 191px,#89d800 192px,#11b800 193px,#00bf37 194px,#00cd75 195px,#00dba5 196px,#20e4e2 197px,#32c4f0 198px,#3aa8f0 205px,#3aa6f0 209px,#34bcf0 211px,#28e6f0 213px,#0ee0c3 216px,#0adebb 218px,#0cdfbe 227px,#15e1cf 232px,#14e1ce 234px,#05ddb3 236px,#00cf7d 240px,#00c44f 243px,#00b917 246px,#00b917 251px"></i><i style="--g:#faaf00,#faaf00 6px,#fa9500 10px,#f46e00 29px,#ec5100 48px,#f67200 73px,#f46e00 88px,#eb4f00 100px,#f67400 102px,#f8c600 107px,#f1ec00 110px,#e3ed00 113px,#deec00 124px,#c4e600 127px,#a2df00 129px,#80d600 130px,#1ebc00 132px,#00b710 133px,#00c03e 135px,#00dba5 141px,#29e4f0 147px,#2dd3f0 150px,#2bdbf0 152px,#28e6f0 153px,#08deb8 155px,#00d07f 157px,#00c75f 159px,#00ca6a 161px,#00d182 163px,#00cf7c 168px,#00d288 174px,#00cb6f 175px,#00bb24 177px,#0bb700 178px,#4ec900 179px,#9dde00 180px,#e2ed00 181px,#f9c400 182px,#fa9a00 183px,#fa8e00 184px,#fa9100 189px,#faab00 190px,#f3df00 191px,#aee100 192px,#41c500 193px,#00b917 194px,#00c65b 195px,#00d48f 196px,#11e0c8 197px,#2fcff0 198px,#34bdf0 200px,#3ba5f0 207px,#3ba5f0 209px,#35b9f0 211px,#29e1f0 213px,#0adebb 217px,#0bdfbd 227px,#16e1d0 232px,#12e1ca 235px,#00dca9 237px,#00c555 243px,#00be30 245px,#00be30 251px"></i><i style="--g:#fabd00,#fab900 7px,#fa9b00 10px,#f97d00 23px,#ec5000 50px,#f46c00 74px,#f26500 89px,#eb4f00 98px,#ed5500 100px,#fa8f00 103px,#f5d800 108px,#f0ef00 110px,#e3ed00 113px,#deec00 124px,#c1e600 127px,#9fde00 129px,#7cd500 130px,#1abb00 132px,#00b812 133px,#00d288 139px,#01dcac 142px,#23e5e8 149px,#22e5e6 152px,#1ee3de 153px,#15e1cf 154px,#05ddb3 155px,#00c866 158px,#00c452 159px,#00c349 160px,#00cf7b 164px,#00ce7a 170px,#00d183 174px,#00ce79 175px,#00c65b 176px,#00b507 178px,#37c300 179px,#bee500 181px,#f4da00 182px,#faaa00 183px,#fa9100 184px,#fa8c00 189px,#fa9a00 190px,#f8c600 191px,#d7ea00 192px,#79d400 193px,#0cb700 194px,#00c03d 195px,#00ce7a 196px,#02dcad 197px,#26e6ed 198px,#31c8f0 199px,#39aaf0 205px,#3ba4f0 209px,#35b7f0 211px,#2bddf0 213px,#21e4e4 214px,#0adebb 217px,#0bdfbd 227px,#16e2d1 232px,#15e1ce 235px,#03ddaf 237px,#00c65c 243px,#00bf36 245px,#00bf36 251px"></i><i style="--g:#f7cb00,#f8c800 7px,#fab700 9px,#fa9e00 11px,#f97f00 24px,#ec5000 53px,#f26600 76px,#ef5b00 90px,#ec5000 96px,#f05e00 100px,#fa9700 103px,#f4dc00 108px,#edef00 110px,#e3ed00 113px,#e1ed00 123px,#cce800 126px,#9cdd00 129px,#76d400 130px,#16ba00 132px,#00b813 133px,#00c34c 136px,#00ce78 138px,#00daa4 141px,#08deb8 146px,#16e1d0 149px,#16e2d1 152px,#0fe0c4 154px,#03ddb0 155px,#00c349 159px,#00bf39 160px,#00bf38 161px,#00ca6b 164px,#00cd75 165px,#00cf7b 173px,#00d080 175px,#00c966 176px,#00b814 178px,#24be00 179px,#f0ef00 182px,#fabb00 183px,#fa9600 184px,#fa8c00 185px,#fa8b00 189px,#fa9200 190px,#fab200 191px,#f1e900 192px,#a6e000 193px,#3ac400 194px,#00ba1e 195px,#00c864 196px,#00d797 197px,#18e2d4 198px,#2fcdf0 199px,#38aef0 204px,#3ba3f0 209px,#36b5f0 211px,#2cdaf0 213px,#22e5e6 214px,#0bdfbd 217px,#0adfbc 227px,#16e2d1 232px,#15e1cf 235px,#00dba5 238px,#00c862 243px,#00c03d 245px,#00c03d 251px"></i><i style="--g:#f5d600,#f5d600 7px,#faa000 12px,#f97f00 26px,#ec5000 56px,#f05f00 78px,#ec5000 93px,#f05f00 99px,#f36900 100px,#fa9d00 103px,#f1ea00 109px,#e3ed00 112px,#e0ec00 123px,#c9e700 126px,#98dc00 129px,#42c600 131px,#10b800 132px,#00b812 133px,#00be33 135px,#00ce78 138px,#00d89c 140px,#03ddb0 142px,#00dcaa 146px,#0bdfbe 150px,#09deb9 153px,#01dcab 155px,#00c968 158px,#00c246 159px,#00bc26 161px,#00bd2c 162px,#00c967 165px,#00cc70 166px,#00ce79 175px,#00cb6e 176px,#00ba1e 178px,#16ba00 179px,#9bdd00 181px,#d5ea00 182px,#f7cd00 183px,#faa000 184px,#fa8c00 185px,#fa8c00 190px,#faa100 191px,#f6d200 192px,#c3e600 193px,#68d000 194px,#00b400 195px,#00c248 196px,#00d184 197px,#0adfbc 198px,#2cd8f0 199px,#32c1f0 201px,#3aa9f0 206px,#3ba3f0 209px,#37b3f0 211px,#2cd6f0 213px,#24e5e8 214px,#0cdfbe 217px,#0adebb 227px,#17e2d2 232px,#16e2d1 235px,#13e1cb 236px,#00dca9 238px,#00c555 244px,#00c555 251px"></i><i style="--g:#f4dd00,#f4dd00 7px,#fabb00 11px,#faa300 13px,#f98000 28px,#ec5200 58px,#ee5700 82px,#ec5100 90px,#f26500 99px,#fa9500 102px,#f3e300 108px,#f0ee00 109px,#e3ed00 112px,#dfec00 123px,#c6e700 126px,#94db00 129px,#09b600 132px,#00b711 133px,#00bd2f 135px,#00d38b 139px,#00d99f 140px,#02dcad 142px,#00d9a0 147px,#01dcab 152px,#00d799 156px,#00cb6d 158px,#00bd2f 160px,#00b918 162px,#0b2 163px,#00c864 166px,#00ca6d 167px,#00cc73 176px,#00c451 177px,#00bc26 178px,#0bb700 179px,#97dc00 181px,#c2e600 182px,#f4de00 183px,#faac00 184px,#fa8f00 185px,#fa8800 187px,#fa8800 190px,#fa9300 191px,#fabd00 192px,#e7ee00 193px,#9d0 194px,#2bbf00 195px,#00bd2b 196px,#00cc70 197px,#00dba5 198px,#23e5e7 199px,#2fcef0 200px,#38adf0 205px,#3ba3f0 209px,#37b1f0 211px,#25e5ea 214px,#0ddfc0 217px,#0adebb 227px,#17e2d2 232px,#15e1ce 236px,#03ddaf 238px,#00c65b 244px,#00c65b 251px"></i><i style="--g:#f3df00,#f4dd00 8px,#fab200 13px,#faa600 14px,#f98000 30px,#ed5600 58px,#ec5300 72px,#ed5300 87px,#f46c00 99px,#fab800 104px,#eff000 109px,#e3ed00 112px,#deec00 123px,#c3e600 126px,#a3df00 128px,#8cd900 129px,#01b400 132px,#00c03b 136px,#00d287 139px,#00daa4 141px,#00dcaa 143px,#00d797 148px,#00d89c 153px,#00d591 156px,#00d288 157px,#00c659 159px,#00ba1c 161px,#00b60c 163px,#00bd2f 165px,#00c760 167px,#00ca6a 168px,#00ca6c 176px,#00c557 177px,#05b500 179px,#92db00 181px,#b8e300 182px,#f1eb00 183px,#fab900 184px,#fa9200 185px,#fa8700 186px,#fa8700 190px,#fa8d00 191px,#faab00 192px,#f3e100 193px,#b3e200 194px,#56cb00 195px,#00b70f 196px,#00c65b 197px,#00d694 198px,#17e2d2 199px,#2ed3f0 200px,#37b2f0 204px,#3ba4f0 209px,#37b0f0 211px,#26e6ed 214px,#0ddfc1 217px,#0adebb 220px,#0adebb 227px,#18e2d4 233px,#15e1d0 236px,#00daa4 239px,#00c761 244px,#00c761 251px"></i><i style="--g:#f3e100,#f4de00 9px,#fab500 14px,#faaa00 15px,#f98000 32px,#ee5900 58px,#ed5400 82px,#f46c00 97px,#f67400 99px,#fabd00 104px,#f1ea00 108px,#e4ed00 111px,#e1ed00 122px,#cce800 125px,#9fde00 128px,#83d700 129px,#00b503 132px,#00bf38 136px,#00c34b 137px,#00c969 138px,#00d89d 141px,#00dba6 144px,#00d48f 148px,#00d48f 154px,#00d185 157px,#00ce79 158px,#00c864 159px,#00bc26 161px,#00b70d 162px,#00b402 164px,#00bc28 166px,#00c65b 168px,#00c967 169px,#00c862 176px,#00c659 177px,#04b500 179px,#95dc00 181px,#b5e300 182px,#e5ee00 183px,#f8c600 184px,#fa9a00 185px,#fa8600 186px,#fa8700 191px,#fa9d00 192px,#f7ce00 193px,#cae800 194px,#7dd500 195px,#0fb800 196px,#00c142 197px,#00d183 198px,#0bdfbe 199px,#2cd7f0 200px,#36b4f0 204px,#3ba4f0 209px,#38aff0 211px,#2fcff0 213px,#28e6f0 214px,#0edfc2 217px,#0adebb 219px,#0cdfc0 228px,#19e2d5 233px,#16e2d1 236px,#12e1ca 237px,#00dca8 239px,#00c966 244px,#00c966 251px"></i><i style="--g:#f3e200,#f4de00 10px,#fab800 15px,#faa900 17px,#f87b00 36px,#ef5b00 58px,#ef5a00 83px,#f67500 98px,#fa9b00 101px,#f2e400 107px,#f1ed00 108px,#e5ee00 110px,#e0ec00 122px,#c8e700 125px,#9bdd00 128px,#7ad500 129px,#21bd00 131px,#00b504 132px,#00c141 137px,#00cc71 139px,#00d99e 142px,#00daa4 144px,#00d285 149px,#00d184 155px,#00cf7b 158px,#00cb6d 159px,#00b917 162px,#00b401 163px,#0ab700 164px,#0ab700 165px,#00b60b 166px,#00c556 169px,#00c863 170px,#00c555 176px,#00c44f 177px,#00bc2a 178px,#0ab700 179px,#9d0 181px,#b9e400 182px,#e2ed00 183px,#f7cf00 184px,#faa100 185px,#fa8700 186px,#fa8100 188px,#fa8300 191px,#fa9100 192px,#fabc00 193px,#e8ee00 194px,#9cdd00 195px,#35c200 196px,#00bc29 197px,#00cc72 198px,#00dcaa 199px,#28e5f0 200px,#2fcff0 201px,#38aff0 205px,#3aa5f0 210px,#34bbf0 212px,#29e4f0 214px,#0fe0c4 217px,#0adebb 218px,#0cdfbf 228px,#19e2d6 233px,#17e2d3 236px,#14e1cd 237px,#02dcad 239px,#00cd77 243px,#00cd77 251px"></i><i style="--g:#e8ee00,#e8ee00 8px,#f3e300 9px,#f6d400 13px,#faac00 18px,#f77700 40px,#ef5c00 59px,#f06000 84px,#f87b00 98px,#f6d400 105px,#f0f000 108px,#e5ee00 110px,#dfec00 122px,#c5e600 125px,#97dc00 128px,#45c600 130px,#17ba00 131px,#00b505 132px,#00c34b 138px,#00c967 139px,#00d797 142px,#00d9a1 144px,#00d89a 146px,#00cf7e 150px,#00ce79 157px,#00cc73 159px,#00c864 160px,#00b60c 163px,#0db800 164px,#17ba00 165px,#16ba00 166px,#00b504 167px,#00c44e 170px,#00c65c 171px,#00c246 176px,#00c03e 177px,#00bb24 178px,#15ba00 179px,#62ce00 180px,#a0de00 181px,#e3ed00 183px,#f6d400 184px,#faa700 185px,#fa8600 186px,#f87c00 187px,#fa8000 191px,#fa8900 192px,#faab00 193px,#f3e300 194px,#b3e200 195px,#58cc00 196px,#00b813 197px,#00c863 198px,#00d89c 199px,#1fe4e0 200px,#2ed2f0 201px,#37b0f0 205px,#3ba5f0 210px,#35baf0 212px,#29e2f0 214px,#0fe0c4 217px,#0adebb 218px,#0cdfbf 228px,#19e2d7 233px,#18e2d4 236px,#0edfc2 238px,#00daa3 240px,#00ce7a 243px,#00ce7a 251px"></i><i style="--g:#e6ee00,#e6ee00 9px,#f2e400 10px,#f5d500 14px,#faae00 19px,#f56f00 45px,#ef5b00 61px,#f26700 86px,#f98000 98px,#f5d800 105px,#ecef00 108px,#e3ed00 112px,#e1ed00 121px,#cde800 124px,#a3df00 127px,#8fda00 128px,#0cb700 131px,#00b507 132px,#00c247 138px,#00cf7e 141px,#00d799 143px,#00d89d 146px,#00ce78 151px,#00cb6d 160px,#00c65a 161px,#00b503 164px,#1abb00 165px,#23bd00 166px,#22bd00 167px,#07b600 168px,#00bd2c 170px,#00c248 171px,#00c452 172px,#00bf36 176px,#00b91a 178px,#29bf00 179px,#78d400 180px,#abe100 181px,#ecef00 183px,#f5d500 184px,#faaa00 185px,#fa8700 186px,#f77700 187px,#f87c00 191px,#fa8400 192px,#fa9f00 193px,#f6d400 194px,#c6e700 195px,#79d400 196px,#03b500 197px,#00c44f 198px,#00d48f 199px,#16e1d0 200px,#2dd5f0 201px,#37b1f0 205px,#3ba5f0 210px,#35b9f0 212px,#2ae1f0 214px,#0adebb 218px,#0cdfbf 228px,#1ae2d7 233px,#19e2d6 236px,#11e0c7 238px,#00dba6 240px,#00d38b 242px,#00d38b 251px"></i><i style="--g:#b1e200,#b1e200 9px,#e3ed00 10px,#f2e400 11px,#f7cf00 16px,#fab100 20px,#f46e00 46px,#ef5b00 60px,#f36b00 85px,#fa8600 98px,#f6d300 104px,#f1ed00 107px,#e4ed00 110px,#e0ec00 121px,#c9e700 124px,#9fde00 127px,#85d700 128px,#05b500 131px,#00bc2a 135px,#00c34c 139px,#00cd74 141px,#00d79a 144px,#00d89d 146px,#00cd74 151px,#00c968 161px,#00b919 164px,#06b600 165px,#25be00 166px,#2fc000 167px,#30c100 168px,#13b900 169px,#00b814 170px,#00c140 172px,#00c143 173px,#00bb24 176px,#00b503 178px,#44c600 179px,#97dc00 180px,#dcec00 182px,#f2e800 183px,#f7cf00 184px,#fa8700 186px,#f67300 187px,#f77800 191px,#f97e00 192px,#fa9400 193px,#f9c500 194px,#d8eb00 195px,#97dc00 196px,#21bd00 197px,#00c03d 198px,#00d183 199px,#0ee0c3 200px,#2cd7f0 201px,#35b8f0 204px,#3ba4f0 209px,#39abf0 211px,#30c9f0 213px,#2adff0 214px,#17e2d3 216px,#0adebb 218px,#0cdfbf 228px,#1ae3d8 233px,#1ae2d7 236px,#13e1cb 238px,#00dcaa 240px,#00d48f 242px,#00d48f 251px"></i><i style="--g:#58cb00,#58cb00 9px,#afe100 10px,#e1ed00 11px,#f2e500 12px,#f6d100 17px,#fab100 22px,#f46e00 46px,#ee5900 59px,#f26600 78px,#fa8700 97px,#fa9d00 99px,#f5d800 104px,#f0f000 107px,#e5ee00 109px,#dfec00 121px,#c5e600 124px,#9bdd00 127px,#7bd500 128px,#25be00 130px,#01b400 131px,#00c244 138px,#00c556 140px,#00ce79 142px,#00d693 144px,#00d89b 146px,#00d593 148px,#00cb6e 152px,#00c864 162px,#00b813 165px,#10b800 166px,#31c100 167px,#3ac300 168px,#22bd00 169px,#00b504 170px,#00ba1d 171px,#00bd2d 172px,#00be33 173px,#00bd2d 174px,#00b70f 176px,#06b600 177px,#28bf00 178px,#a9e000 180px,#f0ef00 182px,#f9c500 184px,#fa8400 186px,#f46d00 187px,#f46c00 189px,#f77800 192px,#fa8b00 193px,#fab800 194px,#ecef00 195px,#a3df00 196px,#39c300 197px,#00bd2d 198px,#00ce79 199px,#07deb6 200px,#2cd9f0 201px,#35b8f0 204px,#3ba4f0 209px,#39abf0 211px,#31c8f0 213px,#2adef0 214px,#20e4e3 215px,#0adebb 218px,#0cdfbf 228px,#1be3d9 233px,#1be3d8 236px,#14e1ce 238px,#02ddae 240px,#00d592 242px,#00d592 251px"></i><i style="--g:#52ca00,#52ca00 10px,#ace100 11px,#dfec00 12px,#f2e500 13px,#f7cc00 19px,#fab400 23px,#f57100 45px,#ed5600 58px,#ef5d00 71px,#fa8700 95px,#fa8f00 97px,#f4dc00 104px,#edef00 107px,#e4ed00 110px,#e2ed00 120px,#cde800 123px,#96dc00 127px,#1abb00 130px,#00b402 131px,#00c03c 137px,#00c44f 140px,#00d38a 144px,#00d799 146px,#00d798 148px,#00ca69 153px,#00c75e 163px,#00b70d 166px,#1abb00 167px,#23bd00 168px,#00b400 170px,#0b2 172px,#00bc26 173px,#00ba1e 174px,#00b70d 175px,#0bb700 176px,#5bcc00 178px,#97dc00 179px,#e7ee00 181px,#f3df00 182px,#fab700 184px,#f97e00 186px,#f26600 187px,#f26500 189px,#f67400 192px,#fa8400 193px,#faac00 194px,#f2e600 195px,#aee100 196px,#51ca00 197px,#00ba1f 198px,#00cb6f 199px,#01dcab 200px,#29e1f0 201px,#2fccf0 202px,#37b2f0 205px,#3ba4f0 210px,#35b7f0 212px,#2adef0 214px,#21e4e3 215px,#0adebb 218px,#0cdfbe 228px,#1be3da 233px,#1be3da 236px,#15e1cf 238px,#00daa3 241px,#00daa3 251px"></i><i style="--g:#0bb700,#0bb700 10px,#4dc900 11px,#a9e000 12px,#ddec00 13px,#f2e600 14px,#f7ce00 20px,#fab600 24px,#f57200 45px,#ed5300 57px,#ed5500 68px,#fa8e00 95px,#fa9600 97px,#f5d700 103px,#f0ee00 106px,#e4ed00 110px,#e1ed00 120px,#c9e700 123px,#a1de00 126px,#8cd900 127px,#0eb800 130px,#00b504 131px,#00c03c 137px,#00c452 141px,#00cc74 143px,#00d695 146px,#00d695 149px,#00c966 154px,#00c65a 164px,#00bb25 166px,#00b503 168px,#00b400 169px,#00ba1e 172px,#00ba1f 173px,#00b70e 174px,#0bb700 175px,#60ce00 177px,#95dc00 178px,#b0e200 179px,#dbeb00 180px,#f3e300 181px,#fa8f00 185px,#f05d00 187px,#ee5900 188px,#f57000 192px,#f97e00 193px,#faa200 194px,#f4db00 195px,#bbe400 196px,#64cf00 197px,#00b813 198px,#00c968 199px,#00daa4 200px,#27e6ee 201px,#2fcdf0 202px,#37b2f0 205px,#3ba4f0 210px,#36b6f0 212px,#2bddf0 214px,#21e4e3 215px,#0adebb 218px,#0cdfbe 228px,#1ce3da 233px,#1ce3db 236px,#10e0c7 239px,#00dba6 241px,#00dba6 251px"></i><i style="--g:#01b400,#01b400 10px,#0ab700 11px,#49c700 12px,#a6df00 13px,#daeb00 14px,#f2e600 15px,#f3df00 17px,#f8ca00 22px,#fab600 26px,#f67400 45px,#ec5100 55px,#ea4b00 65px,#fa8100 89px,#fa9e00 97px,#f4db00 103px,#f0f000 106px,#e5ee00 109px,#dfec00 120px,#c5e600 123px,#9dde00 126px,#81d700 127px,#06b600 130px,#00b91b 133px,#00c248 139px,#00c65a 142px,#00d48e 146px,#00d797 148px,#00d592 150px,#00c864 155px,#00c554 165px,#00bd2b 167px,#00b815 169px,#0b2 172px,#06b600 174px,#2ec000 175px,#5ecd00 176px,#96dc00 177px,#d0e900 179px,#f1e900 180px,#faa000 183px,#f98000 185px,#ed5500 187px,#ec5000 188px,#f46c00 192px,#f87a00 193px,#fa9b00 194px,#f6d400 195px,#c5e600 196px,#73d300 197px,#00b60a 198px,#00c761 199px,#00d99f 200px,#23e5e7 201px,#2fcdf0 202px,#37b1f0 205px,#3ba4f0 210px,#36b6f0 212px,#2bddf0 214px,#21e4e3 215px,#0adebb 218px,#0cdfbf 228px,#1ce3db 233px,#1de3dc 236px,#12e1ca 239px,#00dca9 241px,#00dca9 251px"></i><i style="--g:#01b400,#01b400 11px,#0ab700 12px,#45c600 13px,#a2df00 14px,#d7eb00 15px,#f2e700 16px,#f3df00 17px,#f6d200 22px,#fab500 28px,#f87b00 44px,#eb4c00 55px,#e84300 64px,#ef5d00 76px,#fa9b00 95px,#fab100 98px,#f2e600 104px,#eef000 106px,#e5ed00 110px,#e2ed00 119px,#cce800 122px,#98dd00 126px,#4ec900 128px,#23bd00 129px,#01b400 130px,#00c03d 137px,#00c554 142px,#00d48e 147px,#00d696 150px,#00c75e 157px,#00c44e 166px,#00bd2f 168px,#00bb23 170px,#00bb25 171px,#00b401 173px,#25be00 174px,#55cb00 175px,#8fda00 176px,#f0ee00 179px,#fa9d00 182px,#ea4a00 187px,#e94700 188px,#f36800 192px,#f67600 193px,#fa9500 194px,#f7cd00 195px,#cde800 196px,#80d600 197px,#00b402 198px,#00c65a 199px,#00d89a 200px,#20e4e2 201px,#2fcdf0 202px,#37b1f0 205px,#3ba4f0 210px,#36b7f0 212px,#2addf0 214px,#20e4e3 215px,#0adebb 218px,#0cdfbf 228px,#1de3dc 233px,#1de3dd 236px,#14e1cd 239px,#0bdfbd 240px,#0bdfbd 251px"></i><i style="--g:#00b917,#00b917 11px,#01b400 12px,#09b700 13px,#3fc500 14px,#9ede00 15px,#d3ea00 16px,#f2e800 17px,#f4de00 18px,#f6d400 23px,#fab800 29px,#f97e00 44px,#e94800 55px,#e53b00 63px,#ea4a00 72px,#fa9100 91px,#faad00 97px,#f3e200 103px,#edef00 106px,#e4ed00 114px,#e1ed00 119px,#bde500 123px,#91db00 126px,#17ba00 129px,#00b402 130px,#00c03e 137px,#00c556 143px,#00d48e 148px,#00d695 151px,#00c65b 158px,#00c44f 165px,#00c246 167px,#00bd2f 169px,#00bc29 170px,#00b608 172px,#18ba00 173px,#47c700 174px,#80d600 175px,#cce800 177px,#f0ef00 178px,#fa9c00 181px,#f46f00 183px,#e74000 187px,#e94600 189px,#f67200 193px,#fa9200 194px,#f8c900 195px,#d2e900 196px,#86d800 197px,#02b400 198px,#00c658 199px,#00d799 200px,#1fe4e0 201px,#2fccf0 202px,#37b0f0 205px,#3ba4f0 210px,#35b7f0 212px,#2adef0 214px,#20e4e2 215px,#0adebb 218px,#0cdfbf 228px,#1de3dd 233px,#1ee3de 236px,#15e1ce 239px,#0ddfc0 240px,#0ddfc0 251px"></i><i style="--g:#00b91a,#00b91a 12px,#02b400 13px,#09b600 14px,#3ac300 15px,#9add00 16px,#cee800 17px,#f1eb00 18px,#f3df00 19px,#f6d100 25px,#fab300 32px,#f87900 45px,#e84300 55px,#e13500 63px,#e74100 72px,#fa9100 90px,#faaa00 96px,#f2e400 103px,#ecef00 106px,#e0ec00 119px,#b9e400 123px,#9ede00 125px,#86d800 126px,#0ab700 129px,#00b506 130px,#00c13f 137px,#00c658 144px,#00d48e 149px,#00d694 152px,#00cb6e 157px,#00c65a 159px,#00c248 166px,#00bd2f 169px,#00b710 171px,#09b700 172px,#35c200 173px,#a1de00 175px,#ebef00 177px,#fabd00 179px,#fa8200 181px,#f26700 182px,#e94800 184px,#e33700 187px,#e73f00 189px,#f57000 193px,#fa9000 194px,#f8c600 195px,#d5ea00 196px,#8ad900 197px,#04b500 198px,#00c556 199px,#00d798 200px,#1ee4df 201px,#30cbf0 202px,#37b0f0 205px,#3ba4f0 210px,#35b7f0 212px,#2adff0 214px,#17e2d2 216px,#0adebb 218px,#0cdfbf 228px,#1ee3de 233px,#1ee4df 236px,#15e1cf 240px,#15e1cf 251px"></i><i style="--g:#00c34c,#00c34c 12px,#00ba1c 13px,#02b500 14px,#08b600 15px,#33c200 16px,#93db00 17px,#c8e700 18px,#f0ee00 19px,#f3e000 20px,#f7ce00 27px,#fa8200 44px,#e73e00 55px,#dd2f00 64px,#e63c00 73px,#fa8f00 89px,#fab000 96px,#f2e600 103px,#ecef00 106px,#deec00 119px,#a8e000 124px,#9add00 125px,#54ca00 127px,#02b400 129px,#00c140 137px,#00c658 144px,#00c65a 145px,#00d48c 150px,#00d593 153px,#00ce78 157px,#00c556 161px,#00c246 166px,#00bc29 169px,#00b504 171px,#21bd00 172px,#53ca00 173px,#94dc00 174px,#dfec00 176px,#f3df00 177px,#fa8500 180px,#f16400 181px,#eb4c00 182px,#e63c00 183px,#de3000 187px,#e53a00 189px,#f46f00 193px,#fa8f00 194px,#f8c600 195px,#d5ea00 196px,#89d800 197px,#02b500 198px,#00c658 199px,#00d799 200px,#1fe4e1 201px,#30caf0 202px,#38aff0 205px,#3ba4f0 210px,#35b8f0 212px,#2ae0f0 214px,#16e2d1 216px,#0adebb 218px,#0cdfc0 228px,#1ee4df 233px,#1fe4e0 236px,#16e1d0 240px,#16e1d0 251px"></i><i style="--g:#00c44e,#00c44e 13px,#00ba1f 14px,#03b500 15px,#07b600 16px,#2bbf00 17px,#86d800 18px,#c1e600 19px,#eeef00 20px,#f3e100 21px,#f7cb00 29px,#fa8a00 43px,#e43a00 55px,#d82800 64px,#e13500 73px,#ee5600 80px,#fa9400 90px,#fab500 96px,#f2e800 103px,#ecef00 106px,#e2ed00 118px,#bde500 122px,#94db00 125px,#1dbc00 128px,#00b503 129px,#00c03c 136px,#00c557 143px,#00c65c 146px,#00d590 152px,#00d590 155px,#00c555 162px,#00c143 166px,#0b2 169px,#00b710 170px,#0cb700 171px,#3ac300 172px,#a8e000 174px,#cfe900 175px,#f1e900 176px,#fa8a00 179px,#ea4900 181px,#e23700 182px,#da2900 184px,#dd2f00 188px,#ec5100 191px,#f46e00 193px,#fa9000 194px,#f8c800 195px,#d2e900 196px,#82d700 197px,#00b503 198px,#00c75d 199px,#00d89d 200px,#22e4e5 201px,#31c8f0 202px,#38aef0 205px,#3ba4f0 210px,#35b9f0 212px,#29e1f0 214px,#0fe0c4 217px,#0adebb 218px,#0adebb 227px,#1fe4e0 233px,#20e4e1 236px,#19e2d7 239px,#19e2d7 251px"></i><i style="--g:#00ce77,#00ce77 13px,#00c451 14px,#0b2 15px,#03b500 16px,#07b600 17px,#22bd00 18px,#75d300 19px,#b9e400 20px,#e7ee00 21px,#f3e300 22px,#f8c900 31px,#fa8d00 43px,#e53a00 54px,#d52200 62px,#d72500 70px,#e74100 78px,#fa8e00 89px,#f9c100 97px,#f2e800 103px,#ebef00 107px,#e1ed00 118px,#ade100 123px,#9fde00 124px,#89d900 125px,#10b800 128px,#00b506 129px,#00c03e 136px,#00c658 143px,#00c65c 147px,#00d48f 153px,#00d38c 157px,#00c658 163px,#00bf38 167px,#00b91b 169px,#00b507 170px,#1fbc00 171px,#54ca00 172px,#97dc00 173px,#e7ee00 175px,#f5d600 176px,#fa9200 178px,#eb4c00 180px,#e13500 181px,#d52200 183px,#d72500 187px,#e74000 190px,#f56f00 193px,#fa9200 194px,#f7cb00 195px,#cde800 196px,#79d400 197px,#00b609 198px,#00c863 199px,#00d9a0 200px,#24e5e9 201px,#31c6f0 202px,#38adf0 205px,#3ba3f0 209px,#38adf0 211px,#2fccf0 213px,#29e3f0 214px,#0edfc2 217px,#0adebb 219px,#0adebb 227px,#1fe4e1 233px,#20e4e2 236px,#1ae2d7 239px,#1ae2d7 251px"></i><i style="--g:#00d798,#00d798 13px,#00c554 15px,#00bb25 16px,#04b500 17px,#06b600 18px,#17ba00 19px,#b0e200 21px,#dfec00 22px,#f2e500 23px,#f4dc00 25px,#f8ca00 32px,#fa9000 43px,#e63d00 53px,#d11d00 61px,#d01b00 69px,#e33700 78px,#fa8b00 89px,#f3df00 101px,#eff000 106px,#e0ec00 118px,#a9e000 123px,#9bdd00 124px,#7dd500 125px,#03b500 128px,#00c140 136px,#00c65a 143px,#00c65c 148px,#00d48d 154px,#00d48d 158px,#00c659 164px,#00bc27 168px,#04b500 170px,#33c200 171px,#a7e000 173px,#d0e900 174px,#f2e600 175px,#faa000 177px,#f87c00 178px,#e33800 180px,#d31f00 182px,#d01a00 185px,#d92900 188px,#ec4f00 191px,#f57100 193px,#fa9700 194px,#f6d200 195px,#c4e600 196px,#69d000 197px,#00b814 198px,#00ca6a 199px,#00dba7 200px,#28e4f0 201px,#32c4f0 202px,#38acf0 205px,#3ba2f0 209px,#38aef0 211px,#2fcef0 213px,#28e5f0 214px,#0ddfc1 217px,#0adebb 220px,#0adebb 227px,#20e4e2 233px,#21e4e3 236px,#1ae3d8 239px,#1ae3d8 251px"></i><i style="--g:#00d79a,#00d79a 14px,#00c557 16px,#05b500 18px,#06b600 19px,#12b900 20px,#50c900 21px,#a4df00 22px,#d5ea00 23px,#f1e900 24px,#f4de00 25px,#f7cc00 33px,#fa9400 43px,#ed5600 50px,#de3000 55px,#ca1200 63px,#cc1500 71px,#e43900 80px,#fa8f00 90px,#f3df00 101px,#f0f000 106px,#deec00 118px,#a5df00 123px,#96dc00 124px,#21bd00 127px,#00b505 128px,#00c142 136px,#00c65c 143px,#00c75d 149px,#00d48e 156px,#00d288 160px,#00c865 164px,#00bb23 168px,#00b70e 169px,#13b900 170px,#47c700 171px,#8cd900 172px,#e4ed00 174px,#f5d700 175px,#fa8d00 177px,#e74100 179px,#db2b00 180px,#ce1800 182px,#cd1700 185px,#d92800 188px,#ec5000 191px,#f67400 193px,#fa9c00 194px,#f5d900 195px,#bae400 196px,#57cb00 197px,#00ba20 198px,#00cc72 199px,#04ddb0 200px,#2bdbf0 201px,#33c1f0 202px,#3aa8f0 206px,#3ba2f0 209px,#38aff0 211px,#2ed0f0 213px,#27e6ee 214px,#0cdfc0 217px,#0adebb 227px,#21e4e3 233px,#21e4e4 236px,#1ee3de 239px,#1ee3de 251px"></i><i style="--g:#0adfbc,#0adfbc 14px,#00d89c 15px,#00c65c 17px,#01b400 19px,#10b800 21px,#40c500 22px,#9d0 23px,#f0ef00 25px,#f3e000 26px,#f8c800 35px,#fa8900 45px,#e03400 54px,#c70e00 62px,#c40800 69px,#d42100 77px,#e94600 83px,#fa8a00 90px,#f4da00 100px,#f0ef00 106px,#e2ed00 117px,#bbe400 121px,#a0de00 123px,#8bd900 124px,#14b900 127px,#00b609 128px,#00c245 136px,#00c75e 143px,#00c75f 150px,#00d38c 157px,#00d287 161px,#00c761 165px,#00bc27 168px,#00b60c 169px,#20bc00 170px,#9ede00 172px,#f1eb00 174px,#faa100 176px,#f87a00 177px,#ec5100 178px,#e03300 179px,#ce1800 181px,#ca1200 184px,#d31f00 187px,#e84100 190px,#f16200 192px,#f77900 193px,#faa600 194px,#f2e400 195px,#ace100 196px,#40c500 197px,#00bd2e 198px,#00cf7c 199px,#0adebb 200px,#2ed1f0 201px,#33bff0 202px,#3aa7f0 206px,#3ba2f0 209px,#37b1f0 211px,#25e5eb 214px,#0cdfbe 217px,#0adebb 227px,#1fe4e0 232px,#24e5e9 235px,#1ee4df 238px,#1ee4df 251px"></i><i style="--g:#0bdfbe,#0bdfbe 15px,#00d99e 16px,#00c761 18px,#00b505 20px,#0fb800 22px,#30c100 23px,#7fd600 24px,#bae400 25px,#e7ee00 26px,#f3e200 27px,#f5d900 29px,#f8c900 36px,#fa8d00 45px,#e03300 54px,#c30700 62px,#be0102 66px,#c10400 72px,#d82700 80px,#eb4e00 85px,#fa8e00 91px,#f6d200 99px,#f1eb00 105px,#e6ee00 115px,#e2ed00 117px,#aae000 122px,#9bdd00 123px,#7fd600 124px,#06b600 127px,#00ba1e 130px,#00c452 138px,#00c864 145px,#00c863 152px,#00d38b 159px,#00cf7e 163px,#00c658 166px,#00bc2a 168px,#00b60c 169px,#26be00 170px,#6cd100 171px,#a9e000 172px,#d6ea00 173px,#f3df00 174px,#fa9300 176px,#e84100 178px,#da2a00 179px,#cb1400 181px,#c91100 184px,#d31f00 187px,#e84400 190px,#f26500 192px,#fa8100 193px,#fab100 194px,#eff000 195px,#9fde00 196px,#26be00 197px,#00c140 198px,#00d288 199px,#12e1ca 200px,#31c7f0 201px,#38aef0 204px,#3ba2f0 209px,#37b2f0 211px,#2dd5f0 213px,#23e5e8 214px,#0bdfbc 217px,#0adfbc 227px,#20e4e2 232px,#24e5ea 235px,#22e4e5 242px,#22e4e5 251px"></i><i style="--g:#13e1cc,#13e1cc 15px,#0ddfc1 16px,#00daa2 17px,#00c966 19px,#00b60c 21px,#0ab700 22px,#0db800 23px,#1dbc00 24px,#60ce00 25px,#ace100 26px,#dbeb00 27px,#f2e600 28px,#f4db00 29px,#f8c900 37px,#fa9200 45px,#ec5100 51px,#db2b00 55px,#bf0100 62px,#c00e12 68px,#bf0406 73px,#c00300 75px,#df3200 83px,#f26500 88px,#fa9b00 93px,#f6d100 99px,#f1e900 105px,#e9ee00 113px,#e0ed00 117px,#a5df00 122px,#97dc00 123px,#23bd00 126px,#00b506 127px,#00c245 135px,#00c862 142px,#00c863 153px,#00d287 160px,#00d07e 163px,#00cb6d 165px,#00c247 167px,#00b60a 169px,#30c100 170px,#7dd500 171px,#e3ed00 173px,#f5d500 174px,#fa8600 176px,#ef5a00 177px,#e33700 178px,#ce1800 180px,#c80f00 183px,#cf1900 186px,#e33800 189px,#f36a00 192px,#fa8b00 193px,#f9c100 194px,#daeb00 195px,#8dda00 196px,#09b600 197px,#00c452 198px,#00d694 199px,#1ae3d8 200px,#32c4f0 201px,#38acf0 204px,#3ba3f0 209px,#36b4f0 211px,#2cd9f0 213px,#21e4e4 214px,#0adebb 217px,#0bdfbe 227px,#21e4e3 232px,#25e5eb 235px,#22e5e6 238px,#22e5e6 251px"></i><i style="--g:#13e1cb,#13e1cb 16px,#0fe0c4 17px,#00dba5 18px,#00ca6b 20px,#00b814 22px,#0bb700 23px,#0eb800 24px,#19bb00 25px,#4cc800 26px,#9dde00 27px,#cce800 28px,#f1ed00 29px,#f4de00 30px,#f9c300 39px,#fa8500 47px,#e13400 54px,#bf0100 61px,#c21920 67px,#c1151b 72px,#bf0200 77px,#e33800 85px,#fa8c00 92px,#f7ce00 99px,#f2e700 105px,#ebef00 112px,#deec00 117px,#a1de00 122px,#8cd900 123px,#15ba00 126px,#00b70d 127px,#00c44e 136px,#00c967 143px,#00c968 155px,#00d081 161px,#00cd75 164px,#00c75e 166px,#00bc2a 168px,#00b506 169px,#3cc400 170px,#8fda00 171px,#f0f000 173px,#faa400 175px,#f87b00 176px,#eb4f00 177px,#de3100 178px,#cc1600 180px,#c80f00 183px,#d01b00 186px,#e63c00 189px,#f57100 192px,#fa9600 193px,#f6d000 194px,#c5e700 195px,#6ad000 196px,#00b711 197px,#00c967 198px,#00daa3 199px,#24e5e9 200px,#33c0f0 201px,#3aa7f0 205px,#3ba3f0 209px,#36b6f0 211px,#2bdcf0 213px,#1fe4e1 214px,#0adebb 217px,#0cdfbf 227px,#22e4e5 232px,#26e5ec 237px,#26e5ec 251px"></i><i style="--g:#13e1cb,#12e0c9 18px,#00dcab 19px,#00cb6f 21px,#00ba1e 23px,#0db700 24px,#18ba00 26px,#38c300 27px,#86d800 28px,#bce400 29px,#e8ee00 30px,#f3e000 31px,#f5d500 33px,#f9c200 40px,#fa9400 46px,#f26700 50px,#dc2d00 55px,#c10400 60px,#be0304 61px,#c3222c 66px,#c42935 70px,#c1181f 75px,#bf0200 79px,#e33800 86px,#fa9000 93px,#f7cb00 99px,#f2e500 105px,#ecef00 112px,#e4ed00 116px,#abe100 121px,#9cdd00 122px,#80d600 123px,#07b600 126px,#00b711 127px,#00c557 137px,#00ca69 143px,#00c969 156px,#00ce7a 162px,#00ca6a 165px,#00c143 167px,#01b400 169px,#49c800 170px,#9bdd00 171px,#f1e900 173px,#fa9c00 175px,#e94600 177px,#dc2d00 178px,#cc1500 180px,#c91000 183px,#d21e00 186px,#e84200 189px,#f16300 191px,#f87a00 192px,#faa600 193px,#f3e300 194px,#afe100 195px,#45c600 196px,#00bc29 197px,#00cd77 198px,#06ddb4 199px,#2bdaf0 200px,#34bdf0 201px,#3aa6f0 205px,#3ba4f0 209px,#35b9f0 211px,#2ae0f0 213px,#0ee0c3 216px,#0adebb 218px,#0adebb 226px,#25e5ea 233px,#26e6ed 251px"></i><i style="--g:#13e1cb,#12e1ca 19px,#03ddb0 20px,#00c554 23px,#05b500 25px,#12b900 26px,#17ba00 27px,#25be00 28px,#abe100 30px,#d9eb00 31px,#f2e700 32px,#f4da00 33px,#fabb00 42px,#fa8800 48px,#de3000 55px,#c00300 60px,#c00f14 62px,#c53442 67px,#c63a4a 71px,#c42935 75px,#be0304 80px,#c60c00 82px,#e84400 88px,#fa8900 93px,#f8c700 99px,#f3e300 105px,#eeef00 112px,#e4ed00 116px,#97dc00 122px,#23bd00 125px,#00b506 126px,#00b816 127px,#00c65a 137px,#00cb6e 144px,#00cb6d 158px,#00cd74 162px,#00c865 165px,#00c03d 167px,#00ba1f 168px,#0db700 169px,#a1de00 171px,#cee800 172px,#f3e200 173px,#fa9200 175px,#e74100 177px,#db2b00 178px,#cd1600 180px,#ca1300 183px,#d52200 186px,#ea4900 189px,#f36a00 191px,#fa8800 192px,#fabb00 193px,#e2ed00 194px,#98dc00 195px,#1abb00 196px,#00c244 197px,#00d389 198px,#11e0c8 199px,#31c7f0 200px,#37b2f0 202px,#3ba2f0 207px,#3ba5f0 209px,#34bbf0 211px,#28e4f0 213px,#14e1cd 215px,#0adebb 217px,#0adebb 226px,#23e5e8 232px,#27e6ee 237px,#27e6ee 251px"></i><i style="--g:#13e1cb,#12e1ca 20px,#07deb6 21px,#00cf7d 23px,#00c75e 24px,#00b609 26px,#14b900 27px,#24be00 29px,#4fc900 30px,#9bdd00 31px,#f0f000 33px,#f4dc00 34px,#f6d100 36px,#fab800 43px,#fa8500 49px,#e13400 55px,#c00300 60px,#c11218 62px,#c74153 67px,#cd4969 70px,#cc4967 72px,#c73e4f 75px,#bf0100 82px,#e94600 89px,#fa8f00 94px,#f9c300 99px,#f3e000 105px,#edef00 113px,#e3ed00 116px,#a2df00 121px,#8dda00 122px,#15ba00 125px,#00b710 126px,#00c553 135px,#00ca6c 141px,#00cc71 155px,#00cb6e 163px,#00c75f 165px,#00bf37 167px,#00b816 168px,#22bd00 169px,#73d300 170px,#b1e200 171px,#e1ed00 172px,#f5d700 173px,#fa8b00 175px,#e73f00 177px,#d32000 179px,#cc1500 182px,#d32000 185px,#e74100 188px,#f67400 191px,#fa9900 192px,#f6d100 193px,#c7e700 194px,#6ed100 195px,#00b60c 196px,#00c761 197px,#00d89c 198px,#1fe4e0 199px,#33c0f0 200px,#3aa7f0 204px,#3ca2f0 208px,#37b0f0 210px,#26e6ed 213px,#12e1ca 215px,#0bdfbe 216px,#0adebb 226px,#24e5ea 232px,#27e6ed 251px"></i><i style="--g:#13e1cb,#12e0c9 21px,#0bdfbd 22px,#00d99f 23px,#00c968 25px,#00b815 27px,#16ba00 28px,#23bd00 30px,#39c300 31px,#b3e200 33px,#dfec00 34px,#f2e400 35px,#f6d000 37px,#fab600 44px,#fa8200 50px,#de3000 56px,#c10500 60px,#bf0708 61px,#c84356 66px,#d75088 69px,#dc5395 71px,#da5290 73px,#d24d79 75px,#c63949 78px,#be0202 83px,#e63b00 89px,#fa8800 94px,#f8c600 100px,#f1ea00 109px,#e8ee00 115px,#c8e700 118px,#9dde00 121px,#81d600 122px,#06b600 125px,#00b917 126px,#00c862 137px,#00cd74 145px,#00ca6b 158px,#00c554 163px,#00c03a 165px,#00b70d 167px,#1ebc00 168px,#9ede00 170px,#f0ee00 172px,#fa8700 175px,#e74000 177px,#d52300 179px,#cf1900 182px,#d72600 185px,#ea4a00 188px,#f36800 190px,#fa8300 191px,#faaf00 192px,#f1eb00 193px,#a7e000 194px,#3bc400 195px,#00bd2c 196px,#00cd77 197px,#04ddb2 198px,#2adef0 199px,#34bcf0 200px,#3aa6f0 204px,#3ba2f0 208px,#37b3f0 210px,#2dd6f0 212px,#23e5e8 213px,#11e0c7 215px,#0adebb 216px,#0adfbc 226px,#22e5e6 231px,#28e6ef 234px,#28e6ef 251px"></i><i style="--g:#13e1cb,#12e0c9 22px,#0fe0c5 23px,#00dca8 24px,#00cb70 26px,#0b2 28px,#0db700 29px,#1dbc00 30px,#31c100 32px,#5fcd00 33px,#a0de00 34px,#f0ee00 36px,#f4da00 37px,#f9c500 41px,#faa500 47px,#f97e00 51px,#db2b00 57px,#be0304 61px,#ca4861 66px,#db5393 68px,#e559b1 70px,#e65ab4 74px,#dd549a 76px,#c84356 79px,#be0304 84px,#ca1200 86px,#e74000 90px,#fa8f00 95px,#f9c200 100px,#f1e900 109px,#ecef00 114px,#dfec00 116px,#98dc00 121px,#23bd00 124px,#00b506 125px,#00ba1c 126px,#00c866 137px,#00ce77 145px,#00cd77 150px,#00c554 157px,#00bc29 163px,#03b500 166px,#28bf00 167px,#57cb00 168px,#91db00 169px,#d7ea00 171px,#f2e500 172px,#fa8300 175px,#e84300 177px,#d82800 179px,#d21e00 182px,#dc2d00 185px,#f16200 189px,#f67400 190px,#fa9600 191px,#f7cb00 192px,#d1e900 193px,#83d700 194px,#06b600 195px,#00c44f 196px,#00d48e 197px,#14e1cd 198px,#31c5f0 199px,#37b1f0 201px,#3ca1f0 207px,#39aaf0 209px,#31c6f0 211px,#2bdaf0 212px,#20e4e2 213px,#0fe0c5 215px,#0adebb 216px,#0cdfbe 226px,#23e5e8 231px,#26e6ed 235px,#26e6ed 251px"></i><i style="--g:#00daa3,#00daa3 19px,#10e0c7 20px,#11e0c7 24px,#04ddb0 25px,#00c659 28px,#00b505 30px,#1fbc00 31px,#30c100 33px,#45c600 34px,#81d700 35px,#b5e300 36px,#deec00 37px,#f2e500 38px,#f7cb00 40px,#faa900 47px,#f87b00 52px,#e03300 57px,#c00300 61px,#c21c24 63px,#cc4967 66px,#e056a1 68px,#e65bb5 69px,#e863bd 74px,#e65ab3 77px,#d64f84 79px,#c73d4e 81px,#be0304 85px,#d32000 88px,#e94700 91px,#fa8900 95px,#fabe00 100px,#f2e700 109px,#ecef00 114px,#e8ee00 115px,#a3df00 120px,#8fda00 121px,#14b900 124px,#00b711 125px,#00bb21 126px,#00c865 136px,#00ce7a 144px,#00ce79 150px,#00c450 155px,#00ba1d 159px,#00b401 163px,#23bd00 165px,#3ec400 166px,#60ce00 167px,#8cd900 168px,#e7ee00 171px,#f5d900 172px,#f97f00 175px,#e94600 177px,#db2b00 179px,#d62300 182px,#e23600 185px,#f36b00 189px,#fa8500 190px,#fab000 191px,#f1e900 192px,#ace100 193px,#47c700 194px,#00bb21 195px,#00cb6d 196px,#00dba6 197px,#24e5ea 198px,#34bdf0 199px,#3aa7f0 203px,#3ba4f0 208px,#35b9f0 210px,#2ae0f0 212px,#0edfc2 215px,#0adebb 217px,#0adebb 225px,#27e6ef 232px,#27e6ef 251px"></i><i style="--g:#00d797,#00d797 20px,#0bdfbd 21px,#12e1ca 22px,#10e0c7 25px,#08deb9 26px,#00d89c 27px,#00c866 29px,#00b814 31px,#21bd00 32px,#30c100 34px,#3fc500 35px,#66cf00 36px,#9ede00 37px,#eff000 39px,#f7cf00 41px,#fa9700 50px,#f36b00 54px,#df3100 58px,#be0304 62px,#ca4861 66px,#e157a5 68px,#e75db7 69px,#ea69c3 74px,#e75fb9 78px,#e459ae 79px,#c74153 82px,#be0101 86px,#e73e00 91px,#fa9000 96px,#fac000 101px,#f2e600 109px,#edef00 114px,#d9eb00 116px,#9ede00 120px,#83d700 121px,#05b500 124px,#00b91b 125px,#00c864 135px,#00cf7d 144px,#00d081 149px,#00c968 152px,#00b60a 158px,#10b800 159px,#3dc400 163px,#61ce00 165px,#97dc00 167px,#a8e000 168px,#e6ee00 170px,#f3e000 171px,#fa9400 174px,#e94500 177px,#dd2e00 179px,#da2a00 182px,#e73f00 185px,#f26600 188px,#f87900 189px,#fa9d00 190px,#f6d100 191px,#cde800 192px,#81d700 193px,#0ab700 194px,#00c349 195px,#00d288 196px,#0fe0c4 197px,#2ed0f0 198px,#35b9f0 199px,#3aa6f0 203px,#3ca1f0 207px,#38aff0 209px,#2fcef0 211px,#28e5f0 212px,#1be3d9 213px,#0cdfbf 215px,#0adebb 225px,#26e5ec 231px,#26e5ec 251px"></i><i style="--g:#00d38a,#00d38a 21px,#04ddb2 22px,#12e1ca 23px,#0ee0c3 27px,#00dba7 28px,#00cb6f 30px,#00bb23 32px,#09b600 33px,#2bbf00 34px,#3dc400 36px,#50c900 37px,#afe100 39px,#d4ea00 40px,#f2e800 41px,#f8c900 43px,#fa8c00 52px,#ef5b00 56px,#d62300 60px,#c30800 62px,#bf080b 63px,#c74154 66px,#de559d 68px,#e75cb6 69px,#ea6bc5 73px,#e966c0 78px,#e65bb5 80px,#d14c76 82px,#c74154 83px,#c00d11 86px,#c00300 87px,#ea4900 92px,#fa8c00 96px,#fabf00 101px,#f2e700 110px,#edef00 114px,#c8e700 117px,#9d0 120px,#4dc900 122px,#22bd00 123px,#00b507 124px,#00bb23 125px,#00c967 135px,#00d080 143px,#00d185 149px,#00d07f 150px,#00c451 153px,#00b813 156px,#06b600 157px,#4ec900 159px,#9add00 165px,#bde500 167px,#f0f000 169px,#fa9d00 173px,#f46c00 175px,#e84300 177px,#df3200 179px,#e03300 182px,#ea4c00 185px,#f67400 188px,#fa9100 189px,#fabe00 190px,#e9ef00 191px,#a2df00 192px,#3ec400 193px,#00bb24 194px,#00cb6e 195px,#00daa4 196px,#22e5e6 197px,#34bdf0 198px,#3aa7f0 202px,#3ba2f0 207px,#37b2f0 209px,#25e5eb 212px,#19e2d5 213px,#0adfbc 215px,#0adebb 225px,#24e5e8 230px,#24e5e8 251px"></i><i style="--g:#00c34c,#00c34c 21px,#00dba7 23px,#10e0c7 24px,#0fe0c4 28px,#03ddaf 29px,#00c65c 32px,#00b60b 34px,#2dc000 35px,#4dc900 38px,#64cf00 39px,#9d0 40px,#e1ed00 42px,#f3e200 43px,#f9c400 45px,#fa8200 54px,#de2f00 60px,#c20600 63px,#c00c10 64px,#c9475e 67px,#e358ac 69px,#e965bf 71px,#ea6bc5 77px,#e65bb5 81px,#c73e50 84px,#bf0709 87px,#c40900 88px,#ed5500 93px,#fa8900 96px,#fabe00 101px,#f3e100 108px,#edef00 114px,#a5df00 119px,#92db00 120px,#13b900 123px,#00b812 124px,#00bc28 125px,#00ca6b 135px,#00d183 143px,#00d389 149px,#00d081 150px,#00c03e 153px,#00b60a 155px,#1bbb00 156px,#9bdd00 159px,#bce400 163px,#e9ef00 166px,#f4db00 168px,#fa8800 173px,#eb4f00 176px,#e53b00 178px,#e43900 181px,#eb4d00 184px,#f57100 187px,#fa8b00 188px,#fab300 189px,#f2e500 190px,#bae400 191px,#69d000 192px,#00b506 193px,#00c452 194px,#00d38c 195px,#10e0c6 196px,#2fcef0 197px,#35b8f0 198px,#3ba4f0 203px,#3ba3f0 207px,#36b5f0 209px,#2cd9f0 211px,#21e4e4 212px,#0fe0c5 214px,#0adebb 215px,#0bdfbd 225px,#25e5eb 230px,#25e5eb 251px"></i><i style="--g:#00c03b,#00c03b 22px,#00cb70 23px,#00d798 24px,#0adebb 25px,#11e0c8 26px,#0ee0c3 29px,#09deba 30px,#00d99f 31px,#00c969 33px,#00ba1d 35px,#11b800 36px,#38c300 37px,#4dc900 39px,#5ecd00 40px,#7cd500 41px,#e9ee00 44px,#f7cc00 46px,#fab000 49px,#f67500 56px,#de3000 61px,#c20600 64px,#c00d11 65px,#cc4865 68px,#e55ab2 70px,#ea6ac4 73px,#ea69c3 79px,#e760ba 81px,#e458ad 82px,#cb4862 84px,#c01014 87px,#c00300 88px,#ec5100 93px,#fa9400 97px,#f9c500 102px,#f2e500 108px,#eeef00 114px,#a0de00 119px,#86d800 120px,#04b500 123px,#00ba1d 124px,#00bd2d 125px,#00ca6a 134px,#00d185 142px,#00d48e 149px,#00d07f 150px,#00bf36 152px,#00b70e 153px,#25be00 154px,#95dc00 156px,#dfec00 159px,#f0ef00 160px,#faa700 169px,#f67600 173px,#ec5000 176px,#e84200 179px,#ea4a00 182px,#f16200 185px,#f57100 186px,#fa8a00 187px,#faae00 188px,#f4db00 189px,#c8e700 190px,#87d800 191px,#1dbc00 192px,#00bf35 193px,#00ce78 194px,#01dcac 195px,#26e6ed 196px,#34bcf0 197px,#3aa7f0 201px,#3ba4f0 207px,#35b9f0 209px,#2adff0 211px,#14e1cd 213px,#0adebb 215px,#0adebb 224px,#18e2d4 227px,#22e5e6 229px,#22e5e6 251px"></i><i style="--g:#00bc2a,#00bc2a 23px,#00c761 24px,#03ddaf 26px,#11e0c8 27px,#0ddfc1 31px,#00dcaa 32px,#00c557 35px,#00b608 37px,#2ec000 38px,#44c600 39px,#5dcd00 41px,#70d200 42px,#cce800 45px,#eff000 46px,#f8c800 48px,#faa900 51px,#f67500 57px,#df3200 62px,#c30700 65px,#c00b0f 66px,#cb4862 69px,#e459af 71px,#e965bf 73px,#ea69c3 79px,#e65bb5 82px,#dd549a 83px,#c73f51 85px,#be0304 88px,#e53b00 92px,#fa8600 96px,#fabf00 101px,#f2e600 107px,#edef00 112px,#e5ed00 114px,#ade100 118px,#9bdd00 119px,#79d400 120px,#22bd00 122px,#00b608 123px,#00bc28 124px,#00c968 133px,#00d288 142px,#00d592 149px,#00cf7b 150px,#00b505 152px,#9add00 154px,#deec00 156px,#f2e700 157px,#fabc00 160px,#faa400 164px,#fa8100 171px,#ed5300 177px,#eb4f00 180px,#f26500 184px,#f67400 185px,#fa8e00 186px,#faaf00 187px,#f4da00 188px,#cfe900 189px,#9d0 190px,#36c200 191px,#00bb23 192px,#00c968 193px,#00d799 194px,#18e2d4 195px,#32c2f0 196px,#39acf0 199px,#3ca1f0 206px,#38aff0 208px,#2fcff0 210px,#28e6f0 211px,#1ae2d7 212px,#0bdfbe 214px,#0adebb 224px,#1fe4e1 228px,#1fe4e1 251px"></i><i style="--g:#2bc000,#2bc000 23px,#00b919 24px,#00c44f 25px,#00daa2 27px,#0cdfc0 28px,#10e0c6 30px,#0ee0c3 32px,#07deb7 33px,#00d07f 35px,#00c866 36px,#00ba1e 38px,#0db800 39px,#45c600 40px,#6dd100 43px,#b2e200 46px,#f0ee00 48px,#fab600 51px,#f77600 58px,#e23500 63px,#c60c00 66px,#bf0608 67px,#c84457 70px,#e056a1 72px,#e75cb6 73px,#ea68c2 77px,#e861bb 81px,#e65bb5 82px,#de559d 83px,#c74255 85px,#bf0608 88px,#c60b00 89px,#eb4e00 93px,#fa9400 97px,#f8ca00 102px,#f0ef00 108px,#d7ea00 114px,#a4df00 118px,#93db00 119px,#40c500 121px,#12b900 122px,#00b813 123px,#00bd2f 124px,#00ca6c 133px,#00d38b 142px,#00d696 149px,#00ce7a 150px,#00bd2e 151px,#43c600 152px,#a5df00 153px,#d2e900 154px,#f1eb00 155px,#fab700 158px,#fa9700 161px,#f97e00 171px,#ee5a00 178px,#f16200 182px,#f97d00 184px,#fa9500 185px,#f3df00 187px,#d0e900 188px,#9ddd00 189px,#44c600 190px,#00b814 191px,#00c659 192px,#00d48d 193px,#0edfc2 194px,#2cd7f0 195px,#34baf0 196px,#3ba5f0 201px,#3ba2f0 206px,#37b3f0 208px,#2dd5f0 210px,#24e5e9 211px,#17e2d2 212px,#0adebb 214px,#0adebb 224px,#21e4e4 228px,#21e4e4 251px"></i><i style="--g:#41c500,#41c500 24px,#00b507 25px,#00ca6c 27px,#06ddb4 29px,#14e1cc 30px,#10e0c6 33px,#0cdfbf 34px,#00dba8 35px,#00c557 38px,#00b70e 40px,#23bd00 41px,#52ca00 42px,#7ed600 45px,#94dc00 46px,#a2df00 47px,#f1ed00 50px,#fab300 53px,#f87a00 59px,#dd2e00 65px,#bf0200 68px,#cb4864 72px,#e156a4 74px,#e65bb5 75px,#e862bc 79px,#e75db7 81px,#e358ab 82px,#d04b72 84px,#c74052 85px,#bf0608 88px,#c60c00 89px,#ec5000 93px,#fa8900 96px,#f9c400 101px,#eff000 107px,#c9e700 114px,#98dc00 118px,#53ca00 120px,#00b400 122px,#00ba1f 123px,#00be34 124px,#00ca6b 132px,#00d48d 141px,#00d696 146px,#00d591 147px,#00cc72 149px,#00c03b 150px,#31c100 151px,#9ede00 152px,#eff000 154px,#fabc00 157px,#fa9300 161px,#fa8000 171px,#f16400 178px,#f46c00 181px,#f77600 182px,#faa300 184px,#f1e900 186px,#c7e700 187px,#9cdd00 188px,#49c800 189px,#00b70f 190px,#00c450 191px,#06deb5 193px,#28e5f0 194px,#33bef0 195px,#3aa8f0 199px,#3ba4f0 206px,#36b7f0 208px,#2bdcf0 210px,#20e4e1 211px,#0edfc2 213px,#0adebb 215px,#0cdfbe 224px,#1de3de 227px,#1de3de 251px"></i><i style="--g:#5acc00,#5acc00 25px,#0fb800 26px,#00bc28 27px,#00d38a 29px,#05ddb4 30px,#16e2d1 31px,#16e2d1 33px,#07deb7 36px,#00d182 38px,#00c349 40px,#00b402 42px,#35c200 43px,#5fcd00 44px,#9dde00 48px,#a9e000 49px,#f1ec00 52px,#fab200 55px,#fa8800 59px,#e13400 66px,#bf0405 70px,#ca4761 74px,#db5393 76px,#e358aa 78px,#e257a9 80px,#da528f 82px,#c9465c 84px,#be0101 88px,#ed5500 93px,#fa8c00 96px,#f8c900 101px,#eef000 106px,#cee800 111px,#bbe400 114px,#9d0 117px,#5dcd00 119px,#14b900 121px,#00b70e 122px,#00bd2b 123px,#00c141 125px,#00cb6e 132px,#00d490 141px,#00d48f 142px,#00c967 145px,#00b812 149px,#35c200 150px,#9ddd00 151px,#eaef00 153px,#f6d100 155px,#fa9c00 160px,#fa8f00 162px,#f97f00 172px,#f46d00 178px,#f87a00 180px,#fa9d00 182px,#f5d600 184px,#e5ee00 185px,#b9e400 186px,#96dc00 187px,#42c500 188px,#00b70f 189px,#00c34c 190px,#02dcad 192px,#22e4e5 193px,#32c3f0 194px,#38adf0 197px,#3ca1f0 204px,#3aa5f0 206px,#34bbf0 208px,#29e2f0 210px,#12e1ca 212px,#0cdfbe 213px,#0adebb 223px,#1ae2d7 226px,#1ae2d7 251px"></i><i style="--g:#70d200,#74d300 26px,#2abf00 27px,#00bc28 28px,#00c865 29px,#02dcad 31px,#14e1ce 32px,#1de3dd 33px,#0fe0c3 36px,#01dcab 38px,#00c75f 41px,#00ba1c 43px,#0bb700 44px,#42c600 45px,#6cd100 46px,#9bdd00 49px,#b1e200 51px,#f1ec00 54px,#faa200 58px,#f46f00 63px,#df3100 68px,#c50a00 71px,#bf0406 72px,#c53341 75px,#c9465c 77px,#d04b72 79px,#ce4a6d 81px,#c63646 84px,#bf090b 87px,#c30800 88px,#ea4900 92px,#fa8300 95px,#f7cf00 101px,#eef000 105px,#c6e700 110px,#ace100 114px,#97dc00 116px,#43c600 119px,#00b401 121px,#00bf36 123px,#00cb6d 131px,#00d183 136px,#00ca6c 139px,#00c03d 142px,#00b402 145px,#60cd00 148px,#d0e900 151px,#f0f000 152px,#f8c600 155px,#fa8f00 162px,#f97f00 173px,#f87a00 176px,#fa8500 178px,#faa100 180px,#f0ee00 183px,#aae100 185px,#7cd500 186px,#31c100 187px,#00b816 188px,#00c451 189px,#00dcaa 191px,#20e4e2 192px,#31c7f0 193px,#38aef0 196px,#3ca1f0 203px,#3aa8f0 206px,#33c0f0 208px,#26e5ec 210px,#17e2d3 211px,#0adebb 213px,#0adebb 223px,#1be3da 226px,#1be3da 251px"></i><i style="--g:#6ad000,#6ad000 26px,#4fc900 27px,#03b500 28px,#00c140 29px,#00cb70 30px,#01dcab 32px,#13e1cc 33px,#1ee3de 34px,#1ee4df 35px,#08deb8 38px,#05ddb4 39px,#00d48d 41px,#00bf35 44px,#00b814 45px,#16ba00 46px,#7ad500 48px,#9d0 50px,#c6e700 54px,#f1ed00 56px,#fa9500 61px,#f06100 66px,#df3100 70px,#bf0200 74px,#c42a36 78px,#c5313f 81px,#c21f28 84px,#bf0709 86px,#c30700 87px,#ed5500 92px,#fa8b00 95px,#f7cc00 100px,#eef000 104px,#bee500 109px,#9dde00 114px,#91db00 115px,#2abf00 119px,#0bb700 120px,#00b70f 121px,#00c03c 123px,#00c967 129px,#00c65b 132px,#00bc2a 137px,#00b60b 139px,#08b600 140px,#98dc00 145px,#d3ea00 149px,#ebef00 150px,#f7cf00 153px,#fa8f00 162px,#fa8900 174px,#fa9d00 177px,#f6d200 180px,#f1ea00 181px,#b4e300 183px,#9d0 184px,#5acc00 185px,#13b900 186px,#00bb24 187px,#00c659 188px,#02ddae 190px,#1fe4e1 191px,#30ccf0 192px,#38aff0 195px,#3ca1f0 202px,#3ba3f0 205px,#36b6f0 207px,#2bdaf0 209px,#21e4e3 210px,#15e1ce 211px,#0adebb 213px,#0bdfbd 223px,#17e2d3 225px,#17e2d3 251px"></i><i style="--g:#1fbc00,#1fbc00 27px,#00b608 28px,#0b2 29px,#00c557 30px,#00ce7a 31px,#02ddae 33px,#1ce3dc 35px,#22e4e5 36px,#13e1cb 38px,#09deb9 39px,#03ddaf 41px,#00d288 43px,#00b70f 47px,#1cbc00 48px,#84d700 50px,#97dc00 51px,#cce800 56px,#f0ee00 58px,#fa9900 63px,#f16100 68px,#da2a00 73px,#c10500 77px,#be0203 78px,#c00e12 81px,#be0303 84px,#c70e00 86px,#e63d00 90px,#fa9200 95px,#f5d500 100px,#edef00 103px,#b7e300 108px,#96dc00 113px,#44c600 117px,#11b900 119px,#00b507 120px,#00bc27 122px,#00bd2b 124px,#00b70e 130px,#02b500 132px,#43c600 136px,#89d900 139px,#b4e300 142px,#ebef00 146px,#f6d300 152px,#fa9400 162px,#fa9d00 171px,#fab300 175px,#f2e800 179px,#e3ed00 180px,#a9e000 182px,#7ed600 183px,#39c300 184px,#00b60a 185px,#00c967 187px,#06deb5 189px,#23e5e7 190px,#2ed0f0 191px,#37b1f0 194px,#3ba2f0 200px,#3aa5f0 205px,#34bbf0 207px,#29e2f0 209px,#12e1ca 211px,#0bdfbe 212px,#0adebb 222px,#13e1cb 224px,#13e1cb 251px"></i><i style="--g:#00bc28,#00bc28 28px,#00c555 30px,#00d38c 32px,#04ddb1 34px,#19e2d6 36px,#1fe4e1 37px,#20e4e2 38px,#0bdfbd 40px,#00dcaa 43px,#00d185 45px,#00bd2b 48px,#00b70d 49px,#1fbc00 50px,#86d800 52px,#9ddd00 53px,#d1e900 58px,#f0ef00 60px,#fa9f00 65px,#f16400 70px,#db2c00 76px,#ca1300 81px,#d11c00 85px,#e73e00 89px,#fa9400 95px,#f2e700 102px,#eeef00 103px,#bde500 107px,#8eda00 114px,#32c100 122px,#47c700 126px,#81d600 131px,#a2df00 134px,#dfec00 140px,#f0ee00 142px,#f3df00 146px,#f4da00 151px,#faaf00 162px,#f7cd00 172px,#f1ed00 177px,#d5ea00 179px,#a4df00 181px,#6fd200 182px,#26be00 183px,#00b917 184px,#00cd74 186px,#00d798 187px,#0edfc2 188px,#28e6f0 189px,#31c7f0 191px,#38adf0 194px,#3ca1f0 202px,#3aa8f0 205px,#33c1f0 207px,#26e5ec 209px,#17e2d2 210px,#0adebb 212px,#0adebb 222px,#0fe0c5 223px,#0fe0c5 251px"></i><i style="--g:#00c143,#00c143 28px,#00cd74 30px,#02dcad 34px,#1be3da 38px,#1ee3de 39px,#1ae3d8 40px,#0edfc2 41px,#06deb5 42px,#00dba6 45px,#00d184 47px,#00b60c 51px,#1fbc00 52px,#82d700 54px,#a1df00 55px,#e1ed00 61px,#eef000 62px,#fab900 66px,#f98000 70px,#e53a00 78px,#dc2e00 83px,#e63c00 87px,#fa8a00 94px,#f4dc00 102px,#f1ed00 104px,#c2e600 109px,#a3df00 118px,#a0de00 123px,#c3e600 130px,#f0ef00 136px,#f3df00 141px,#f3e100 154px,#f2e400 158px,#f3df00 162px,#ecef00 170px,#d3ea00 177px,#bae400 179px,#a1df00 180px,#6ad000 181px,#20bc00 182px,#00ba1f 183px,#00c554 184px,#00dba5 186px,#16e2d1 187px,#28e5f0 188px,#36b6f0 192px,#3aa5f0 196px,#3ba4f0 204px,#35b7f0 206px,#2bdbf0 208px,#20e4e2 209px,#14e1cd 210px,#0adebb 212px,#0bdfbd 222px,#11e0c8 223px,#11e0c8 251px"></i><i style="--g:#00cd76,#00cd76 29px,#00d89c 31px,#07deb6 33px,#17e2d2 38px,#18e2d5 41px,#07deb6 43px,#00daa3 47px,#00d185 49px,#00c34c 51px,#00b70d 53px,#1abb00 54px,#7cd500 56px,#a0de00 57px,#eef000 64px,#f6d200 67px,#fa8200 73px,#ee5900 78px,#ea4900 83px,#ec5200 87px,#fa9400 95px,#f2e400 105px,#f0f000 107px,#d3ea00 112px,#cfe900 120px,#e0ec00 125px,#f1ed00 129px,#f3df00 135px,#f3e300 148px,#f0ee00 150px,#bae400 154px,#b4e300 156px,#cde800 160px,#c3e600 170px,#c1e600 175px,#b5e300 177px,#a9e000 178px,#94dc00 179px,#5dcd00 180px,#1bbb00 181px,#00ba1d 182px,#00c555 183px,#02ddae 185px,#1fe4e0 186px,#28e6ef 187px,#35b9f0 191px,#3aa8f0 194px,#3ca2f0 203px,#38aff0 205px,#2fcef0 207px,#29e4f0 208px,#11e0c8 210px,#0bdfbc 211px,#0adebb 221px,#0ddfc1 224px,#0ddfc1 251px"></i><i style="--g:#00d89d,#00d89d 30px,#05ddb3 31px,#13e1cb 32px,#24e5e8 34px,#24e5e9 35px,#1fe4e1 36px,#1ae3d8 39px,#09deb9 44px,#00d99f 49px,#00d798 50px,#00cb6f 52px,#00b711 55px,#14b900 56px,#9bdd00 59px,#afe200 60px,#ecef00 66px,#f4da00 69px,#f97f00 77px,#f36800 81px,#f26700 86px,#fa8d00 94px,#f5d600 106px,#f1ea00 113px,#f3df00 131px,#f3e200 143px,#f2e800 145px,#e8ee00 146px,#98dc00 150px,#7ed600 151px,#6dd100 152px,#67cf00 153px,#6bd100 154px,#98dc00 157px,#afe200 160px,#abe100 170px,#a6e000 175px,#97dc00 177px,#73d300 178px,#3fc500 179px,#02b500 180px,#00c761 182px,#03ddb0 184px,#27e6ed 186px,#37b3f0 191px,#3ba4f0 195px,#3ba3f0 203px,#36b4f0 205px,#2dd6f0 207px,#24e5e9 208px,#15e1cf 209px,#0adebb 211px,#0adebb 251px"></i><i style="--g:#14e1cc,#14e1cc 31px,#22e4e5 32px,#2cd8f0 33px,#34bdf0 35px,#35b8f0 36px,#28e6f0 39px,#0cdfbf 42px,#05ddb3 45px,#00dba6 49px,#00d696 52px,#00cd74 54px,#00b919 57px,#08b600 58px,#90da00 61px,#b9e400 63px,#f0ef00 69px,#fabe00 75px,#fa8e00 80px,#f87d00 84px,#fa8a00 91px,#f7cd00 108px,#f4de00 125px,#f3e300 138px,#f1e900 140px,#eaef00 141px,#9fde00 145px,#39c300 148px,#1fbc00 149px,#18ba00 150px,#2abf00 152px,#97dc00 159px,#9bdd00 161px,#95dc00 163px,#81d600 165px,#7dd500 167px,#8eda00 170px,#86d800 174px,#71d200 176px,#51ca00 177px,#23bd00 178px,#00b70f 179px,#00ca6b 181px,#00dba5 183px,#22e5e6 185px,#2bddf0 186px,#38aff0 191px,#3ca2f0 197px,#3ba5f0 203px,#35baf0 205px,#2adff0 207px,#12e1ca 209px,#0cdfbe 210px,#0adebb 251px"></i><i style="--g:#2cd8f0,#2cd8f0 32px,#3aa7f0 34px,#3a88f0 36px,#3a84f0 37px,#3c99f0 38px,#2bddf0 40px,#1de3dd 41px,#07deb7 43px,#00dba7 45px,#00dba7 47px,#02dcad 49px,#00d38a 55px,#00c864 57px,#00b505 60px,#4ec900 62px,#7bd500 63px,#9dde00 64px,#c0e500 66px,#f0ee00 72px,#faba00 80px,#fa9800 85px,#fa9200 89px,#f6d100 110px,#f2e600 133px,#ecef00 135px,#b0e200 139px,#9ede00 140px,#41c500 143px,#16ba00 145px,#03b500 147px,#00b400 149px,#1ebc00 152px,#6fd200 159px,#65cf00 160px,#41c500 162px,#2abf00 164px,#2bc000 166px,#55cb00 169px,#50c900 173px,#42c500 175px,#2cc000 176px,#0ab700 177px,#00ba1f 178px,#00c967 180px,#00d89a 182px,#07deb7 183px,#19e2d6 184px,#2adef0 185px,#37b0f0 190px,#3ba4f0 194px,#3ba3f0 202px,#37b2f0 204px,#27e6ee 207px,#18e2d3 208px,#0adebb 210px,#0adebb 251px"></i><i style="--g:#3aa7f0,#3aa7f0 33px,#3973f0 35px,#3862ee 36px,#395ee9 38px,#3a7bf0 39px,#3aa8f0 40px,#2dd5f0 41px,#1fe4e0 42px,#05ddb3 44px,#00d9a0 46px,#00d99f 49px,#00dcaa 51px,#00d38b 57px,#00ca6c 59px,#00b814 62px,#0eb800 63px,#89d900 66px,#a2df00 67px,#c4e600 69px,#eef000 75px,#faad00 91px,#faad00 95px,#f5d500 112px,#f2e700 126px,#e9ee00 128px,#ace100 133px,#88d800 135px,#39c300 138px,#16ba00 140px,#01b400 143px,#04b500 150px,#2abf00 155px,#00b400 158px,#00bd2c 162px,#00bd2c 164px,#00b814 166px,#00b402 167px,#1fbc00 169px,#15ba00 173px,#06b600 175px,#00b60a 176px,#00ba1e 177px,#00cd76 180px,#00dca8 182px,#24e5e8 184px,#30cbf0 186px,#3aa7f0 191px,#3ca1f0 201px,#39acf0 203px,#2bdbf0 206px,#21e4e3 207px,#13e1cb 208px,#0adebb 210px,#0adebb 251px"></i><i style="--g:#3975f0,#3975f0 34px,#3961ed 35px,#3c50da 37px,#3a5ce7 39px,#396df0 40px,#3b97f0 41px,#26e5ec 43px,#13e1cc 44px,#00dba6 46px,#00d694 49px,#00d696 51px,#00dba8 53px,#00d183 60px,#00c863 62px,#00b60a 65px,#19bb00 66px,#8dda00 69px,#b2e200 71px,#cae800 73px,#f0ef00 81px,#f7cd00 98px,#f6d200 106px,#f1ea00 117px,#eaef00 119px,#bde500 124px,#9add00 127px,#32c100 132px,#0fb800 135px,#01b400 138px,#04b500 151px,#00bf36 155px,#00cb6e 158px,#00cf7d 159px,#00d07f 161px,#00cb70 163px,#00c34d 165px,#00bb23 167px,#00b70f 169px,#00b506 174px,#00b609 175px,#00b918 176px,#00d184 180px,#00d89d 181px,#08deb9 182px,#1ae3d8 183px,#2bdcf0 184px,#32c4f0 186px,#3ba5f0 191px,#3ba2f0 201px,#37b1f0 203px,#2ed0f0 205px,#28e5f0 206px,#10e0c6 208px,#0adebb 209px,#0adebb 251px"></i><i style="--g:#3862ee,#3862ee 34px,#3c52dc 36px,#3c54de 39px,#3961ec 41px,#39abf0 43px,#2ed1f0 44px,#1fe4e0 45px,#0cdfbf 46px,#01dcab 47px,#00d48f 50px,#00d38c 53px,#00d9a0 55px,#00d99f 57px,#00cf7d 63px,#00c65b 65px,#00b608 68px,#1abb00 69px,#85d700 72px,#9dde00 73px,#c5e600 76px,#dfec00 84px,#dbeb00 106px,#c4e600 112px,#91db00 119px,#2dc000 125px,#0bb700 129px,#01b400 134px,#00b504 147px,#00c246 151px,#00d07f 154px,#02dcad 157px,#09deba 158px,#0bdfbe 159px,#00d89d 161px,#00c554 165px,#00bc26 167px,#00b917 168px,#00b60c 174px,#00b815 175px,#00bc26 176px,#00c863 178px,#01dcab 181px,#24e5e9 183px,#2fcdf0 184px,#3aa6f0 190px,#3ca1f0 200px,#36b7f0 203px,#2cd9f0 205px,#22e5e6 206px,#13e1cc 207px,#0adebb 209px,#0adebb 251px"></i><i style="--g:#3c53dd,#3c53dd 35px,#3c52dc 40px,#3a5de8 42px,#396cf0 43px,#36b6f0 45px,#2cd9f0 46px,#1ce3da 47px,#08deb8 48px,#00d799 50px,#00d285 53px,#00d183 55px,#00d99f 58px,#00d07e 65px,#00ca6a 67px,#00c658 68px,#00b60c 71px,#10b800 72px,#8eda00 76px,#b6e300 79px,#c4e600 81px,#cae700 88px,#96dc00 106px,#1bbb00 120px,#08b600 125px,#00b401 142px,#00c34d 147px,#00cc73 149px,#02dcad 153px,#12e0c9 156px,#13e1cb 158px,#0cdfbe 159px,#00dcaa 160px,#00c966 164px,#00bf37 166px,#00b918 168px,#00b812 174px,#00bf36 176px,#00cc71 178px,#00d99f 180px,#09deb9 181px,#1ae2d7 182px,#2addf0 183px,#31c7f0 184px,#3ba4f0 190px,#3ba2f0 200px,#34bdf0 203px,#29e3f0 205px,#10e0c6 207px,#0adebb 208px,#0adebb 251px"></i><i style="--g:#3d4fd9,#3c50da 41px,#395eea 44px,#3977f0 45px,#3c99f0 46px,#2bddf0 48px,#1be3d9 49px,#08deb9 50px,#00daa2 51px,#00d185 54px,#00cf7d 57px,#00d081 58px,#00d797 60px,#00d89d 61px,#00cd76 69px,#00c65c 71px,#00b504 75px,#82d700 80px,#98dc00 81px,#b7e300 85px,#afe200 93px,#96dc00 100px,#3ac300 111px,#13b900 119px,#02b500 131px,#01b400 136px,#00ba1f 139px,#00c349 142px,#00ce7a 145px,#03ddb0 149px,#12e0c9 152px,#13e1cb 158px,#00dba5 160px,#00c862 164px,#00be33 166px,#00b91b 168px,#00b91a 174px,#00bd2c 175px,#00c966 177px,#00dcaa 180px,#22e5e6 182px,#2fcef0 183px,#35b9f0 185px,#3ba3f0 190px,#3ba4f0 200px,#31c5f0 203px,#2cd8f0 204px,#23e5e7 205px,#14e1ce 206px,#0adebb 208px,#0adebb 251px"></i><i style="--g:#3d4fd9,#3c51db 43px,#3960ec 46px,#3c9bf0 48px,#2bdbf0 50px,#1ce3db 51px,#00d9a1 53px,#00d182 56px,#00cd77 59px,#00cd77 60px,#00d695 63px,#00d79a 64px,#00cb70 73px,#00c556 75px,#00b60a 79px,#0ab700 80px,#62ce00 84px,#94dc00 87px,#a6e000 90px,#92db00 98px,#32c100 111px,#0fb800 120px,#00b504 130px,#00c143 136px,#00cb6f 139px,#00dca9 144px,#10e0c5 147px,#14e1cd 152px,#11e0c8 158px,#00d9a1 160px,#00c760 164px,#00be32 166px,#0b2 167px,#00b91a 173px,#00bb23 174px,#00bf36 175px,#00cb70 177px,#00d89d 179px,#07deb6 180px,#29e1f0 182px,#32c1f0 183px,#3ba3f0 189px,#3ba2f0 199px,#34bdf0 202px,#29e3f0 204px,#10e0c6 206px,#0adebb 207px,#0adebb 251px"></i><i style="--g:#3d4fd9,#3c52dc 45px,#3961ed 48px,#3c9af0 50px,#2cd7f0 52px,#20e4e1 53px,#00dba7 55px,#00d38a 57px,#00cc74 61px,#00cd75 63px,#00d592 66px,#00d695 68px,#00cb6f 77px,#00c34b 80px,#00b402 85px,#48c700 90px,#6ed100 94px,#7ed600 97px,#23bd00 113px,#07b600 121px,#00b60b 123px,#00c44f 130px,#00d9a1 138px,#11e0c8 143px,#14e1cc 155px,#13e1cc 157px,#0fe0c4 158px,#00d9a1 160px,#00c760 164px,#00be31 166px,#00ba20 167px,#00ba1d 173px,#00c142 175px,#00c862 176px,#00dba6 179px,#20e4e2 181px,#2dd3f0 182px,#34bcf0 183px,#3ba3f0 188px,#3ca1f0 198px,#35b7f0 201px,#2cd8f0 203px,#23e5e7 204px,#15e1ce 205px,#0ddfc0 206px,#0adebb 212px,#0adebb 251px"></i><i style="--g:#3d4fd9,#3c53dd 47px,#3961ed 50px,#3b96f0 52px,#2ed0f0 54px,#25e5ea 55px,#05ddb3 57px,#00d89b 58px,#00cf7c 61px,#00cb6f 65px,#00d694 70px,#00d081 77px,#00cb6e 82px,#00c553 85px,#00b918 91px,#01b400 95px,#1abb00 100px,#18ba00 105px,#00b402 111px,#00be33 119px,#00cf7c 127px,#04ddb2 134px,#12e1ca 139px,#17e2d2 156px,#18e2d5 157px,#00daa5 160px,#00c75e 164px,#00c141 165px,#0b2 167px,#0b2 173px,#00c44e 175px,#00d082 177px,#03ddb0 179px,#27e6ef 181px,#31c5f0 182px,#37b2f0 184px,#3ca2f0 188px,#3ba3f0 198px,#33bef0 201px,#29e4f0 203px,#10e0c5 205px,#0adebb 206px,#0adebb 251px"></i><i style="--g:#3d4fd9,#3c53dd 49px,#395feb 52px,#3973f0 53px,#39aaf0 55px,#29e1f0 57px,#00dca8 60px,#00d694 61px,#00ce79 64px,#00cb6d 68px,#00d591 73px,#00d591 76px,#00ce78 87px,#00c244 98px,#00c03e 105px,#00c557 112px,#04ddb1 127px,#12e1ca 133px,#16e2d1 147px,#19e2d5 151px,#19e2d6 154px,#1fe4e1 157px,#00dba8 160px,#00c65b 164px,#00c03e 165px,#00bc2a 166px,#00bb23 168px,#00bb21 172px,#00bc29 173px,#00c03c 174px,#00d38a 177px,#00d9a0 178px,#0adebb 179px,#1ce3db 180px,#2bdaf0 181px,#35b9f0 182px,#3ca2f0 187px,#3ca1f0 197px,#35b8f0 200px,#2cdaf0 202px,#22e5e6 203px,#14e1cd 204px,#0cdfbf 205px,#0adebb 251px"></i><i style="--g:#3d4fd9,#3c52dc 51px,#395ee9 54px,#386af0 55px,#3ca0f0 57px,#25e5eb 60px,#00daa5 63px,#00d287 65px,#00cc71 69px,#00cb6d 72px,#00d592 77px,#00d592 81px,#00d07f 104px,#00d695 113px,#03ddaf 119px,#11e0c8 126px,#17e2d1 144px,#20e4e2 148px,#1de3dc 153px,#24e5ea 156px,#23e5e8 157px,#01dcac 160px,#00cb6e 163px,#00bf39 165px,#00bb25 166px,#00bb23 172px,#00c245 174px,#00c865 175px,#00dca8 178px,#23e5e7 180px,#2fcdf0 181px,#36b4f0 182px,#3ca1f0 187px,#3ba3f0 197px,#33c0f0 200px,#28e6f0 202px,#0fe0c4 204px,#0adebb 205px,#0adebb 251px"></i><i style="--g:#3d4fd9,#3c52dc 53px,#3863ee 57px,#39aaf0 60px,#2cd9f0 62px,#22e5e6 63px,#00dba6 66px,#00d288 68px,#00cc71 73px,#00cc71 76px,#00d693 81px,#00d798 84px,#00d89a 96px,#04ddb2 111px,#11e0c7 121px,#14e1cc 140px,#27e6ed 145px,#26e5ec 152px,#23e5e7 153px,#28e5f0 155px,#2adff0 156px,#27e6ee 157px,#00dba7 160px,#00c969 163px,#00c34a 164px,#00bb25 166px,#00bb24 172px,#00c450 174px,#00d799 177px,#05ddb3 178px,#29e2f0 180px,#33c1f0 181px,#37b0f0 182px,#3ca1f0 186px,#3ba2f0 196px,#34bbf0 199px,#2bdcf0 201px,#21e4e3 202px,#13e1cb 203px,#0bdfbd 204px,#0adebb 251px"></i><i style="--g:#3d4fd9,#3c51da 55px,#395eea 59px,#386af0 60px,#38aff0 63px,#2bdaf0 65px,#23e5e7 66px,#01dcac 69px,#00d48d 71px,#00cc73 77px,#00cc74 80px,#00d798 86px,#00d99f 90px,#03ddb0 105px,#12e1ca 124px,#13e1cc 137px,#28e5f0 141px,#2ed0f0 145px,#2ed0f0 149px,#29e2f0 154px,#2bdbf0 156px,#24e5e9 157px,#00daa3 160px,#00c863 163px,#00c143 164px,#00be30 165px,#00bc26 166px,#00bb25 171px,#00bd2b 172px,#00c03e 173px,#00daa2 177px,#1ee4df 179px,#2dd6f0 180px,#36b4f0 181px,#3ca1f0 185px,#3ba5f0 196px,#32c3f0 199px,#26e6ed 201px,#0ddfc2 203px,#0adebb 205px,#0adebb 251px"></i><i style="--g:#3d4fd9,#3c52dc 58px,#3960ec 62px,#3c99f0 65px,#27e6ee 69px,#00dba8 73px,#00d48e 75px,#00ce77 81px,#00cd75 84px,#00d9a0 92px,#10e0c6 118px,#12e0c9 132px,#29e3f0 138px,#34bdf0 142px,#35b7f0 147px,#30c8f0 151px,#2ae0f0 154px,#2bdbf0 156px,#21e4e4 157px,#06ddb4 159px,#00cd74 162px,#00c03e 164px,#00bd2b 165px,#00bc26 171px,#00be31 172px,#00c244 173px,#00c864 174px,#00dcaa 177px,#25e5eb 179px,#38aef0 181px,#3ca1f0 185px,#3ba3f0 195px,#33bef0 198px,#2ae0f0 200px,#10e0c7 202px,#0adebb 203px,#0adebb 251px"></i><i style="--g:#3d4fd9,#3c54de 61px,#3961ed 65px,#3aa8f0 69px,#2bddf0 72px,#24e5e9 73px,#00dcaa 77px,#00d593 79px,#00cf7c 86px,#00ce7b 89px,#00dba7 99px,#0cdfbf 112px,#0cdfc0 125px,#29e3f0 134px,#39acf0 140px,#3c9bf0 142px,#3c9df0 146px,#36b4f0 150px,#2bddf0 154px,#2adff0 156px,#1fe4e0 157px,#03ddaf 159px,#00cb6e 162px,#00bf39 164px,#00bc27 165px,#00bc26 171px,#00c34d 173px,#00d79a 176px,#06deb5 177px,#2ae0f0 179px,#34bef0 180px,#39aaf0 181px,#3ca0f0 186px,#3ca2f0 194px,#35b9f0 197px,#2cd9f0 199px,#23e5e8 200px,#0cdfbf 202px,#0adebb 251px"></i><i style="--g:#3d4fd9,#3c51db 63px,#3960eb 68px,#3869f0 69px,#38aef0 73px,#2bddf0 76px,#25e5ea 77px,#00dba8 82px,#00d593 85px,#00d185 93px,#00d38a 97px,#00dca9 108px,#06deb5 117px,#29e4f0 129px,#3aa8f0 137px,#3977f0 142px,#3a84f0 146px,#39a9f0 150px,#2dd6f0 154px,#2cd8f0 155px,#29e3f0 156px,#00dcaa 159px,#00c969 162px,#00c34a 163px,#00bc27 165px,#00bc29 171px,#00c556 173px,#00daa2 176px,#1fe4e1 178px,#2dd4f0 179px,#37b1f0 180px,#3ba3f0 182px,#3ca1f0 193px,#36b5f0 196px,#28e6f0 199px,#0edfc2 201px,#0adebb 203px,#0adebb 251px"></i><i style="--g:#3d4fd9,#3c54de 67px,#3863ee 72px,#38adf0 77px,#29e3f0 81px,#00dba8 88px,#00d799 92px,#00d799 102px,#05ddb3 111px,#29e3f0 124px,#3b95f0 135px,#3962ed 141px,#3961ed 144px,#3970f0 146px,#38adf0 151px,#2dd5f0 155px,#27e6ef 156px,#00dba6 159px,#00c863 162px,#00c244 163px,#00be30 164px,#00bc27 165px,#00bc27 170px,#00bd2e 171px,#00c142 172px,#00d591 175px,#00dcaa 176px,#26e5ec 178px,#3aa7f0 180px,#3ca0f0 185px,#3ba3f0 193px,#33bef0 196px,#2adff0 198px,#20e4e1 199px,#0adebb 201px,#0adebb 251px"></i><i style="--g:#3d4fd9,#3c53dd 70px,#3863ef 76px,#3aa6f0 81px,#2adff0 86px,#21e4e5 88px,#06deb5 95px,#02dcad 99px,#09deba 106px,#28e5f0 118px,#3b94f0 130px,#3863ef 137px,#3b55df 142px,#3863ef 146px,#3aa6f0 151px,#2dd3f0 155px,#25e5eb 156px,#00daa1 159px,#00c65b 162px,#00c13f 163px,#00bd2c 164px,#00bc27 170px,#00be33 171px,#00c248 172px,#00d080 174px,#06deb5 176px,#19e2d5 177px,#2adff0 178px,#34bcf0 179px,#3ba4f0 180px,#3ba2f0 192px,#35baf0 195px,#2cd9f0 197px,#24e5e8 198px,#0cdfbe 200px,#0adebb 251px"></i><i style="--g:#3d4fd9,#3c54de 74px,#3862ee 80px,#38aef0 87px,#29e2f0 94px,#1de3dd 102px,#29e4f0 110px,#3b95f0 124px,#3862ee 132px,#3c51db 143px,#386af0 147px,#39abf0 152px,#32c1f0 154px,#2ed3f0 155px,#23e5e7 156px,#06deb5 158px,#00d287 160px,#00c03b 163px,#00bc28 164px,#00bc28 170px,#00c451 172px,#00d9a0 175px,#1fe4e0 177px,#2dd4f0 178px,#37b1f0 179px,#3ca1f0 180px,#3ca1f0 191px,#35b7f0 194px,#27e6ef 197px,#0edfc2 199px,#0adebb 201px,#0adebb 251px"></i><i style="--g:#3d4fd9,#3c54de 78px,#3863ef 85px,#3ba4f0 93px,#33bef0 99px,#33c1f0 105px,#3c9ef0 115px,#3862ee 126px,#3c50da 139px,#3d4fd9 143px,#3864f0 147px,#37b0f0 153px,#34bbf0 154px,#2ed2f0 155px,#21e4e3 156px,#03ddb0 158px,#00ca6b 161px,#00bf37 163px,#00bc28 164px,#00bc2a 170px,#00c03d 171px,#00dba8 175px,#25e5eb 177px,#3aa6f0 179px,#3ca0f0 182px,#3ba4f0 191px,#33c1f0 194px,#29e2f0 196px,#0adebb 199px,#0adebb 251px"></i><i style="--g:#3d4fd9,#3c53dd 82px,#3866f0 92px,#3a89f0 99px,#3b8ff0 105px,#3975f0 114px,#3960ec 120px,#3d4fd9 136px,#3c53dd 144px,#386bf0 148px,#39a9f0 153px,#36b5f0 154px,#2ed2f0 155px,#1fe4e0 156px,#00dcab 158px,#00c966 161px,#00c246 162px,#00be32 163px,#00bc28 164px,#00bc28 169px,#00bd2e 170px,#00c142 171px,#04ddb1 175px,#29e1f0 177px,#3ca0f0 179px,#3ba3f0 190px,#33bef0 193px,#2adef0 195px,#21e4e4 196px,#15e1cf 197px,#15e1cf 251px"></i><i style="--g:#3d4fd9,#3c54de 88px,#3862ee 106px,#3d4fd9 134px,#3c51db 144px,#3865f0 148px,#38aef0 154px,#2ed1f0 155px,#1ee4df 156px,#00dba6 158px,#00c760 161px,#00c142 162px,#00bd2f 163px,#00bc28 165px,#00bc28 169px,#00be33 170px,#00c247 171px,#00d082 173px,#00d89c 174px,#09deba 175px,#1de3dc 176px,#2cd7f0 177px,#36b6f0 178px,#3ca0f0 179px,#3ba2f0 189px,#34bcf0 192px,#2bdaf0 194px,#24e5e9 195px,#18e2d4 196px,#18e2d4 251px"></i><i style="--g:#3d4fd9,#3c54de 96px,#3c52dc 117px,#3d4fd9 144px,#396cf0 149px,#3aa7f0 154px,#2ed1f0 155px,#1ee4df 156px,#0bdfbd 157px,#00daa2 158px,#00c03e 162px,#00bd2b 163px,#00bc28 169px,#00bf37 170px,#00daa2 174px,#22e4e5 176px,#2ed0f0 177px,#38aff0 178px,#3ca0f0 179px,#3ba2f0 188px,#35baf0 191px,#26e5ec 194px,#26e5ec 251px"></i><i style="--g:#3c50da,#3c52dc 145px,#3866f0 149px,#3aa7f0 154px,#2ed2f0 155px,#1de3dd 156px,#08deb7 157px,#00d287 159px,#00c03b 162px,#00bc28 163px,#00bc28 169px,#00c555 171px,#00dba8 174px,#26e5ec 176px,#3aa8f0 178px,#3ca0f0 180px,#3ca1f0 187px,#35b9f0 190px,#27e6ef 193px,#27e6ef 251px"></i><i style="--g:#3c52dc,#3c51da 145px,#3863ef 149px,#3b90f0 153px,#3aa7f0 154px,#2dd3f0 155px,#1be3da 156px,#06ddb4 157px,#00ca6c 160px,#00bf37 162px,#00bc28 163px,#00bc2a 169px,#00c03e 170px,#02ddae 174px,#28e5f0 176px,#3ca1f0 178px,#3ca1f0 186px,#35b8f0 189px,#2dd4f0 191px,#2dd4f0 251px"></i><i style="--g:#3b56e1,#3b54df 62px,#3d4fd9 71px,#3d4fd9 145px,#3867f0 150px,#3b8df0 153px,#39a9f0 154px,#2dd5f0 155px,#19e2d6 156px,#04ddb1 157px,#00c967 160px,#00c247 161px,#00be33 162px,#00bc28 163px,#00bc28 168px,#00bd2e 169px,#00c141 170px,#05ddb2 174px,#2ae0f0 176px,#3ca0f0 178px,#3ba5f0 186px,#32c4f0 189px,#2ed2f0 190px,#2ed2f0 251px"></i><i style="--g:#3b59e3,#3b57e1 64px,#3d4fd9 71px,#3c52dc 146px,#3866f0 150px,#3b8df0 153px,#37b0f0 154px,#2bdcf0 155px,#16e1d0 156px,#00dcaa 157px,#00c142 161px,#00be30 162px,#00bc28 164px,#00bc28 168px,#00be31 169px,#00c244 170px,#00d07f 172px,#07deb7 174px,#1ae3d8 175px,#2bdcf0 176px,#35baf0 177px,#3ba2f0 178px,#3ba4f0 185px,#33bff0 188px,#33bff0 251px"></i><i style="--g:#395ee9,#395ee9 65px,#3d4fd9 73px,#3c52dc 146px,#3869f0 150px,#3b94f0 153px,#32c2f0 154px,#24e5e8 155px,#0ddfc1 156px,#00d9a0 157px,#00c03e 161px,#00bd2c 162px,#00bc28 168px,#00be33 169px,#00c248 170px,#00d89d 173px,#0adebb 174px,#1de3dc 175px,#2cd8f0 176px,#36b6f0 177px,#3ba4f0 178px,#3ba3f0 184px,#38b0f0 186px,#38b0f0 251px"></i><i style="--g:#3864f0,#3864f0 67px,#3c53dd 73px,#3d4fd9 135px,#3c54de 146px,#3866f0 149px,#3c9ff0 152px,#38aff0 153px,#2bdbf0 154px,#19e2d5 155px,#05ddb2 156px,#00c03a 161px,#00bc2a 162px,#00bc28 168px,#00bf36 169px,#00c34c 170px,#00d99f 173px,#1fe4e0 175px,#2dd4f0 176px,#37b2f0 177px,#3aa6f0 178px,#3ca0f0 182px,#3aa7f0 187px,#3aa7f0 251px"></i><i style="--g:#3a84f0,#3a84f0 68px,#3862ee 71px,#3b57e2 75px,#3d4fd9 91px,#3c53dd 141px,#395ee9 146px,#3866f0 147px,#38adf0 151px,#2fccf0 153px,#22e4e5 154px,#00dba5 156px,#00bf36 161px,#00bc28 162px,#00bc28 168px,#00c450 170px,#00d9a1 173px,#21e4e4 175px,#2ed1f0 176px,#38aff0 177px,#3ba2f0 181px,#3ba5f0 251px"></i><i style="--g:#3b96f0,#3b96f0 70px,#3866f0 74px,#395fea 83px,#3d4fd9 90px,#3c53dd 136px,#3a5be6 141px,#3863ef 143px,#3b94f0 147px,#30caf0 151px,#28e6f0 153px,#05ddb2 155px,#00be33 161px,#00bc28 162px,#00bc2a 168px,#00c03b 169px,#00daa3 173px,#23e5e7 175px,#2fcdf0 176px,#39acf0 177px,#3ba5f0 184px,#3ba5f0 251px"></i><i style="--g:#39a9f0,#39a9f0 72px,#3b92f0 74px,#3a86f0 83px,#3864ef 87px,#3d4fd9 96px,#3c54de 130px,#395ee9 136px,#3865f0 138px,#3aa8f0 145px,#29e3f0 151px,#25e5ec 152px,#1be3da 153px,#00dba5 155px,#00c658 159px,#00c140 160px,#00bc28 162px,#00bd2c 168px,#00c03d 169px,#00daa5 173px,#25e5eb 175px,#38adf0 177px,#3aa8f0 189px,#3aa8f0 251px"></i><i style="--g:#35b9f0,#34bbf0 79px,#32c3f0 82px,#3b94f0 87px,#3863ef 93px,#3d4fd9 103px,#3b57e2 126px,#3864f0 131px,#3aa8f0 140px,#29e3f0 148px,#1be3da 152px,#04ddb0 154px,#00c554 159px,#00c03d 160px,#00bc28 162px,#00bc28 167px,#00bd2f 168px,#00c13f 169px,#00dba7 173px,#27e6ef 175px,#31c6f0 176px,#31c6f0 251px"></i><i style="--g:#2bdcf0,#2adff0 79px,#25e5eb 82px,#2adff0 84px,#3b95f0 93px,#3864f0 100px,#3a5ae5 112px,#3866f0 122px,#39acf0 134px,#26e5ec 145px,#17e2d2 151px,#16e1d0 152px,#00dca9 154px,#00c967 158px,#00c03b 160px,#00bd2d 161px,#00bc28 167px,#00be31 168px,#00c143 169px,#00dcab 173px,#14e1ce 174px,#14e1ce 251px"></i><i style="--g:#1ee4df,#1de3dc 80px,#18e2d4 82px,#29e2f0 89px,#3b96f0 101px,#3a81f0 108px,#3b8af0 116px,#36b4f0 127px,#27e6ef 139px,#15e1cf 149px,#14e1cd 152px,#00d9a0 155px,#00cb6e 158px,#00c03d 160px,#00bd2b 161px,#00bc28 167px,#00c248 169px,#00cf7c 171px,#00d695 172px,#00d695 251px"></i><i style="--g:#14e1cd,#15e1d0 85px,#22e4e5 92px,#29e3f0 95px,#34bbf0 105px,#35b7f0 113px,#2bdcf0 128px,#26e6ed 132px,#15e1ce 145px,#14e1cc 152px,#00d9a0 156px,#00c557 161px,#00bc28 167px,#00c34d 169px,#00c34d 251px"></i><i style="--g:#14e1cd,#16e1d0 91px,#29e2f0 105px,#2ae0f0 115px,#23e5e8 124px,#14e1cd 141px,#14e1cc 152px,#04ddb1 156px,#00d081 161px,#00c969 166px,#00c969 251px"></i><i style="--g:#14e1cd,#16e2d1 98px,#1de3dd 113px,#14e1cd 140px,#13e1cb 156px,#00daa4 163px,#00d9a0 170px,#00d9a0 251px"></i><i style="--g:#14e1cd,#16e1d0 152px,#25e5eb 161px,#25e5eb 251px"></i><i style="--g:#14e1cd,#16e1d0 148px,#25e5eb 158px,#25e5eb 251px"></i><i style="--g:#14e1cd,#16e1d0 143px,#24e5e9 154px,#24e5e9 251px"></i><i style="--g:#14e1cd,#16e2d1 138px,#22e4e5 150px,#22e4e5 251px"></i><i style="--g:#14e1cd,#16e1d0 131px,#21e4e3 144px,#21e4e3 251px"></i><i style="--g:#16e1d0,#18e2d4 127px,#1ae3d8 251px"></i><i style="--g:#16e1d0,#18e2d4 127px,#1ae3d8 251px"></i></b></div><div class="im" style="left:356px;top:73px;width:130px;height:222px;clip-path:polygon(2.1px 111.0px,64.4px 3.1px,70.0px 6.5px,75.3px 10.2px,80.5px 14.2px,85.5px 18.4px,90.2px 22.9px,94.7px 27.6px,98.9px 32.6px,102.9px 37.8px,106.6px 43.1px,110.0px 48.7px,113.1px 54.4px,115.9px 60.3px,118.4px 66.3px,120.6px 72.5px,122.5px 78.8px,124.0px 85.1px,125.2px 91.5px,126.0px 98.0px,126.5px 104.5px,126.7px 111.0px,126.5px 117.5px,126.0px 124.0px,125.2px 130.5px,124.0px 136.9px,122.5px 143.2px,120.6px 149.5px,118.4px 155.7px,115.9px 161.7px,113.1px 167.6px,110.0px 173.3px,106.6px 178.9px,102.9px 184.2px,98.9px 189.4px,94.7px 194.4px,90.2px 199.1px,85.5px 203.6px,80.5px 207.8px,75.3px 211.8px,70.0px 215.5px,64.4px 218.9px)"><b><i style="background:#4040c8"></i><i style="background:#4040c8"></i><i style="background:#4040c8"></i><i style="background:#4040c8"></i><i style="background:#4040c8"></i><i style="background:#4040c8"></i><i style="background:#4040c8"></i><i style="background:#4040c8"></i><i style="background:#4040c8"></i><i style="background:#4040c8"></i><i style="background:#4040c8"></i><i style="background:#4040c8"></i><i style="background:#4040c8"></i><i style="background:#4040c8"></i><i style="background:#4040c8"></i><i style="background:#4040c8"></i><i style="background:#4040c8"></i><i style="background:#4040c8"></i><i style="background:#4040c8"></i><i style="background:#4040c8"></i><i style="background:#4040c8"></i><i style="background:#4040c8"></i><i style="background:#4040c8"></i><i style="background:#4040c8"></i><i style="background:#4040c8"></i><i style="background:#4040c8"></i><i style="background:#4040c8"></i><i style="background:#4040c8"></i><i style="background:#4040c8"></i><i style="background:#4040c8"></i><i style="background:#4040c8"></i><i style="background:#4040c8"></i><i style="background:#4040c8"></i><i style="background:#4040c8"></i><i style="background:#4040c8"></i><i style="background:#4040c8"></i><i style="background:#4040c8"></i><i style="background:#4040c8"></i><i style="background:#4040c8"></i><i style="background:#4040c8"></i><i style="background:#4040c8"></i><i style="background:#4040c8"></i><i style="--g:#4040c8,#3f43cc 46px,#4040c8 112px,#4040c8 129px"></i><i style="--g:#4040c8,#4041c9 43px,#3f46cf 48px,#4040c8 54px,#4040c8 129px"></i><i style="--g:#4040c8,#4042ca 42px,#3e4bd4 47px,#4040c8 54px,#4040c8 129px"></i><i style="--g:#4040c8,#3f42cb 41px,#3d4fd9 46px,#4040c8 54px,#4040c8 129px"></i><i style="--g:#4040c8,#4040c8 39px,#3c54de 45px,#4040c8 55px,#4040c8 129px"></i><i style="--g:#3e4ad4,#3e4ad4 39px,#3a59e4 44px,#4040c8 56px,#4040c8 129px"></i><i style="--g:#3c53de,#3c53de 38px,#3960ec 39px,#3864f0 40px,#3a5be6 42px,#3a5ce7 44px,#4040c8 57px,#4040c8 129px"></i><i style="--g:#3b8df0,#3b8df0 38px,#3aa7f0 39px,#3972f0 42px,#3961ed 43px,#4040c8 57px,#4040c8 129px"></i><i style="--g:#1ae3d8,#1ae3d8 37px,#21e4e3 38px,#2fcff0 39px,#3b8cf0 42px,#3970f0 43px,#3961ed 44px,#4040c8 58px,#4040c8 129px"></i><i style="--g:#00d285,#00d285 36px,#00c761 37px,#00d79a 38px,#1ee4df 39px,#2cd9f0 40px,#3aa5f0 42px,#396ef0 44px,#3961ec 45px,#4040c8 59px,#4040c8 129px"></i><i style="--g:#00c247,#00c248 37px,#00c75d 38px,#00d799 39px,#1ce3db 40px,#2bdaf0 41px,#3ba4f0 43px,#396cf0 45px,#3961ec 46px,#4040c8 60px,#4040c8 129px"></i><i style="--g:#00c244,#00c244 35px,#00c03b 36px,#00c140 38px,#00c658 39px,#00d798 40px,#1be3da 41px,#2bdbf0 42px,#3ba2f0 44px,#386af0 46px,#395ee9 48px,#4040c8 61px,#4040c8 129px"></i><i style="--g:#00c760,#00c760 35px,#00be32 36px,#00bd2d 37px,#00bf39 39px,#00c557 40px,#00d799 41px,#1ce3db 42px,#2cd9f0 43px,#3ca0f0 45px,#3868f0 47px,#3b56e1 52px,#4040c8 62px,#4040c8 129px"></i><i style="--g:#00dca9,#00dca9 34px,#00cf7b 35px,#00c142 36px,#00bb21 37px,#00bc29 39px,#00be34 40px,#00c659 41px,#00d89d 42px,#1fe4e0 43px,#2dd6f0 44px,#3c9ef0 46px,#3865f0 48px,#4040c8 63px,#4040c8 129px"></i><i style="--g:#07deb6,#07deb6 34px,#00c65b 36px,#00bc29 37px,#00b815 38px,#00bc26 40px,#00be34 41px,#00c760 42px,#00daa3 43px,#22e5e6 44px,#2ed2f0 45px,#3c9bf0 47px,#3864f0 49px,#4040c8 64px,#4040c8 129px"></i><i style="--g:#30cbf0,#30cbf0 33px,#15e1ce 34px,#00d799 35px,#00c03d 37px,#00b91a 38px,#00b711 39px,#00bf39 42px,#00c969 43px,#01dcac 44px,#26e6ed 45px,#3c99f0 48px,#3863ef 50px,#4040c8 65px,#4040c8 129px"></i><i style="--g:#3974f0,#3974f0 32px,#39acf0 33px,#29e3f0 34px,#07deb7 35px,#00d286 36px,#00be32 38px,#00b919 39px,#00b815 40px,#00c140 43px,#00cc72 44px,#08deb9 45px,#29e2f0 46px,#3b96f0 49px,#3862ee 51px,#4040c8 66px,#4040c8 129px"></i><i style="--g:#3867f0,#3867f0 32px,#3a84f0 33px,#35b9f0 34px,#21e4e4 35px,#00dca9 36px,#00d07e 37px,#00c03a 39px,#00bb23 40px,#00ba20 41px,#00c349 44px,#00cf7c 45px,#0fe0c5 46px,#2bddf0 47px,#3b94f0 50px,#3962ed 52px,#4040c8 67px,#4040c8 129px"></i><i style="--g:#3a5ce7,#3a5ce7 31px,#396cf0 33px,#3b8cf0 34px,#33c1f0 35px,#1de3dd 36px,#00dba8 37px,#00d185 38px,#00bf35 41px,#00bd2f 42px,#00c452 45px,#00d185 46px,#16e1d0 47px,#2cd8f0 48px,#3b92f0 51px,#3962ed 53px,#4040c8 68px,#4040c8 129px"></i><i style="--g:#3a59e4,#3a5de8 32px,#3961ed 33px,#396ff0 34px,#3b90f0 35px,#32c3f0 36px,#20e4e1 37px,#06ddb4 38px,#00d696 39px,#00cb6d 41px,#00c247 42px,#00c03e 43px,#00c65a 46px,#00d48d 47px,#1ce3da 48px,#2dd5f0 49px,#3b90f0 52px,#3961ed 54px,#4040c8 69px,#4040c8 129px"></i><i style="--g:#3c54de,#3b57e1 31px,#3962ed 34px,#3970f0 35px,#3b90f0 36px,#27e6ee 38px,#12e0c9 39px,#02ddae 40px,#00d9a0 41px,#00d082 42px,#00c555 43px,#00c34a 44px,#00c761 47px,#00d695 48px,#21e4e3 49px,#2ed2f0 50px,#3b8ff0 53px,#3961ed 55px,#4040c8 70px,#4040c8 129px"></i><i style="--g:#3c52dc,#3c54de 31px,#3962ed 35px,#396ef0 36px,#3b8cf0 37px,#2cd8f0 39px,#1fe4e0 40px,#09deba 42px,#00d590 43px,#00c760 44px,#00c553 45px,#00c65a 47px,#00c966 48px,#00d89c 49px,#23e5e7 50px,#2ed1f0 51px,#3b8ef0 54px,#3961ed 56px,#4040c8 71px,#4040c8 129px"></i><i style="--g:#3d4dd6,#3d4fd9 30px,#3961ed 36px,#386af0 37px,#39a9f0 39px,#2ae0f0 41px,#15e1cf 43px,#00d799 44px,#00c865 45px,#00c658 46px,#00c65c 48px,#00c969 49px,#00d9a0 50px,#25e5ea 51px,#34bcf0 53px,#3b8df0 55px,#3961ed 57px,#4040c8 72px,#4040c8 129px"></i><i style="--g:#3e48d1,#3e4bd4 29px,#3866f0 38px,#3c9ff0 40px,#2ed1f0 42px,#29e3f0 43px,#1ce3db 44px,#00d89b 45px,#00c967 46px,#00c65b 47px,#00c75d 49px,#00ca6b 50px,#00daa4 51px,#25e5eb 52px,#3ba5f0 55px,#3974f0 57px,#3961ed 58px,#4040c8 72px,#4040c8 129px"></i><i style="--g:#3f46cf,#3e48d1 29px,#3864f0 39px,#3b98f0 41px,#2bdaf0 44px,#1fe4e1 45px,#00d79a 46px,#00c966 47px,#00c65c 48px,#00c75d 50px,#00ca6c 51px,#00dba6 52px,#26e5ec 53px,#3ba5f0 56px,#3973f0 58px,#3961ed 59px,#4040c8 73px,#4040c8 129px"></i><i style="--g:#4041c9,#3f44cc 28px,#3863ef 40px,#38adf0 43px,#2dd6f0 45px,#20e4e3 46px,#00d798 47px,#00c865 48px,#00c75d 49px,#00c75d 51px,#00ca6c 52px,#00dba7 53px,#26e6ed 54px,#3ba4f0 57px,#3972f0 59px,#3961ed 60px,#4040c8 74px,#4040c8 129px"></i><i style="--g:#4040c8,#3f44cd 29px,#3862ee 41px,#39abf0 44px,#2dd4f0 46px,#1fe4e0 47px,#00d695 48px,#00c865 49px,#00c75d 51px,#00c75d 52px,#00ca6d 53px,#00dba8 54px,#27e6ee 55px,#3ba3f0 58px,#3970f0 60px,#3961ed 61px,#4040c8 74px,#4040c8 129px"></i><i style="--g:#4041c9,#4042ca 29px,#3862ee 42px,#39abf0 45px,#2dd4f0 47px,#1ee3de 48px,#00d694 49px,#00c864 50px,#00c75d 52px,#00c75d 53px,#00cb6d 54px,#00dcaa 55px,#28e6ef 56px,#3ca2f0 59px,#396df0 61px,#3961ed 62px,#4040c8 75px,#4040c8 129px"></i><i style="--g:#4041c9,#3f43cb 30px,#3863ee 43px,#39abf0 46px,#2dd4f0 48px,#1de3dd 49px,#00d593 50px,#00c864 51px,#00c75d 53px,#00c75d 54px,#00cb6e 55px,#02dcad 56px,#28e5f0 57px,#3c9ff0 60px,#3869f0 62px,#3a5be7 65px,#4040c8 76px,#4040c8 129px"></i><i style="--g:#4041c9,#3f44cc 31px,#3863ef 44px,#39abf0 47px,#2dd4f0 49px,#1ce3dc 50px,#00d592 51px,#00c863 52px,#00c75d 55px,#00cb70 56px,#05ddb3 57px,#2ae1f0 58px,#3c9cf0 61px,#3864f0 63px,#4040c8 76px,#4040c8 129px"></i><i style="--g:#4041c9,#3f45cd 32px,#3863ef 45px,#39acf0 48px,#2dd4f0 50px,#1be3da 51px,#00d590 52px,#00c862 53px,#00c75e 56px,#00cd75 57px,#0adfbc 58px,#2bdbf0 59px,#3b97f0 62px,#3862ee 64px,#4040c8 77px,#4040c8 129px"></i><i style="--g:#4041c9,#3f46ce 33px,#3863ef 46px,#39acf0 49px,#2dd5f0 51px,#1ae2d7 52px,#00d48d 53px,#00c760 54px,#00c75e 57px,#00cf7d 58px,#11e0c8 59px,#2cd7f0 60px,#3b90f0 63px,#3973f0 64px,#3961ed 65px,#4040c9 77px,#4040c8 129px"></i><i style="--g:#4041c9,#3f45cd 33px,#3864f0 47px,#38adf0 50px,#2dd5f0 52px,#17e2d3 53px,#00d389 54px,#00c75e 55px,#00c75e 58px,#00d288 59px,#1be3d9 60px,#2ed3f0 61px,#3ba3f0 63px,#3868f0 65px,#3b55e0 70px,#4040c8 78px,#4040c8 129px"></i><i style="--g:#4042ca,#3f46cf 34px,#3865f0 48px,#38aef0 51px,#2cd7f0 53px,#13e1cc 54px,#00d182 55px,#00c75e 56px,#00c75d 58px,#00c864 59px,#00d89b 60px,#25e5ec 61px,#3c9af0 64px,#3862ee 66px,#4040c9 78px,#4040c8 129px"></i><i style="--g:#4042ca,#3e47d0 33px,#3866f0 49px,#38b0f0 52px,#2cd9f0 54px,#0ddfc1 55px,#00ce78 56px,#00c75e 57px,#00c75d 59px,#00ca6d 60px,#07deb5 61px,#2bdaf0 62px,#3b8ff0 65px,#3971f0 66px,#3961ed 67px,#4040c8 79px,#4040c8 129px"></i><i style="--g:#4042ca,#3e47d0 32px,#3b57e2 42px,#3869f0 50px,#3c9bf0 52px,#2adff0 55px,#03ddaf 56px,#00ca6c 57px,#00c75d 58px,#00c75e 60px,#00d080 61px,#17e2d3 62px,#2dd3f0 63px,#3ca0f0 65px,#3863ef 67px,#4040c9 79px,#4040c8 129px"></i><i style="--g:#4042ca,#3e47d0 30px,#3b55df 41px,#3863ef 50px,#396cf0 51px,#3c9ff0 53px,#25e5eb 56px,#00d799 57px,#00c761 58px,#00c75d 60px,#00c862 61px,#00d89c 62px,#27e6ef 63px,#3b94f0 66px,#3975f0 67px,#3961ed 68px,#4040c8 80px,#4040c8 129px"></i><i style="--g:#4042ca,#3e47d0 29px,#3b56e1 42px,#3864f0 51px,#3971f0 52px,#3ba4f0 54px,#2dd3f0 56px,#17e2d3 57px,#00d081 58px,#00c75e 59px,#00c75d 61px,#00cb70 62px,#0edfc2 63px,#2dd6f0 64px,#3ba3f0 66px,#3864f0 68px,#4040c8 80px,#4040c8 129px"></i><i style="--g:#3f42cb,#3e47d0 28px,#3961ed 50px,#3864f0 52px,#3b92f0 54px,#2bdaf0 57px,#06ddb4 58px,#00ca6b 59px,#00c75d 60px,#00c75e 62px,#00d590 63px,#25e5ea 64px,#37b1f0 66px,#3974f0 68px,#3961ed 69px,#4040c8 80px,#4040c8 129px"></i><i style="--g:#3f42cb,#3e47d0 27px,#3866f0 53px,#3c9bf0 55px,#2fccf0 57px,#24e5e9 58px,#00d590 59px,#00c75e 60px,#00c75d 62px,#00cb6d 63px,#0cdfbe 64px,#2dd6f0 65px,#3ca1f0 67px,#3862ee 69px,#4040c9 80px,#4040c8 129px"></i><i style="--g:#3f43cb,#3e47d0 26px,#3864f0 53px,#396ef0 54px,#3ba5f0 56px,#2dd6f0 58px,#0ee0c3 59px,#00cb6f 60px,#00c75d 61px,#00c75e 63px,#00d694 64px,#27e6ee 65px,#38adf0 67px,#396cf0 69px,#3961ec 70px,#4040c8 81px,#4040c8 129px"></i><i style="--g:#3f43cb,#3e47d0 25px,#3865f0 54px,#3b95f0 56px,#26e6ed 59px,#00d695 60px,#00c75e 61px,#00c75d 63px,#00cc74 64px,#14e1cd 65px,#2ed2f0 66px,#3c99f0 68px,#3979f0 69px,#3961ed 70px,#4040c8 81px,#4040c8 129px"></i><i style="--g:#3f42cb,#3e47d0 24px,#3868f0 55px,#3ba2f0 57px,#2dd6f0 59px,#0cdfbf 60px,#00ca6c 61px,#00c75d 62px,#00c864 64px,#00dcaa 65px,#2cd9f0 66px,#3ba2f0 68px,#3862ee 70px,#4040c8 81px,#4040c8 129px"></i><i style="--g:#3f43cb,#3e48d0 24px,#3865f0 55px,#3978f0 56px,#37b1f0 58px,#2fccf0 59px,#21e4e4 60px,#00d185 61px,#00c75e 62px,#00c75e 64px,#00d490 65px,#27e6ee 66px,#39abf0 68px,#3866f0 70px,#4040c8 81px,#4040c8 129px"></i><i style="--g:#3f42cb,#3e47d0 23px,#395ee9 48px,#3864f0 55px,#386af0 56px,#3aa7f0 58px,#2adff0 60px,#00d99e 61px,#00c75e 62px,#00c75d 64px,#00cf7c 65px,#1de3dd 66px,#2fcdf0 67px,#3b91f0 69px,#396df0 70px,#3960ec 71px,#4040c8 81px,#4040c8 129px"></i><i style="--g:#3f43cb,#3e48d1 23px,#3a5ce8 44px,#3865f0 56px,#3c9ef0 58px,#2dd6f0 60px,#08deb8 61px,#00c967 62px,#00c75d 63px,#00c75d 64px,#00cb6e 65px,#12e1ca 66px,#2ed2f0 67px,#3b96f0 69px,#3973f0 70px,#3961ec 71px,#4040c8 81px,#4040c8 129px"></i><i style="--g:#3f42cb,#3e47d0 22px,#3a5de8 44px,#3864f0 56px,#3978f0 57px,#36b6f0 59px,#2ed2f0 60px,#11e0c8 61px,#00cb6d 62px,#00c75d 63px,#00c75d 64px,#00ca6a 65px,#0ddfc0 66px,#2dd4f0 67px,#3c99f0 69px,#3976f0 70px,#3961ed 71px,#4040c8 81px,#4040c8 129px"></i><i style="--g:#3f43cb,#3e48d0 22px,#3a5de8 44px,#3864f0 56px,#3974f0 57px,#37b3f0 59px,#2ecff0 60px,#16e1d0 61px,#00cc71 62px,#00c75d 63px,#00c75d 64px,#00c967 65px,#09deb9 66px,#2dd5f0 67px,#3c9af0 69px,#3978f0 70px,#3961ed 71px,#4040c8 81px,#4040c8 129px"></i><i style="--g:#3f42cb,#3e48d1 22px,#3a5de8 43px,#3864f0 56px,#3974f0 57px,#37b3f0 59px,#2ecff0 60px,#15e1d0 61px,#00cc71 62px,#00c75d 63px,#00c75d 64px,#00c967 65px,#09deba 66px,#2dd5f0 67px,#3c9af0 69px,#3978f0 70px,#3961ed 71px,#4040c8 81px,#4040c8 129px"></i><i style="--g:#4042ca,#3e47d0 21px,#3a5de8 43px,#3864f0 56px,#3977f0 57px,#36b5f0 59px,#2ed1f0 60px,#12e0c9 61px,#00cb6e 62px,#00c75d 63px,#00c75d 64px,#00ca69 65px,#0cdfbf 66px,#2dd4f0 67px,#3c99f0 69px,#3976f0 70px,#3961ed 71px,#4040c8 81px,#4040c8 129px"></i><i style="--g:#4042ca,#3e47d0 21px,#3a5de8 44px,#3864f0 56px,#3c9cf0 58px,#2dd5f0 60px,#0bdfbd 61px,#00c969 62px,#00c75d 63px,#00c75d 64px,#00cb6d 65px,#11e0c7 66px,#2ed2f0 67px,#3b96f0 69px,#3973f0 70px,#3961ec 71px,#4040c8 81px,#4040c8 129px"></i><i style="--g:#4042ca,#3e48d1 22px,#395de9 44px,#3865f0 56px,#3ba2f0 58px,#2cd9f0 60px,#00dca9 61px,#00c862 62px,#00c75d 64px,#00cd77 65px,#19e2d7 66px,#2fcef0 67px,#3b92f0 69px,#396ef0 70px,#3960ec 71px,#4040c8 81px,#4040c8 129px"></i><i style="--g:#4042ca,#3e48d1 22px,#395de9 43px,#3863ef 55px,#396cf0 56px,#39aaf0 58px,#28e6f0 60px,#00d693 61px,#00c75e 62px,#00c75e 64px,#00d287 65px,#23e5e8 66px,#30caf0 67px,#3b8cf0 69px,#3868f0 70px,#3d4cd5 77px,#4040c8 82px,#4040c8 129px"></i><i style="--g:#4041ca,#3e48d1 22px,#395ee9 42px,#3864ef 55px,#3978f0 56px,#36b4f0 58px,#2fcef0 59px,#1be3da 60px,#00cf7c 61px,#00c75d 62px,#00c75e 64px,#00d89b 65px,#29e1f0 66px,#3aa6f0 68px,#3863ee 70px,#4040c8 81px,#4040c8 129px"></i><i style="--g:#4041c9,#3e48d1 22px,#395ee9 41px,#3863ef 54px,#3868f0 55px,#3ba3f0 57px,#2cd7f0 59px,#08deb7 60px,#00c969 61px,#00c75d 62px,#00c75d 63px,#00c968 64px,#08deb8 65px,#2cd6f0 66px,#3c9ff0 68px,#3962ed 70px,#4040c8 81px,#4040c8 129px"></i><i style="--g:#4041c9,#3e48d1 22px,#395ee9 41px,#3864f0 54px,#37b1f0 57px,#25e5eb 59px,#00d590 60px,#00c75e 61px,#00c75d 63px,#00ce7b 64px,#19e2d6 65px,#2ecff0 66px,#3b95f0 68px,#3973f0 69px,#3961ec 70px,#4040c8 81px,#4040c8 129px"></i><i style="--g:#4041c9,#3e49d2 23px,#395eea 40px,#3864f0 53px,#3b8ef0 55px,#2cd7f0 58px,#0ddfc0 59px,#00cc72 60px,#00c75d 61px,#00c75e 63px,#00d799 64px,#28e4f0 65px,#39aaf0 67px,#3868f0 69px,#3d4fd9 75px,#4040c8 81px,#4040c8 129px"></i><i style="--g:#4041c9,#3e49d2 23px,#395fea 39px,#3868f0 52px,#3ba3f0 55px,#2ed0f0 57px,#1be3d9 58px,#00d695 59px,#00cc71 60px,#00c761 62px,#00cb6f 63px,#0ee0c3 64px,#2dd5f0 65px,#3c9ff0 67px,#3962ed 69px,#4040c8 80px,#4040c8 129px"></i><i style="--g:#4041c9,#3e48d1 23px,#3960ec 39px,#3864f0 49px,#3a86f0 52px,#35baf0 55px,#2fcdf0 56px,#20e4e2 57px,#00dba8 58px,#00d285 59px,#00cb6e 62px,#00d89b 63px,#26e5ec 64px,#3b92f0 67px,#3971f0 68px,#3961ec 69px,#4040c8 80px,#4040c8 129px"></i><i style="--g:#4041c9,#3e48d1 23px,#3961ed 39px,#3867f0 46px,#3a89f0 50px,#37b1f0 53px,#2ed2f0 55px,#21e4e3 56px,#07deb5 57px,#00d799 58px,#00cf7e 61px,#00d490 62px,#16e1d0 63px,#2dd5f0 64px,#3ba2f0 66px,#3863ef 68px,#4040c8 80px,#4040c8 129px"></i><i style="--g:#4040c8,#3e47d0 23px,#3863ee 38px,#396cf0 43px,#3b8df0 48px,#37b1f0 51px,#2cd9f0 54px,#20e4e2 55px,#0edfc2 56px,#01dcac 57px,#00d48f 60px,#00d695 61px,#11e0c8 62px,#2bddf0 63px,#3b92f0 66px,#3973f0 67px,#3961ec 68px,#4040c8 79px,#4040c8 129px"></i><i style="--g:#4040c8,#3e49d2 24px,#3866f0 38px,#3a80f0 44px,#38aef0 49px,#29e1f0 53px,#22e5e6 54px,#07deb7 57px,#00d9a0 59px,#00daa4 60px,#28e5f0 62px,#3c9ef0 65px,#3862ee 67px,#4040c8 79px,#4040c8 129px"></i><i style="--g:#4040c8,#3e48d1 24px,#386af0 37px,#3a7ff0 42px,#39a9f0 47px,#29e3f0 52px,#28e6f0 53px,#06ddb4 58px,#09deb9 59px,#27e6ef 61px,#3aa7f0 64px,#396df0 66px,#3960ec 67px,#4040c8 79px,#4040c8 129px"></i><i style="--g:#4040c8,#3e48d1 24px,#3869f0 36px,#3a80f0 41px,#39abf0 46px,#28e6f0 53px,#28e6f0 54px,#14e1cd 57px,#15e1cf 58px,#28e5f0 60px,#39acf0 63px,#3961ed 66px,#4040c8 78px,#4040c8 129px"></i><i style="--g:#4040c8,#3e47d0 24px,#386bf0 36px,#3a7bf0 40px,#38adf0 46px,#28e6f0 53px,#28e6f0 55px,#1fe4e1 57px,#29e2f0 59px,#38aef0 62px,#3862ee 65px,#4040c8 78px,#4040c8 129px"></i><i style="--g:#4040c8,#3f46cf 24px,#386af0 36px,#3971f0 38px,#397af0 40px,#37b3f0 47px,#29e3f0 53px,#27e6ef 57px,#33bff0 60px,#3a7ef0 63px,#3863ef 64px,#4040c8 77px,#4040c8 129px"></i><i style="--g:#4040c8,#3f46ce 24px,#3869f0 36px,#3971f0 38px,#3978f0 40px,#39a9f0 46px,#28e6f0 54px,#2ae0f0 56px,#35b8f0 59px,#3a7cf0 62px,#3863ef 63px,#4040c8 77px,#4040c8 129px"></i><i style="--g:#4040c8,#4042ca 4px,#3d4cd6 5px,#4040c8 10px,#3f45cd 24px,#3867f0 36px,#3971f0 38px,#3976f0 40px,#38aff0 47px,#2bdcf0 53px,#2bddf0 54px,#34bdf0 57px,#3b8bf0 60px,#3862ee 62px,#4040c8 76px,#4040c8 129px"></i><i style="--g:#4040c8,#4042ca 3px,#3b58e2 4px,#396cf0 5px,#396df0 6px,#3a5ce7 8px,#4041c9 14px,#3f44cd 24px,#3866f0 36px,#3971f0 38px,#3974f0 40px,#38adf0 47px,#32c2f0 50px,#31c6f0 53px,#34bbf0 55px,#3b92f0 58px,#396cf0 60px,#3961ed 61px,#4040c8 76px,#4040c8 129px"></i><i style="--g:#4040c8,#4040c8 2px,#3d4cd5 3px,#396cf0 4px,#37b2f0 5px,#36b6f0 6px,#38aef0 7px,#396cf0 11px,#3b57e1 14px,#4041c9 19px,#3f46cf 25px,#3864f0 36px,#3971f0 38px,#3972f0 40px,#3aa6f0 47px,#37b0f0 51px,#3aa6f0 54px,#3a83f0 57px,#3862ee 59px,#4040c8 75px,#4040c8 129px"></i><i style="--g:#3d4cd5,#3d4cd5 3px,#396cf0 4px,#37b2f0 5px,#34bdf0 6px,#34bcf0 10px,#38adf0 12px,#3862ee 17px,#3f44cc 23px,#3864f0 36px,#3971f0 38px,#3971f0 40px,#3b95f0 46px,#3c9af0 50px,#3a87f0 54px,#3863ee 57px,#4040c8 74px,#4040c8 129px"></i><i style="--g:#3b58e2,#3b58e2 4px,#396cf0 5px,#38aff0 9px,#34bdf0 11px,#34bcf0 15px,#38aff0 17px,#3b8ff0 19px,#396ff0 20px,#395fea 21px,#3d4bd5 24px,#3d4ed7 28px,#386af0 37px,#3971f0 39px,#3a87f0 46px,#3a7ef0 51px,#3962ed 55px,#4040c8 74px,#4040c8 129px"></i><i style="--g:#4042ca,#4042ca 4px,#3a5ce8 8px,#396ef0 10px,#38aff0 14px,#34bcf0 16px,#34bdf0 18px,#36b5f0 19px,#3a81f0 21px,#3866f0 22px,#3d4ed8 25px,#3d4dd6 28px,#3868f0 37px,#3971f0 38px,#3974f0 47px,#3961ed 52px,#3f43cb 70px,#4040c8 129px"></i><i style="--g:#4040c8,#4042ca 8px,#3862ee 14px,#3c9bf0 18px,#3c9ef0 19px,#3a7df0 21px,#3868f0 22px,#3e4bd4 26px,#3a5de8 34px,#386af0 39px,#3a5ce7 54px,#4040c8 72px,#4040c8 129px"></i><i style="--g:#4040c8,#4042ca 13px,#395de9 19px,#3c51db 24px,#3e49d2 27px,#3864f0 39px,#3d4ed8 62px,#4040c8 71px,#4040c8 129px"></i><i style="--g:#4040c8,#4040c9 18px,#3e4ad4 22px,#3e48d1 27px,#3961ed 39px,#3e49d2 63px,#4040c8 70px,#4040c8 129px"></i><i style="--g:#4040c8,#3f43cb 25px,#395ee9 39px,#3f46cf 63px,#4040c8 71px,#4040c8 129px"></i><i style="--g:#4040c8,#3f44cc 26px,#3a5ae4 40px,#4042ca 64px,#4040c8 129px"></i><i style="--g:#4040c8,#3f43cb 26px,#3b56e1 40px,#4040c8 68px,#4040c8 129px"></i><i style="--g:#4040c8,#3f42cb 26px,#3c53dd 40px,#4040c8 67px,#4040c8 129px"></i><i style="--g:#4040c8,#3f43cc 27px,#3d4fd9 41px,#4040c8 65px,#4040c8 129px"></i><i style="--g:#4040c8,#3f44cc 28px,#3e4bd4 42px,#4040c8 63px,#4040c8 129px"></i><i style="--g:#4040c8,#3f44cc 29px,#3f46cf 44px,#4040c8 64px,#4040c8 129px"></i><i style="--g:#4040c8,#3f44cd 32px,#4040c8 109px,#4040c8 129px"></i><i style="background:#4040c8"></i><i style="background:#4040c8"></i><i style="background:#4040c8"></i><i style="background:#4040c8"></i><i style="background:#4040c8"></i><i style="background:#4040c8"></i><i style="background:#4040c8"></i><i style="background:#4040c8"></i><i style="background:#4040c8"></i><i style="background:#4040c8"></i><i style="background:#4040c8"></i><i style="background:#4040c8"></i><i style="background:#4040c8"></i><i style="background:#4040c8"></i><i style="background:#4040c8"></i><i style="background:#4040c8"></i><i style="background:#4040c8"></i><i style="background:#4040c8"></i><i style="background:#4040c8"></i><i style="background:#4040c8"></i><i style="background:#4040c8"></i><i style="background:#4040c8"></i><i style="background:#4040c8"></i><i style="background:#4040c8"></i><i style="background:#4040c8"></i><i style="background:#4040c8"></i><i style="background:#4040c8"></i><i style="background:#4040c8"></i><i style="background:#4040c8"></i><i style="background:#4040c8"></i><i style="background:#4040c8"></i><i style="background:#4040c8"></i><i style="background:#4040c8"></i><i style="background:#4040c8"></i><i style="background:#4040c8"></i><i style="background:#4040c8"></i><i style="background:#4040c8"></i><i style="background:#4040c8"></i><i style="background:#4040c8"></i><i style="background:#4040c8"></i><i style="background:#4040c8"></i><i style="background:#4040c8"></i><i style="background:#4040c8"></i><i style="background:#4040c8"></i><i style="background:#4040c8"></i><i style="background:#4040c8"></i><i style="background:#4040c8"></i><i style="background:#4040c8"></i><i style="background:#4040c8"></i><i style="background:#4040c8"></i><i style="background:#4040c8"></i><i style="background:#4040c8"></i><i style="background:#4040c8"></i><i style="--g:#4040c8,#4041c9 69px,#4040c8 129px"></i><i style="--g:#4040c8,#3f45cd 54px,#4040c8 129px"></i><i style="--g:#4041c9,#3f45ce 52px,#4040c8 129px"></i><i style="--g:#4041c9,#3f45cd 50px,#3f45cd 65px,#4040c8 111px,#4040c8 129px"></i><i style="--g:#4042ca,#3f45cd 49px,#3e48d1 63px,#4040c8 88px,#4040c8 129px"></i><i style="--g:#3f42cb,#3f46ce 49px,#3e4ad3 62px,#4040c8 83px,#4040c8 129px"></i><i style="--g:#3f43cb,#3f46cf 49px,#3d4dd7 61px,#4040c8 81px,#4040c8 129px"></i><i style="--g:#3f44cc,#3e47d0 49px,#3d50d9 61px,#4040c8 80px,#4040c8 129px"></i><i style="--g:#3f44cd,#3e48d1 49px,#3c53dd 60px,#4040c8 79px,#4040c8 129px"></i><i style="--g:#3f46cf,#3e49d2 49px,#3b56e1 60px,#4041c9 78px,#4040c8 129px"></i><i style="--g:#3f46cf,#3e4ad3 49px,#3a59e4 60px,#4041c9 78px,#4040c8 129px"></i><i style="--g:#3e48d1,#3e4ad3 49px,#3a5de8 59px,#4041c9 78px,#4040c8 129px"></i><i style="--g:#3e4bd4,#3d4dd7 50px,#3961ec 59px,#3c50da 68px,#4041c9 79px,#4040c8 129px"></i><i style="--g:#3e4bd4,#3d4ed7 50px,#3865f0 59px,#3b58e3 66px,#4042ca 77px,#4040c8 129px"></i><i style="--g:#3d4ed8,#3c51db 51px,#396cf0 58px,#3970f0 61px,#3a5be7 66px,#3f44cc 76px,#4040c8 129px"></i><i style="--g:#3d4ed8,#3c51db 51px,#3865f0 56px,#3a7bf0 59px,#3978f0 62px,#395fea 66px,#3f45ce 75px,#4040c8 101px,#4040c8 129px"></i><i style="--g:#3c52dc,#3b55e0 52px,#386af0 56px,#3a85f0 59px,#3a84f0 62px,#3962ed 66px,#3f46cf 75px,#4040c8 96px,#4040c8 129px"></i><i style="--g:#3c52dc,#3c52dc 51px,#3863ef 55px,#3b8df0 59px,#3b8ef0 62px,#3973f0 65px,#3960ec 67px,#3f47cf 75px,#4040c8 93px,#4040c8 129px"></i><i style="--g:#3b55e0,#3b55e0 52px,#3863ef 55px,#3b94f0 59px,#3b97f0 62px,#3a7cf0 65px,#3863ef 67px,#3e47d0 75px,#4040c8 91px,#4040c8 129px"></i><i style="--g:#3a59e4,#3a59e4 53px,#3863ef 55px,#3b98f0 59px,#3c9ff0 62px,#3a84f0 65px,#3867f0 67px,#3e4ad3 74px,#4040c8 86px,#4040c8 129px"></i><i style="--g:#3b58e3,#3b58e3 53px,#3863ee 55px,#3c9af0 59px,#3ba5f0 61px,#3b96f0 64px,#3961ed 68px,#3f46cf 76px,#4040c8 95px,#4040c8 129px"></i><i style="--g:#3a5ce7,#3a5ce7 54px,#396df0 56px,#3c9af0 59px,#3aa6f0 61px,#3ca2f0 63px,#3a80f0 66px,#3863ef 68px,#3e49d2 75px,#4040c8 88px,#4040c8 129px"></i><i style="--g:#3a5ae5,#3a5ae5 54px,#3867f0 56px,#3b96f0 59px,#3ba5f0 61px,#3ba2f0 63px,#3a82f0 66px,#3863ef 68px,#3e49d2 75px,#4040c8 88px,#4040c8 129px"></i><i style="--g:#3a5de8,#3a5de8 55px,#3863ee 56px,#3c99f0 60px,#3ba2f0 62px,#3c99f0 64px,#3863ef 68px,#3e49d2 75px,#4040c8 88px,#4040c8 129px"></i><i style="--g:#3960eb,#3960eb 56px,#3867f0 57px,#3b90f0 60px,#3c9bf0 62px,#3b94f0 64px,#3863ef 68px,#3e47d0 76px,#4040c8 91px,#4040c8 129px"></i><i style="--g:#3a5ce7,#3a5ce7 56px,#386bf0 58px,#3b8df0 61px,#3b90f0 63px,#3979f0 66px,#3862ee 68px,#3e47d0 76px,#4041c9 90px,#4041c9 129px"></i><i style="--g:#395de9,#395de9 57px,#3a7ff0 61px,#3a81f0 64px,#3960ec 68px,#3f46ce 77px,#4041c9 100px,#4041c9 129px"></i><i style="--g:#3a5ae4,#3a5ae4 57px,#3970f0 61px,#3975f0 64px,#395ee9 68px,#3f45ce 77px,#4042ca 128px,#4042ca 129px"></i><i style="--g:#3a59e4,#3a5de8 59px,#3866f0 64px,#3f44cc 78px,#4042ca 129px"></i><i style="--g:#3b55e0,#3b58e3 59px,#395feb 65px,#3f43cb 79px,#3f43cb 129px"></i><i style="--g:#3b54df,#3b57e1 60px,#3a5ae4 66px,#3f45cd 78px,#3f45cd 129px"></i><i style="--g:#3c53dd,#3b56e0 62px,#3d4fd9 70px,#3f45ce 79px,#3f45ce 129px"></i><i style="--g:#3d4fd9,#3c50da 68px,#3f46cf 78px,#3f46cf 129px"></i><i style="--g:#3d4ed7,#3d4dd6 69px,#3e48d1 82px,#3e48d1 129px"></i><i style="--g:#3e4bd4,#3e4ad3 70px,#3e48d1 129px"></i><i style="background:#3e49d3"></i><i style="background:#3e48d0"></i><i style="background:#3f46cf"></i><i style="background:#3f45ce"></i><i style="background:#3f44cc"></i><i style="background:#3f44cc"></i><i style="background:#3f44cc"></i><i style="background:#3f44cc"></i></b></div><div class="im" style="left:356px;top:337px;width:130px;height:222px;clip-path:polygon(2.1px 111.0px,64.4px 3.1px,70.0px 6.5px,75.3px 10.2px,80.5px 14.2px,85.5px 18.4px,90.2px 22.9px,94.7px 27.6px,98.9px 32.6px,102.9px 37.8px,106.6px 43.1px,110.0px 48.7px,113.1px 54.4px,115.9px 60.3px,118.4px 66.3px,120.6px 72.5px,122.5px 78.8px,124.0px 85.1px,125.2px 91.5px,126.0px 98.0px,126.5px 104.5px,126.7px 111.0px,126.5px 117.5px,126.0px 124.0px,125.2px 130.5px,124.0px 136.9px,122.5px 143.2px,120.6px 149.5px,118.4px 155.7px,115.9px 161.7px,113.1px 167.6px,110.0px 173.3px,106.6px 178.9px,102.9px 184.2px,98.9px 189.4px,94.7px 194.4px,90.2px 199.1px,85.5px 203.6px,80.5px 207.8px,75.3px 211.8px,70.0px 215.5px,64.4px 218.9px)"><b><i style="background:#11b900"></i><i style="background:#11b900"></i><i style="background:#11b900"></i><i style="background:#11b900"></i><i style="background:#13b900"></i><i style="background:#14b900"></i><i style="--g:#15ba00,#19bb00 68px,#1abb00 129px"></i><i style="--g:#16ba00,#1abb00 68px,#1cbc00 129px"></i><i style="--g:#17ba00,#1bbb00 68px,#20bc00 100px,#20bc00 129px"></i><i style="--g:#19bb00,#1dbc00 69px,#22bd00 92px,#22bd00 129px"></i><i style="--g:#1abb00,#1ebc00 69px,#25be00 81px,#25be00 129px"></i><i style="--g:#1bbb00,#1fbc00 70px,#27bf00 81px,#27bf00 129px"></i><i style="--g:#1cbc00,#20bc00 70px,#29bf00 81px,#29bf00 129px"></i><i style="--g:#1ebc00,#20bd00 70px,#2dc000 82px,#2dc000 129px"></i><i style="--g:#1fbc00,#21bd00 71px,#2fc100 83px,#2fc100 129px"></i><i style="--g:#20bd00,#21bd00 71px,#31c100 84px,#31c100 129px"></i><i style="--g:#21bd00,#21bd00 71px,#33c200 85px,#33c200 129px"></i><i style="--g:#23bd00,#1ebc00 62px,#29bf00 77px,#35c200 86px,#35c200 129px"></i><i style="--g:#23bd00,#1fbc00 61px,#28bf00 76px,#3ac300 87px,#3ac300 129px"></i><i style="--g:#25be00,#21bd00 58px,#22bd00 72px,#3cc400 88px,#3cc400 129px"></i><i style="--g:#27be00,#24be00 56px,#20bc00 70px,#3bc400 86px,#3ec400 129px"></i><i style="--g:#27be00,#24be00 56px,#1fbc00 69px,#3ac300 86px,#40c500 91px,#40c500 129px"></i><i style="--g:#29bf00,#26be00 55px,#1dbc00 68px,#39c300 86px,#42c600 91px,#42c600 129px"></i><i style="--g:#29bf00,#25be00 55px,#1dbc00 68px,#3ac400 87px,#44c600 92px,#44c600 129px"></i><i style="--g:#2bc000,#29bf00 53px,#1bbb00 66px,#39c300 87px,#46c700 92px,#46c700 129px"></i><i style="--g:#2ec000,#2bc000 52px,#1abb00 65px,#36c300 86px,#49c700 93px,#49c700 129px"></i><i style="--g:#2dc000,#2bbf00 52px,#19bb00 65px,#38c300 87px,#4bc800 94px,#4bc800 129px"></i><i style="--g:#30c100,#2dc000 51px,#18ba00 64px,#26be00 76px,#45c600 92px,#4ec900 95px,#4ec900 129px"></i><i style="--g:#2fc100,#2cc000 51px,#17ba00 64px,#23bd00 75px,#38c300 86px,#4bc800 96px,#4bc800 129px"></i><i style="--g:#2ec000,#2cc000 51px,#15ba00 63px,#1fbc00 74px,#39c300 84px,#46c700 93px,#4ec900 96px,#4ec900 129px"></i><i style="--g:#29bf00,#28bf00 52px,#13b900 64px,#1ebc00 74px,#3cc400 83px,#44c600 93px,#50c900 97px,#50c900 129px"></i><i style="--g:#25be00,#22bd00 53px,#11b900 66px,#19bb00 73px,#41c500 83px,#43c600 93px,#50c900 98px,#50c900 129px"></i><i style="--g:#22bd00,#1ebc00 49px,#14b900 59px,#10b800 71px,#2bbf00 77px,#45c700 83px,#42c600 93px,#49c800 103px,#49c800 129px"></i><i style="--g:#1cbc00,#1abb00 48px,#0cb700 71px,#23bd00 76px,#48c700 82px,#49c800 87px,#41c500 93px,#42c600 129px"></i><i style="--g:#19bb00,#16ba00 47px,#0db700 55px,#0eb800 60px,#08b600 71px,#21bd00 76px,#4cc800 82px,#51ca00 86px,#3ac300 98px,#3bc400 129px"></i><i style="--g:#12b900,#0fb800 47px,#04b500 55px,#0ab700 61px,#01b400 70px,#17ba00 75px,#50c900 82px,#56cb00 86px,#33c200 97px,#34c200 129px"></i><i style="--g:#0fb800,#0bb700 46px,#00b402 51px,#02b500 59px,#04b500 64px,#01b400 72px,#24be00 77px,#52ca00 82px,#5ccd00 85px,#4dc800 90px,#2fc100 96px,#2dc000 129px"></i><i style="--g:#08b600,#08b600 45px,#00b505 49px,#00b608 57px,#00b401 64px,#00b506 71px,#05b500 74px,#5acc00 83px,#60ce00 86px,#4fc900 90px,#2abf00 96px,#26be00 103px,#26be00 129px"></i><i style="--g:#05b500,#05b500 44px,#00b60a 48px,#00b711 55px,#00b505 64px,#00b60a 71px,#00b401 74px,#26be00 78px,#5acc00 83px,#63ce00 86px,#57cb00 89px,#26be00 96px,#1ebc00 101px,#1fbc00 129px"></i><i style="--g:#03b500,#00b402 44px,#00b91a 52px,#00b710 60px,#00b60b 65px,#00b70d 72px,#00b401 75px,#59cc00 83px,#65cf00 86px,#58cc00 89px,#21bd00 96px,#16ba00 101px,#18ba00 129px"></i><i style="--g:#00b504,#00b504 43px,#0b2 51px,#00ba1d 58px,#00b812 66px,#00b812 72px,#00b400 76px,#54ca00 83px,#63ce00 86px,#58cc00 89px,#1dbc00 96px,#0fb800 101px,#11b900 129px"></i><i style="--g:#00b506,#00b506 42px,#00bd2c 50px,#00bd2d 55px,#00b919 65px,#00b815 73px,#01b400 77px,#4dc900 83px,#5fcd00 86px,#56cb00 89px,#12b900 97px,#07b600 102px,#0bb700 129px"></i><i style="--g:#00b70d,#00b70d 42px,#00bf39 50px,#00bf37 55px,#00bb21 64px,#00b91b 73px,#03b500 78px,#4dc900 84px,#58cc00 87px,#4bc800 90px,#0db700 97px,#00b400 102px,#03b500 129px"></i><i style="--g:#00b70f,#00b70f 41px,#00c245 49px,#00c349 53px,#00bc2a 63px,#00ba1e 74px,#03b500 79px,#41c500 84px,#4fc900 87px,#45c600 90px,#07b600 97px,#00b505 101px,#00b402 129px"></i><i style="--g:#00b70f,#00b70f 40px,#00c658 49px,#00c658 53px,#00bf35 61px,#00bb25 74px,#03b500 80px,#3ac400 85px,#44c600 88px,#2cc000 92px,#01b400 97px,#00b60a 103px,#00b507 129px"></i><i style="--g:#00b918,#00b918 40px,#00c966 48px,#00ca6a 52px,#00c03d 61px,#00bc29 75px,#00b401 81px,#2abf00 85px,#36c200 88px,#2bbf00 91px,#01b400 96px,#00b710 102px,#00b60b 129px"></i><i style="--g:#00b919,#00b919 39px,#00ca6a 46px,#00ce7a 49px,#00cc72 53px,#00c248 60px,#00bd2c 76px,#04b500 83px,#24be00 87px,#23bd00 90px,#00b400 95px,#00b814 101px,#00b70f 129px"></i><i style="--g:#00bb24,#00bb24 39px,#00cc73 45px,#00d389 48px,#00d389 51px,#00c450 60px,#00bf35 76px,#04b500 85px,#14b900 88px,#10b800 91px,#00b402 94px,#00b91a 101px,#00b815 129px"></i><i style="--g:#00bb23,#00bb23 38px,#00d286 45px,#00d89d 48px,#00d798 51px,#00c65b 59px,#00c34c 66px,#00bf39 77px,#00b402 87px,#00b503 92px,#00ba1f 101px,#00b918 119px,#00b918 129px"></i><i style="--g:#00be30,#00be30 38px,#00d48f 44px,#03ddaf 47px,#05ddb3 49px,#00d693 53px,#00cb6d 57px,#00c658 62px,#00c142 77px,#00b70d 88px,#00b710 93px,#00bb25 101px,#00ba1d 116px,#00ba1d 129px"></i><i style="--g:#00bd2e,#00bd2e 37px,#00dba5 44px,#0edfc2 46px,#14e1cd 48px,#0edfc2 50px,#00dca9 52px,#00ce7a 56px,#00c761 61px,#00c248 78px,#00b918 89px,#00ba1f 95px,#00bd2b 103px,#00ba1e 112px,#00ba1e 129px"></i><i style="--g:#00bc28,#00bc28 36px,#01dcac 43px,#17e2d2 45px,#21e4e5 47px,#1ee3de 49px,#00daa3 53px,#00cd77 57px,#00c865 62px,#00c450 78px,#00bb25 89px,#00bd2b 96px,#00be31 104px,#00ba1f 113px,#00ba1f 129px"></i><i style="--g:#00be32,#00be32 36px,#03ddb0 42px,#1ee3de 44px,#27e6ef 45px,#2cd9f0 47px,#28e6ef 49px,#00dba8 53px,#00d182 56px,#00cb6d 60px,#00c556 79px,#00be31 90px,#00bf35 104px,#0b2 112px,#0b2 129px"></i><i style="--g:#00bc2a,#00bc2a 35px,#03ddaf 41px,#22e4e5 43px,#2bdcf0 44px,#31c5f0 46px,#2fccf0 48px,#25e5eb 50px,#01dcab 53px,#00d285 56px,#00cc72 60px,#00c65c 80px,#00c03b 91px,#00c03c 103px,#00bb23 113px,#00bb23 129px"></i><i style="--g:#00be34,#00be34 35px,#00dba7 40px,#21e4e5 42px,#2cd7f0 43px,#36b7f0 45px,#37b2f0 46px,#33c0f0 48px,#28e5f0 50px,#02dcad 53px,#00d288 56px,#00cd76 60px,#00c75f 82px,#00c246 92px,#00c140 103px,#00bc27 113px,#00bc27 129px"></i><i style="--g:#00bd2b,#00bd2b 34px,#00d89e 39px,#0adfbc 40px,#1de3dd 41px,#2bdbf0 42px,#38aff0 44px,#3ba5f0 45px,#39abf0 47px,#2fcdf0 49px,#29e4f0 50px,#02ddae 53px,#00d38a 56px,#00ce78 61px,#00c865 83px,#00c44e 94px,#00c13f 105px,#00bc27 114px,#00bc27 129px"></i><i style="--g:#00be34,#00be34 34px,#02dcad 39px,#28e5f0 41px,#38b0f0 43px,#3ca0f0 44px,#3c9af0 45px,#3aa7f0 47px,#2fcef0 49px,#28e6f0 50px,#02dcad 53px,#00d48d 56px,#00cf7d 61px,#00c968 85px,#00c03e 107px,#00bd2b 114px,#00bd2b 129px"></i><i style="--g:#00bd2b,#00bd2b 33px,#00d185 37px,#00d99f 38px,#0cdfbf 39px,#20e4e2 40px,#2dd3f0 41px,#3ba3f0 43px,#3b97f0 44px,#3b95f0 45px,#3aa7f0 47px,#25e5eb 50px,#01dcab 53px,#00d48f 56px,#00d080 62px,#00ca6c 86px,#00c245 106px,#00bd2b 115px,#00bd2b 129px"></i><i style="--g:#0b2,#0b2 32px,#00c247 34px,#00dcab 38px,#28e5f0 40px,#38adf0 42px,#3c9df0 43px,#3b95f0 44px,#3c9ff0 46px,#2cd9f0 49px,#22e4e5 50px,#00dcaa 53px,#00d591 56px,#00d182 64px,#00cc70 87px,#00c44e 104px,#00bd2f 115px,#00bd2f 129px"></i><i style="--g:#00bc28,#00bc28 32px,#00d080 36px,#08deb7 38px,#1be3da 39px,#2bdbf0 40px,#39a9f0 42px,#3c9cf0 43px,#3b98f0 44px,#39a9f0 46px,#29e3f0 49px,#00dba8 53px,#00d490 57px,#00cf7e 79px,#00c863 98px,#00bd2f 116px,#00bd2f 129px"></i><i style="--g:#00ba1f,#00ba1f 31px,#00c142 33px,#00d9a1 37px,#20e4e2 39px,#2dd6f0 40px,#39abf0 42px,#3ca2f0 43px,#3ca1f0 44px,#35b7f0 46px,#2bddf0 48px,#22e5e6 49px,#00dba7 53px,#00d592 57px,#00ce78 89px,#00c450 106px,#00be33 116px,#00be33 129px"></i><i style="--g:#00bb25,#00bb25 31px,#00c349 33px,#00dba6 37px,#22e4e5 39px,#2dd6f0 40px,#37b2f0 42px,#38adf0 43px,#35baf0 45px,#2bdbf0 47px,#24e5e8 48px,#0bdfbc 51px,#00d9a0 54px,#00d490 61px,#00d07e 88px,#00c554 106px,#00bf36 116px,#00bf36 129px"></i><i style="--g:#00ba1c,#00ba1c 30px,#00c44f 33px,#00dca9 37px,#21e4e4 39px,#2bdaf0 40px,#33bef0 42px,#32c2f0 44px,#2bddf0 46px,#23e5e8 47px,#0adebb 50px,#00d9a0 54px,#00d591 63px,#00d184 87px,#00c555 107px,#00bf36 117px,#00bf36 129px"></i><i style="--g:#00ba20,#00ba20 30px,#00c554 33px,#00dcaa 37px,#1ee3de 39px,#29e4f0 40px,#2ecff0 42px,#2cd8f0 44px,#29e3f0 45px,#03ddaf 50px,#00d798 58px,#00d389 86px,#00c659 107px,#00c03a 117px,#00c03a 129px"></i><i style="--g:#00b918,#00b918 29px,#00c143 32px,#00dba7 37px,#22e4e5 40px,#27e6ef 41px,#28e6ef 43px,#01dcab 49px,#00d9a0 52px,#00d592 77px,#00d288 88px,#00c556 109px,#00c03a 118px,#00c03a 129px"></i><i style="--g:#00b711,#00b711 28px,#00be34 31px,#00daa2 37px,#18e2d4 40px,#1ce3dc 42px,#10e0c5 45px,#00dba6 48px,#00d79a 52px,#00d89c 57px,#00d48f 86px,#00c659 109px,#00c03d 118px,#00c03d 129px"></i><i style="--g:#00b814,#00b814 28px,#00bf36 31px,#00dcaa 38px,#0ddfc1 40px,#0fe0c4 42px,#00d9a0 47px,#00d693 51px,#00d89c 57px,#00d693 85px,#00c659 110px,#00c141 118px,#00c141 129px"></i><i style="--g:#00b70e,#00b70e 27px,#00bf36 31px,#00d592 37px,#01dcac 40px,#00dca9 43px,#00d48d 49px,#00d696 55px,#00d799 60px,#00d798 83px,#00c864 108px,#00c140 119px,#00c140 129px"></i><i style="--g:#00b70f,#00b70f 27px,#00bf35 31px,#00cf7d 36px,#00d797 39px,#00d79a 42px,#00d183 49px,#00d694 56px,#00d89d 78px,#00d48e 91px,#00c659 112px,#00c244 119px,#00c244 129px"></i><i style="--g:#00b609,#00b609 26px,#00be33 31px,#00cc74 36px,#00d287 39px,#00d286 43px,#00ce79 49px,#00d591 57px,#00d99e 79px,#00d48e 92px,#00c659 113px,#00c143 120px,#00c143 129px"></i><i style="--g:#00b505,#00b505 25px,#00bb25 30px,#00c969 36px,#00ce79 40px,#00cb6e 49px,#00d288 57px,#00d592 61px,#00d9a0 79px,#00d591 92px,#00c659 114px,#00c246 120px,#00c246 129px"></i><i style="--g:#00b504,#00b504 25px,#00bc29 31px,#00c761 37px,#00c968 41px,#00c760 48px,#00ce79 56px,#00d48d 61px,#00daa2 78px,#00d696 91px,#00c659 115px,#00c34a 120px,#00c34a 129px"></i><i style="--g:#02b400,#00b503 25px,#0b2 31px,#00c34c 37px,#00c450 42px,#00c34c 48px,#00c969 55px,#00d288 61px,#00daa3 77px,#00d89b 90px,#00c658 116px,#00c349 121px,#00c349 129px"></i><i style="--g:#06b600,#06b600 24px,#00b70e 29px,#00bf37 37px,#00bf39 49px,#00c658 55px,#00d183 62px,#00daa3 76px,#00d9a0 89px,#00c658 117px,#00c34c 121px,#00c34c 129px"></i><i style="--g:#10b800,#0db700 24px,#00b505 29px,#00bb21 37px,#00ba1e 48px,#00c03b 54px,#00cf7c 62px,#00daa3 75px,#00daa4 87px,#00c862 115px,#00c44f 121px,#00c44f 129px"></i><i style="--g:#17ba00,#15ba00 24px,#00b505 33px,#00b506 40px,#00b503 48px,#00b91b 53px,#00c555 59px,#00cd74 62px,#00d9a1 74px,#00dba8 85px,#00d591 98px,#00c556 119px,#00c44f 123px,#00c44f 129px"></i><i style="--g:#22bd00,#1dbc00 27px,#16ba00 36px,#2dc000 46px,#1dbc00 50px,#00b400 53px,#00be33 58px,#00c968 62px,#00d798 71px,#00dcab 80px,#00daa1 92px,#00c659 119px,#00c452 123px,#00c452 129px"></i><i style="--g:#2cc000,#30c100 27px,#3dc400 36px,#5fcd00 45px,#54ca00 49px,#2dc000 53px,#00b402 56px,#00c968 63px,#00d89a 72px,#02ddae 81px,#00daa2 93px,#00c659 120px,#00c555 129px"></i><i style="--g:#37c300,#39c300 22px,#61ce00 35px,#94db00 44px,#90da00 48px,#78d400 51px,#3cc400 55px,#00b503 58px,#00c967 64px,#00d79a 72px,#04ddb0 81px,#00daa4 93px,#00c658 122px,#00c658 129px"></i><i style="--g:#41c500,#45c600 21px,#8dda00 35px,#ade100 43px,#ade100 48px,#9bdd00 52px,#92db00 53px,#55cb00 56px,#06b500 59px,#00bf36 62px,#00c75d 64px,#00d48e 70px,#03ddae 78px,#04ddb1 87px,#00cd76 112px,#00c557 123px,#00c557 129px"></i><i style="--g:#50c900,#50c900 20px,#86d800 28px,#9add00 31px,#cbe800 44px,#c6e700 49px,#a3df00 54px,#9d0 55px,#47c700 58px,#09b600 60px,#00b710 61px,#00c862 65px,#00d693 71px,#05ddb3 79px,#05ddb3 88px,#00cd76 113px,#00c65a 123px,#00c65a 129px"></i><i style="--g:#5acc00,#5acc00 19px,#9add00 27px,#e8ee00 43px,#e7ee00 48px,#cee900 52px,#a1de00 56px,#8fda00 57px,#04b500 61px,#00c65a 65px,#00d184 69px,#00dca8 75px,#09deb9 82px,#00dcaa 94px,#00c75d 123px,#00c75d 129px"></i><i style="--g:#6cd100,#6cd100 19px,#9d0 24px,#f1ed00 39px,#f4de00 45px,#f1e900 50px,#e8ee00 52px,#a4df00 57px,#92db00 58px,#1dbc00 61px,#00b506 62px,#00c864 66px,#00d89a 72px,#08deb9 79px,#07deb7 89px,#00d798 102px,#00c75f 123px,#00c75f 129px"></i><i style="--g:#76d400,#76d400 18px,#97dc00 21px,#dfec00 32px,#f1ec00 35px,#f8ca00 43px,#f7ce00 48px,#f1ed00 53px,#c6e700 56px,#a3df00 58px,#89d900 59px,#0ab700 62px,#00b815 63px,#00c761 66px,#00d695 71px,#09deb9 78px,#0adfbc 87px,#00dba7 97px,#00c75e 124px,#00c75e 129px"></i><i style="--g:#7fd600,#7fd600 17px,#97dc00 19px,#c6e700 26px,#f0f000 31px,#fab500 42px,#fab600 47px,#f5d500 52px,#f1e900 54px,#e9ef00 55px,#9cdd00 59px,#47c700 61px,#1abb00 62px,#00b60c 63px,#00c75d 66px,#00d184 69px,#03ddb0 75px,#0ddfc0 81px,#07deb6 93px,#00d89c 102px,#00c761 124px,#00c761 129px"></i><i style="--g:#94dc00,#94dc00 17px,#d0e900 25px,#edef00 28px,#faaa00 39px,#fa9b00 44px,#faa600 48px,#f6d200 53px,#f1ea00 55px,#e5ee00 56px,#a5df00 59px,#86d800 60px,#25be00 62px,#00b506 63px,#00c65b 66px,#00ce7b 68px,#00dba6 73px,#0cdfc0 79px,#0cdfbf 89px,#01dcad 97px,#00c864 124px,#00c864 129px"></i><i style="--g:#9d0,#9d0 16px,#cfe900 23px,#eef000 26px,#faa500 36px,#fa8800 42px,#fa8b00 46px,#faa500 50px,#f0f000 56px,#92db00 60px,#2bc000 62px,#00b503 63px,#00c65b 66px,#00cf7d 68px,#00dca8 73px,#0edfc2 79px,#0ddfc1 89px,#03ddb0 97px,#00c866 124px,#00c866 129px"></i><i style="--g:#a2df00,#a2df00 16px,#d6ea00 22px,#edef00 24px,#faa800 33px,#f77700 40px,#f57100 44px,#fa8600 48px,#fab000 52px,#f1ea00 56px,#c7e700 58px,#97dc00 60px,#2cc000 62px,#00b504 63px,#00c75d 66px,#00d07f 68px,#00dcab 73px,#0ee0c3 78px,#10e0c6 87px,#07deb6 96px,#00d89b 105px,#00c968 124px,#00c968 129px"></i><i style="--g:#a5df00,#a5df00 15px,#dcec00 21px,#f1ed00 23px,#fa9300 33px,#f26400 39px,#ef5d00 43px,#f56f00 47px,#faa800 52px,#f2e700 56px,#e3ed00 57px,#96dc00 60px,#28bf00 62px,#00b507 63px,#00c75f 66px,#00d182 68px,#02ddae 73px,#10e0c6 78px,#11e0c8 87px,#08deb9 96px,#00d9a0 104px,#00c967 125px,#00c967 129px"></i><i style="--g:#afe200,#afe200 15px,#eef000 21px,#faa800 29px,#f46c00 35px,#ec5100 39px,#eb4e00 43px,#f16400 47px,#faa400 52px,#f2e700 56px,#e2ed00 57px,#8fda00 60px,#20bd00 62px,#00b60c 63px,#00c863 66px,#00d591 69px,#05ddb2 73px,#11e0c9 78px,#13e1ca 87px,#0adfbc 96px,#00daa2 104px,#00c968 125px,#00c968 129px"></i><i style="--g:#b0e200,#b0e200 14px,#f0ef00 20px,#fa9700 29px,#ee5800 35px,#e84300 39px,#e84300 43px,#ef5c00 47px,#fa9300 51px,#f1e900 56px,#deec00 57px,#a8e000 59px,#83d700 60px,#15ba00 62px,#00b813 63px,#00c968 66px,#00d695 69px,#07deb6 73px,#13e1cc 78px,#13e1cc 88px,#0adebb 97px,#00daa1 105px,#00ca6a 125px,#00ca6a 129px"></i><i style="--g:#b1e200,#b1e200 13px,#f1ed00 19px,#fa9d00 27px,#f16400 32px,#e84300 36px,#e43900 41px,#e94600 45px,#f26500 48px,#fa9400 51px,#f0ee00 56px,#a0de00 59px,#72d200 60px,#05b500 62px,#00c557 65px,#00d48d 68px,#06ddb4 72px,#14e1cc 77px,#16e1d0 86px,#0ddfc2 96px,#00daa3 105px,#00ca6c 125px,#00ca6c 129px"></i><i style="--g:#bbe400,#bbe400 13px,#e8ee00 17px,#f3e100 19px,#fa8500 28px,#eb4c00 33px,#e33700 37px,#e43900 43px,#eb4d00 46px,#f77700 49px,#f7cf00 54px,#e8ee00 56px,#95dc00 59px,#24be00 61px,#00b60a 62px,#00c761 65px,#00d99f 69px,#0fe0c5 74px,#18e2d4 80px,#11e0c8 95px,#00daa3 106px,#00cb6e 125px,#00cb6e 129px"></i><i style="--g:#bae400,#bae400 12px,#e8ee00 16px,#f3e100 18px,#fa8300 27px,#ea4a00 32px,#e23500 36px,#e23600 42px,#e94600 45px,#f46c00 48px,#fab200 52px,#f1eb00 55px,#bee500 57px,#a3df00 58px,#79d400 59px,#0cb700 61px,#00b919 62px,#00ca6a 65px,#00daa4 69px,#12e0c9 74px,#19e2d7 81px,#11e0c7 96px,#00daa4 106px,#00cb70 125px,#00cb70 129px"></i><i style="--g:#c3e600,#c3e600 12px,#e8ee00 15px,#f1eb00 16px,#fa9900 24px,#f36a00 28px,#e84200 32px,#e03300 36px,#e33700 42px,#ea4b00 45px,#f67600 48px,#f6d000 53px,#f3e300 54px,#e7ee00 55px,#93db00 58px,#23bd00 60px,#00b60a 61px,#00c761 64px,#00d89d 68px,#0bdfbd 71px,#18e2d4 76px,#19e2d6 86px,#12e1ca 96px,#00dba5 106px,#00cb6f 126px,#00cb6f 129px"></i><i style="--g:#bfe500,#bfe500 11px,#f1ec00 15px,#fa9b00 23px,#f16100 28px,#e63d00 32px,#df3200 38px,#e74000 43px,#f16100 46px,#fa9300 49px,#f4dd00 53px,#f0f000 54px,#9dde00 57px,#03b500 60px,#00c556 63px,#00cf7c 65px,#03ddb0 69px,#12e0c9 72px,#1ce3db 78px,#14e1cd 95px,#00daa3 107px,#00cc71 126px,#00cc71 129px"></i><i style="--g:#bae400,#bae400 10px,#f0ef00 14px,#fa9d00 22px,#f26600 27px,#e63c00 32px,#e13400 38px,#e74000 42px,#f06000 45px,#fa9100 48px,#f1ec00 53px,#a4df00 56px,#7cd500 57px,#11b900 59px,#00b815 60px,#00ca6c 63px,#02dcad 67px,#18e2d4 70px,#25e5eb 75px,#1ce3dc 84px,#11e0c7 97px,#00daa4 107px,#00cc73 126px,#00cc73 129px"></i><i style="--g:#c3e600,#c3e600 10px,#ecef00 13px,#fab200 19px,#f77800 25px,#e84200 31px,#e23600 36px,#e63e00 40px,#ed5600 43px,#fa9200 47px,#f1ea00 52px,#c2e600 54px,#a8e000 55px,#7bd500 56px,#2fc100 57px,#00b70e 58px,#00c65b 60px,#00d288 62px,#00dba8 64px,#1ee3de 68px,#28e6f0 70px,#2dd4f0 75px,#26e5ec 79px,#1ee4df 82px,#11e0c8 97px,#00dba5 107px,#00cd75 126px,#00cd75 129px"></i><i style="--g:#bce400,#bce400 9px,#e7ee00 12px,#f1e900 13px,#fab400 18px,#f77700 25px,#ea4a00 30px,#e53b00 34px,#e73f00 38px,#ef5c00 42px,#fa9500 46px,#f0ee00 51px,#a4df00 53px,#63ce00 54px,#18ba00 55px,#00ba1e 56px,#00c969 58px,#00dba5 61px,#20e4e2 65px,#2ae0f0 67px,#32c4f0 72px,#33bff0 75px,#25e5eb 80px,#20e4e2 81px,#11e0c9 97px,#00daa3 108px,#00cd76 126px,#00cd76 129px"></i><i style="--g:#c4e600,#c4e600 9px,#f1ed00 12px,#fab700 17px,#f77800 25px,#ec5000 30px,#e84400 35px,#ec5300 39px,#f57100 42px,#faab00 46px,#eef000 49px,#8fda00 51px,#3cc400 52px,#00b609 53px,#00c75d 55px,#00d48f 57px,#07deb7 59px,#24e5e9 62px,#2cd7f0 64px,#36b6f0 69px,#39aaf0 75px,#28e5f0 80px,#22e4e5 81px,#10e0c6 98px,#00daa4 108px,#00ce78 125px,#00ce78 129px"></i><i style="--g:#bce400,#bce400 8px,#eff000 11px,#f9c300 15px,#fa9c00 20px,#f67400 26px,#ed5400 31px,#ec5100 35px,#f26600 39px,#faa200 44px,#f8c800 46px,#f3e300 47px,#d5ea00 48px,#a5df00 49px,#45c600 50px,#00ba1f 51px,#00c555 52px,#00d48d 54px,#00daa3 55px,#1fe4e1 58px,#28e5f0 59px,#35b9f0 63px,#3c9ef0 69px,#3b97f0 75px,#2adff0 80px,#23e5e7 82px,#0ee0c3 99px,#00daa4 108px,#00ce79 125px,#00ce79 129px"></i><i style="--g:#c5e600,#c5e600 8px,#e8ee00 10px,#f5d900 12px,#faa700 18px,#fa8a00 24px,#f26400 30px,#f06100 34px,#f67500 38px,#faac00 43px,#f8c900 45px,#f3e100 46px,#d3ea00 47px,#9dde00 48px,#2abf00 49px,#00bf37 50px,#00cf7d 51px,#00dba5 52px,#24e5e9 55px,#30cbf0 57px,#3ca2f0 61px,#3b92f0 65px,#3b8ff0 75px,#30cbf0 79px,#25e5eb 81px,#0ee0c3 99px,#00daa1 109px,#00cf7d 123px,#00ce7a 129px"></i><i style="--g:#e6ee00,#e6ee00 7px,#f1ed00 9px,#fab300 16px,#fa9100 24px,#f67400 30px,#f67600 34px,#fa9600 39px,#f3e100 45px,#e4ed00 46px,#a9e000 47px,#39c300 48px,#00be34 49px,#00d07f 50px,#0bdfbd 51px,#2ae0f0 52px,#38aff0 55px,#3b98f0 57px,#3b8ff0 63px,#3b94f0 75px,#27e6ee 81px,#0ddfc0 100px,#00daa1 109px,#00d081 121px,#00cf7b 129px"></i><i style="--g:#f3e100,#f3e100 6px,#f8c800 11px,#fabf00 14px,#faaa00 21px,#fa8800 29px,#fa8c00 34px,#faaf00 39px,#f1eb00 44px,#e1ed00 45px,#c5e600 46px,#6dd100 47px,#00b919 48px,#00cc71 49px,#03ddb0 50px,#2adef0 51px,#3c9cf0 52px,#3b8ff0 56px,#3c9ff0 69px,#3ba2f0 75px,#28e5f0 81px,#0bdfbe 101px,#00d89d 110px,#00d081 120px,#00cf7c 129px"></i><i style="--g:#f9c500,#f9c200 7px,#fab500 9px,#f9c500 15px,#fab000 22px,#fa9900 29px,#faa200 34px,#f8c800 39px,#f1eb00 42px,#cee800 44px,#a3df00 46px,#1fbc00 47px,#00c34d 48px,#00d591 49px,#15e1cf 50px,#30caf0 51px,#3b98f0 52px,#3b92f0 53px,#3c9cf0 56px,#38acf0 61px,#38aff0 75px,#29e2f0 81px,#0cdfbe 101px,#00d9a1 109px,#00d183 118px,#00cf7b 129px"></i><i style="--g:#faad00,#faad00 5px,#fa9c00 8px,#faa800 11px,#f6d000 15px,#faae00 28px,#fab800 33px,#f4db00 38px,#f0f000 40px,#a4df00 44px,#89d800 45px,#5acc00 46px,#00b813 47px,#00c968 48px,#00d89c 49px,#17e2d3 50px,#2cd7f0 51px,#36b5f0 52px,#38adf0 53px,#34bcf0 58px,#35b9f0 74px,#2ed3f0 79px,#28e6f0 83px,#04ddb0 105px,#00d07f 117px,#00cd77 129px"></i><i style="--g:#fa8e00,#fa8e00 5px,#fa8200 7px,#faa500 8px,#fabf00 9px,#f0ee00 13px,#c6e700 16px,#cfe900 28px,#bce400 33px,#9bdd00 37px,#6cd100 39px,#12b900 42px,#00b609 43px,#00c349 46px,#00d696 48px,#08deb8 49px,#1be3d9 50px,#29e2f0 51px,#2fccf0 52px,#32c2f0 53px,#32c3f0 63px,#33c0f0 73px,#28e6f0 84px,#01dcac 105px,#00ce78 117px,#00cc72 129px"></i><i style="--g:#f57100,#f57100 4px,#f26700 5px,#f36b00 6px,#fab200 7px,#f2e400 8px,#d0e900 9px,#9bdd00 12px,#14b900 16px,#08b600 17px,#0bb700 22px,#00b506 28px,#00ba1e 33px,#00c450 38px,#00d9a1 46px,#03ddb0 47px,#1fe4e0 49px,#29e4f0 50px,#32c2f0 53px,#33c0f0 68px,#2adef0 80px,#24e5ea 85px,#01dcac 104px,#00cb70 117px,#00cb6d 129px"></i><i style="--g:#e94700,#e84200 5px,#fa9700 6px,#f2e700 7px,#9dde00 8px,#14b900 9px,#00b812 10px,#00c862 14px,#00d287 17px,#00dba6 34px,#28e5f0 47px,#33c1f0 51px,#35b8f0 54px,#32c1f0 69px,#27e6ef 82px,#01dcac 103px,#00ca6a 116px,#00c968 127px,#00c968 129px"></i><i style="--g:#de3000,#db2b00 4px,#e84300 5px,#fab700 6px,#bde500 7px,#00ba1e 8px,#00d592 9px,#00dcaa 10px,#26e6ed 16px,#2cd9f0 19px,#38adf0 54px,#35b9f0 68px,#28e6f0 80px,#01dcac 102px,#00d183 110px,#00c75d 117px,#00c863 129px"></i><i style="--g:#d52200,#d52300 4px,#ec5100 5px,#f8c600 6px,#9ede00 7px,#00cc71 8px,#32c3f0 9px,#39abf0 10px,#3ca0f0 28px,#3aa6f0 62px,#37b2f0 68px,#28e4f0 78px,#01dcac 101px,#00d183 109px,#00c553 116px,#00c450 120px,#00c65c 128px,#00c65c 129px"></i><i style="--g:#ce1800,#d11c00 4px,#e84400 5px,#fabc00 6px,#abe100 7px,#00c658 8px,#28e6f0 9px,#35b9f0 10px,#33bff0 23px,#32c3f0 32px,#3ca1f0 57px,#3ba3f0 67px,#28e6f0 77px,#00dca9 101px,#00d185 108px,#00c246 116px,#00c245 120px,#00c555 127px,#00c555 129px"></i><i style="--g:#cf1900,#d01b00 4px,#d92800 5px,#fa9a00 6px,#ebef00 7px,#47c700 8px,#00c450 9px,#00cb6d 10px,#03ddaf 18px,#11e0c7 20px,#16e1d0 24px,#21e4e3 34px,#29e1f0 39px,#36b4f0 53px,#3ba3f0 67px,#2ed2f0 74px,#29e3f0 76px,#00daa2 102px,#00d07f 108px,#00c13f 115px,#00bf36 118px,#00c44e 127px,#00c44e 129px"></i><i style="--g:#cf1900,#d01b00 5px,#ef5a00 6px,#fab400 7px,#edef00 8px,#b1e200 9px,#9bdd00 11px,#70d200 13px,#00b503 17px,#00c864 21px,#00dba6 35px,#27e6ee 45px,#31c5f0 52px,#38adf0 67px,#2fcdf0 73px,#27e6ee 76px,#0cdfbf 92px,#00d99e 102px,#00ce7a 108px,#00be32 115px,#00bc2a 118px,#00c247 126px,#00c247 129px"></i><i style="--g:#ce1800,#d01b00 6px,#ee5900 7px,#fa9800 8px,#fab800 9px,#f6d300 13px,#f1ea00 15px,#e7ee00 16px,#9fde00 20px,#62ce00 22px,#24be00 26px,#04b500 28px,#00cb6e 38px,#01dcac 46px,#25e5eb 55px,#2cd8f0 59px,#33bef0 67px,#2fcff0 72px,#28e5f0 75px,#1fe4e0 78px,#00daa3 100px,#00d184 106px,#00c760 110px,#00bd2e 114px,#00ba1f 117px,#00bd2c 121px,#00c141 126px,#00c141 129px"></i><i style="--g:#ce1800,#d01a00 7px,#d72500 8px,#e63e00 9px,#ec5100 12px,#f56f00 14px,#fabe00 18px,#f1e900 21px,#ddec00 23px,#dfec00 27px,#9cdd00 33px,#73d300 35px,#01b400 40px,#00c969 48px,#03ddae 58px,#21e4e3 66px,#1ee3de 72px,#10e0c7 77px,#0cdfbf 89px,#00d99f 100px,#00d080 106px,#00c557 110px,#00bb23 114px,#00b815 117px,#00bb23 121px,#00c03a 126px,#00c03a 129px"></i><i style="--g:#cd1600,#d11c00 10px,#d62300 12px,#e84300 14px,#fa8f00 17px,#fab800 19px,#ebef00 23px,#e8ee00 29px,#d6ea00 33px,#95dc00 39px,#18ba00 45px,#06b600 46px,#00b814 48px,#00c556 55px,#00d38a 64px,#00daa2 68px,#00dba5 73px,#00d89b 77px,#00d99e 95px,#00d38c 103px,#00ca6a 108px,#00b91a 114px,#00b60b 117px,#00ba1c 121px,#00be34 126px,#00be34 129px"></i><i style="--g:#cc1600,#d01b00 11px,#d62400 13px,#eb4e00 15px,#fa8800 17px,#faaf00 19px,#f2e800 23px,#eaef00 24px,#f1ec00 30px,#daeb00 37px,#c5e700 40px,#97dc00 45px,#1cbb00 52px,#00b401 54px,#00c142 63px,#00cc72 72px,#00d185 94px,#00ce78 103px,#00c761 107px,#00b70d 114px,#00b401 117px,#00b814 121px,#00bd2e 126px,#00bd2e 129px"></i><i style="--g:#cb1400,#cf1a00 12px,#d82700 14px,#e63c00 15px,#f87a00 17px,#fab800 20px,#f1ec00 24px,#ebef00 25px,#f2e400 32px,#edef00 37px,#d8eb00 44px,#94dc00 52px,#3cc400 58px,#03b500 63px,#00c34c 78px,#00c967 89px,#00ca6a 100px,#00c65a 105px,#00bc29 110px,#02b500 114px,#10b800 116px,#08b600 119px,#00b608 121px,#00ba1f 125px,#00ba1f 129px"></i><i style="--g:#cb1300,#cf1900 13px,#d21e00 14px,#db2b00 15px,#fa8100 18px,#f9c100 21px,#f1e900 24px,#eaef00 26px,#f3e300 30px,#f4dc00 34px,#edef00 43px,#daeb00 50px,#8fda00 60px,#34c200 68px,#00b503 74px,#00be34 85px,#00c44e 97px,#00c245 104px,#00bb21 109px,#00b503 112px,#1cbc00 115px,#1dbc00 118px,#00b504 122px,#00b814 125px,#00b814 129px"></i><i style="--g:#ca1200,#ce1800 14px,#d21d00 15px,#ea4b00 17px,#fa8600 19px,#f8c900 22px,#f1e900 24px,#e8ee00 25px,#d8eb00 26px,#f0ef00 28px,#f6d100 35px,#eff000 49px,#ddec00 56px,#93db00 68px,#21bd00 79px,#02b500 83px,#00bd2b 96px,#00bd2d 103px,#00b917 108px,#03b500 111px,#24be00 114px,#2dc000 117px,#13b900 121px,#01b400 123px,#00b609 126px,#00b609 129px"></i><i style="--g:#c91100,#cb1400 14px,#d21e00 16px,#ec5100 18px,#fa8c00 20px,#f2e400 24px,#eaef00 25px,#c7e700 27px,#e6ee00 29px,#f1eb00 30px,#f8c700 36px,#eff000 56px,#e1ed00 62px,#8eda00 76px,#3fc500 84px,#03b500 93px,#00b812 102px,#00b608 107px,#04b500 109px,#32c100 114px,#38c300 117px,#20bd00 121px,#04b500 125px,#04b500 129px"></i><i style="--g:#c81000,#cb1300 15px,#d42200 17px,#ee5700 19px,#fa9200 21px,#f1ec00 25px,#c4e600 27px,#bce400 28px,#ebef00 31px,#f8c600 36px,#fabe00 38px,#f2e800 57px,#ecef00 67px,#8dda00 83px,#41c500 92px,#16ba00 100px,#0fb800 105px,#25be00 110px,#42c600 115px,#3fc500 118px,#14b900 125px,#14b900 129px"></i><i style="--g:#c80f00,#ca1300 16px,#cd1700 17px,#d72600 18px,#e63e00 19px,#f97e00 21px,#f3df00 25px,#e9ee00 26px,#b2e200 28px,#b2e200 29px,#f0ef00 33px,#f9c100 37px,#fab200 39px,#f4de00 57px,#ecef00 73px,#a7e000 85px,#8bd900 90px,#49c700 99px,#33c200 105px,#3bc400 110px,#4dc900 116px,#3ac300 121px,#24bd00 125px,#24bd00 129px"></i><i style="--g:#c70e00,#ca1200 17px,#cd1700 18px,#e84400 20px,#fa8500 22px,#f7cf00 25px,#f2e600 26px,#ddec00 27px,#a2df00 29px,#b7e300 31px,#e9ee00 34px,#f4dc00 36px,#faaa00 40px,#f5d700 59px,#ecef00 78px,#a2df00 92px,#8fda00 96px,#5bcc00 104px,#51c900 109px,#56cb00 117px,#34c200 126px,#34c200 129px"></i><i style="--g:#c70d00,#c70e00 17px,#ce1800 19px,#ea4900 21px,#fa8a00 23px,#f5d500 26px,#f1ec00 27px,#95dc00 30px,#f0ee00 36px,#faa700 41px,#fa9f00 42px,#f8ca00 57px,#ecef00 82px,#9add00 100px,#6dd100 108px,#58cb00 120px,#44c600 126px,#44c600 129px"></i><i style="--g:#c60c00,#c70e00 18px,#d11c00 20px,#ec4f00 22px,#fa9000 24px,#f4db00 27px,#ecef00 28px,#a6df00 30px,#8dda00 31px,#daeb00 36px,#edef00 37px,#fabc00 41px,#fa9d00 43px,#fa9d00 45px,#f9c400 59px,#f1ed00 83px,#deec00 90px,#9add00 105px,#75d300 113px,#54ca00 126px,#54ca00 129px"></i><i style="--g:#c60c00,#c80e00 19px,#ca1200 20px,#d32000 21px,#ed5500 23px,#fa9500 25px,#f3e100 28px,#e3ed00 29px,#9add00 31px,#86d800 32px,#d4ea00 37px,#e6ee00 38px,#f1ea00 39px,#fa9f00 44px,#fa9800 47px,#fac000 62px,#eeef00 89px,#d0e900 97px,#7ed500 116px,#65cf00 126px,#65cf00 129px"></i><i style="--g:#c60b00,#c80f00 20px,#ca1300 21px,#e53b00 23px,#f97d00 25px,#f7cf00 28px,#f2e700 29px,#daeb00 30px,#8ad900 32px,#80d600 33px,#cee800 38px,#f1ed00 40px,#faa400 45px,#fa9600 49px,#fabf00 68px,#ecef00 93px,#bee500 104px,#98dd00 113px,#78d400 125px,#78d400 129px"></i><i style="--g:#c50b00,#c80f00 21px,#cb1400 22px,#e74100 24px,#fa8300 26px,#f6d400 29px,#f1ed00 30px,#ade100 32px,#79d400 33px,#7bd500 34px,#cae700 39px,#f0f000 41px,#fa9d00 47px,#fa9500 53px,#f7cd00 79px,#ebef00 96px,#9cdd00 115px,#8ad900 126px,#8ad900 129px"></i><i style="--g:#c50b00,#c60c00 21px,#ce1800 23px,#e94700 25px,#fa8700 27px,#f5d800 30px,#eeef00 31px,#a4df00 33px,#79d400 34px,#79d400 35px,#91db00 37px,#ecef00 42px,#faab00 47px,#fa9e00 48px,#fa9300 56px,#f3e100 92px,#edef00 98px,#a3df00 116px,#98dd00 128px,#98dd00 129px"></i><i style="--g:#c50b00,#c60c00 22px,#c91000 23px,#d01b00 24px,#eb4d00 26px,#fa8b00 28px,#f4dd00 31px,#e6ee00 32px,#78d400 35px,#7fd600 37px,#e8ee00 43px,#f4db00 45px,#fa9e00 49px,#fa8f00 58px,#f3df00 94px,#eaef00 101px,#aee100 115px,#a0de00 127px,#a0de00 129px"></i><i style="--g:#c50b00,#c70d00 23px,#c91000 24px,#e13400 26px,#fa9000 29px,#f3e100 32px,#dfec00 33px,#90da00 35px,#78d400 36px,#7cd500 38px,#e4ed00 44px,#f1eb00 45px,#faa000 50px,#fa8d00 61px,#f6d400 93px,#eff000 102px,#b8e400 114px,#a8e000 127px,#a8e000 129px"></i><i style="--g:#c50a00,#c70d00 24px,#c91100 25px,#e33800 27px,#f77900 29px,#f8ca00 32px,#f2e500 33px,#d9eb00 34px,#b1e200 35px,#7dd500 36px,#78d400 39px,#f1ed00 46px,#faa200 51px,#fa9700 54px,#fa8b00 64px,#f9c500 91px,#eef000 104px,#bde500 115px,#aee100 127px,#aee100 129px"></i><i style="--g:#c50a00,#c70e00 25px,#cb1400 26px,#e63c00 28px,#f97f00 30px,#f7ce00 33px,#f2e800 34px,#d2e900 35px,#aae000 36px,#78d400 37px,#78d400 40px,#92db00 42px,#f0ef00 47px,#faa400 52px,#fa9800 54px,#fa8800 67px,#fabb00 91px,#edef00 106px,#c4e600 115px,#b6e300 126px,#b6e300 129px"></i><i style="--g:#c50a00,#c70e00 26px,#cd1700 27px,#e74100 29px,#fa8500 31px,#f6d200 34px,#f1ec00 35px,#78d400 38px,#78d400 41px,#7fd600 42px,#f0f000 48px,#fa9900 54px,#fa8500 69px,#faae00 90px,#f0f000 107px,#c9e700 116px,#bce400 125px,#bce400 129px"></i><i style="--g:#c50a00,#c60c00 26px,#c80f00 27px,#dc2d00 29px,#e94500 30px,#fa8a00 32px,#f5d600 35px,#f0f000 36px,#7ad400 39px,#7cd500 43px,#edef00 49px,#faa600 54px,#fa9800 55px,#fa8400 70px,#faa100 89px,#f0ee00 108px,#cce800 118px,#c2e600 126px,#c2e600 129px"></i><i style="--g:#c50a00,#c60c00 27px,#c80f00 28px,#de3000 30px,#ea4a00 31px,#fa8e00 33px,#f4da00 36px,#ebef00 37px,#97dc00 39px,#7cd500 40px,#79d400 44px,#d6ea00 49px,#ecef00 50px,#fab700 54px,#fa9600 56px,#fa8400 70px,#fa8d00 84px,#faa500 93px,#f0ef00 110px,#cee900 120px,#c8e700 127px,#c8e700 129px"></i><i style="--g:#c50a00,#c70d00 28px,#c91100 29px,#e03300 31px,#fa9200 34px,#f4de00 37px,#e5ee00 38px,#bce400 39px,#89d900 40px,#78d400 42px,#78d400 45px,#c0e500 49px,#eaef00 51px,#f8c800 54px,#fa9500 57px,#fa8300 70px,#fa8100 80px,#fa9300 91px,#f2e600 109px,#ebef00 113px,#cee800 124px,#cee800 129px"></i><i style="--g:#c50a00,#c70d00 29px,#cb1300 30px,#e23600 32px,#f77700 34px,#fab200 36px,#f3e100 38px,#e0ec00 39px,#8cd900 41px,#78d400 43px,#78d400 46px,#95dc00 48px,#e9ee00 52px,#f5d700 54px,#fa9400 58px,#fa8300 69px,#f87b00 83px,#fa9200 93px,#f2e400 110px,#ebef00 115px,#d6ea00 123px,#d6ea00 129px"></i><i style="--g:#c50a00,#c70e00 30px,#d72500 32px,#e43900 33px,#f87c00 35px,#fab700 37px,#f2e500 39px,#dbeb00 40px,#b2e200 41px,#91db00 42px,#78d400 44px,#78d400 47px,#92db00 49px,#e8ee00 53px,#f5d700 55px,#fa9300 59px,#fa8300 68px,#f67500 85px,#fa8900 93px,#f4de00 110px,#ecef00 117px,#dcec00 123px,#dcec00 129px"></i><i style="--g:#c50a00,#c80e00 31px,#d92800 33px,#e63d00 34px,#f98000 36px,#faba00 38px,#f2e800 40px,#d6ea00 41px,#ade100 42px,#85d800 44px,#7ad400 45px,#78d400 48px,#7fd600 49px,#cfe900 53px,#e7ee00 54px,#f2e600 55px,#fa9200 60px,#fa8400 67px,#f46e00 86px,#fa8100 93px,#f4dc00 111px,#ecef00 119px,#e2ed00 124px,#e2ed00 129px"></i><i style="--g:#c50b00,#c60c00 31px,#c80f00 32px,#da2b00 34px,#e74000 35px,#fa8300 37px,#fabd00 39px,#f1eb00 41px,#d2e900 42px,#a9e000 43px,#7cd500 46px,#78d400 49px,#7ed500 50px,#cde800 54px,#e5ee00 55px,#f2e600 56px,#fa9000 61px,#fa8400 66px,#f36a00 88px,#f97d00 94px,#f6d300 110px,#eff000 120px,#e8ee00 125px,#e8ee00 129px"></i><i style="--g:#c50b00,#c70d00 32px,#c91100 33px,#dc2d00 35px,#e84300 36px,#fa8500 38px,#f5d700 41px,#f0ee00 42px,#a4df00 44px,#7ed500 47px,#78d400 50px,#7cd500 51px,#cce800 55px,#e4ed00 56px,#f2e700 57px,#fa8e00 62px,#fa8500 65px,#f26600 88px,#f57100 93px,#f9c500 108px,#f1ed00 120px,#f0ef00 129px"></i><i style="--g:#c50b00,#c70d00 33px,#d42100 35px,#e94600 37px,#fa8700 39px,#f4da00 42px,#eff000 43px,#a6e000 45px,#7fd600 48px,#78d400 50px,#7bd500 52px,#cbe800 56px,#e3ed00 57px,#f2e800 58px,#fa8b00 63px,#fa8300 67px,#f16300 88px,#f56f00 94px,#fabf00 108px,#f1e900 120px,#f1eb00 129px"></i><i style="--g:#c50b00,#c70e00 34px,#d62300 36px,#ea4900 38px,#fa8900 40px,#f4dd00 43px,#eaef00 44px,#c4e600 45px,#a8e000 46px,#78d400 50px,#79d400 53px,#cae800 57px,#e2ed00 58px,#f2e800 59px,#fa9d00 63px,#fa8a00 64px,#fa8300 67px,#f16200 89px,#f67400 96px,#f7cc00 112px,#f2e800 122px,#f2e800 129px"></i><i style="--g:#c50b00,#c80e00 35px,#e23600 38px,#eb4c00 39px,#fa8b00 41px,#f3e000 44px,#e6ee00 45px,#c0e500 46px,#a9e000 47px,#78d400 51px,#79d400 54px,#b3e200 57px,#e2ed00 59px,#f2e800 60px,#fa9c00 64px,#fa8900 65px,#f97f00 70px,#f06100 89px,#f57100 96px,#f9c300 111px,#f2e400 122px,#f2e400 129px"></i><i style="--g:#c50b00,#c60d00 35px,#c80f00 36px,#e43800 39px,#eb4f00 40px,#fa8d00 42px,#f3e200 45px,#e1ed00 46px,#bbe400 47px,#79d400 52px,#7ad400 55px,#b2e200 58px,#e2ed00 60px,#f2e800 61px,#fa8800 66px,#f06100 89px,#f56f00 96px,#fabf00 111px,#f4de00 121px,#f4de00 129px"></i><i style="--g:#c50b00,#c70d00 36px,#c91100 37px,#e53b00 40px,#f57100 42px,#f8c800 45px,#f2e400 46px,#ddec00 47px,#b7e300 48px,#96dc00 51px,#79d400 53px,#7ad400 56px,#b2e200 59px,#e3ed00 61px,#f2e800 62px,#fa8600 67px,#f16100 89px,#f46e00 96px,#fab500 110px,#f4da00 120px,#f4da00 129px"></i><i style="--g:#c60c00,#c70d00 37px,#d32000 39px,#e73e00 41px,#f67300 43px,#f8ca00 46px,#f2e500 47px,#d9eb00 48px,#b7e300 49px,#97dc00 52px,#79d400 54px,#7ad500 57px,#b2e200 60px,#e3ed00 62px,#f2e800 63px,#fa8500 68px,#f77900 74px,#f16300 90px,#f67300 97px,#f8ca00 116px,#f5d700 121px,#f5d700 129px"></i><i style="--g:#c60b00,#c70e00 38px,#de3100 41px,#ee5900 43px,#fa9300 45px,#f2e700 48px,#d5ea00 49px,#b8e400 50px,#98dc00 53px,#79d400 55px,#7ad500 58px,#b3e200 61px,#e3ed00 63px,#f2e700 64px,#fa8500 69px,#f87c00 71px,#f26500 90px,#f67300 97px,#f7cd00 118px,#f6d000 129px"></i><i style="--g:#c70d00,#c60c00 38px,#ce1800 40px,#e94600 43px,#fa9500 46px,#f1e900 49px,#d0e900 50px,#b9e400 51px,#98dd00 54px,#79d400 56px,#7bd500 59px,#b3e300 62px,#e4ed00 64px,#f2e700 65px,#fa8400 70px,#f87900 73px,#f36800 90px,#f77800 98px,#f7cd00 119px,#f7cd00 129px"></i><i style="--g:#c70d00,#c60d00 39px,#c80f00 40px,#e23600 43px,#f87b00 46px,#f7cf00 49px,#f1eb00 50px,#cde800 51px,#bae400 52px,#9d0 55px,#79d400 57px,#7bd500 60px,#b4e300 63px,#e4ed00 65px,#f2e600 66px,#fa8400 71px,#f77600 76px,#f46b00 91px,#f97e00 99px,#f8c900 119px,#f8c900 129px"></i><i style="--g:#c70d00,#c70d00 40px,#c91100 41px,#e43900 44px,#f97e00 47px,#f6d100 50px,#f1ec00 51px,#cae700 52px,#9d0 56px,#79d400 58px,#7bd500 61px,#b5e300 64px,#e6ee00 66px,#f2e600 67px,#fa9800 71px,#fa8500 72px,#f67500 76px,#f46e00 91px,#fa8300 100px,#f9c300 118px,#f9c300 129px"></i><i style="--g:#c80f00,#c60b00 29px,#c70e00 41px,#d31f00 43px,#e53b00 45px,#fa8100 48px,#f6d200 51px,#f0ee00 52px,#c7e700 53px,#9d0 57px,#79d400 59px,#7bd500 62px,#b6e300 65px,#e7ee00 67px,#f2e500 68px,#fa9800 72px,#fa8600 73px,#f67300 78px,#f57000 90px,#fa8500 100px,#f9c200 118px,#f9c200 129px"></i><i style="--g:#c80f00,#c60b00 30px,#c70e00 42px,#dd2f00 45px,#ed5400 47px,#fa8300 49px,#f6d400 52px,#f0f000 53px,#c9e700 54px,#9d0 58px,#79d400 60px,#7bd500 63px,#b7e300 66px,#e9ee00 68px,#f6d200 70px,#fa8600 74px,#f57100 80px,#f67500 92px,#fa9d00 107px,#fabe00 118px,#fabe00 129px"></i><i style="--g:#ca1200,#c80f00 29px,#c60c00 42px,#ce1700 44px,#e84200 47px,#fa8500 50px,#f5d600 53px,#edef00 54px,#cbe800 55px,#98dd00 59px,#79d400 61px,#7cd500 64px,#b9e400 67px,#eaef00 69px,#f6d100 71px,#fa9500 74px,#fa8700 75px,#f57000 81px,#f77800 93px,#faa400 109px,#fabc00 118px,#fabc00 129px"></i><i style="--g:#ca1200,#c80e00 30px,#c60d00 43px,#c80f00 44px,#e94600 48px,#fa8800 51px,#f5d800 54px,#e9ee00 55px,#cce800 56px,#79d400 62px,#7dd500 65px,#d3ea00 69px,#ecef00 70px,#faa900 74px,#fa9400 75px,#fa8800 76px,#f46e00 83px,#fa8900 100px,#fabb00 118px,#fabb00 129px"></i><i style="--g:#ca1100,#c70e00 31px,#c70d00 44px,#c91000 45px,#e33700 48px,#fa8a00 52px,#f4db00 55px,#e5ee00 56px,#cde800 57px,#79d400 63px,#7fd600 66px,#d5ea00 70px,#eff000 71px,#faa700 75px,#fa9200 76px,#fa8100 79px,#f46d00 84px,#fa9a00 106px,#fab700 117px,#fab700 129px"></i><i style="--g:#cc1500,#ca1100 31px,#c50a00 39px,#c70e00 45px,#d21e00 47px,#eb4d00 50px,#fa8d00 53px,#f4de00 56px,#e1ed00 57px,#b2e200 60px,#79d400 64px,#80d600 67px,#d8eb00 71px,#f0ef00 72px,#fa8f00 77px,#f57100 85px,#fa9a00 106px,#fab600 117px,#fab600 129px"></i><i style="--g:#cc1500,#c91100 32px,#c50a00 40px,#c70e00 46px,#d42100 48px,#e63c00 50px,#fa9100 54px,#f3e000 57px,#ddec00 58px,#82d700 64px,#79d400 65px,#7ad500 67px,#82d700 68px,#f0ee00 73px,#fa8d00 78px,#f67300 87px,#faa700 111px,#fab200 117px,#fab200 129px"></i><i style="--g:#ce1800,#cc1500 32px,#c50a00 37px,#c80e00 47px,#de3100 50px,#f36b00 53px,#fa9400 55px,#f3e300 58px,#ddec00 59px,#81d600 65px,#79d400 66px,#7ad500 68px,#84d700 69px,#ddec00 73px,#f1eb00 74px,#fa8d00 79px,#f67600 89px,#fab000 116px,#fab000 129px"></i><i style="--g:#ce1800,#cc1400 33px,#c50a00 38px,#c80f00 48px,#e13400 51px,#fa8400 55px,#fab200 57px,#f2e600 59px,#ddec00 60px,#7fd600 66px,#79d400 68px,#7ad400 69px,#9add00 71px,#e1ed00 74px,#f1e900 75px,#fa8d00 80px,#f77900 91px,#faaf00 116px,#faaf00 129px"></i><i style="--g:#d01b00,#ce1800 33px,#c50a00 38px,#c81000 49px,#ea4a00 53px,#fa8800 56px,#fab500 58px,#f1e900 60px,#cde800 62px,#7dd500 67px,#7ad400 70px,#9dde00 72px,#e4ed00 75px,#f2e700 76px,#fa9a00 80px,#fa8e00 81px,#f97d00 93px,#faab00 115px,#faab00 129px"></i><i style="--g:#d11c00,#ce1800 34px,#c50b00 38px,#c70e00 49px,#c91100 50px,#e53a00 53px,#fa8b00 57px,#f6d200 60px,#f1ec00 61px,#cce800 63px,#7bd500 68px,#79d400 71px,#b7e300 74px,#e8ee00 76px,#f6d200 78px,#fa9800 81px,#fa8e00 84px,#fa8100 95px,#faaa00 116px,#faaa00 129px"></i><i style="--g:#d11c00,#ce1800 35px,#c50b00 39px,#c70e00 50px,#cb1300 51px,#e73e00 54px,#fa8f00 58px,#f5d600 61px,#f0f000 62px,#cae800 64px,#79d400 69px,#7ad500 72px,#d3ea00 76px,#edef00 77px,#faaa00 81px,#fa9700 82px,#fa8400 97px,#faa700 115px,#faa700 129px"></i><i style="--g:#d32000,#d11c00 35px,#c60c00 39px,#c80f00 51px,#d62400 53px,#ee5800 56px,#fa9200 59px,#f4db00 62px,#ebef00 63px,#78d400 70px,#7dd500 73px,#f0ef00 78px,#fa9800 83px,#fa8700 99px,#faa500 115px,#faa500 129px"></i><i style="--g:#d42000,#d11c00 36px,#c60c00 40px,#c60c00 51px,#ce1800 53px,#e94700 56px,#fa8700 59px,#f3df00 63px,#e6ee00 64px,#84d700 70px,#78d400 71px,#79d400 73px,#81d600 74px,#f1ed00 79px,#fa9b00 84px,#fa8800 100px,#faa200 114px,#faa200 129px"></i><i style="--g:#d62400,#d42100 36px,#c60c00 41px,#c70d00 52px,#d01a00 54px,#ea4b00 57px,#fa9000 60px,#f3e300 64px,#e2ed00 65px,#93db00 70px,#81d600 71px,#78d400 72px,#79d400 74px,#84d700 75px,#e0ec00 79px,#f1eb00 80px,#faa600 84px,#fa9d00 86px,#fa8b00 102px,#faa000 114px,#faa000 129px"></i><i style="--g:#d72500,#d42100 37px,#c60b00 42px,#c70d00 53px,#c91000 54px,#db2c00 56px,#f67300 59px,#fabe00 63px,#f2e800 65px,#d1e900 67px,#7ed600 72px,#78d400 75px,#b5e300 78px,#e3ed00 80px,#f1e900 81px,#faa500 85px,#fa8e00 104px,#fa9d00 113px,#fa9d00 129px"></i><i style="--g:#da2900,#d72600 37px,#c70d00 42px,#c70e00 54px,#c91100 55px,#ec5200 58px,#fa8100 60px,#f9c500 64px,#f1ec00 66px,#cee800 68px,#7ad500 73px,#79d400 76px,#e7ee00 81px,#f2e600 82px,#faa600 86px,#fa8f00 105px,#fa9b00 113px,#fa9b00 129px"></i><i style="--g:#da2a00,#d82700 38px,#c70d00 43px,#c60c00 54px,#d31f00 56px,#f16300 59px,#fa9c00 62px,#f7cb00 65px,#f0f000 67px,#d9eb00 68px,#9cdd00 72px,#78d400 74px,#7dd500 77px,#ebef00 82px,#f9c400 85px,#faa800 87px,#fa9100 107px,#fa9800 115px,#fa9800 129px"></i><i style="--g:#dd2e00,#da2a00 39px,#c80e00 43px,#c60c00 53px,#dd2e00 57px,#fa8800 61px,#f6d200 66px,#ebef00 68px,#c8e700 70px,#78d400 75px,#78d400 77px,#81d600 78px,#eff000 83px,#fab100 87px,#fa9200 108px,#fa9400 129px"></i><i style="--g:#e13500,#df3100 39px,#c80f00 44px,#c70d00 52px,#df3200 57px,#e73e00 58px,#fa8500 61px,#f5d800 67px,#f2e800 68px,#e5ee00 69px,#80d600 75px,#78d400 76px,#78d400 78px,#9bdd00 80px,#f0ee00 84px,#fab000 88px,#fa9500 112px,#fa9500 129px"></i><i style="--g:#e43900,#e43900 39px,#c80f00 45px,#c70e00 51px,#e33800 57px,#ed5500 59px,#fa8300 61px,#faba00 65px,#f1ed00 69px,#a1df00 74px,#7cd500 76px,#78d400 79px,#e1ed00 84px,#f1eb00 85px,#fab200 89px,#fa9b00 111px,#fa9b00 129px"></i><i style="--g:#e84300,#e84300 39px,#c80e00 46px,#c50a00 49px,#e33700 56px,#ee5900 59px,#fa9200 62px,#f9c300 66px,#edef00 70px,#78d400 77px,#7dd500 80px,#e6ee00 85px,#f2e800 86px,#faba00 89px,#fa9f00 111px,#fa9f00 129px"></i><i style="--g:#ea4900,#ea4900 40px,#d31f00 45px,#c80e00 47px,#c80f00 49px,#e84100 56px,#f57000 60px,#faaf00 64px,#f1ec00 70px,#c4e600 73px,#98dc00 76px,#83d700 77px,#78d400 78px,#78d400 80px,#82d700 81px,#ecef00 86px,#fab900 90px,#faa400 110px,#faa400 129px"></i><i style="--g:#ed5600,#ed5600 40px,#e03300 44px,#cb1300 47px,#d42100 51px,#eb4c00 56px,#fa9400 62px,#f8c700 66px,#edef00 71px,#a2df00 76px,#7ed600 78px,#78d400 80px,#78d400 81px,#c6e700 85px,#f0f000 87px,#f9c400 90px,#faba00 93px,#faa900 110px,#faa900 129px"></i><i style="--g:#ef5c00,#ef5c00 41px,#da2a00 46px,#d11d00 48px,#de3000 52px,#ee5800 56px,#fa9000 61px,#f7cb00 66px,#f0ef00 71px,#9dde00 77px,#79d400 79px,#7cd500 82px,#e1ed00 87px,#f1ec00 88px,#fac000 91px,#faad00 109px,#faad00 129px"></i><i style="--g:#f16300,#f16300 42px,#e53a00 46px,#d82800 49px,#e74000 53px,#fa8a00 59px,#fabb00 64px,#f4de00 68px,#f1ed00 71px,#98dc00 78px,#83d700 79px,#78d400 80px,#78d400 82px,#82d700 83px,#e7ee00 88px,#f2e800 89px,#f9c300 92px,#fab200 109px,#fab200 129px"></i><i style="--g:#f57200,#f57200 42px,#e43900 49px,#e13500 50px,#ea4b00 53px,#fa9400 59px,#f4de00 67px,#f0ee00 71px,#a1de00 78px,#7ed500 80px,#78d400 83px,#ecef00 89px,#f8c900 92px,#fab600 108px,#fab600 129px"></i><i style="--g:#f87a00,#f87a00 43px,#ea4900 50px,#e94600 51px,#f56f00 55px,#fabe00 62px,#f1eb00 68px,#e4ed00 72px,#b5e300 77px,#9bdd00 79px,#78d400 81px,#7ed600 84px,#f0ef00 90px,#f8c900 93px,#fabc00 108px,#fabc00 129px"></i><i style="--g:#fa8b00,#fa8b00 43px,#ef5b00 51px,#ef5b00 52px,#fa9e00 58px,#f6d400 63px,#f0ee00 67px,#ddec00 71px,#ddec00 73px,#afe200 78px,#80d600 81px,#78d400 82px,#78d400 84px,#84d700 85px,#e4ed00 90px,#f1eb00 91px,#f6d100 93px,#f9c100 106px,#f9c100 129px"></i><i style="--g:#fa9400,#fa9400 44px,#f57000 52px,#f87d00 54px,#f5d900 62px,#f1ed00 65px,#d1e900 70px,#dcec00 73px,#b4e300 78px,#9cdd00 80px,#7bd500 82px,#7bd500 85px,#e9ee00 91px,#f4db00 93px,#f6d000 94px,#f8c600 107px,#f8c600 129px"></i><i style="--g:#fa9d00,#fa9d00 45px,#fa8500 52px,#fa8900 54px,#f5d700 61px,#f0ee00 63px,#c4e600 69px,#d7ea00 74px,#aee100 79px,#97dc00 81px,#82d700 82px,#78d400 83px,#78d400 85px,#81d600 86px,#eff000 92px,#f5d800 94px,#f7cb00 101px,#f8c900 129px"></i><i style="--g:#faac00,#faac00 45px,#fa9700 52px,#fa9e00 55px,#f1ec00 62px,#cde800 65px,#b6e300 68px,#d4ea00 74px,#bce400 78px,#9dde00 81px,#7dd500 83px,#79d400 86px,#87d800 87px,#cfe900 91px,#f0ee00 93px,#f5d600 95px,#f7ce00 107px,#f7ce00 129px"></i><i style="--g:#fab600,#fab200 47px,#faa800 53px,#fab400 56px,#f1ea00 61px,#e9ee00 62px,#b8e400 65px,#a9e000 67px,#d0e900 75px,#ade100 80px,#97dc00 82px,#83d700 83px,#78d400 84px,#78d400 86px,#7fd600 87px,#e6ee00 93px,#f1eb00 94px,#f5d800 96px,#f6d300 116px,#f6d300 129px"></i><i style="--g:#f9c400,#fac000 47px,#fab800 53px,#f9c100 56px,#ecef00 61px,#9dde00 66px,#cae800 75px,#bfe500 78px,#9ddd00 82px,#7ed600 84px,#78d400 87px,#84d700 88px,#a9e000 90px,#ebef00 94px,#f4dc00 96px,#f5d800 129px"></i><i style="--g:#f7cd00,#f8ca00 48px,#f8c900 54px,#f4de00 58px,#eff000 60px,#9fde00 65px,#9cdd00 67px,#c8e700 76px,#aae100 81px,#97dc00 83px,#83d700 84px,#78d400 85px,#7dd500 88px,#eff000 95px,#f3df00 97px,#f4dc00 129px"></i><i style="--g:#f5d900,#f5d600 48px,#f6d400 53px,#f2e700 58px,#f0f000 59px,#a3df00 64px,#9bdd00 68px,#c3e600 77px,#a5df00 82px,#7ed600 85px,#78d400 87px,#78d400 88px,#82d700 89px,#a5df00 91px,#f0ef00 96px,#f2e400 97px,#f3e100 129px"></i><i style="--g:#f3e200,#f3e100 53px,#edef00 58px,#a7e000 63px,#97dc00 68px,#bfe500 77px,#a8e000 82px,#97dc00 84px,#83d700 85px,#79d400 86px,#7bd500 89px,#87d800 90px,#aae000 92px,#f1ed00 97px,#f1ed00 129px"></i><i style="--g:#f1eb00,#f1ec00 54px,#eef000 56px,#c5e600 60px,#abe100 62px,#92db00 69px,#bbe400 78px,#a3df00 83px,#8cd900 85px,#78d400 87px,#78d400 89px,#80d600 90px,#aee100 93px,#d9eb00 96px,#d9eb00 129px"></i><i style="--g:#e8ee00,#ebef00 51px,#e7ee00 55px,#c5e600 59px,#afe200 61px,#8dda00 70px,#a6df00 74px,#b7e300 79px,#9ede00 84px,#96dc00 85px,#83d700 86px,#78d400 88px,#7ad500 90px,#84d700 91px,#9d0 92px,#c0e500 95px,#c0e500 129px"></i><i style="--g:#dfec00,#e0ed00 54px,#c5e600 58px,#b3e200 60px,#8ad900 71px,#9bdd00 73px,#b4e300 79px,#a0de00 84px,#8cd900 86px,#78d400 88px,#78d400 90px,#7ed600 91px,#aae000 94px,#aae000 129px"></i><i style="--g:#deec00,#daeb00 53px,#c5e700 57px,#b3e200 60px,#8eda00 70px,#88d800 72px,#9ede00 75px,#b0e200 80px,#9cdd00 85px,#94db00 86px,#83d700 87px,#78d400 89px,#79d400 91px,#82d700 92px,#97dc00 93px,#a1df00 94px,#a1df00 129px"></i><i style="--g:#d8eb00,#d4ea00 52px,#c6e700 56px,#a4df00 64px,#8eda00 70px,#82d700 72px,#85d700 73px,#9cdd00 76px,#ace100 80px,#9ede00 85px,#8bd900 87px,#78d400 89px,#7cd500 92px,#88d800 93px,#88d800 129px"></i><i style="--g:#d7ea00,#d7ea00 51px,#8eda00 70px,#7dd500 73px,#9bdd00 77px,#a9e000 81px,#9add00 86px,#7bd500 89px,#78d400 129px"></i><i style="--g:#d1e900,#d1e900 52px,#8eda00 70px,#77d400 74px,#9d0 78px,#a5df00 82px,#96dc00 87px,#78d400 90px,#78d400 129px"></i><i style="--g:#cbe800,#cbe800 53px,#8dda00 70px,#72d200 75px,#97dc00 79px,#a2df00 83px,#98dc00 87px,#7cd500 90px,#7cd500 129px"></i><i style="--g:#cae800,#c6e700 54px,#8cd900 70px,#6fd200 76px,#96dc00 80px,#9ede00 84px,#94db00 88px,#89d900 89px,#89d900 129px"></i><i style="--g:#c5e600,#c1e600 55px,#91db00 69px,#6cd100 76px,#6cd100 77px,#98dc00 82px,#9d0 87px,#96dc00 129px"></i><i style="--g:#c3e600,#bfe500 55px,#8fda00 69px,#67cf00 77px,#73d300 79px,#96dc00 83px,#98dc00 129px"></i><i style="--g:#bee500,#bae400 56px,#8dda00 69px,#62ce00 78px,#96dc00 85px,#97dc00 129px"></i><i style="--g:#b9e400,#b5e300 57px,#91db00 68px,#5dcd00 79px,#8dda00 85px,#8dda00 129px"></i><i style="--g:#b7e300,#b3e300 57px,#8fda00 68px,#57cb00 80px,#71d200 83px,#71d200 129px"></i><i style="--g:#b2e200,#aee100 58px,#8cd900 68px,#56cb00 80px,#54ca00 81px,#5ccd00 82px,#5ccd00 129px"></i><i style="--g:#b0e200,#ade100 58px,#8fda00 67px,#54ca00 80px,#51c900 129px"></i><i style="--g:#abe100,#a8e000 59px,#8cd900 67px,#52ca00 80px,#52ca00 129px"></i><i style="--g:#a9e000,#a6df00 59px,#8eda00 66px,#53ca00 79px,#53ca00 129px"></i><i style="--g:#a4df00,#a1de00 60px,#90da00 65px,#57cb00 77px,#57cb00 129px"></i><i style="--g:#9fde00,#9cdd00 61px,#7cd500 68px,#58cb00 76px,#58cb00 129px"></i><i style="--g:#9ddd00,#9add00 61px,#58cc00 75px,#58cc00 129px"></i><i style="--g:#98dc00,#94db00 62px,#5dcd00 73px,#5dcd00 129px"></i><i style="--g:#95dc00,#95dc00 61px,#5dcd00 72px,#5dcd00 129px"></i><i style="--g:#89d900,#89d900 62px,#61ce00 70px,#61ce00 129px"></i><i style="--g:#84d700,#84d700 62px,#61ce00 69px,#61ce00 129px"></i><i style="--g:#79d400,#79d400 63px,#65cf00 68px,#65cf00 129px"></i><i style="--g:#6ed100,#6ed100 64px,#64cf00 67px,#64cf00 129px"></i><i style="background:#68d000"></i><i style="background:#68d000"></i><i style="background:#68d000"></i><i style="background:#68d000"></i></b></div>
<div class="cb" style="top:102px;background:linear-gradient(to top,rgb(44,44,140) 0.0%,rgb(48,48,150) 1.5%,rgb(64,64,200) 5.2%,rgb(56,100,240) 8.3%,rgb(60,160,240) 10.0%,rgb(40,230,240) 12.0%,rgb(0,220,170) 14.0%,rgb(0,200,100) 16.5%,rgb(0,180,0) 19.0%,rgb(150,220,0) 21.5%,rgb(240,240,0) 25.0%,rgb(250,190,0) 28.0%,rgb(250,130,0) 31.3%,rgb(230,60,0) 34.3%,rgb(190,0,0) 37.8%,rgb(200,70,90) 41.2%,rgb(230,90,180) 43.0%,rgb(240,130,220) 45.8%,rgb(240,240,240) 49.3%,rgb(232,232,232) 50.0%,rgb(24,24,24) 100.0%)"></div>
<div class="cb" style="top:366px;background:linear-gradient(to top,rgb(44,44,140) 0.0%,rgb(48,48,150) 1.5%,rgb(64,64,200) 5.2%,rgb(56,100,240) 8.3%,rgb(60,160,240) 10.0%,rgb(40,230,240) 12.0%,rgb(0,220,170) 14.0%,rgb(0,200,100) 16.5%,rgb(0,180,0) 19.0%,rgb(150,220,0) 21.5%,rgb(240,240,0) 25.0%,rgb(250,190,0) 28.0%,rgb(250,130,0) 31.3%,rgb(230,60,0) 34.3%,rgb(190,0,0) 37.8%,rgb(200,70,90) 41.2%,rgb(230,90,180) 43.0%,rgb(240,130,220) 45.8%,rgb(240,240,240) 49.3%,rgb(232,232,232) 50.0%,rgb(24,24,24) 100.0%)"></div>
<div id="title">2025-12-03 18:00Z<i style="left:29.1px"></i><i style="left:178.9px"></i><i style="left:307.2px"></i><i style="left:328.6px"></i></div>
<svg class="ab" style="left:0;top:0;will-change:transform" width="960" height="600" viewBox="0 0 960 600">
<circle cx="202" cy="184" r="72" fill="none" stroke="#000" stroke-opacity="0.55" stroke-width="0.8"/>
<path d="M394.1,121.6 A72,72 0 0 1 394.1,246.4" fill="none" stroke="#000" stroke-opacity="0.55" stroke-width="0.8"/>
<circle cx="202" cy="184" r="5.5" fill="#f4f000" stroke="#000" stroke-width="3"/>
<circle cx="358.1" cy="184" r="5.5" fill="#f4f000" stroke="#000" stroke-width="3"/>
<circle cx="248.1" cy="129.6" r="3.3" fill="#e0708c" stroke="#000" stroke-width="1.4"/>
<circle cx="274" cy="184.0" r="3.3" fill="#80cc80" stroke="#000" stroke-width="1.4"/>
<circle cx="202" cy="448" r="72" fill="none" stroke="#000" stroke-opacity="0.55" stroke-width="0.8"/>
<path d="M394.1,385.6 A72,72 0 0 1 394.1,510.4" fill="none" stroke="#000" stroke-opacity="0.55" stroke-width="0.8"/>
<circle cx="202" cy="448" r="5.5" fill="#f4f000" stroke="#000" stroke-width="3"/>
<circle cx="358.1" cy="448" r="5.5" fill="#f4f000" stroke="#000" stroke-width="3"/>
<circle cx="248.1" cy="393.6" r="3.3" fill="#e0708c" stroke="#000" stroke-width="1.4"/>
<circle cx="274" cy="448.0" r="3.3" fill="#80cc80" stroke="#000" stroke-width="1.4"/>
<circle cx="430" cy="180.2" r="3.3" fill="#80cc80" stroke="#000" stroke-width="1.4"/>
<circle cx="430" cy="444.6" r="3.3" fill="#80cc80" stroke="#000" stroke-width="1.4"/>
<path d="M533.3,160.4 L569.4,161.1 L617.5,161.1 L649.2,160.0 L683.1,156.7 L700.6,154.1 L722.5,149.7 L740.0,147.3 L789.7,137.7 L820.3,130.0 L826.9,125.0 L830.2,118.4 L833.4,112.5 L838.9,112.5 L848.8,119.1 L859.7,119.1 L866.3,117.3 L879.4,116.3 L886.0,114.5 L890.3,115.4 L893.6,110.6 L900.2,114.1 L903.4,112.3 L910.0,115.8 L916.6,122.4 L925.3,131.6 L930.8,142.5 L939.5,150.2" fill="none" stroke="#9cf09c" stroke-width="1.1" shape-rendering="crispEdges"/>
<rect x="532.5" y="91.5" width="408.0" height="90.0" fill="none" stroke="#fff" stroke-width="1"/>
<path d="M532.5,163.5 h5 M940.5,163.5 h-5" stroke="#fff" stroke-width="1"/>
<path d="M532.5,145.5 h5 M940.5,145.5 h-5" stroke="#fff" stroke-width="1"/>
<path d="M532.5,127.5 h5 M940.5,127.5 h-5" stroke="#fff" stroke-width="1"/>
<path d="M532.5,109.5 h5 M940.5,109.5 h-5" stroke="#fff" stroke-width="1"/>
<path d="M571.5,181.5 v-5" stroke="#fff" stroke-width="1"/>
<path d="M629.5,181.5 v-5" stroke="#fff" stroke-width="1"/>
<path d="M687.5,181.5 v-5" stroke="#fff" stroke-width="1"/>
<path d="M746.5,181.5 v-5" stroke="#fff" stroke-width="1"/>
<path d="M804.5,181.5 v-5" stroke="#fff" stroke-width="1"/>
<path d="M862.5,181.5 v-5" stroke="#fff" stroke-width="1"/>
<path d="M921.5,181.5 v-5" stroke="#fff" stroke-width="1"/>
<text x="523" y="96.5" text-anchor="end">10</text>
<text x="523" y="132.5" text-anchor="end">6</text>
<text x="523" y="168.5" text-anchor="end">2</text>
<text x="543" y="108.3">EARTH</text>
<rect x="788.9" y="92.0" width="2" height="89.0" fill="#f0f060"/>
<rect x="787.9" y="135.6" width="4" height="4" fill="#e8e840"/>
<path d="M533.3,226.3 L543.1,227.0 L558.4,229.2 L573.8,228.8 L595.6,228.5 L606.6,231.0 L617.5,235.3 L628.4,241.2 L639.4,245.6 L650.3,249.3 L661.3,252.8 L672.2,255.0 L683.1,256.8 L694.1,258.1 L705.0,259.2 L720.3,260.3 L740.0,260.5 L778.8,261.6 L789.7,261.6 L796.3,262.4 L818.1,262.9 L837.8,260.7 L859.7,259.8 L881.6,257.2 L903.5,254.8 L925.3,252.6 L939.5,251.0" fill="none" stroke="#f0a0a0" stroke-width="1.1" shape-rendering="crispEdges"/>
<rect x="532.5" y="193.5" width="408.0" height="90.0" fill="none" stroke="#fff" stroke-width="1"/>
<path d="M532.5,265.5 h5 M940.5,265.5 h-5" stroke="#fff" stroke-width="1"/>
<path d="M532.5,247.5 h5 M940.5,247.5 h-5" stroke="#fff" stroke-width="1"/>
<path d="M532.5,229.5 h5 M940.5,229.5 h-5" stroke="#fff" stroke-width="1"/>
<path d="M532.5,211.5 h5 M940.5,211.5 h-5" stroke="#fff" stroke-width="1"/>
<path d="M571.5,283.5 v-5" stroke="#fff" stroke-width="1"/>
<path d="M629.5,283.5 v-5" stroke="#fff" stroke-width="1"/>
<path d="M687.5,283.5 v-5" stroke="#fff" stroke-width="1"/>
<path d="M746.5,283.5 v-5" stroke="#fff" stroke-width="1"/>
<path d="M804.5,283.5 v-5" stroke="#fff" stroke-width="1"/>
<path d="M862.5,283.5 v-5" stroke="#fff" stroke-width="1"/>
<path d="M921.5,283.5 v-5" stroke="#fff" stroke-width="1"/>
<text x="523" y="198.5" text-anchor="end">10</text>
<text x="523" y="234.5" text-anchor="end">6</text>
<text x="523" y="270.5" text-anchor="end">2</text>
<text x="543" y="210.3">STEREO A</text>
<rect x="788.9" y="194.0" width="2" height="89.0" fill="#f0f060"/>
<rect x="787.9" y="259.6" width="4" height="4" fill="#e8e840"/>
<text x="571.4" y="299.5" text-anchor="middle">30</text>
<text x="629.6" y="299.5" text-anchor="middle">01</text>
<text x="687.9" y="299.5" text-anchor="middle">02</text>
<text x="746.2" y="299.5" text-anchor="middle">03</text>
<text x="804.5" y="299.5" text-anchor="middle">04</text>
<text x="862.8" y="299.5" text-anchor="middle">05</text>
<text x="921.1" y="299.5" text-anchor="middle">06</text>
<path d="M533.3,370.6 L551.9,373.9 L573.8,378.3 L595.6,384.4 L617.5,391.4 L639.4,398.4 L661.3,405.6 L683.1,412.2 L705.0,417.2 L726.9,420.9 L740.0,422.4 L756.9,424.6 L778.8,425.9 L789.7,426.6 L800.6,428.1 L822.5,431.2 L833.4,430.3 L848.8,434.3 L870.6,434.3 L888.1,431.2 L901.3,428.1 L910.0,422.4 L918.8,413.3 L928.6,395.8 L939.5,385.9" fill="none" stroke="#9cf09c" stroke-width="1.1" shape-rendering="crispEdges"/>
<rect x="532.5" y="354.5" width="408.0" height="90.0" fill="none" stroke="#fff" stroke-width="1"/>
<path d="M532.5,422.5 h5 M940.5,422.5 h-5" stroke="#fff" stroke-width="1"/>
<path d="M532.5,399.5 h5 M940.5,399.5 h-5" stroke="#fff" stroke-width="1"/>
<path d="M532.5,377.5 h5 M940.5,377.5 h-5" stroke="#fff" stroke-width="1"/>
<path d="M571.5,444.5 v-5" stroke="#fff" stroke-width="1"/>
<path d="M629.5,444.5 v-5" stroke="#fff" stroke-width="1"/>
<path d="M687.5,444.5 v-5" stroke="#fff" stroke-width="1"/>
<path d="M746.5,444.5 v-5" stroke="#fff" stroke-width="1"/>
<path d="M804.5,444.5 v-5" stroke="#fff" stroke-width="1"/>
<path d="M862.5,444.5 v-5" stroke="#fff" stroke-width="1"/>
<path d="M921.5,444.5 v-5" stroke="#fff" stroke-width="1"/>
<text x="523" y="382.0" text-anchor="end">600</text>
<text x="523" y="427.0" text-anchor="end">400</text>
<text x="543" y="371.3">EARTH</text>
<rect x="788.9" y="355.0" width="2" height="89.0" fill="#f0f060"/>
<rect x="787.9" y="424.6" width="4" height="4" fill="#e8e840"/>
<path d="M533.3,523.3 L540.9,521.3 L551.9,520.6 L565.0,522.2 L584.7,521.9 L595.6,519.5 L606.6,515.2 L617.5,509.7 L628.4,503.6 L639.4,498.1 L650.3,493.9 L661.3,490.0 L672.2,487.2 L683.1,485.6 L694.1,484.1 L716.0,483.0 L740.0,483.4 L756.9,484.5 L778.8,487.4 L789.7,489.3 L811.6,493.3 L833.4,497.7 L855.3,502.7 L877.2,507.5 L899.1,511.0 L921.0,513.0 L939.5,513.4" fill="none" stroke="#f0a0a0" stroke-width="1.1" shape-rendering="crispEdges"/>
<rect x="532.5" y="456.5" width="408.0" height="90.0" fill="none" stroke="#fff" stroke-width="1"/>
<path d="M532.5,524.5 h5 M940.5,524.5 h-5" stroke="#fff" stroke-width="1"/>
<path d="M532.5,501.5 h5 M940.5,501.5 h-5" stroke="#fff" stroke-width="1"/>
<path d="M532.5,479.5 h5 M940.5,479.5 h-5" stroke="#fff" stroke-width="1"/>
<path d="M571.5,546.5 v-5" stroke="#fff" stroke-width="1"/>
<path d="M629.5,546.5 v-5" stroke="#fff" stroke-width="1"/>
<path d="M687.5,546.5 v-5" stroke="#fff" stroke-width="1"/>
<path d="M746.5,546.5 v-5" stroke="#fff" stroke-width="1"/>
<path d="M804.5,546.5 v-5" stroke="#fff" stroke-width="1"/>
<path d="M862.5,546.5 v-5" stroke="#fff" stroke-width="1"/>
<path d="M921.5,546.5 v-5" stroke="#fff" stroke-width="1"/>
<text x="523" y="484.0" text-anchor="end">600</text>
<text x="523" y="529.0" text-anchor="end">400</text>
<text x="543" y="473.3">STEREO A</text>
<rect x="788.9" y="457.0" width="2" height="89.0" fill="#f0f060"/>
<rect x="787.9" y="487.3" width="4" height="4" fill="#e8e840"/>
<text x="571.4" y="562.5" text-anchor="middle">30</text>
<text x="629.6" y="562.5" text-anchor="middle">01</text>
<text x="687.9" y="562.5" text-anchor="middle">02</text>
<text x="746.2" y="562.5" text-anchor="middle">03</text>
<text x="804.5" y="562.5" text-anchor="middle">04</text>
<text x="862.8" y="562.5" text-anchor="middle">05</text>
<text x="921.1" y="562.5" text-anchor="middle">06</text>
<text x="666.3" y="82.7">Plasma Density (/cm<tspan dy="-7.5" font-size="8">3</tspan><tspan dy="7.5">)</tspan></text>
<text x="666" y="346">Radial Velocity (km/s)</text>
<text transform="translate(23.7,265) rotate(-90)">Plasma Density (r<tspan dy="-7" font-size="8">2</tspan><tspan dy="7">N/cm</tspan><tspan dy="-7" font-size="8">3</tspan><tspan dy="7">)</tspan></text>
<text transform="translate(23.7,529) rotate(-90)">Radial Velocity (km/s)</text>
<text x="47.7" y="107.5">60</text><text x="47.7" y="148.5">45</text><text x="47.7" y="189.5">30</text><text x="46.5" y="230.5">15</text><text x="49.5" y="270.5">0</text>
<text x="44" y="371.5">1600</text><text x="44" y="412.5">1250</text><text x="46" y="453.5">900</text><text x="46" y="494.5">550</text><text x="46" y="534.5">200</text>
<rect x="42" y="326" width="9" height="1.2" fill="#ddd"/>
<text x="3" y="595.5">Space Weather Prediction Center</text>
<text x="378.7" y="595.5" xml:space="preserve">Run Time: 2025-12-01 08:00Z  Mode: CME</text>
<text x="733" y="595.5">Image Created: 2025-12-01 10:10Z</text>
</svg>
</body></html>
